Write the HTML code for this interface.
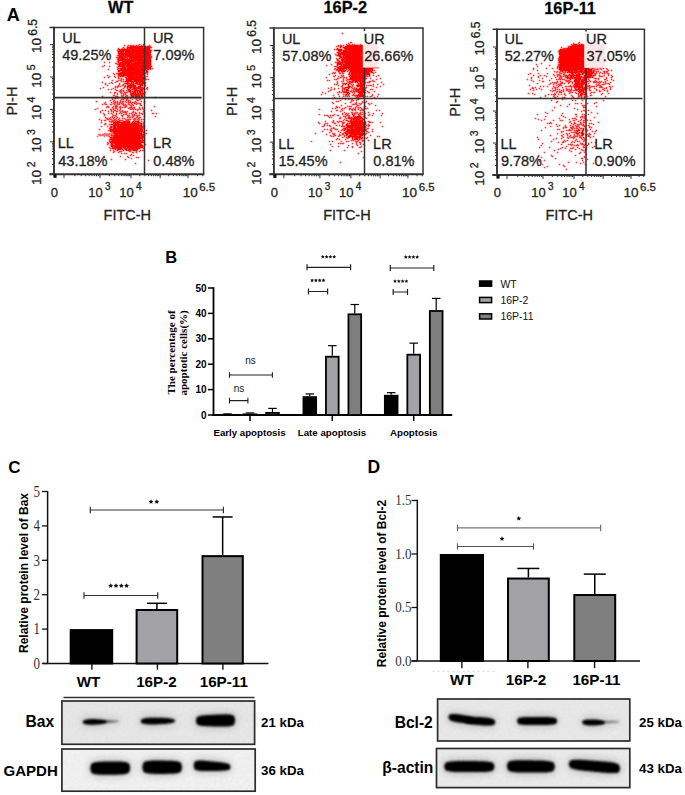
<!DOCTYPE html>
<html><head><meta charset="utf-8"><style>
html,body{margin:0;padding:0;background:#fff;width:685px;height:795px;overflow:hidden}
svg{display:block}
</style></head><body>
<svg width="685" height="795" viewBox="0 0 685 795" font-family="'Liberation Sans', sans-serif">
<defs><filter id="bl" x="-20%" y="-50%" width="140%" height="200%"><feGaussianBlur stdDeviation="1.25"/></filter><filter id="halo" x="-30%" y="-100%" width="160%" height="300%"><feGaussianBlur stdDeviation="5"/></filter><filter id="grain" x="0" y="0" width="100%" height="100%"><feTurbulence type="fractalNoise" baseFrequency="0.35" numOctaves="2" seed="3"/><feColorMatrix values="0 0 0 0 0.5  0 0 0 0 0.5  0 0 0 0 0.5  0 0 0 0.18 0"/><feComposite in2="SourceGraphic" operator="in"/></filter></defs><path d="M129.7 45.7h1.6v1.6h-1.6zM130.7 45.7h1.6v1.6h-1.6zM131.7 45.7h1.6v1.6h-1.6zM132.7 45.7h1.6v1.6h-1.6zM133.7 45.7h1.6v1.6h-1.6zM134.7 45.7h1.6v1.6h-1.6zM135.7 45.7h1.6v1.6h-1.6zM136.7 45.7h1.6v1.6h-1.6zM138.7 45.7h1.6v1.6h-1.6zM139.7 45.7h1.6v1.6h-1.6zM140.7 45.7h1.6v1.6h-1.6zM141.7 45.7h1.6v1.6h-1.6zM142.7 45.7h1.6v1.6h-1.6zM143.7 45.7h1.6v1.6h-1.6zM144.7 45.7h1.6v1.6h-1.6zM146.7 45.7h1.6v1.6h-1.6zM147.7 45.7h1.6v1.6h-1.6zM148.7 45.7h1.6v1.6h-1.6zM126.7 46.7h1.6v1.6h-1.6zM127.7 46.7h1.6v1.6h-1.6zM128.7 46.7h1.6v1.6h-1.6zM129.7 46.7h1.6v1.6h-1.6zM130.7 46.7h1.6v1.6h-1.6zM131.7 46.7h1.6v1.6h-1.6zM132.7 46.7h1.6v1.6h-1.6zM133.7 46.7h1.6v1.6h-1.6zM134.7 46.7h1.6v1.6h-1.6zM135.7 46.7h1.6v1.6h-1.6zM136.7 46.7h1.6v1.6h-1.6zM137.7 46.7h1.6v1.6h-1.6zM138.7 46.7h1.6v1.6h-1.6zM139.7 46.7h1.6v1.6h-1.6zM140.7 46.7h1.6v1.6h-1.6zM141.7 46.7h1.6v1.6h-1.6zM144.7 46.7h1.6v1.6h-1.6zM145.7 46.7h1.6v1.6h-1.6zM146.7 46.7h1.6v1.6h-1.6zM147.7 46.7h1.6v1.6h-1.6zM148.7 46.7h1.6v1.6h-1.6zM149.7 46.7h1.6v1.6h-1.6zM126.7 47.7h1.6v1.6h-1.6zM128.7 47.7h1.6v1.6h-1.6zM129.7 47.7h1.6v1.6h-1.6zM130.7 47.7h1.6v1.6h-1.6zM131.7 47.7h1.6v1.6h-1.6zM132.7 47.7h1.6v1.6h-1.6zM134.7 47.7h1.6v1.6h-1.6zM135.7 47.7h1.6v1.6h-1.6zM136.7 47.7h1.6v1.6h-1.6zM137.7 47.7h1.6v1.6h-1.6zM138.7 47.7h1.6v1.6h-1.6zM139.7 47.7h1.6v1.6h-1.6zM140.7 47.7h1.6v1.6h-1.6zM141.7 47.7h1.6v1.6h-1.6zM142.7 47.7h1.6v1.6h-1.6zM143.7 47.7h1.6v1.6h-1.6zM144.7 47.7h1.6v1.6h-1.6zM145.7 47.7h1.6v1.6h-1.6zM146.7 47.7h1.6v1.6h-1.6zM147.7 47.7h1.6v1.6h-1.6zM148.7 47.7h1.6v1.6h-1.6zM117.7 48.7h1.6v1.6h-1.6zM118.7 48.7h1.6v1.6h-1.6zM120.7 48.7h1.6v1.6h-1.6zM121.7 48.7h1.6v1.6h-1.6zM122.7 48.7h1.6v1.6h-1.6zM123.7 48.7h1.6v1.6h-1.6zM124.7 48.7h1.6v1.6h-1.6zM125.7 48.7h1.6v1.6h-1.6zM126.7 48.7h1.6v1.6h-1.6zM127.7 48.7h1.6v1.6h-1.6zM128.7 48.7h1.6v1.6h-1.6zM130.7 48.7h1.6v1.6h-1.6zM131.7 48.7h1.6v1.6h-1.6zM132.7 48.7h1.6v1.6h-1.6zM133.7 48.7h1.6v1.6h-1.6zM134.7 48.7h1.6v1.6h-1.6zM135.7 48.7h1.6v1.6h-1.6zM137.7 48.7h1.6v1.6h-1.6zM138.7 48.7h1.6v1.6h-1.6zM139.7 48.7h1.6v1.6h-1.6zM140.7 48.7h1.6v1.6h-1.6zM141.7 48.7h1.6v1.6h-1.6zM142.7 48.7h1.6v1.6h-1.6zM143.7 48.7h1.6v1.6h-1.6zM144.7 48.7h1.6v1.6h-1.6zM145.7 48.7h1.6v1.6h-1.6zM146.7 48.7h1.6v1.6h-1.6zM147.7 48.7h1.6v1.6h-1.6zM148.7 48.7h1.6v1.6h-1.6zM118.7 49.7h1.6v1.6h-1.6zM119.7 49.7h1.6v1.6h-1.6zM120.7 49.7h1.6v1.6h-1.6zM121.7 49.7h1.6v1.6h-1.6zM122.7 49.7h1.6v1.6h-1.6zM123.7 49.7h1.6v1.6h-1.6zM124.7 49.7h1.6v1.6h-1.6zM125.7 49.7h1.6v1.6h-1.6zM126.7 49.7h1.6v1.6h-1.6zM127.7 49.7h1.6v1.6h-1.6zM128.7 49.7h1.6v1.6h-1.6zM129.7 49.7h1.6v1.6h-1.6zM130.7 49.7h1.6v1.6h-1.6zM131.7 49.7h1.6v1.6h-1.6zM132.7 49.7h1.6v1.6h-1.6zM133.7 49.7h1.6v1.6h-1.6zM134.7 49.7h1.6v1.6h-1.6zM135.7 49.7h1.6v1.6h-1.6zM136.7 49.7h1.6v1.6h-1.6zM137.7 49.7h1.6v1.6h-1.6zM138.7 49.7h1.6v1.6h-1.6zM139.7 49.7h1.6v1.6h-1.6zM140.7 49.7h1.6v1.6h-1.6zM141.7 49.7h1.6v1.6h-1.6zM142.7 49.7h1.6v1.6h-1.6zM143.7 49.7h1.6v1.6h-1.6zM144.7 49.7h1.6v1.6h-1.6zM145.7 49.7h1.6v1.6h-1.6zM146.7 49.7h1.6v1.6h-1.6zM147.7 49.7h1.6v1.6h-1.6zM148.7 49.7h1.6v1.6h-1.6zM149.7 49.7h1.6v1.6h-1.6zM117.7 50.7h1.6v1.6h-1.6zM118.7 50.7h1.6v1.6h-1.6zM119.7 50.7h1.6v1.6h-1.6zM120.7 50.7h1.6v1.6h-1.6zM121.7 50.7h1.6v1.6h-1.6zM122.7 50.7h1.6v1.6h-1.6zM124.7 50.7h1.6v1.6h-1.6zM125.7 50.7h1.6v1.6h-1.6zM126.7 50.7h1.6v1.6h-1.6zM127.7 50.7h1.6v1.6h-1.6zM128.7 50.7h1.6v1.6h-1.6zM129.7 50.7h1.6v1.6h-1.6zM130.7 50.7h1.6v1.6h-1.6zM131.7 50.7h1.6v1.6h-1.6zM132.7 50.7h1.6v1.6h-1.6zM133.7 50.7h1.6v1.6h-1.6zM134.7 50.7h1.6v1.6h-1.6zM135.7 50.7h1.6v1.6h-1.6zM136.7 50.7h1.6v1.6h-1.6zM137.7 50.7h1.6v1.6h-1.6zM138.7 50.7h1.6v1.6h-1.6zM139.7 50.7h1.6v1.6h-1.6zM140.7 50.7h1.6v1.6h-1.6zM141.7 50.7h1.6v1.6h-1.6zM142.7 50.7h1.6v1.6h-1.6zM143.7 50.7h1.6v1.6h-1.6zM144.7 50.7h1.6v1.6h-1.6zM145.7 50.7h1.6v1.6h-1.6zM146.7 50.7h1.6v1.6h-1.6zM147.7 50.7h1.6v1.6h-1.6zM148.7 50.7h1.6v1.6h-1.6zM149.7 50.7h1.6v1.6h-1.6zM117.7 51.7h1.6v1.6h-1.6zM119.7 51.7h1.6v1.6h-1.6zM120.7 51.7h1.6v1.6h-1.6zM122.7 51.7h1.6v1.6h-1.6zM124.7 51.7h1.6v1.6h-1.6zM125.7 51.7h1.6v1.6h-1.6zM126.7 51.7h1.6v1.6h-1.6zM127.7 51.7h1.6v1.6h-1.6zM128.7 51.7h1.6v1.6h-1.6zM129.7 51.7h1.6v1.6h-1.6zM130.7 51.7h1.6v1.6h-1.6zM131.7 51.7h1.6v1.6h-1.6zM132.7 51.7h1.6v1.6h-1.6zM133.7 51.7h1.6v1.6h-1.6zM134.7 51.7h1.6v1.6h-1.6zM135.7 51.7h1.6v1.6h-1.6zM136.7 51.7h1.6v1.6h-1.6zM137.7 51.7h1.6v1.6h-1.6zM138.7 51.7h1.6v1.6h-1.6zM139.7 51.7h1.6v1.6h-1.6zM140.7 51.7h1.6v1.6h-1.6zM141.7 51.7h1.6v1.6h-1.6zM142.7 51.7h1.6v1.6h-1.6zM143.7 51.7h1.6v1.6h-1.6zM144.7 51.7h1.6v1.6h-1.6zM145.7 51.7h1.6v1.6h-1.6zM146.7 51.7h1.6v1.6h-1.6zM147.7 51.7h1.6v1.6h-1.6zM148.7 51.7h1.6v1.6h-1.6zM149.7 51.7h1.6v1.6h-1.6zM117.7 52.7h1.6v1.6h-1.6zM118.7 52.7h1.6v1.6h-1.6zM119.7 52.7h1.6v1.6h-1.6zM120.7 52.7h1.6v1.6h-1.6zM121.7 52.7h1.6v1.6h-1.6zM122.7 52.7h1.6v1.6h-1.6zM123.7 52.7h1.6v1.6h-1.6zM124.7 52.7h1.6v1.6h-1.6zM125.7 52.7h1.6v1.6h-1.6zM126.7 52.7h1.6v1.6h-1.6zM127.7 52.7h1.6v1.6h-1.6zM128.7 52.7h1.6v1.6h-1.6zM129.7 52.7h1.6v1.6h-1.6zM130.7 52.7h1.6v1.6h-1.6zM131.7 52.7h1.6v1.6h-1.6zM132.7 52.7h1.6v1.6h-1.6zM134.7 52.7h1.6v1.6h-1.6zM135.7 52.7h1.6v1.6h-1.6zM136.7 52.7h1.6v1.6h-1.6zM137.7 52.7h1.6v1.6h-1.6zM138.7 52.7h1.6v1.6h-1.6zM139.7 52.7h1.6v1.6h-1.6zM140.7 52.7h1.6v1.6h-1.6zM141.7 52.7h1.6v1.6h-1.6zM142.7 52.7h1.6v1.6h-1.6zM143.7 52.7h1.6v1.6h-1.6zM144.7 52.7h1.6v1.6h-1.6zM145.7 52.7h1.6v1.6h-1.6zM146.7 52.7h1.6v1.6h-1.6zM147.7 52.7h1.6v1.6h-1.6zM148.7 52.7h1.6v1.6h-1.6zM118.7 53.7h1.6v1.6h-1.6zM120.7 53.7h1.6v1.6h-1.6zM121.7 53.7h1.6v1.6h-1.6zM122.7 53.7h1.6v1.6h-1.6zM123.7 53.7h1.6v1.6h-1.6zM124.7 53.7h1.6v1.6h-1.6zM125.7 53.7h1.6v1.6h-1.6zM126.7 53.7h1.6v1.6h-1.6zM127.7 53.7h1.6v1.6h-1.6zM128.7 53.7h1.6v1.6h-1.6zM129.7 53.7h1.6v1.6h-1.6zM130.7 53.7h1.6v1.6h-1.6zM131.7 53.7h1.6v1.6h-1.6zM132.7 53.7h1.6v1.6h-1.6zM133.7 53.7h1.6v1.6h-1.6zM134.7 53.7h1.6v1.6h-1.6zM135.7 53.7h1.6v1.6h-1.6zM136.7 53.7h1.6v1.6h-1.6zM137.7 53.7h1.6v1.6h-1.6zM138.7 53.7h1.6v1.6h-1.6zM139.7 53.7h1.6v1.6h-1.6zM140.7 53.7h1.6v1.6h-1.6zM141.7 53.7h1.6v1.6h-1.6zM143.7 53.7h1.6v1.6h-1.6zM144.7 53.7h1.6v1.6h-1.6zM145.7 53.7h1.6v1.6h-1.6zM146.7 53.7h1.6v1.6h-1.6zM147.7 53.7h1.6v1.6h-1.6zM148.7 53.7h1.6v1.6h-1.6zM149.7 53.7h1.6v1.6h-1.6zM117.7 54.7h1.6v1.6h-1.6zM118.7 54.7h1.6v1.6h-1.6zM119.7 54.7h1.6v1.6h-1.6zM120.7 54.7h1.6v1.6h-1.6zM121.7 54.7h1.6v1.6h-1.6zM122.7 54.7h1.6v1.6h-1.6zM124.7 54.7h1.6v1.6h-1.6zM125.7 54.7h1.6v1.6h-1.6zM126.7 54.7h1.6v1.6h-1.6zM127.7 54.7h1.6v1.6h-1.6zM128.7 54.7h1.6v1.6h-1.6zM129.7 54.7h1.6v1.6h-1.6zM130.7 54.7h1.6v1.6h-1.6zM131.7 54.7h1.6v1.6h-1.6zM132.7 54.7h1.6v1.6h-1.6zM133.7 54.7h1.6v1.6h-1.6zM134.7 54.7h1.6v1.6h-1.6zM135.7 54.7h1.6v1.6h-1.6zM136.7 54.7h1.6v1.6h-1.6zM137.7 54.7h1.6v1.6h-1.6zM138.7 54.7h1.6v1.6h-1.6zM139.7 54.7h1.6v1.6h-1.6zM140.7 54.7h1.6v1.6h-1.6zM141.7 54.7h1.6v1.6h-1.6zM142.7 54.7h1.6v1.6h-1.6zM144.7 54.7h1.6v1.6h-1.6zM145.7 54.7h1.6v1.6h-1.6zM146.7 54.7h1.6v1.6h-1.6zM147.7 54.7h1.6v1.6h-1.6zM148.7 54.7h1.6v1.6h-1.6zM149.7 54.7h1.6v1.6h-1.6zM118.7 55.7h1.6v1.6h-1.6zM119.7 55.7h1.6v1.6h-1.6zM120.7 55.7h1.6v1.6h-1.6zM121.7 55.7h1.6v1.6h-1.6zM123.7 55.7h1.6v1.6h-1.6zM124.7 55.7h1.6v1.6h-1.6zM126.7 55.7h1.6v1.6h-1.6zM127.7 55.7h1.6v1.6h-1.6zM128.7 55.7h1.6v1.6h-1.6zM129.7 55.7h1.6v1.6h-1.6zM130.7 55.7h1.6v1.6h-1.6zM131.7 55.7h1.6v1.6h-1.6zM132.7 55.7h1.6v1.6h-1.6zM133.7 55.7h1.6v1.6h-1.6zM134.7 55.7h1.6v1.6h-1.6zM135.7 55.7h1.6v1.6h-1.6zM136.7 55.7h1.6v1.6h-1.6zM137.7 55.7h1.6v1.6h-1.6zM138.7 55.7h1.6v1.6h-1.6zM139.7 55.7h1.6v1.6h-1.6zM140.7 55.7h1.6v1.6h-1.6zM141.7 55.7h1.6v1.6h-1.6zM142.7 55.7h1.6v1.6h-1.6zM144.7 55.7h1.6v1.6h-1.6zM145.7 55.7h1.6v1.6h-1.6zM146.7 55.7h1.6v1.6h-1.6zM147.7 55.7h1.6v1.6h-1.6zM148.7 55.7h1.6v1.6h-1.6zM149.7 55.7h1.6v1.6h-1.6zM117.7 56.7h1.6v1.6h-1.6zM118.7 56.7h1.6v1.6h-1.6zM119.7 56.7h1.6v1.6h-1.6zM120.7 56.7h1.6v1.6h-1.6zM121.7 56.7h1.6v1.6h-1.6zM122.7 56.7h1.6v1.6h-1.6zM124.7 56.7h1.6v1.6h-1.6zM125.7 56.7h1.6v1.6h-1.6zM128.7 56.7h1.6v1.6h-1.6zM129.7 56.7h1.6v1.6h-1.6zM130.7 56.7h1.6v1.6h-1.6zM131.7 56.7h1.6v1.6h-1.6zM132.7 56.7h1.6v1.6h-1.6zM133.7 56.7h1.6v1.6h-1.6zM134.7 56.7h1.6v1.6h-1.6zM135.7 56.7h1.6v1.6h-1.6zM136.7 56.7h1.6v1.6h-1.6zM137.7 56.7h1.6v1.6h-1.6zM138.7 56.7h1.6v1.6h-1.6zM139.7 56.7h1.6v1.6h-1.6zM140.7 56.7h1.6v1.6h-1.6zM141.7 56.7h1.6v1.6h-1.6zM142.7 56.7h1.6v1.6h-1.6zM143.7 56.7h1.6v1.6h-1.6zM144.7 56.7h1.6v1.6h-1.6zM145.7 56.7h1.6v1.6h-1.6zM146.7 56.7h1.6v1.6h-1.6zM147.7 56.7h1.6v1.6h-1.6zM148.7 56.7h1.6v1.6h-1.6zM149.7 56.7h1.6v1.6h-1.6zM117.7 57.7h1.6v1.6h-1.6zM118.7 57.7h1.6v1.6h-1.6zM119.7 57.7h1.6v1.6h-1.6zM121.7 57.7h1.6v1.6h-1.6zM122.7 57.7h1.6v1.6h-1.6zM123.7 57.7h1.6v1.6h-1.6zM126.7 57.7h1.6v1.6h-1.6zM128.7 57.7h1.6v1.6h-1.6zM129.7 57.7h1.6v1.6h-1.6zM130.7 57.7h1.6v1.6h-1.6zM131.7 57.7h1.6v1.6h-1.6zM132.7 57.7h1.6v1.6h-1.6zM133.7 57.7h1.6v1.6h-1.6zM134.7 57.7h1.6v1.6h-1.6zM135.7 57.7h1.6v1.6h-1.6zM136.7 57.7h1.6v1.6h-1.6zM137.7 57.7h1.6v1.6h-1.6zM138.7 57.7h1.6v1.6h-1.6zM139.7 57.7h1.6v1.6h-1.6zM140.7 57.7h1.6v1.6h-1.6zM141.7 57.7h1.6v1.6h-1.6zM143.7 57.7h1.6v1.6h-1.6zM144.7 57.7h1.6v1.6h-1.6zM145.7 57.7h1.6v1.6h-1.6zM146.7 57.7h1.6v1.6h-1.6zM147.7 57.7h1.6v1.6h-1.6zM148.7 57.7h1.6v1.6h-1.6zM149.7 57.7h1.6v1.6h-1.6zM117.7 58.7h1.6v1.6h-1.6zM119.7 58.7h1.6v1.6h-1.6zM120.7 58.7h1.6v1.6h-1.6zM121.7 58.7h1.6v1.6h-1.6zM122.7 58.7h1.6v1.6h-1.6zM123.7 58.7h1.6v1.6h-1.6zM124.7 58.7h1.6v1.6h-1.6zM125.7 58.7h1.6v1.6h-1.6zM126.7 58.7h1.6v1.6h-1.6zM127.7 58.7h1.6v1.6h-1.6zM128.7 58.7h1.6v1.6h-1.6zM130.7 58.7h1.6v1.6h-1.6zM131.7 58.7h1.6v1.6h-1.6zM132.7 58.7h1.6v1.6h-1.6zM133.7 58.7h1.6v1.6h-1.6zM134.7 58.7h1.6v1.6h-1.6zM135.7 58.7h1.6v1.6h-1.6zM136.7 58.7h1.6v1.6h-1.6zM137.7 58.7h1.6v1.6h-1.6zM138.7 58.7h1.6v1.6h-1.6zM139.7 58.7h1.6v1.6h-1.6zM140.7 58.7h1.6v1.6h-1.6zM141.7 58.7h1.6v1.6h-1.6zM142.7 58.7h1.6v1.6h-1.6zM143.7 58.7h1.6v1.6h-1.6zM144.7 58.7h1.6v1.6h-1.6zM145.7 58.7h1.6v1.6h-1.6zM146.7 58.7h1.6v1.6h-1.6zM147.7 58.7h1.6v1.6h-1.6zM148.7 58.7h1.6v1.6h-1.6zM149.7 58.7h1.6v1.6h-1.6zM117.7 59.7h1.6v1.6h-1.6zM118.7 59.7h1.6v1.6h-1.6zM119.7 59.7h1.6v1.6h-1.6zM120.7 59.7h1.6v1.6h-1.6zM121.7 59.7h1.6v1.6h-1.6zM122.7 59.7h1.6v1.6h-1.6zM123.7 59.7h1.6v1.6h-1.6zM124.7 59.7h1.6v1.6h-1.6zM126.7 59.7h1.6v1.6h-1.6zM127.7 59.7h1.6v1.6h-1.6zM128.7 59.7h1.6v1.6h-1.6zM129.7 59.7h1.6v1.6h-1.6zM130.7 59.7h1.6v1.6h-1.6zM131.7 59.7h1.6v1.6h-1.6zM132.7 59.7h1.6v1.6h-1.6zM133.7 59.7h1.6v1.6h-1.6zM134.7 59.7h1.6v1.6h-1.6zM135.7 59.7h1.6v1.6h-1.6zM136.7 59.7h1.6v1.6h-1.6zM137.7 59.7h1.6v1.6h-1.6zM138.7 59.7h1.6v1.6h-1.6zM139.7 59.7h1.6v1.6h-1.6zM140.7 59.7h1.6v1.6h-1.6zM141.7 59.7h1.6v1.6h-1.6zM142.7 59.7h1.6v1.6h-1.6zM144.7 59.7h1.6v1.6h-1.6zM145.7 59.7h1.6v1.6h-1.6zM146.7 59.7h1.6v1.6h-1.6zM147.7 59.7h1.6v1.6h-1.6zM148.7 59.7h1.6v1.6h-1.6zM149.7 59.7h1.6v1.6h-1.6zM117.7 60.7h1.6v1.6h-1.6zM121.7 60.7h1.6v1.6h-1.6zM122.7 60.7h1.6v1.6h-1.6zM123.7 60.7h1.6v1.6h-1.6zM124.7 60.7h1.6v1.6h-1.6zM125.7 60.7h1.6v1.6h-1.6zM126.7 60.7h1.6v1.6h-1.6zM127.7 60.7h1.6v1.6h-1.6zM128.7 60.7h1.6v1.6h-1.6zM129.7 60.7h1.6v1.6h-1.6zM130.7 60.7h1.6v1.6h-1.6zM131.7 60.7h1.6v1.6h-1.6zM132.7 60.7h1.6v1.6h-1.6zM133.7 60.7h1.6v1.6h-1.6zM134.7 60.7h1.6v1.6h-1.6zM136.7 60.7h1.6v1.6h-1.6zM137.7 60.7h1.6v1.6h-1.6zM138.7 60.7h1.6v1.6h-1.6zM139.7 60.7h1.6v1.6h-1.6zM140.7 60.7h1.6v1.6h-1.6zM141.7 60.7h1.6v1.6h-1.6zM142.7 60.7h1.6v1.6h-1.6zM143.7 60.7h1.6v1.6h-1.6zM144.7 60.7h1.6v1.6h-1.6zM145.7 60.7h1.6v1.6h-1.6zM146.7 60.7h1.6v1.6h-1.6zM147.7 60.7h1.6v1.6h-1.6zM148.7 60.7h1.6v1.6h-1.6zM149.7 60.7h1.6v1.6h-1.6zM117.7 61.7h1.6v1.6h-1.6zM119.7 61.7h1.6v1.6h-1.6zM120.7 61.7h1.6v1.6h-1.6zM121.7 61.7h1.6v1.6h-1.6zM122.7 61.7h1.6v1.6h-1.6zM124.7 61.7h1.6v1.6h-1.6zM125.7 61.7h1.6v1.6h-1.6zM126.7 61.7h1.6v1.6h-1.6zM127.7 61.7h1.6v1.6h-1.6zM128.7 61.7h1.6v1.6h-1.6zM129.7 61.7h1.6v1.6h-1.6zM130.7 61.7h1.6v1.6h-1.6zM133.7 61.7h1.6v1.6h-1.6zM134.7 61.7h1.6v1.6h-1.6zM135.7 61.7h1.6v1.6h-1.6zM136.7 61.7h1.6v1.6h-1.6zM137.7 61.7h1.6v1.6h-1.6zM138.7 61.7h1.6v1.6h-1.6zM139.7 61.7h1.6v1.6h-1.6zM140.7 61.7h1.6v1.6h-1.6zM141.7 61.7h1.6v1.6h-1.6zM142.7 61.7h1.6v1.6h-1.6zM143.7 61.7h1.6v1.6h-1.6zM144.7 61.7h1.6v1.6h-1.6zM145.7 61.7h1.6v1.6h-1.6zM146.7 61.7h1.6v1.6h-1.6zM147.7 61.7h1.6v1.6h-1.6zM148.7 61.7h1.6v1.6h-1.6zM149.7 61.7h1.6v1.6h-1.6zM118.7 62.7h1.6v1.6h-1.6zM119.7 62.7h1.6v1.6h-1.6zM121.7 62.7h1.6v1.6h-1.6zM122.7 62.7h1.6v1.6h-1.6zM123.7 62.7h1.6v1.6h-1.6zM124.7 62.7h1.6v1.6h-1.6zM125.7 62.7h1.6v1.6h-1.6zM126.7 62.7h1.6v1.6h-1.6zM127.7 62.7h1.6v1.6h-1.6zM128.7 62.7h1.6v1.6h-1.6zM130.7 62.7h1.6v1.6h-1.6zM131.7 62.7h1.6v1.6h-1.6zM132.7 62.7h1.6v1.6h-1.6zM133.7 62.7h1.6v1.6h-1.6zM134.7 62.7h1.6v1.6h-1.6zM135.7 62.7h1.6v1.6h-1.6zM136.7 62.7h1.6v1.6h-1.6zM137.7 62.7h1.6v1.6h-1.6zM138.7 62.7h1.6v1.6h-1.6zM139.7 62.7h1.6v1.6h-1.6zM140.7 62.7h1.6v1.6h-1.6zM141.7 62.7h1.6v1.6h-1.6zM142.7 62.7h1.6v1.6h-1.6zM143.7 62.7h1.6v1.6h-1.6zM144.7 62.7h1.6v1.6h-1.6zM145.7 62.7h1.6v1.6h-1.6zM146.7 62.7h1.6v1.6h-1.6zM147.7 62.7h1.6v1.6h-1.6zM148.7 62.7h1.6v1.6h-1.6zM149.7 62.7h1.6v1.6h-1.6zM117.7 63.7h1.6v1.6h-1.6zM118.7 63.7h1.6v1.6h-1.6zM119.7 63.7h1.6v1.6h-1.6zM120.7 63.7h1.6v1.6h-1.6zM121.7 63.7h1.6v1.6h-1.6zM122.7 63.7h1.6v1.6h-1.6zM123.7 63.7h1.6v1.6h-1.6zM124.7 63.7h1.6v1.6h-1.6zM126.7 63.7h1.6v1.6h-1.6zM127.7 63.7h1.6v1.6h-1.6zM128.7 63.7h1.6v1.6h-1.6zM129.7 63.7h1.6v1.6h-1.6zM130.7 63.7h1.6v1.6h-1.6zM131.7 63.7h1.6v1.6h-1.6zM132.7 63.7h1.6v1.6h-1.6zM133.7 63.7h1.6v1.6h-1.6zM134.7 63.7h1.6v1.6h-1.6zM135.7 63.7h1.6v1.6h-1.6zM136.7 63.7h1.6v1.6h-1.6zM137.7 63.7h1.6v1.6h-1.6zM138.7 63.7h1.6v1.6h-1.6zM140.7 63.7h1.6v1.6h-1.6zM141.7 63.7h1.6v1.6h-1.6zM142.7 63.7h1.6v1.6h-1.6zM143.7 63.7h1.6v1.6h-1.6zM144.7 63.7h1.6v1.6h-1.6zM145.7 63.7h1.6v1.6h-1.6zM146.7 63.7h1.6v1.6h-1.6zM147.7 63.7h1.6v1.6h-1.6zM148.7 63.7h1.6v1.6h-1.6zM149.7 63.7h1.6v1.6h-1.6zM118.7 64.7h1.6v1.6h-1.6zM120.7 64.7h1.6v1.6h-1.6zM121.7 64.7h1.6v1.6h-1.6zM122.7 64.7h1.6v1.6h-1.6zM123.7 64.7h1.6v1.6h-1.6zM125.7 64.7h1.6v1.6h-1.6zM126.7 64.7h1.6v1.6h-1.6zM127.7 64.7h1.6v1.6h-1.6zM128.7 64.7h1.6v1.6h-1.6zM129.7 64.7h1.6v1.6h-1.6zM130.7 64.7h1.6v1.6h-1.6zM131.7 64.7h1.6v1.6h-1.6zM132.7 64.7h1.6v1.6h-1.6zM133.7 64.7h1.6v1.6h-1.6zM134.7 64.7h1.6v1.6h-1.6zM135.7 64.7h1.6v1.6h-1.6zM136.7 64.7h1.6v1.6h-1.6zM137.7 64.7h1.6v1.6h-1.6zM138.7 64.7h1.6v1.6h-1.6zM139.7 64.7h1.6v1.6h-1.6zM140.7 64.7h1.6v1.6h-1.6zM141.7 64.7h1.6v1.6h-1.6zM142.7 64.7h1.6v1.6h-1.6zM144.7 64.7h1.6v1.6h-1.6zM145.7 64.7h1.6v1.6h-1.6zM146.7 64.7h1.6v1.6h-1.6zM147.7 64.7h1.6v1.6h-1.6zM148.7 64.7h1.6v1.6h-1.6zM149.7 64.7h1.6v1.6h-1.6zM117.7 65.7h1.6v1.6h-1.6zM118.7 65.7h1.6v1.6h-1.6zM119.7 65.7h1.6v1.6h-1.6zM120.7 65.7h1.6v1.6h-1.6zM121.7 65.7h1.6v1.6h-1.6zM122.7 65.7h1.6v1.6h-1.6zM123.7 65.7h1.6v1.6h-1.6zM125.7 65.7h1.6v1.6h-1.6zM126.7 65.7h1.6v1.6h-1.6zM127.7 65.7h1.6v1.6h-1.6zM128.7 65.7h1.6v1.6h-1.6zM129.7 65.7h1.6v1.6h-1.6zM130.7 65.7h1.6v1.6h-1.6zM131.7 65.7h1.6v1.6h-1.6zM132.7 65.7h1.6v1.6h-1.6zM133.7 65.7h1.6v1.6h-1.6zM134.7 65.7h1.6v1.6h-1.6zM135.7 65.7h1.6v1.6h-1.6zM137.7 65.7h1.6v1.6h-1.6zM138.7 65.7h1.6v1.6h-1.6zM139.7 65.7h1.6v1.6h-1.6zM140.7 65.7h1.6v1.6h-1.6zM141.7 65.7h1.6v1.6h-1.6zM142.7 65.7h1.6v1.6h-1.6zM143.7 65.7h1.6v1.6h-1.6zM144.7 65.7h1.6v1.6h-1.6zM145.7 65.7h1.6v1.6h-1.6zM146.7 65.7h1.6v1.6h-1.6zM147.7 65.7h1.6v1.6h-1.6zM148.7 65.7h1.6v1.6h-1.6zM149.7 65.7h1.6v1.6h-1.6zM121.7 66.7h1.6v1.6h-1.6zM122.7 66.7h1.6v1.6h-1.6zM123.7 66.7h1.6v1.6h-1.6zM124.7 66.7h1.6v1.6h-1.6zM126.7 66.7h1.6v1.6h-1.6zM127.7 66.7h1.6v1.6h-1.6zM128.7 66.7h1.6v1.6h-1.6zM129.7 66.7h1.6v1.6h-1.6zM130.7 66.7h1.6v1.6h-1.6zM131.7 66.7h1.6v1.6h-1.6zM132.7 66.7h1.6v1.6h-1.6zM133.7 66.7h1.6v1.6h-1.6zM134.7 66.7h1.6v1.6h-1.6zM135.7 66.7h1.6v1.6h-1.6zM136.7 66.7h1.6v1.6h-1.6zM137.7 66.7h1.6v1.6h-1.6zM138.7 66.7h1.6v1.6h-1.6zM139.7 66.7h1.6v1.6h-1.6zM140.7 66.7h1.6v1.6h-1.6zM141.7 66.7h1.6v1.6h-1.6zM142.7 66.7h1.6v1.6h-1.6zM143.7 66.7h1.6v1.6h-1.6zM144.7 66.7h1.6v1.6h-1.6zM145.7 66.7h1.6v1.6h-1.6zM146.7 66.7h1.6v1.6h-1.6zM147.7 66.7h1.6v1.6h-1.6zM148.7 66.7h1.6v1.6h-1.6zM149.7 66.7h1.6v1.6h-1.6zM117.7 67.7h1.6v1.6h-1.6zM119.7 67.7h1.6v1.6h-1.6zM120.7 67.7h1.6v1.6h-1.6zM121.7 67.7h1.6v1.6h-1.6zM122.7 67.7h1.6v1.6h-1.6zM123.7 67.7h1.6v1.6h-1.6zM124.7 67.7h1.6v1.6h-1.6zM126.7 67.7h1.6v1.6h-1.6zM127.7 67.7h1.6v1.6h-1.6zM128.7 67.7h1.6v1.6h-1.6zM129.7 67.7h1.6v1.6h-1.6zM130.7 67.7h1.6v1.6h-1.6zM131.7 67.7h1.6v1.6h-1.6zM132.7 67.7h1.6v1.6h-1.6zM133.7 67.7h1.6v1.6h-1.6zM134.7 67.7h1.6v1.6h-1.6zM135.7 67.7h1.6v1.6h-1.6zM136.7 67.7h1.6v1.6h-1.6zM137.7 67.7h1.6v1.6h-1.6zM139.7 67.7h1.6v1.6h-1.6zM140.7 67.7h1.6v1.6h-1.6zM141.7 67.7h1.6v1.6h-1.6zM142.7 67.7h1.6v1.6h-1.6zM143.7 67.7h1.6v1.6h-1.6zM144.7 67.7h1.6v1.6h-1.6zM145.7 67.7h1.6v1.6h-1.6zM146.7 67.7h1.6v1.6h-1.6zM148.7 67.7h1.6v1.6h-1.6zM149.7 67.7h1.6v1.6h-1.6zM119.7 68.7h1.6v1.6h-1.6zM120.7 68.7h1.6v1.6h-1.6zM121.7 68.7h1.6v1.6h-1.6zM123.7 68.7h1.6v1.6h-1.6zM124.7 68.7h1.6v1.6h-1.6zM125.7 68.7h1.6v1.6h-1.6zM126.7 68.7h1.6v1.6h-1.6zM127.7 68.7h1.6v1.6h-1.6zM128.7 68.7h1.6v1.6h-1.6zM129.7 68.7h1.6v1.6h-1.6zM130.7 68.7h1.6v1.6h-1.6zM131.7 68.7h1.6v1.6h-1.6zM132.7 68.7h1.6v1.6h-1.6zM133.7 68.7h1.6v1.6h-1.6zM134.7 68.7h1.6v1.6h-1.6zM135.7 68.7h1.6v1.6h-1.6zM136.7 68.7h1.6v1.6h-1.6zM137.7 68.7h1.6v1.6h-1.6zM138.7 68.7h1.6v1.6h-1.6zM139.7 68.7h1.6v1.6h-1.6zM140.7 68.7h1.6v1.6h-1.6zM141.7 68.7h1.6v1.6h-1.6zM142.7 68.7h1.6v1.6h-1.6zM143.7 68.7h1.6v1.6h-1.6zM144.7 68.7h1.6v1.6h-1.6zM146.7 68.7h1.6v1.6h-1.6zM147.7 68.7h1.6v1.6h-1.6zM117.7 69.7h1.6v1.6h-1.6zM118.7 69.7h1.6v1.6h-1.6zM119.7 69.7h1.6v1.6h-1.6zM120.7 69.7h1.6v1.6h-1.6zM121.7 69.7h1.6v1.6h-1.6zM122.7 69.7h1.6v1.6h-1.6zM123.7 69.7h1.6v1.6h-1.6zM124.7 69.7h1.6v1.6h-1.6zM125.7 69.7h1.6v1.6h-1.6zM126.7 69.7h1.6v1.6h-1.6zM127.7 69.7h1.6v1.6h-1.6zM128.7 69.7h1.6v1.6h-1.6zM129.7 69.7h1.6v1.6h-1.6zM130.7 69.7h1.6v1.6h-1.6zM131.7 69.7h1.6v1.6h-1.6zM132.7 69.7h1.6v1.6h-1.6zM133.7 69.7h1.6v1.6h-1.6zM134.7 69.7h1.6v1.6h-1.6zM135.7 69.7h1.6v1.6h-1.6zM136.7 69.7h1.6v1.6h-1.6zM137.7 69.7h1.6v1.6h-1.6zM138.7 69.7h1.6v1.6h-1.6zM139.7 69.7h1.6v1.6h-1.6zM140.7 69.7h1.6v1.6h-1.6zM141.7 69.7h1.6v1.6h-1.6zM142.7 69.7h1.6v1.6h-1.6zM143.7 69.7h1.6v1.6h-1.6zM145.7 69.7h1.6v1.6h-1.6zM117.7 70.7h1.6v1.6h-1.6zM118.7 70.7h1.6v1.6h-1.6zM121.7 70.7h1.6v1.6h-1.6zM122.7 70.7h1.6v1.6h-1.6zM123.7 70.7h1.6v1.6h-1.6zM124.7 70.7h1.6v1.6h-1.6zM125.7 70.7h1.6v1.6h-1.6zM126.7 70.7h1.6v1.6h-1.6zM127.7 70.7h1.6v1.6h-1.6zM128.7 70.7h1.6v1.6h-1.6zM129.7 70.7h1.6v1.6h-1.6zM130.7 70.7h1.6v1.6h-1.6zM131.7 70.7h1.6v1.6h-1.6zM133.7 70.7h1.6v1.6h-1.6zM134.7 70.7h1.6v1.6h-1.6zM135.7 70.7h1.6v1.6h-1.6zM136.7 70.7h1.6v1.6h-1.6zM137.7 70.7h1.6v1.6h-1.6zM138.7 70.7h1.6v1.6h-1.6zM139.7 70.7h1.6v1.6h-1.6zM140.7 70.7h1.6v1.6h-1.6zM141.7 70.7h1.6v1.6h-1.6zM142.7 70.7h1.6v1.6h-1.6zM143.7 70.7h1.6v1.6h-1.6zM145.7 70.7h1.6v1.6h-1.6zM146.7 70.7h1.6v1.6h-1.6zM119.7 71.7h1.6v1.6h-1.6zM120.7 71.7h1.6v1.6h-1.6zM121.7 71.7h1.6v1.6h-1.6zM122.7 71.7h1.6v1.6h-1.6zM123.7 71.7h1.6v1.6h-1.6zM124.7 71.7h1.6v1.6h-1.6zM125.7 71.7h1.6v1.6h-1.6zM126.7 71.7h1.6v1.6h-1.6zM127.7 71.7h1.6v1.6h-1.6zM128.7 71.7h1.6v1.6h-1.6zM129.7 71.7h1.6v1.6h-1.6zM130.7 71.7h1.6v1.6h-1.6zM131.7 71.7h1.6v1.6h-1.6zM132.7 71.7h1.6v1.6h-1.6zM133.7 71.7h1.6v1.6h-1.6zM134.7 71.7h1.6v1.6h-1.6zM135.7 71.7h1.6v1.6h-1.6zM136.7 71.7h1.6v1.6h-1.6zM137.7 71.7h1.6v1.6h-1.6zM138.7 71.7h1.6v1.6h-1.6zM139.7 71.7h1.6v1.6h-1.6zM140.7 71.7h1.6v1.6h-1.6zM141.7 71.7h1.6v1.6h-1.6zM142.7 71.7h1.6v1.6h-1.6zM143.7 71.7h1.6v1.6h-1.6zM145.7 71.7h1.6v1.6h-1.6zM117.7 72.7h1.6v1.6h-1.6zM118.7 72.7h1.6v1.6h-1.6zM119.7 72.7h1.6v1.6h-1.6zM120.7 72.7h1.6v1.6h-1.6zM121.7 72.7h1.6v1.6h-1.6zM122.7 72.7h1.6v1.6h-1.6zM123.7 72.7h1.6v1.6h-1.6zM124.7 72.7h1.6v1.6h-1.6zM125.7 72.7h1.6v1.6h-1.6zM126.7 72.7h1.6v1.6h-1.6zM127.7 72.7h1.6v1.6h-1.6zM128.7 72.7h1.6v1.6h-1.6zM129.7 72.7h1.6v1.6h-1.6zM130.7 72.7h1.6v1.6h-1.6zM131.7 72.7h1.6v1.6h-1.6zM132.7 72.7h1.6v1.6h-1.6zM133.7 72.7h1.6v1.6h-1.6zM134.7 72.7h1.6v1.6h-1.6zM135.7 72.7h1.6v1.6h-1.6zM136.7 72.7h1.6v1.6h-1.6zM137.7 72.7h1.6v1.6h-1.6zM138.7 72.7h1.6v1.6h-1.6zM140.7 72.7h1.6v1.6h-1.6zM141.7 72.7h1.6v1.6h-1.6zM142.7 72.7h1.6v1.6h-1.6zM144.7 72.7h1.6v1.6h-1.6zM117.7 73.7h1.6v1.6h-1.6zM118.7 73.7h1.6v1.6h-1.6zM119.7 73.7h1.6v1.6h-1.6zM120.7 73.7h1.6v1.6h-1.6zM122.7 73.7h1.6v1.6h-1.6zM123.7 73.7h1.6v1.6h-1.6zM124.7 73.7h1.6v1.6h-1.6zM125.7 73.7h1.6v1.6h-1.6zM126.7 73.7h1.6v1.6h-1.6zM127.7 73.7h1.6v1.6h-1.6zM128.7 73.7h1.6v1.6h-1.6zM129.7 73.7h1.6v1.6h-1.6zM130.7 73.7h1.6v1.6h-1.6zM131.7 73.7h1.6v1.6h-1.6zM132.7 73.7h1.6v1.6h-1.6zM133.7 73.7h1.6v1.6h-1.6zM134.7 73.7h1.6v1.6h-1.6zM135.7 73.7h1.6v1.6h-1.6zM136.7 73.7h1.6v1.6h-1.6zM137.7 73.7h1.6v1.6h-1.6zM138.7 73.7h1.6v1.6h-1.6zM139.7 73.7h1.6v1.6h-1.6zM140.7 73.7h1.6v1.6h-1.6zM141.7 73.7h1.6v1.6h-1.6zM142.7 73.7h1.6v1.6h-1.6zM117.7 74.7h1.6v1.6h-1.6zM118.7 74.7h1.6v1.6h-1.6zM120.7 74.7h1.6v1.6h-1.6zM121.7 74.7h1.6v1.6h-1.6zM122.7 74.7h1.6v1.6h-1.6zM123.7 74.7h1.6v1.6h-1.6zM124.7 74.7h1.6v1.6h-1.6zM125.7 74.7h1.6v1.6h-1.6zM126.7 74.7h1.6v1.6h-1.6zM127.7 74.7h1.6v1.6h-1.6zM128.7 74.7h1.6v1.6h-1.6zM129.7 74.7h1.6v1.6h-1.6zM130.7 74.7h1.6v1.6h-1.6zM131.7 74.7h1.6v1.6h-1.6zM132.7 74.7h1.6v1.6h-1.6zM134.7 74.7h1.6v1.6h-1.6zM135.7 74.7h1.6v1.6h-1.6zM136.7 74.7h1.6v1.6h-1.6zM138.7 74.7h1.6v1.6h-1.6zM139.7 74.7h1.6v1.6h-1.6zM140.7 74.7h1.6v1.6h-1.6zM141.7 74.7h1.6v1.6h-1.6zM143.7 74.7h1.6v1.6h-1.6zM119.7 75.7h1.6v1.6h-1.6zM121.7 75.7h1.6v1.6h-1.6zM122.7 75.7h1.6v1.6h-1.6zM126.7 75.7h1.6v1.6h-1.6zM127.7 75.7h1.6v1.6h-1.6zM128.7 75.7h1.6v1.6h-1.6zM129.7 75.7h1.6v1.6h-1.6zM130.7 75.7h1.6v1.6h-1.6zM131.7 75.7h1.6v1.6h-1.6zM132.7 75.7h1.6v1.6h-1.6zM133.7 75.7h1.6v1.6h-1.6zM134.7 75.7h1.6v1.6h-1.6zM135.7 75.7h1.6v1.6h-1.6zM136.7 75.7h1.6v1.6h-1.6zM137.7 75.7h1.6v1.6h-1.6zM138.7 75.7h1.6v1.6h-1.6zM139.7 75.7h1.6v1.6h-1.6zM140.7 75.7h1.6v1.6h-1.6zM142.7 75.7h1.6v1.6h-1.6zM125.7 76.7h1.6v1.6h-1.6zM127.7 76.7h1.6v1.6h-1.6zM128.7 76.7h1.6v1.6h-1.6zM129.7 76.7h1.6v1.6h-1.6zM130.7 76.7h1.6v1.6h-1.6zM131.7 76.7h1.6v1.6h-1.6zM132.7 76.7h1.6v1.6h-1.6zM133.7 76.7h1.6v1.6h-1.6zM134.7 76.7h1.6v1.6h-1.6zM135.7 76.7h1.6v1.6h-1.6zM136.7 76.7h1.6v1.6h-1.6zM137.7 76.7h1.6v1.6h-1.6zM138.7 76.7h1.6v1.6h-1.6zM139.7 76.7h1.6v1.6h-1.6zM140.7 76.7h1.6v1.6h-1.6zM141.7 76.7h1.6v1.6h-1.6zM142.7 76.7h1.6v1.6h-1.6zM143.7 76.7h1.6v1.6h-1.6zM125.7 77.7h1.6v1.6h-1.6zM127.7 77.7h1.6v1.6h-1.6zM128.7 77.7h1.6v1.6h-1.6zM129.7 77.7h1.6v1.6h-1.6zM130.7 77.7h1.6v1.6h-1.6zM131.7 77.7h1.6v1.6h-1.6zM132.7 77.7h1.6v1.6h-1.6zM133.7 77.7h1.6v1.6h-1.6zM134.7 77.7h1.6v1.6h-1.6zM135.7 77.7h1.6v1.6h-1.6zM136.7 77.7h1.6v1.6h-1.6zM137.7 77.7h1.6v1.6h-1.6zM138.7 77.7h1.6v1.6h-1.6zM139.7 77.7h1.6v1.6h-1.6zM140.7 77.7h1.6v1.6h-1.6zM141.7 77.7h1.6v1.6h-1.6zM142.7 77.7h1.6v1.6h-1.6zM143.7 77.7h1.6v1.6h-1.6zM125.7 78.7h1.6v1.6h-1.6zM126.7 78.7h1.6v1.6h-1.6zM127.7 78.7h1.6v1.6h-1.6zM128.7 78.7h1.6v1.6h-1.6zM129.7 78.7h1.6v1.6h-1.6zM130.7 78.7h1.6v1.6h-1.6zM131.7 78.7h1.6v1.6h-1.6zM132.7 78.7h1.6v1.6h-1.6zM133.7 78.7h1.6v1.6h-1.6zM134.7 78.7h1.6v1.6h-1.6zM135.7 78.7h1.6v1.6h-1.6zM136.7 78.7h1.6v1.6h-1.6zM137.7 78.7h1.6v1.6h-1.6zM138.7 78.7h1.6v1.6h-1.6zM139.7 78.7h1.6v1.6h-1.6zM140.7 78.7h1.6v1.6h-1.6zM141.7 78.7h1.6v1.6h-1.6zM142.7 78.7h1.6v1.6h-1.6zM125.7 79.7h1.6v1.6h-1.6zM126.7 79.7h1.6v1.6h-1.6zM127.7 79.7h1.6v1.6h-1.6zM128.7 79.7h1.6v1.6h-1.6zM129.7 79.7h1.6v1.6h-1.6zM130.7 79.7h1.6v1.6h-1.6zM133.7 79.7h1.6v1.6h-1.6zM134.7 79.7h1.6v1.6h-1.6zM135.7 79.7h1.6v1.6h-1.6zM136.7 79.7h1.6v1.6h-1.6zM137.7 79.7h1.6v1.6h-1.6zM138.7 79.7h1.6v1.6h-1.6zM139.7 79.7h1.6v1.6h-1.6zM140.7 79.7h1.6v1.6h-1.6zM141.7 79.7h1.6v1.6h-1.6zM143.7 79.7h1.6v1.6h-1.6zM124.7 80.7h1.6v1.6h-1.6zM125.7 80.7h1.6v1.6h-1.6zM126.7 80.7h1.6v1.6h-1.6zM127.7 80.7h1.6v1.6h-1.6zM128.7 80.7h1.6v1.6h-1.6zM129.7 80.7h1.6v1.6h-1.6zM130.7 80.7h1.6v1.6h-1.6zM131.7 80.7h1.6v1.6h-1.6zM132.7 80.7h1.6v1.6h-1.6zM133.7 80.7h1.6v1.6h-1.6zM134.7 80.7h1.6v1.6h-1.6zM135.7 80.7h1.6v1.6h-1.6zM136.7 80.7h1.6v1.6h-1.6zM137.7 80.7h1.6v1.6h-1.6zM138.7 80.7h1.6v1.6h-1.6zM139.7 80.7h1.6v1.6h-1.6zM140.7 80.7h1.6v1.6h-1.6zM141.7 80.7h1.6v1.6h-1.6zM142.7 80.7h1.6v1.6h-1.6zM126.7 81.7h1.6v1.6h-1.6zM130.7 81.7h1.6v1.6h-1.6zM132.7 81.7h1.6v1.6h-1.6zM135.7 81.7h1.6v1.6h-1.6zM136.7 81.7h1.6v1.6h-1.6zM138.7 81.7h1.6v1.6h-1.6zM139.7 81.7h1.6v1.6h-1.6zM141.7 81.7h1.6v1.6h-1.6zM142.7 81.7h1.6v1.6h-1.6zM124.7 82.7h1.6v1.6h-1.6zM125.7 82.7h1.6v1.6h-1.6zM126.7 82.7h1.6v1.6h-1.6zM127.7 82.7h1.6v1.6h-1.6zM128.7 82.7h1.6v1.6h-1.6zM130.7 82.7h1.6v1.6h-1.6zM132.7 82.7h1.6v1.6h-1.6zM134.7 82.7h1.6v1.6h-1.6zM135.7 82.7h1.6v1.6h-1.6zM136.7 82.7h1.6v1.6h-1.6zM138.7 82.7h1.6v1.6h-1.6zM140.7 82.7h1.6v1.6h-1.6zM141.7 82.7h1.6v1.6h-1.6zM142.7 82.7h1.6v1.6h-1.6zM126.7 83.7h1.6v1.6h-1.6zM129.7 83.7h1.6v1.6h-1.6zM131.7 83.7h1.6v1.6h-1.6zM132.7 83.7h1.6v1.6h-1.6zM136.7 83.7h1.6v1.6h-1.6zM137.7 83.7h1.6v1.6h-1.6zM138.7 83.7h1.6v1.6h-1.6zM139.7 83.7h1.6v1.6h-1.6zM140.7 83.7h1.6v1.6h-1.6zM141.7 83.7h1.6v1.6h-1.6zM127.7 84.7h1.6v1.6h-1.6zM128.7 84.7h1.6v1.6h-1.6zM129.7 84.7h1.6v1.6h-1.6zM130.7 84.7h1.6v1.6h-1.6zM132.7 84.7h1.6v1.6h-1.6zM133.7 84.7h1.6v1.6h-1.6zM134.7 84.7h1.6v1.6h-1.6zM139.7 84.7h1.6v1.6h-1.6zM140.7 84.7h1.6v1.6h-1.6zM141.7 84.7h1.6v1.6h-1.6zM126.7 85.7h1.6v1.6h-1.6zM127.7 85.7h1.6v1.6h-1.6zM128.7 85.7h1.6v1.6h-1.6zM129.7 85.7h1.6v1.6h-1.6zM131.7 85.7h1.6v1.6h-1.6zM132.7 85.7h1.6v1.6h-1.6zM133.7 85.7h1.6v1.6h-1.6zM134.7 85.7h1.6v1.6h-1.6zM137.7 85.7h1.6v1.6h-1.6zM138.7 85.7h1.6v1.6h-1.6zM139.7 85.7h1.6v1.6h-1.6zM126.7 86.7h1.6v1.6h-1.6zM128.7 86.7h1.6v1.6h-1.6zM129.7 86.7h1.6v1.6h-1.6zM130.7 86.7h1.6v1.6h-1.6zM132.7 86.7h1.6v1.6h-1.6zM133.7 86.7h1.6v1.6h-1.6zM135.7 86.7h1.6v1.6h-1.6zM137.7 86.7h1.6v1.6h-1.6zM138.7 86.7h1.6v1.6h-1.6zM139.7 86.7h1.6v1.6h-1.6zM141.7 86.7h1.6v1.6h-1.6zM126.7 87.7h1.6v1.6h-1.6zM129.7 87.7h1.6v1.6h-1.6zM132.7 87.7h1.6v1.6h-1.6zM133.7 87.7h1.6v1.6h-1.6zM134.7 87.7h1.6v1.6h-1.6zM136.7 87.7h1.6v1.6h-1.6zM137.7 87.7h1.6v1.6h-1.6zM138.7 87.7h1.6v1.6h-1.6zM140.7 87.7h1.6v1.6h-1.6zM142.7 87.7h1.6v1.6h-1.6zM127.7 88.7h1.6v1.6h-1.6zM128.7 88.7h1.6v1.6h-1.6zM131.7 88.7h1.6v1.6h-1.6zM133.7 88.7h1.6v1.6h-1.6zM135.7 88.7h1.6v1.6h-1.6zM139.7 88.7h1.6v1.6h-1.6zM140.7 88.7h1.6v1.6h-1.6zM141.7 88.7h1.6v1.6h-1.6zM127.7 89.7h1.6v1.6h-1.6zM128.7 89.7h1.6v1.6h-1.6zM129.7 89.7h1.6v1.6h-1.6zM133.7 89.7h1.6v1.6h-1.6zM134.7 89.7h1.6v1.6h-1.6zM135.7 89.7h1.6v1.6h-1.6zM136.7 89.7h1.6v1.6h-1.6zM137.7 89.7h1.6v1.6h-1.6zM138.7 89.7h1.6v1.6h-1.6zM140.7 89.7h1.6v1.6h-1.6zM141.7 89.7h1.6v1.6h-1.6zM128.7 90.7h1.6v1.6h-1.6zM129.7 90.7h1.6v1.6h-1.6zM131.7 90.7h1.6v1.6h-1.6zM133.7 90.7h1.6v1.6h-1.6zM134.7 90.7h1.6v1.6h-1.6zM136.7 90.7h1.6v1.6h-1.6zM138.7 90.7h1.6v1.6h-1.6zM139.7 90.7h1.6v1.6h-1.6zM141.7 90.7h1.6v1.6h-1.6zM129.7 91.7h1.6v1.6h-1.6zM132.7 91.7h1.6v1.6h-1.6zM133.7 91.7h1.6v1.6h-1.6zM134.7 91.7h1.6v1.6h-1.6zM136.7 91.7h1.6v1.6h-1.6zM138.7 91.7h1.6v1.6h-1.6zM139.7 91.7h1.6v1.6h-1.6zM141.7 91.7h1.6v1.6h-1.6zM130.7 92.7h1.6v1.6h-1.6zM131.7 92.7h1.6v1.6h-1.6zM132.7 92.7h1.6v1.6h-1.6zM134.7 92.7h1.6v1.6h-1.6zM136.7 92.7h1.6v1.6h-1.6zM137.7 92.7h1.6v1.6h-1.6zM139.7 92.7h1.6v1.6h-1.6zM141.7 92.7h1.6v1.6h-1.6zM142.7 92.7h1.6v1.6h-1.6zM129.7 93.7h1.6v1.6h-1.6zM130.7 93.7h1.6v1.6h-1.6zM131.7 93.7h1.6v1.6h-1.6zM133.7 93.7h1.6v1.6h-1.6zM134.7 93.7h1.6v1.6h-1.6zM135.7 93.7h1.6v1.6h-1.6zM136.7 93.7h1.6v1.6h-1.6zM137.7 93.7h1.6v1.6h-1.6zM139.7 93.7h1.6v1.6h-1.6zM140.7 93.7h1.6v1.6h-1.6zM141.7 93.7h1.6v1.6h-1.6zM130.7 94.7h1.6v1.6h-1.6zM131.7 94.7h1.6v1.6h-1.6zM132.7 94.7h1.6v1.6h-1.6zM134.7 94.7h1.6v1.6h-1.6zM135.7 94.7h1.6v1.6h-1.6zM137.7 94.7h1.6v1.6h-1.6zM138.7 94.7h1.6v1.6h-1.6zM140.7 94.7h1.6v1.6h-1.6zM141.7 94.7h1.6v1.6h-1.6zM130.7 95.7h1.6v1.6h-1.6zM131.7 95.7h1.6v1.6h-1.6zM132.7 95.7h1.6v1.6h-1.6zM134.7 95.7h1.6v1.6h-1.6zM135.7 95.7h1.6v1.6h-1.6zM136.7 95.7h1.6v1.6h-1.6zM137.7 95.7h1.6v1.6h-1.6zM138.7 95.7h1.6v1.6h-1.6zM140.7 95.7h1.6v1.6h-1.6zM141.7 95.7h1.6v1.6h-1.6zM133.7 96.7h1.6v1.6h-1.6zM136.7 96.7h1.6v1.6h-1.6zM139.7 96.7h1.6v1.6h-1.6zM140.7 96.7h1.6v1.6h-1.6zM114.7 120.7h1.6v1.6h-1.6zM116.7 120.7h1.6v1.6h-1.6zM117.7 120.7h1.6v1.6h-1.6zM118.7 120.7h1.6v1.6h-1.6zM122.7 120.7h1.6v1.6h-1.6zM123.7 120.7h1.6v1.6h-1.6zM124.7 120.7h1.6v1.6h-1.6zM125.7 120.7h1.6v1.6h-1.6zM126.7 120.7h1.6v1.6h-1.6zM127.7 120.7h1.6v1.6h-1.6zM128.7 120.7h1.6v1.6h-1.6zM132.7 120.7h1.6v1.6h-1.6zM134.7 120.7h1.6v1.6h-1.6zM135.7 120.7h1.6v1.6h-1.6zM136.7 120.7h1.6v1.6h-1.6zM137.7 120.7h1.6v1.6h-1.6zM112.7 121.7h1.6v1.6h-1.6zM113.7 121.7h1.6v1.6h-1.6zM114.7 121.7h1.6v1.6h-1.6zM115.7 121.7h1.6v1.6h-1.6zM116.7 121.7h1.6v1.6h-1.6zM117.7 121.7h1.6v1.6h-1.6zM118.7 121.7h1.6v1.6h-1.6zM119.7 121.7h1.6v1.6h-1.6zM120.7 121.7h1.6v1.6h-1.6zM121.7 121.7h1.6v1.6h-1.6zM122.7 121.7h1.6v1.6h-1.6zM123.7 121.7h1.6v1.6h-1.6zM124.7 121.7h1.6v1.6h-1.6zM126.7 121.7h1.6v1.6h-1.6zM127.7 121.7h1.6v1.6h-1.6zM128.7 121.7h1.6v1.6h-1.6zM131.7 121.7h1.6v1.6h-1.6zM133.7 121.7h1.6v1.6h-1.6zM136.7 121.7h1.6v1.6h-1.6zM137.7 121.7h1.6v1.6h-1.6zM138.7 121.7h1.6v1.6h-1.6zM112.7 122.7h1.6v1.6h-1.6zM114.7 122.7h1.6v1.6h-1.6zM116.7 122.7h1.6v1.6h-1.6zM117.7 122.7h1.6v1.6h-1.6zM120.7 122.7h1.6v1.6h-1.6zM121.7 122.7h1.6v1.6h-1.6zM122.7 122.7h1.6v1.6h-1.6zM123.7 122.7h1.6v1.6h-1.6zM124.7 122.7h1.6v1.6h-1.6zM125.7 122.7h1.6v1.6h-1.6zM126.7 122.7h1.6v1.6h-1.6zM127.7 122.7h1.6v1.6h-1.6zM128.7 122.7h1.6v1.6h-1.6zM130.7 122.7h1.6v1.6h-1.6zM131.7 122.7h1.6v1.6h-1.6zM132.7 122.7h1.6v1.6h-1.6zM133.7 122.7h1.6v1.6h-1.6zM134.7 122.7h1.6v1.6h-1.6zM135.7 122.7h1.6v1.6h-1.6zM137.7 122.7h1.6v1.6h-1.6zM139.7 122.7h1.6v1.6h-1.6zM140.7 122.7h1.6v1.6h-1.6zM110.7 123.7h1.6v1.6h-1.6zM111.7 123.7h1.6v1.6h-1.6zM113.7 123.7h1.6v1.6h-1.6zM114.7 123.7h1.6v1.6h-1.6zM115.7 123.7h1.6v1.6h-1.6zM116.7 123.7h1.6v1.6h-1.6zM117.7 123.7h1.6v1.6h-1.6zM118.7 123.7h1.6v1.6h-1.6zM119.7 123.7h1.6v1.6h-1.6zM120.7 123.7h1.6v1.6h-1.6zM121.7 123.7h1.6v1.6h-1.6zM122.7 123.7h1.6v1.6h-1.6zM123.7 123.7h1.6v1.6h-1.6zM124.7 123.7h1.6v1.6h-1.6zM125.7 123.7h1.6v1.6h-1.6zM126.7 123.7h1.6v1.6h-1.6zM127.7 123.7h1.6v1.6h-1.6zM128.7 123.7h1.6v1.6h-1.6zM129.7 123.7h1.6v1.6h-1.6zM130.7 123.7h1.6v1.6h-1.6zM131.7 123.7h1.6v1.6h-1.6zM133.7 123.7h1.6v1.6h-1.6zM134.7 123.7h1.6v1.6h-1.6zM135.7 123.7h1.6v1.6h-1.6zM136.7 123.7h1.6v1.6h-1.6zM137.7 123.7h1.6v1.6h-1.6zM140.7 123.7h1.6v1.6h-1.6zM112.7 124.7h1.6v1.6h-1.6zM113.7 124.7h1.6v1.6h-1.6zM114.7 124.7h1.6v1.6h-1.6zM115.7 124.7h1.6v1.6h-1.6zM116.7 124.7h1.6v1.6h-1.6zM117.7 124.7h1.6v1.6h-1.6zM119.7 124.7h1.6v1.6h-1.6zM120.7 124.7h1.6v1.6h-1.6zM121.7 124.7h1.6v1.6h-1.6zM122.7 124.7h1.6v1.6h-1.6zM123.7 124.7h1.6v1.6h-1.6zM124.7 124.7h1.6v1.6h-1.6zM125.7 124.7h1.6v1.6h-1.6zM126.7 124.7h1.6v1.6h-1.6zM127.7 124.7h1.6v1.6h-1.6zM128.7 124.7h1.6v1.6h-1.6zM129.7 124.7h1.6v1.6h-1.6zM130.7 124.7h1.6v1.6h-1.6zM131.7 124.7h1.6v1.6h-1.6zM132.7 124.7h1.6v1.6h-1.6zM133.7 124.7h1.6v1.6h-1.6zM134.7 124.7h1.6v1.6h-1.6zM135.7 124.7h1.6v1.6h-1.6zM136.7 124.7h1.6v1.6h-1.6zM137.7 124.7h1.6v1.6h-1.6zM138.7 124.7h1.6v1.6h-1.6zM139.7 124.7h1.6v1.6h-1.6zM140.7 124.7h1.6v1.6h-1.6zM110.7 125.7h1.6v1.6h-1.6zM112.7 125.7h1.6v1.6h-1.6zM113.7 125.7h1.6v1.6h-1.6zM114.7 125.7h1.6v1.6h-1.6zM116.7 125.7h1.6v1.6h-1.6zM117.7 125.7h1.6v1.6h-1.6zM118.7 125.7h1.6v1.6h-1.6zM119.7 125.7h1.6v1.6h-1.6zM120.7 125.7h1.6v1.6h-1.6zM121.7 125.7h1.6v1.6h-1.6zM122.7 125.7h1.6v1.6h-1.6zM123.7 125.7h1.6v1.6h-1.6zM124.7 125.7h1.6v1.6h-1.6zM125.7 125.7h1.6v1.6h-1.6zM126.7 125.7h1.6v1.6h-1.6zM127.7 125.7h1.6v1.6h-1.6zM128.7 125.7h1.6v1.6h-1.6zM129.7 125.7h1.6v1.6h-1.6zM130.7 125.7h1.6v1.6h-1.6zM131.7 125.7h1.6v1.6h-1.6zM132.7 125.7h1.6v1.6h-1.6zM133.7 125.7h1.6v1.6h-1.6zM134.7 125.7h1.6v1.6h-1.6zM135.7 125.7h1.6v1.6h-1.6zM136.7 125.7h1.6v1.6h-1.6zM137.7 125.7h1.6v1.6h-1.6zM139.7 125.7h1.6v1.6h-1.6zM140.7 125.7h1.6v1.6h-1.6zM141.7 125.7h1.6v1.6h-1.6zM109.7 126.7h1.6v1.6h-1.6zM110.7 126.7h1.6v1.6h-1.6zM112.7 126.7h1.6v1.6h-1.6zM113.7 126.7h1.6v1.6h-1.6zM114.7 126.7h1.6v1.6h-1.6zM116.7 126.7h1.6v1.6h-1.6zM117.7 126.7h1.6v1.6h-1.6zM118.7 126.7h1.6v1.6h-1.6zM119.7 126.7h1.6v1.6h-1.6zM120.7 126.7h1.6v1.6h-1.6zM121.7 126.7h1.6v1.6h-1.6zM122.7 126.7h1.6v1.6h-1.6zM123.7 126.7h1.6v1.6h-1.6zM124.7 126.7h1.6v1.6h-1.6zM125.7 126.7h1.6v1.6h-1.6zM126.7 126.7h1.6v1.6h-1.6zM127.7 126.7h1.6v1.6h-1.6zM128.7 126.7h1.6v1.6h-1.6zM129.7 126.7h1.6v1.6h-1.6zM130.7 126.7h1.6v1.6h-1.6zM131.7 126.7h1.6v1.6h-1.6zM132.7 126.7h1.6v1.6h-1.6zM133.7 126.7h1.6v1.6h-1.6zM134.7 126.7h1.6v1.6h-1.6zM135.7 126.7h1.6v1.6h-1.6zM136.7 126.7h1.6v1.6h-1.6zM137.7 126.7h1.6v1.6h-1.6zM138.7 126.7h1.6v1.6h-1.6zM140.7 126.7h1.6v1.6h-1.6zM141.7 126.7h1.6v1.6h-1.6zM109.7 127.7h1.6v1.6h-1.6zM112.7 127.7h1.6v1.6h-1.6zM113.7 127.7h1.6v1.6h-1.6zM114.7 127.7h1.6v1.6h-1.6zM115.7 127.7h1.6v1.6h-1.6zM116.7 127.7h1.6v1.6h-1.6zM117.7 127.7h1.6v1.6h-1.6zM118.7 127.7h1.6v1.6h-1.6zM119.7 127.7h1.6v1.6h-1.6zM120.7 127.7h1.6v1.6h-1.6zM121.7 127.7h1.6v1.6h-1.6zM122.7 127.7h1.6v1.6h-1.6zM123.7 127.7h1.6v1.6h-1.6zM124.7 127.7h1.6v1.6h-1.6zM125.7 127.7h1.6v1.6h-1.6zM126.7 127.7h1.6v1.6h-1.6zM127.7 127.7h1.6v1.6h-1.6zM128.7 127.7h1.6v1.6h-1.6zM129.7 127.7h1.6v1.6h-1.6zM130.7 127.7h1.6v1.6h-1.6zM131.7 127.7h1.6v1.6h-1.6zM132.7 127.7h1.6v1.6h-1.6zM133.7 127.7h1.6v1.6h-1.6zM134.7 127.7h1.6v1.6h-1.6zM135.7 127.7h1.6v1.6h-1.6zM136.7 127.7h1.6v1.6h-1.6zM137.7 127.7h1.6v1.6h-1.6zM138.7 127.7h1.6v1.6h-1.6zM139.7 127.7h1.6v1.6h-1.6zM140.7 127.7h1.6v1.6h-1.6zM109.7 128.7h1.6v1.6h-1.6zM110.7 128.7h1.6v1.6h-1.6zM111.7 128.7h1.6v1.6h-1.6zM112.7 128.7h1.6v1.6h-1.6zM113.7 128.7h1.6v1.6h-1.6zM114.7 128.7h1.6v1.6h-1.6zM115.7 128.7h1.6v1.6h-1.6zM116.7 128.7h1.6v1.6h-1.6zM117.7 128.7h1.6v1.6h-1.6zM118.7 128.7h1.6v1.6h-1.6zM119.7 128.7h1.6v1.6h-1.6zM120.7 128.7h1.6v1.6h-1.6zM121.7 128.7h1.6v1.6h-1.6zM122.7 128.7h1.6v1.6h-1.6zM123.7 128.7h1.6v1.6h-1.6zM124.7 128.7h1.6v1.6h-1.6zM125.7 128.7h1.6v1.6h-1.6zM126.7 128.7h1.6v1.6h-1.6zM127.7 128.7h1.6v1.6h-1.6zM128.7 128.7h1.6v1.6h-1.6zM129.7 128.7h1.6v1.6h-1.6zM130.7 128.7h1.6v1.6h-1.6zM131.7 128.7h1.6v1.6h-1.6zM132.7 128.7h1.6v1.6h-1.6zM133.7 128.7h1.6v1.6h-1.6zM134.7 128.7h1.6v1.6h-1.6zM135.7 128.7h1.6v1.6h-1.6zM136.7 128.7h1.6v1.6h-1.6zM137.7 128.7h1.6v1.6h-1.6zM139.7 128.7h1.6v1.6h-1.6zM140.7 128.7h1.6v1.6h-1.6zM141.7 128.7h1.6v1.6h-1.6zM109.7 129.7h1.6v1.6h-1.6zM111.7 129.7h1.6v1.6h-1.6zM112.7 129.7h1.6v1.6h-1.6zM113.7 129.7h1.6v1.6h-1.6zM114.7 129.7h1.6v1.6h-1.6zM115.7 129.7h1.6v1.6h-1.6zM116.7 129.7h1.6v1.6h-1.6zM117.7 129.7h1.6v1.6h-1.6zM118.7 129.7h1.6v1.6h-1.6zM119.7 129.7h1.6v1.6h-1.6zM120.7 129.7h1.6v1.6h-1.6zM121.7 129.7h1.6v1.6h-1.6zM122.7 129.7h1.6v1.6h-1.6zM123.7 129.7h1.6v1.6h-1.6zM124.7 129.7h1.6v1.6h-1.6zM125.7 129.7h1.6v1.6h-1.6zM126.7 129.7h1.6v1.6h-1.6zM127.7 129.7h1.6v1.6h-1.6zM128.7 129.7h1.6v1.6h-1.6zM129.7 129.7h1.6v1.6h-1.6zM130.7 129.7h1.6v1.6h-1.6zM131.7 129.7h1.6v1.6h-1.6zM132.7 129.7h1.6v1.6h-1.6zM133.7 129.7h1.6v1.6h-1.6zM134.7 129.7h1.6v1.6h-1.6zM135.7 129.7h1.6v1.6h-1.6zM136.7 129.7h1.6v1.6h-1.6zM137.7 129.7h1.6v1.6h-1.6zM138.7 129.7h1.6v1.6h-1.6zM139.7 129.7h1.6v1.6h-1.6zM141.7 129.7h1.6v1.6h-1.6zM109.7 130.7h1.6v1.6h-1.6zM110.7 130.7h1.6v1.6h-1.6zM111.7 130.7h1.6v1.6h-1.6zM112.7 130.7h1.6v1.6h-1.6zM113.7 130.7h1.6v1.6h-1.6zM114.7 130.7h1.6v1.6h-1.6zM115.7 130.7h1.6v1.6h-1.6zM116.7 130.7h1.6v1.6h-1.6zM117.7 130.7h1.6v1.6h-1.6zM118.7 130.7h1.6v1.6h-1.6zM119.7 130.7h1.6v1.6h-1.6zM120.7 130.7h1.6v1.6h-1.6zM121.7 130.7h1.6v1.6h-1.6zM122.7 130.7h1.6v1.6h-1.6zM123.7 130.7h1.6v1.6h-1.6zM124.7 130.7h1.6v1.6h-1.6zM125.7 130.7h1.6v1.6h-1.6zM126.7 130.7h1.6v1.6h-1.6zM127.7 130.7h1.6v1.6h-1.6zM128.7 130.7h1.6v1.6h-1.6zM129.7 130.7h1.6v1.6h-1.6zM130.7 130.7h1.6v1.6h-1.6zM131.7 130.7h1.6v1.6h-1.6zM132.7 130.7h1.6v1.6h-1.6zM133.7 130.7h1.6v1.6h-1.6zM134.7 130.7h1.6v1.6h-1.6zM135.7 130.7h1.6v1.6h-1.6zM136.7 130.7h1.6v1.6h-1.6zM138.7 130.7h1.6v1.6h-1.6zM139.7 130.7h1.6v1.6h-1.6zM140.7 130.7h1.6v1.6h-1.6zM141.7 130.7h1.6v1.6h-1.6zM111.7 131.7h1.6v1.6h-1.6zM112.7 131.7h1.6v1.6h-1.6zM113.7 131.7h1.6v1.6h-1.6zM114.7 131.7h1.6v1.6h-1.6zM115.7 131.7h1.6v1.6h-1.6zM116.7 131.7h1.6v1.6h-1.6zM117.7 131.7h1.6v1.6h-1.6zM118.7 131.7h1.6v1.6h-1.6zM119.7 131.7h1.6v1.6h-1.6zM120.7 131.7h1.6v1.6h-1.6zM121.7 131.7h1.6v1.6h-1.6zM122.7 131.7h1.6v1.6h-1.6zM123.7 131.7h1.6v1.6h-1.6zM124.7 131.7h1.6v1.6h-1.6zM125.7 131.7h1.6v1.6h-1.6zM126.7 131.7h1.6v1.6h-1.6zM127.7 131.7h1.6v1.6h-1.6zM128.7 131.7h1.6v1.6h-1.6zM129.7 131.7h1.6v1.6h-1.6zM130.7 131.7h1.6v1.6h-1.6zM131.7 131.7h1.6v1.6h-1.6zM132.7 131.7h1.6v1.6h-1.6zM133.7 131.7h1.6v1.6h-1.6zM134.7 131.7h1.6v1.6h-1.6zM135.7 131.7h1.6v1.6h-1.6zM136.7 131.7h1.6v1.6h-1.6zM137.7 131.7h1.6v1.6h-1.6zM138.7 131.7h1.6v1.6h-1.6zM140.7 131.7h1.6v1.6h-1.6zM142.7 131.7h1.6v1.6h-1.6zM111.7 132.7h1.6v1.6h-1.6zM112.7 132.7h1.6v1.6h-1.6zM113.7 132.7h1.6v1.6h-1.6zM114.7 132.7h1.6v1.6h-1.6zM115.7 132.7h1.6v1.6h-1.6zM116.7 132.7h1.6v1.6h-1.6zM117.7 132.7h1.6v1.6h-1.6zM118.7 132.7h1.6v1.6h-1.6zM119.7 132.7h1.6v1.6h-1.6zM120.7 132.7h1.6v1.6h-1.6zM121.7 132.7h1.6v1.6h-1.6zM122.7 132.7h1.6v1.6h-1.6zM123.7 132.7h1.6v1.6h-1.6zM124.7 132.7h1.6v1.6h-1.6zM125.7 132.7h1.6v1.6h-1.6zM126.7 132.7h1.6v1.6h-1.6zM127.7 132.7h1.6v1.6h-1.6zM128.7 132.7h1.6v1.6h-1.6zM129.7 132.7h1.6v1.6h-1.6zM130.7 132.7h1.6v1.6h-1.6zM131.7 132.7h1.6v1.6h-1.6zM132.7 132.7h1.6v1.6h-1.6zM133.7 132.7h1.6v1.6h-1.6zM134.7 132.7h1.6v1.6h-1.6zM135.7 132.7h1.6v1.6h-1.6zM136.7 132.7h1.6v1.6h-1.6zM137.7 132.7h1.6v1.6h-1.6zM138.7 132.7h1.6v1.6h-1.6zM139.7 132.7h1.6v1.6h-1.6zM140.7 132.7h1.6v1.6h-1.6zM110.7 133.7h1.6v1.6h-1.6zM111.7 133.7h1.6v1.6h-1.6zM112.7 133.7h1.6v1.6h-1.6zM113.7 133.7h1.6v1.6h-1.6zM114.7 133.7h1.6v1.6h-1.6zM115.7 133.7h1.6v1.6h-1.6zM116.7 133.7h1.6v1.6h-1.6zM118.7 133.7h1.6v1.6h-1.6zM119.7 133.7h1.6v1.6h-1.6zM120.7 133.7h1.6v1.6h-1.6zM121.7 133.7h1.6v1.6h-1.6zM122.7 133.7h1.6v1.6h-1.6zM123.7 133.7h1.6v1.6h-1.6zM124.7 133.7h1.6v1.6h-1.6zM125.7 133.7h1.6v1.6h-1.6zM126.7 133.7h1.6v1.6h-1.6zM127.7 133.7h1.6v1.6h-1.6zM128.7 133.7h1.6v1.6h-1.6zM129.7 133.7h1.6v1.6h-1.6zM130.7 133.7h1.6v1.6h-1.6zM131.7 133.7h1.6v1.6h-1.6zM132.7 133.7h1.6v1.6h-1.6zM133.7 133.7h1.6v1.6h-1.6zM134.7 133.7h1.6v1.6h-1.6zM135.7 133.7h1.6v1.6h-1.6zM136.7 133.7h1.6v1.6h-1.6zM137.7 133.7h1.6v1.6h-1.6zM138.7 133.7h1.6v1.6h-1.6zM139.7 133.7h1.6v1.6h-1.6zM140.7 133.7h1.6v1.6h-1.6zM141.7 133.7h1.6v1.6h-1.6zM142.7 133.7h1.6v1.6h-1.6zM110.7 134.7h1.6v1.6h-1.6zM111.7 134.7h1.6v1.6h-1.6zM112.7 134.7h1.6v1.6h-1.6zM113.7 134.7h1.6v1.6h-1.6zM114.7 134.7h1.6v1.6h-1.6zM115.7 134.7h1.6v1.6h-1.6zM116.7 134.7h1.6v1.6h-1.6zM117.7 134.7h1.6v1.6h-1.6zM118.7 134.7h1.6v1.6h-1.6zM119.7 134.7h1.6v1.6h-1.6zM120.7 134.7h1.6v1.6h-1.6zM121.7 134.7h1.6v1.6h-1.6zM122.7 134.7h1.6v1.6h-1.6zM123.7 134.7h1.6v1.6h-1.6zM124.7 134.7h1.6v1.6h-1.6zM125.7 134.7h1.6v1.6h-1.6zM126.7 134.7h1.6v1.6h-1.6zM127.7 134.7h1.6v1.6h-1.6zM128.7 134.7h1.6v1.6h-1.6zM129.7 134.7h1.6v1.6h-1.6zM130.7 134.7h1.6v1.6h-1.6zM131.7 134.7h1.6v1.6h-1.6zM132.7 134.7h1.6v1.6h-1.6zM133.7 134.7h1.6v1.6h-1.6zM134.7 134.7h1.6v1.6h-1.6zM135.7 134.7h1.6v1.6h-1.6zM136.7 134.7h1.6v1.6h-1.6zM137.7 134.7h1.6v1.6h-1.6zM138.7 134.7h1.6v1.6h-1.6zM139.7 134.7h1.6v1.6h-1.6zM140.7 134.7h1.6v1.6h-1.6zM142.7 134.7h1.6v1.6h-1.6zM111.7 135.7h1.6v1.6h-1.6zM112.7 135.7h1.6v1.6h-1.6zM113.7 135.7h1.6v1.6h-1.6zM114.7 135.7h1.6v1.6h-1.6zM115.7 135.7h1.6v1.6h-1.6zM116.7 135.7h1.6v1.6h-1.6zM117.7 135.7h1.6v1.6h-1.6zM118.7 135.7h1.6v1.6h-1.6zM119.7 135.7h1.6v1.6h-1.6zM120.7 135.7h1.6v1.6h-1.6zM121.7 135.7h1.6v1.6h-1.6zM122.7 135.7h1.6v1.6h-1.6zM123.7 135.7h1.6v1.6h-1.6zM124.7 135.7h1.6v1.6h-1.6zM125.7 135.7h1.6v1.6h-1.6zM126.7 135.7h1.6v1.6h-1.6zM127.7 135.7h1.6v1.6h-1.6zM128.7 135.7h1.6v1.6h-1.6zM129.7 135.7h1.6v1.6h-1.6zM130.7 135.7h1.6v1.6h-1.6zM131.7 135.7h1.6v1.6h-1.6zM132.7 135.7h1.6v1.6h-1.6zM133.7 135.7h1.6v1.6h-1.6zM134.7 135.7h1.6v1.6h-1.6zM135.7 135.7h1.6v1.6h-1.6zM136.7 135.7h1.6v1.6h-1.6zM137.7 135.7h1.6v1.6h-1.6zM138.7 135.7h1.6v1.6h-1.6zM140.7 135.7h1.6v1.6h-1.6zM141.7 135.7h1.6v1.6h-1.6zM142.7 135.7h1.6v1.6h-1.6zM109.7 136.7h1.6v1.6h-1.6zM110.7 136.7h1.6v1.6h-1.6zM111.7 136.7h1.6v1.6h-1.6zM112.7 136.7h1.6v1.6h-1.6zM113.7 136.7h1.6v1.6h-1.6zM114.7 136.7h1.6v1.6h-1.6zM115.7 136.7h1.6v1.6h-1.6zM116.7 136.7h1.6v1.6h-1.6zM117.7 136.7h1.6v1.6h-1.6zM118.7 136.7h1.6v1.6h-1.6zM119.7 136.7h1.6v1.6h-1.6zM120.7 136.7h1.6v1.6h-1.6zM121.7 136.7h1.6v1.6h-1.6zM122.7 136.7h1.6v1.6h-1.6zM123.7 136.7h1.6v1.6h-1.6zM124.7 136.7h1.6v1.6h-1.6zM125.7 136.7h1.6v1.6h-1.6zM126.7 136.7h1.6v1.6h-1.6zM127.7 136.7h1.6v1.6h-1.6zM128.7 136.7h1.6v1.6h-1.6zM129.7 136.7h1.6v1.6h-1.6zM130.7 136.7h1.6v1.6h-1.6zM131.7 136.7h1.6v1.6h-1.6zM132.7 136.7h1.6v1.6h-1.6zM133.7 136.7h1.6v1.6h-1.6zM134.7 136.7h1.6v1.6h-1.6zM135.7 136.7h1.6v1.6h-1.6zM136.7 136.7h1.6v1.6h-1.6zM137.7 136.7h1.6v1.6h-1.6zM138.7 136.7h1.6v1.6h-1.6zM139.7 136.7h1.6v1.6h-1.6zM140.7 136.7h1.6v1.6h-1.6zM141.7 136.7h1.6v1.6h-1.6zM142.7 136.7h1.6v1.6h-1.6zM110.7 137.7h1.6v1.6h-1.6zM112.7 137.7h1.6v1.6h-1.6zM113.7 137.7h1.6v1.6h-1.6zM114.7 137.7h1.6v1.6h-1.6zM115.7 137.7h1.6v1.6h-1.6zM116.7 137.7h1.6v1.6h-1.6zM117.7 137.7h1.6v1.6h-1.6zM118.7 137.7h1.6v1.6h-1.6zM119.7 137.7h1.6v1.6h-1.6zM120.7 137.7h1.6v1.6h-1.6zM121.7 137.7h1.6v1.6h-1.6zM122.7 137.7h1.6v1.6h-1.6zM123.7 137.7h1.6v1.6h-1.6zM124.7 137.7h1.6v1.6h-1.6zM125.7 137.7h1.6v1.6h-1.6zM126.7 137.7h1.6v1.6h-1.6zM127.7 137.7h1.6v1.6h-1.6zM128.7 137.7h1.6v1.6h-1.6zM129.7 137.7h1.6v1.6h-1.6zM130.7 137.7h1.6v1.6h-1.6zM131.7 137.7h1.6v1.6h-1.6zM132.7 137.7h1.6v1.6h-1.6zM133.7 137.7h1.6v1.6h-1.6zM134.7 137.7h1.6v1.6h-1.6zM135.7 137.7h1.6v1.6h-1.6zM136.7 137.7h1.6v1.6h-1.6zM137.7 137.7h1.6v1.6h-1.6zM138.7 137.7h1.6v1.6h-1.6zM139.7 137.7h1.6v1.6h-1.6zM140.7 137.7h1.6v1.6h-1.6zM141.7 137.7h1.6v1.6h-1.6zM109.7 138.7h1.6v1.6h-1.6zM110.7 138.7h1.6v1.6h-1.6zM111.7 138.7h1.6v1.6h-1.6zM112.7 138.7h1.6v1.6h-1.6zM113.7 138.7h1.6v1.6h-1.6zM114.7 138.7h1.6v1.6h-1.6zM115.7 138.7h1.6v1.6h-1.6zM116.7 138.7h1.6v1.6h-1.6zM117.7 138.7h1.6v1.6h-1.6zM118.7 138.7h1.6v1.6h-1.6zM119.7 138.7h1.6v1.6h-1.6zM120.7 138.7h1.6v1.6h-1.6zM121.7 138.7h1.6v1.6h-1.6zM122.7 138.7h1.6v1.6h-1.6zM123.7 138.7h1.6v1.6h-1.6zM124.7 138.7h1.6v1.6h-1.6zM125.7 138.7h1.6v1.6h-1.6zM126.7 138.7h1.6v1.6h-1.6zM127.7 138.7h1.6v1.6h-1.6zM128.7 138.7h1.6v1.6h-1.6zM129.7 138.7h1.6v1.6h-1.6zM130.7 138.7h1.6v1.6h-1.6zM131.7 138.7h1.6v1.6h-1.6zM132.7 138.7h1.6v1.6h-1.6zM133.7 138.7h1.6v1.6h-1.6zM134.7 138.7h1.6v1.6h-1.6zM135.7 138.7h1.6v1.6h-1.6zM136.7 138.7h1.6v1.6h-1.6zM137.7 138.7h1.6v1.6h-1.6zM138.7 138.7h1.6v1.6h-1.6zM141.7 138.7h1.6v1.6h-1.6zM111.7 139.7h1.6v1.6h-1.6zM112.7 139.7h1.6v1.6h-1.6zM113.7 139.7h1.6v1.6h-1.6zM114.7 139.7h1.6v1.6h-1.6zM115.7 139.7h1.6v1.6h-1.6zM116.7 139.7h1.6v1.6h-1.6zM117.7 139.7h1.6v1.6h-1.6zM118.7 139.7h1.6v1.6h-1.6zM119.7 139.7h1.6v1.6h-1.6zM120.7 139.7h1.6v1.6h-1.6zM121.7 139.7h1.6v1.6h-1.6zM122.7 139.7h1.6v1.6h-1.6zM123.7 139.7h1.6v1.6h-1.6zM124.7 139.7h1.6v1.6h-1.6zM125.7 139.7h1.6v1.6h-1.6zM126.7 139.7h1.6v1.6h-1.6zM127.7 139.7h1.6v1.6h-1.6zM128.7 139.7h1.6v1.6h-1.6zM129.7 139.7h1.6v1.6h-1.6zM130.7 139.7h1.6v1.6h-1.6zM131.7 139.7h1.6v1.6h-1.6zM132.7 139.7h1.6v1.6h-1.6zM133.7 139.7h1.6v1.6h-1.6zM134.7 139.7h1.6v1.6h-1.6zM135.7 139.7h1.6v1.6h-1.6zM136.7 139.7h1.6v1.6h-1.6zM137.7 139.7h1.6v1.6h-1.6zM138.7 139.7h1.6v1.6h-1.6zM139.7 139.7h1.6v1.6h-1.6zM140.7 139.7h1.6v1.6h-1.6zM142.7 139.7h1.6v1.6h-1.6zM109.7 140.7h1.6v1.6h-1.6zM110.7 140.7h1.6v1.6h-1.6zM111.7 140.7h1.6v1.6h-1.6zM112.7 140.7h1.6v1.6h-1.6zM113.7 140.7h1.6v1.6h-1.6zM114.7 140.7h1.6v1.6h-1.6zM115.7 140.7h1.6v1.6h-1.6zM116.7 140.7h1.6v1.6h-1.6zM117.7 140.7h1.6v1.6h-1.6zM118.7 140.7h1.6v1.6h-1.6zM119.7 140.7h1.6v1.6h-1.6zM120.7 140.7h1.6v1.6h-1.6zM121.7 140.7h1.6v1.6h-1.6zM122.7 140.7h1.6v1.6h-1.6zM123.7 140.7h1.6v1.6h-1.6zM124.7 140.7h1.6v1.6h-1.6zM125.7 140.7h1.6v1.6h-1.6zM126.7 140.7h1.6v1.6h-1.6zM127.7 140.7h1.6v1.6h-1.6zM128.7 140.7h1.6v1.6h-1.6zM129.7 140.7h1.6v1.6h-1.6zM130.7 140.7h1.6v1.6h-1.6zM131.7 140.7h1.6v1.6h-1.6zM132.7 140.7h1.6v1.6h-1.6zM133.7 140.7h1.6v1.6h-1.6zM134.7 140.7h1.6v1.6h-1.6zM135.7 140.7h1.6v1.6h-1.6zM136.7 140.7h1.6v1.6h-1.6zM137.7 140.7h1.6v1.6h-1.6zM138.7 140.7h1.6v1.6h-1.6zM139.7 140.7h1.6v1.6h-1.6zM141.7 140.7h1.6v1.6h-1.6zM109.7 141.7h1.6v1.6h-1.6zM110.7 141.7h1.6v1.6h-1.6zM111.7 141.7h1.6v1.6h-1.6zM112.7 141.7h1.6v1.6h-1.6zM113.7 141.7h1.6v1.6h-1.6zM114.7 141.7h1.6v1.6h-1.6zM115.7 141.7h1.6v1.6h-1.6zM116.7 141.7h1.6v1.6h-1.6zM117.7 141.7h1.6v1.6h-1.6zM118.7 141.7h1.6v1.6h-1.6zM119.7 141.7h1.6v1.6h-1.6zM120.7 141.7h1.6v1.6h-1.6zM121.7 141.7h1.6v1.6h-1.6zM122.7 141.7h1.6v1.6h-1.6zM123.7 141.7h1.6v1.6h-1.6zM124.7 141.7h1.6v1.6h-1.6zM125.7 141.7h1.6v1.6h-1.6zM126.7 141.7h1.6v1.6h-1.6zM127.7 141.7h1.6v1.6h-1.6zM128.7 141.7h1.6v1.6h-1.6zM129.7 141.7h1.6v1.6h-1.6zM130.7 141.7h1.6v1.6h-1.6zM131.7 141.7h1.6v1.6h-1.6zM132.7 141.7h1.6v1.6h-1.6zM133.7 141.7h1.6v1.6h-1.6zM134.7 141.7h1.6v1.6h-1.6zM135.7 141.7h1.6v1.6h-1.6zM136.7 141.7h1.6v1.6h-1.6zM137.7 141.7h1.6v1.6h-1.6zM138.7 141.7h1.6v1.6h-1.6zM139.7 141.7h1.6v1.6h-1.6zM140.7 141.7h1.6v1.6h-1.6zM141.7 141.7h1.6v1.6h-1.6zM142.7 141.7h1.6v1.6h-1.6zM110.7 142.7h1.6v1.6h-1.6zM111.7 142.7h1.6v1.6h-1.6zM113.7 142.7h1.6v1.6h-1.6zM114.7 142.7h1.6v1.6h-1.6zM115.7 142.7h1.6v1.6h-1.6zM116.7 142.7h1.6v1.6h-1.6zM117.7 142.7h1.6v1.6h-1.6zM118.7 142.7h1.6v1.6h-1.6zM119.7 142.7h1.6v1.6h-1.6zM120.7 142.7h1.6v1.6h-1.6zM121.7 142.7h1.6v1.6h-1.6zM122.7 142.7h1.6v1.6h-1.6zM123.7 142.7h1.6v1.6h-1.6zM124.7 142.7h1.6v1.6h-1.6zM125.7 142.7h1.6v1.6h-1.6zM126.7 142.7h1.6v1.6h-1.6zM127.7 142.7h1.6v1.6h-1.6zM128.7 142.7h1.6v1.6h-1.6zM129.7 142.7h1.6v1.6h-1.6zM130.7 142.7h1.6v1.6h-1.6zM131.7 142.7h1.6v1.6h-1.6zM132.7 142.7h1.6v1.6h-1.6zM133.7 142.7h1.6v1.6h-1.6zM134.7 142.7h1.6v1.6h-1.6zM135.7 142.7h1.6v1.6h-1.6zM136.7 142.7h1.6v1.6h-1.6zM137.7 142.7h1.6v1.6h-1.6zM138.7 142.7h1.6v1.6h-1.6zM139.7 142.7h1.6v1.6h-1.6zM110.7 143.7h1.6v1.6h-1.6zM111.7 143.7h1.6v1.6h-1.6zM114.7 143.7h1.6v1.6h-1.6zM115.7 143.7h1.6v1.6h-1.6zM116.7 143.7h1.6v1.6h-1.6zM117.7 143.7h1.6v1.6h-1.6zM118.7 143.7h1.6v1.6h-1.6zM119.7 143.7h1.6v1.6h-1.6zM120.7 143.7h1.6v1.6h-1.6zM121.7 143.7h1.6v1.6h-1.6zM122.7 143.7h1.6v1.6h-1.6zM123.7 143.7h1.6v1.6h-1.6zM124.7 143.7h1.6v1.6h-1.6zM125.7 143.7h1.6v1.6h-1.6zM126.7 143.7h1.6v1.6h-1.6zM127.7 143.7h1.6v1.6h-1.6zM128.7 143.7h1.6v1.6h-1.6zM129.7 143.7h1.6v1.6h-1.6zM130.7 143.7h1.6v1.6h-1.6zM131.7 143.7h1.6v1.6h-1.6zM132.7 143.7h1.6v1.6h-1.6zM133.7 143.7h1.6v1.6h-1.6zM134.7 143.7h1.6v1.6h-1.6zM135.7 143.7h1.6v1.6h-1.6zM136.7 143.7h1.6v1.6h-1.6zM137.7 143.7h1.6v1.6h-1.6zM138.7 143.7h1.6v1.6h-1.6zM139.7 143.7h1.6v1.6h-1.6zM140.7 143.7h1.6v1.6h-1.6zM110.7 144.7h1.6v1.6h-1.6zM111.7 144.7h1.6v1.6h-1.6zM112.7 144.7h1.6v1.6h-1.6zM113.7 144.7h1.6v1.6h-1.6zM114.7 144.7h1.6v1.6h-1.6zM115.7 144.7h1.6v1.6h-1.6zM116.7 144.7h1.6v1.6h-1.6zM117.7 144.7h1.6v1.6h-1.6zM118.7 144.7h1.6v1.6h-1.6zM119.7 144.7h1.6v1.6h-1.6zM120.7 144.7h1.6v1.6h-1.6zM121.7 144.7h1.6v1.6h-1.6zM122.7 144.7h1.6v1.6h-1.6zM123.7 144.7h1.6v1.6h-1.6zM124.7 144.7h1.6v1.6h-1.6zM125.7 144.7h1.6v1.6h-1.6zM126.7 144.7h1.6v1.6h-1.6zM127.7 144.7h1.6v1.6h-1.6zM128.7 144.7h1.6v1.6h-1.6zM129.7 144.7h1.6v1.6h-1.6zM130.7 144.7h1.6v1.6h-1.6zM131.7 144.7h1.6v1.6h-1.6zM132.7 144.7h1.6v1.6h-1.6zM133.7 144.7h1.6v1.6h-1.6zM134.7 144.7h1.6v1.6h-1.6zM135.7 144.7h1.6v1.6h-1.6zM136.7 144.7h1.6v1.6h-1.6zM137.7 144.7h1.6v1.6h-1.6zM138.7 144.7h1.6v1.6h-1.6zM139.7 144.7h1.6v1.6h-1.6zM140.7 144.7h1.6v1.6h-1.6zM141.7 144.7h1.6v1.6h-1.6zM110.7 145.7h1.6v1.6h-1.6zM111.7 145.7h1.6v1.6h-1.6zM113.7 145.7h1.6v1.6h-1.6zM114.7 145.7h1.6v1.6h-1.6zM115.7 145.7h1.6v1.6h-1.6zM116.7 145.7h1.6v1.6h-1.6zM117.7 145.7h1.6v1.6h-1.6zM118.7 145.7h1.6v1.6h-1.6zM119.7 145.7h1.6v1.6h-1.6zM120.7 145.7h1.6v1.6h-1.6zM121.7 145.7h1.6v1.6h-1.6zM122.7 145.7h1.6v1.6h-1.6zM123.7 145.7h1.6v1.6h-1.6zM124.7 145.7h1.6v1.6h-1.6zM125.7 145.7h1.6v1.6h-1.6zM126.7 145.7h1.6v1.6h-1.6zM127.7 145.7h1.6v1.6h-1.6zM128.7 145.7h1.6v1.6h-1.6zM129.7 145.7h1.6v1.6h-1.6zM130.7 145.7h1.6v1.6h-1.6zM131.7 145.7h1.6v1.6h-1.6zM132.7 145.7h1.6v1.6h-1.6zM134.7 145.7h1.6v1.6h-1.6zM135.7 145.7h1.6v1.6h-1.6zM136.7 145.7h1.6v1.6h-1.6zM137.7 145.7h1.6v1.6h-1.6zM138.7 145.7h1.6v1.6h-1.6zM139.7 145.7h1.6v1.6h-1.6zM140.7 145.7h1.6v1.6h-1.6zM141.7 145.7h1.6v1.6h-1.6zM111.7 146.7h1.6v1.6h-1.6zM113.7 146.7h1.6v1.6h-1.6zM115.7 146.7h1.6v1.6h-1.6zM116.7 146.7h1.6v1.6h-1.6zM117.7 146.7h1.6v1.6h-1.6zM118.7 146.7h1.6v1.6h-1.6zM119.7 146.7h1.6v1.6h-1.6zM120.7 146.7h1.6v1.6h-1.6zM122.7 146.7h1.6v1.6h-1.6zM123.7 146.7h1.6v1.6h-1.6zM124.7 146.7h1.6v1.6h-1.6zM126.7 146.7h1.6v1.6h-1.6zM127.7 146.7h1.6v1.6h-1.6zM128.7 146.7h1.6v1.6h-1.6zM129.7 146.7h1.6v1.6h-1.6zM130.7 146.7h1.6v1.6h-1.6zM131.7 146.7h1.6v1.6h-1.6zM132.7 146.7h1.6v1.6h-1.6zM133.7 146.7h1.6v1.6h-1.6zM134.7 146.7h1.6v1.6h-1.6zM135.7 146.7h1.6v1.6h-1.6zM137.7 146.7h1.6v1.6h-1.6zM138.7 146.7h1.6v1.6h-1.6zM139.7 146.7h1.6v1.6h-1.6zM140.7 146.7h1.6v1.6h-1.6zM141.7 146.7h1.6v1.6h-1.6zM111.7 147.7h1.6v1.6h-1.6zM112.7 147.7h1.6v1.6h-1.6zM113.7 147.7h1.6v1.6h-1.6zM114.7 147.7h1.6v1.6h-1.6zM116.7 147.7h1.6v1.6h-1.6zM117.7 147.7h1.6v1.6h-1.6zM118.7 147.7h1.6v1.6h-1.6zM119.7 147.7h1.6v1.6h-1.6zM120.7 147.7h1.6v1.6h-1.6zM123.7 147.7h1.6v1.6h-1.6zM124.7 147.7h1.6v1.6h-1.6zM126.7 147.7h1.6v1.6h-1.6zM128.7 147.7h1.6v1.6h-1.6zM130.7 147.7h1.6v1.6h-1.6zM131.7 147.7h1.6v1.6h-1.6zM132.7 147.7h1.6v1.6h-1.6zM133.7 147.7h1.6v1.6h-1.6zM135.7 147.7h1.6v1.6h-1.6zM136.7 147.7h1.6v1.6h-1.6zM137.7 147.7h1.6v1.6h-1.6zM138.7 147.7h1.6v1.6h-1.6zM114.7 148.7h1.6v1.6h-1.6zM116.7 148.7h1.6v1.6h-1.6zM117.7 148.7h1.6v1.6h-1.6zM118.7 148.7h1.6v1.6h-1.6zM119.7 148.7h1.6v1.6h-1.6zM121.7 148.7h1.6v1.6h-1.6zM124.7 148.7h1.6v1.6h-1.6zM125.7 148.7h1.6v1.6h-1.6zM127.7 148.7h1.6v1.6h-1.6zM128.7 148.7h1.6v1.6h-1.6zM129.7 148.7h1.6v1.6h-1.6zM130.7 148.7h1.6v1.6h-1.6zM131.7 148.7h1.6v1.6h-1.6zM132.7 148.7h1.6v1.6h-1.6zM133.7 148.7h1.6v1.6h-1.6zM134.7 148.7h1.6v1.6h-1.6zM135.7 148.7h1.6v1.6h-1.6zM136.7 148.7h1.6v1.6h-1.6zM116.7 149.7h1.6v1.6h-1.6zM122.7 149.7h1.6v1.6h-1.6zM125.7 149.7h1.6v1.6h-1.6zM127.7 149.7h1.6v1.6h-1.6zM129.7 149.7h1.6v1.6h-1.6zM132.7 149.7h1.6v1.6h-1.6zM133.7 149.7h1.6v1.6h-1.6zM134.7 149.7h1.6v1.6h-1.6zM135.7 149.7h1.6v1.6h-1.6z" fill="#fe0000"/><path d="M138.7 43.7h1.6v1.6h-1.6zM142.7 43.7h1.6v1.6h-1.6zM123.7 44.7h1.6v1.6h-1.6zM127.7 44.7h1.6v1.6h-1.6zM129.7 44.7h1.6v1.6h-1.6zM130.7 44.7h1.6v1.6h-1.6zM132.7 44.7h1.6v1.6h-1.6zM135.7 44.7h1.6v1.6h-1.6zM137.7 44.7h1.6v1.6h-1.6zM140.7 44.7h1.6v1.6h-1.6zM142.7 44.7h1.6v1.6h-1.6zM148.7 44.7h1.6v1.6h-1.6zM126.7 45.7h1.6v1.6h-1.6zM149.7 45.7h1.6v1.6h-1.6zM122.7 46.7h1.6v1.6h-1.6zM150.7 46.7h1.6v1.6h-1.6zM117.7 47.7h1.6v1.6h-1.6zM121.7 47.7h1.6v1.6h-1.6zM123.7 47.7h1.6v1.6h-1.6zM116.7 49.7h1.6v1.6h-1.6zM150.7 49.7h1.6v1.6h-1.6zM116.7 54.7h1.6v1.6h-1.6zM150.7 55.7h1.6v1.6h-1.6zM115.7 56.7h1.6v1.6h-1.6zM116.7 56.7h1.6v1.6h-1.6zM150.7 56.7h1.6v1.6h-1.6zM116.7 58.7h1.6v1.6h-1.6zM116.7 60.7h1.6v1.6h-1.6zM103.7 61.7h1.6v1.6h-1.6zM108.7 61.7h1.6v1.6h-1.6zM114.7 62.7h1.6v1.6h-1.6zM115.7 62.7h1.6v1.6h-1.6zM116.7 63.7h1.6v1.6h-1.6zM103.7 64.7h1.6v1.6h-1.6zM101.7 65.7h1.6v1.6h-1.6zM108.7 65.7h1.6v1.6h-1.6zM150.7 65.7h1.6v1.6h-1.6zM116.7 66.7h1.6v1.6h-1.6zM151.7 67.7h1.6v1.6h-1.6zM107.7 68.7h1.6v1.6h-1.6zM116.7 68.7h1.6v1.6h-1.6zM149.7 68.7h1.6v1.6h-1.6zM146.7 71.7h1.6v1.6h-1.6zM112.7 72.7h1.6v1.6h-1.6zM115.7 72.7h1.6v1.6h-1.6zM116.7 72.7h1.6v1.6h-1.6zM146.7 72.7h1.6v1.6h-1.6zM113.7 73.7h1.6v1.6h-1.6zM146.7 73.7h1.6v1.6h-1.6zM106.7 74.7h1.6v1.6h-1.6zM108.7 75.7h1.6v1.6h-1.6zM113.7 75.7h1.6v1.6h-1.6zM117.7 75.7h1.6v1.6h-1.6zM144.7 75.7h1.6v1.6h-1.6zM146.7 75.7h1.6v1.6h-1.6zM103.7 76.7h1.6v1.6h-1.6zM107.7 76.7h1.6v1.6h-1.6zM114.7 76.7h1.6v1.6h-1.6zM117.7 76.7h1.6v1.6h-1.6zM124.7 76.7h1.6v1.6h-1.6zM144.7 76.7h1.6v1.6h-1.6zM117.7 77.7h1.6v1.6h-1.6zM118.7 77.7h1.6v1.6h-1.6zM120.7 77.7h1.6v1.6h-1.6zM144.7 77.7h1.6v1.6h-1.6zM120.7 78.7h1.6v1.6h-1.6zM122.7 78.7h1.6v1.6h-1.6zM144.7 78.7h1.6v1.6h-1.6zM145.7 78.7h1.6v1.6h-1.6zM147.7 78.7h1.6v1.6h-1.6zM111.7 79.7h1.6v1.6h-1.6zM117.7 79.7h1.6v1.6h-1.6zM119.7 79.7h1.6v1.6h-1.6zM115.7 80.7h1.6v1.6h-1.6zM116.7 80.7h1.6v1.6h-1.6zM120.7 80.7h1.6v1.6h-1.6zM122.7 80.7h1.6v1.6h-1.6zM101.7 81.7h1.6v1.6h-1.6zM110.7 81.7h1.6v1.6h-1.6zM114.7 81.7h1.6v1.6h-1.6zM144.7 81.7h1.6v1.6h-1.6zM104.7 82.7h1.6v1.6h-1.6zM108.7 82.7h1.6v1.6h-1.6zM111.7 82.7h1.6v1.6h-1.6zM118.7 82.7h1.6v1.6h-1.6zM123.7 82.7h1.6v1.6h-1.6zM144.7 82.7h1.6v1.6h-1.6zM104.7 83.7h1.6v1.6h-1.6zM118.7 83.7h1.6v1.6h-1.6zM122.7 83.7h1.6v1.6h-1.6zM106.7 84.7h1.6v1.6h-1.6zM117.7 84.7h1.6v1.6h-1.6zM121.7 84.7h1.6v1.6h-1.6zM122.7 84.7h1.6v1.6h-1.6zM124.7 84.7h1.6v1.6h-1.6zM143.7 84.7h1.6v1.6h-1.6zM144.7 84.7h1.6v1.6h-1.6zM114.7 85.7h1.6v1.6h-1.6zM116.7 85.7h1.6v1.6h-1.6zM117.7 85.7h1.6v1.6h-1.6zM119.7 85.7h1.6v1.6h-1.6zM123.7 85.7h1.6v1.6h-1.6zM124.7 85.7h1.6v1.6h-1.6zM143.7 85.7h1.6v1.6h-1.6zM102.7 86.7h1.6v1.6h-1.6zM114.7 86.7h1.6v1.6h-1.6zM116.7 86.7h1.6v1.6h-1.6zM123.7 86.7h1.6v1.6h-1.6zM146.7 86.7h1.6v1.6h-1.6zM99.7 87.7h1.6v1.6h-1.6zM112.7 87.7h1.6v1.6h-1.6zM122.7 87.7h1.6v1.6h-1.6zM145.7 87.7h1.6v1.6h-1.6zM107.7 88.7h1.6v1.6h-1.6zM110.7 88.7h1.6v1.6h-1.6zM114.7 88.7h1.6v1.6h-1.6zM120.7 88.7h1.6v1.6h-1.6zM143.7 88.7h1.6v1.6h-1.6zM146.7 88.7h1.6v1.6h-1.6zM115.7 89.7h1.6v1.6h-1.6zM116.7 89.7h1.6v1.6h-1.6zM119.7 89.7h1.6v1.6h-1.6zM120.7 89.7h1.6v1.6h-1.6zM122.7 89.7h1.6v1.6h-1.6zM125.7 89.7h1.6v1.6h-1.6zM118.7 90.7h1.6v1.6h-1.6zM119.7 90.7h1.6v1.6h-1.6zM120.7 90.7h1.6v1.6h-1.6zM122.7 90.7h1.6v1.6h-1.6zM127.7 90.7h1.6v1.6h-1.6zM109.7 91.7h1.6v1.6h-1.6zM113.7 91.7h1.6v1.6h-1.6zM114.7 91.7h1.6v1.6h-1.6zM119.7 91.7h1.6v1.6h-1.6zM120.7 91.7h1.6v1.6h-1.6zM123.7 91.7h1.6v1.6h-1.6zM124.7 91.7h1.6v1.6h-1.6zM125.7 91.7h1.6v1.6h-1.6zM126.7 91.7h1.6v1.6h-1.6zM144.7 91.7h1.6v1.6h-1.6zM113.7 92.7h1.6v1.6h-1.6zM116.7 92.7h1.6v1.6h-1.6zM120.7 92.7h1.6v1.6h-1.6zM122.7 92.7h1.6v1.6h-1.6zM124.7 92.7h1.6v1.6h-1.6zM116.7 93.7h1.6v1.6h-1.6zM122.7 93.7h1.6v1.6h-1.6zM124.7 93.7h1.6v1.6h-1.6zM143.7 93.7h1.6v1.6h-1.6zM112.7 94.7h1.6v1.6h-1.6zM113.7 94.7h1.6v1.6h-1.6zM120.7 94.7h1.6v1.6h-1.6zM122.7 94.7h1.6v1.6h-1.6zM125.7 94.7h1.6v1.6h-1.6zM126.7 94.7h1.6v1.6h-1.6zM143.7 94.7h1.6v1.6h-1.6zM101.7 95.7h1.6v1.6h-1.6zM114.7 95.7h1.6v1.6h-1.6zM115.7 95.7h1.6v1.6h-1.6zM116.7 95.7h1.6v1.6h-1.6zM121.7 95.7h1.6v1.6h-1.6zM124.7 95.7h1.6v1.6h-1.6zM126.7 95.7h1.6v1.6h-1.6zM143.7 95.7h1.6v1.6h-1.6zM111.7 96.7h1.6v1.6h-1.6zM116.7 96.7h1.6v1.6h-1.6zM117.7 96.7h1.6v1.6h-1.6zM120.7 96.7h1.6v1.6h-1.6zM121.7 96.7h1.6v1.6h-1.6zM124.7 96.7h1.6v1.6h-1.6zM126.7 96.7h1.6v1.6h-1.6zM128.7 96.7h1.6v1.6h-1.6zM154.7 96.7h1.6v1.6h-1.6zM111.7 97.7h1.6v1.6h-1.6zM113.7 97.7h1.6v1.6h-1.6zM114.7 97.7h1.6v1.6h-1.6zM116.7 97.7h1.6v1.6h-1.6zM122.7 97.7h1.6v1.6h-1.6zM123.7 97.7h1.6v1.6h-1.6zM124.7 97.7h1.6v1.6h-1.6zM125.7 97.7h1.6v1.6h-1.6zM126.7 97.7h1.6v1.6h-1.6zM129.7 97.7h1.6v1.6h-1.6zM134.7 97.7h1.6v1.6h-1.6zM135.7 97.7h1.6v1.6h-1.6zM136.7 97.7h1.6v1.6h-1.6zM138.7 97.7h1.6v1.6h-1.6zM141.7 97.7h1.6v1.6h-1.6zM111.7 98.7h1.6v1.6h-1.6zM120.7 98.7h1.6v1.6h-1.6zM121.7 98.7h1.6v1.6h-1.6zM122.7 98.7h1.6v1.6h-1.6zM125.7 98.7h1.6v1.6h-1.6zM126.7 98.7h1.6v1.6h-1.6zM131.7 98.7h1.6v1.6h-1.6zM135.7 98.7h1.6v1.6h-1.6zM138.7 98.7h1.6v1.6h-1.6zM139.7 98.7h1.6v1.6h-1.6zM109.7 99.7h1.6v1.6h-1.6zM113.7 99.7h1.6v1.6h-1.6zM119.7 99.7h1.6v1.6h-1.6zM125.7 99.7h1.6v1.6h-1.6zM127.7 99.7h1.6v1.6h-1.6zM128.7 99.7h1.6v1.6h-1.6zM136.7 99.7h1.6v1.6h-1.6zM137.7 99.7h1.6v1.6h-1.6zM95.7 100.7h1.6v1.6h-1.6zM112.7 100.7h1.6v1.6h-1.6zM114.7 100.7h1.6v1.6h-1.6zM116.7 100.7h1.6v1.6h-1.6zM119.7 100.7h1.6v1.6h-1.6zM121.7 100.7h1.6v1.6h-1.6zM122.7 100.7h1.6v1.6h-1.6zM124.7 100.7h1.6v1.6h-1.6zM127.7 100.7h1.6v1.6h-1.6zM129.7 100.7h1.6v1.6h-1.6zM134.7 100.7h1.6v1.6h-1.6zM140.7 100.7h1.6v1.6h-1.6zM143.7 100.7h1.6v1.6h-1.6zM104.7 101.7h1.6v1.6h-1.6zM110.7 101.7h1.6v1.6h-1.6zM113.7 101.7h1.6v1.6h-1.6zM114.7 101.7h1.6v1.6h-1.6zM116.7 101.7h1.6v1.6h-1.6zM118.7 101.7h1.6v1.6h-1.6zM119.7 101.7h1.6v1.6h-1.6zM121.7 101.7h1.6v1.6h-1.6zM125.7 101.7h1.6v1.6h-1.6zM127.7 101.7h1.6v1.6h-1.6zM128.7 101.7h1.6v1.6h-1.6zM129.7 101.7h1.6v1.6h-1.6zM131.7 101.7h1.6v1.6h-1.6zM132.7 101.7h1.6v1.6h-1.6zM133.7 101.7h1.6v1.6h-1.6zM135.7 101.7h1.6v1.6h-1.6zM143.7 101.7h1.6v1.6h-1.6zM103.7 102.7h1.6v1.6h-1.6zM112.7 102.7h1.6v1.6h-1.6zM114.7 102.7h1.6v1.6h-1.6zM116.7 102.7h1.6v1.6h-1.6zM118.7 102.7h1.6v1.6h-1.6zM120.7 102.7h1.6v1.6h-1.6zM122.7 102.7h1.6v1.6h-1.6zM127.7 102.7h1.6v1.6h-1.6zM130.7 102.7h1.6v1.6h-1.6zM133.7 102.7h1.6v1.6h-1.6zM134.7 102.7h1.6v1.6h-1.6zM136.7 102.7h1.6v1.6h-1.6zM137.7 102.7h1.6v1.6h-1.6zM138.7 102.7h1.6v1.6h-1.6zM139.7 102.7h1.6v1.6h-1.6zM101.7 103.7h1.6v1.6h-1.6zM104.7 103.7h1.6v1.6h-1.6zM105.7 103.7h1.6v1.6h-1.6zM109.7 103.7h1.6v1.6h-1.6zM110.7 103.7h1.6v1.6h-1.6zM113.7 103.7h1.6v1.6h-1.6zM116.7 103.7h1.6v1.6h-1.6zM117.7 103.7h1.6v1.6h-1.6zM118.7 103.7h1.6v1.6h-1.6zM121.7 103.7h1.6v1.6h-1.6zM122.7 103.7h1.6v1.6h-1.6zM124.7 103.7h1.6v1.6h-1.6zM127.7 103.7h1.6v1.6h-1.6zM128.7 103.7h1.6v1.6h-1.6zM131.7 103.7h1.6v1.6h-1.6zM135.7 103.7h1.6v1.6h-1.6zM139.7 103.7h1.6v1.6h-1.6zM114.7 104.7h1.6v1.6h-1.6zM115.7 104.7h1.6v1.6h-1.6zM122.7 104.7h1.6v1.6h-1.6zM123.7 104.7h1.6v1.6h-1.6zM124.7 104.7h1.6v1.6h-1.6zM125.7 104.7h1.6v1.6h-1.6zM129.7 104.7h1.6v1.6h-1.6zM130.7 104.7h1.6v1.6h-1.6zM132.7 104.7h1.6v1.6h-1.6zM139.7 104.7h1.6v1.6h-1.6zM140.7 104.7h1.6v1.6h-1.6zM106.7 105.7h1.6v1.6h-1.6zM107.7 105.7h1.6v1.6h-1.6zM112.7 105.7h1.6v1.6h-1.6zM114.7 105.7h1.6v1.6h-1.6zM115.7 105.7h1.6v1.6h-1.6zM116.7 105.7h1.6v1.6h-1.6zM119.7 105.7h1.6v1.6h-1.6zM124.7 105.7h1.6v1.6h-1.6zM125.7 105.7h1.6v1.6h-1.6zM130.7 105.7h1.6v1.6h-1.6zM153.7 105.7h1.6v1.6h-1.6zM105.7 106.7h1.6v1.6h-1.6zM107.7 106.7h1.6v1.6h-1.6zM111.7 106.7h1.6v1.6h-1.6zM114.7 106.7h1.6v1.6h-1.6zM115.7 106.7h1.6v1.6h-1.6zM118.7 106.7h1.6v1.6h-1.6zM119.7 106.7h1.6v1.6h-1.6zM121.7 106.7h1.6v1.6h-1.6zM123.7 106.7h1.6v1.6h-1.6zM124.7 106.7h1.6v1.6h-1.6zM128.7 106.7h1.6v1.6h-1.6zM129.7 106.7h1.6v1.6h-1.6zM130.7 106.7h1.6v1.6h-1.6zM132.7 106.7h1.6v1.6h-1.6zM133.7 106.7h1.6v1.6h-1.6zM138.7 106.7h1.6v1.6h-1.6zM141.7 106.7h1.6v1.6h-1.6zM96.7 107.7h1.6v1.6h-1.6zM112.7 107.7h1.6v1.6h-1.6zM114.7 107.7h1.6v1.6h-1.6zM115.7 107.7h1.6v1.6h-1.6zM119.7 107.7h1.6v1.6h-1.6zM127.7 107.7h1.6v1.6h-1.6zM129.7 107.7h1.6v1.6h-1.6zM131.7 107.7h1.6v1.6h-1.6zM133.7 107.7h1.6v1.6h-1.6zM138.7 107.7h1.6v1.6h-1.6zM141.7 107.7h1.6v1.6h-1.6zM94.7 108.7h1.6v1.6h-1.6zM109.7 108.7h1.6v1.6h-1.6zM110.7 108.7h1.6v1.6h-1.6zM112.7 108.7h1.6v1.6h-1.6zM116.7 108.7h1.6v1.6h-1.6zM119.7 108.7h1.6v1.6h-1.6zM129.7 108.7h1.6v1.6h-1.6zM130.7 108.7h1.6v1.6h-1.6zM132.7 108.7h1.6v1.6h-1.6zM134.7 108.7h1.6v1.6h-1.6zM136.7 108.7h1.6v1.6h-1.6zM137.7 108.7h1.6v1.6h-1.6zM139.7 108.7h1.6v1.6h-1.6zM142.7 108.7h1.6v1.6h-1.6zM101.7 109.7h1.6v1.6h-1.6zM104.7 109.7h1.6v1.6h-1.6zM110.7 109.7h1.6v1.6h-1.6zM113.7 109.7h1.6v1.6h-1.6zM114.7 109.7h1.6v1.6h-1.6zM118.7 109.7h1.6v1.6h-1.6zM121.7 109.7h1.6v1.6h-1.6zM136.7 109.7h1.6v1.6h-1.6zM150.7 109.7h1.6v1.6h-1.6zM99.7 110.7h1.6v1.6h-1.6zM107.7 110.7h1.6v1.6h-1.6zM110.7 110.7h1.6v1.6h-1.6zM112.7 110.7h1.6v1.6h-1.6zM115.7 110.7h1.6v1.6h-1.6zM116.7 110.7h1.6v1.6h-1.6zM119.7 110.7h1.6v1.6h-1.6zM121.7 110.7h1.6v1.6h-1.6zM123.7 110.7h1.6v1.6h-1.6zM124.7 110.7h1.6v1.6h-1.6zM126.7 110.7h1.6v1.6h-1.6zM132.7 110.7h1.6v1.6h-1.6zM142.7 110.7h1.6v1.6h-1.6zM99.7 111.7h1.6v1.6h-1.6zM112.7 111.7h1.6v1.6h-1.6zM119.7 111.7h1.6v1.6h-1.6zM122.7 111.7h1.6v1.6h-1.6zM123.7 111.7h1.6v1.6h-1.6zM124.7 111.7h1.6v1.6h-1.6zM125.7 111.7h1.6v1.6h-1.6zM131.7 111.7h1.6v1.6h-1.6zM132.7 111.7h1.6v1.6h-1.6zM134.7 111.7h1.6v1.6h-1.6zM138.7 111.7h1.6v1.6h-1.6zM102.7 112.7h1.6v1.6h-1.6zM107.7 112.7h1.6v1.6h-1.6zM110.7 112.7h1.6v1.6h-1.6zM115.7 112.7h1.6v1.6h-1.6zM118.7 112.7h1.6v1.6h-1.6zM120.7 112.7h1.6v1.6h-1.6zM125.7 112.7h1.6v1.6h-1.6zM128.7 112.7h1.6v1.6h-1.6zM130.7 112.7h1.6v1.6h-1.6zM134.7 112.7h1.6v1.6h-1.6zM135.7 112.7h1.6v1.6h-1.6zM138.7 112.7h1.6v1.6h-1.6zM140.7 112.7h1.6v1.6h-1.6zM141.7 112.7h1.6v1.6h-1.6zM143.7 112.7h1.6v1.6h-1.6zM151.7 112.7h1.6v1.6h-1.6zM152.7 112.7h1.6v1.6h-1.6zM155.7 112.7h1.6v1.6h-1.6zM103.7 113.7h1.6v1.6h-1.6zM111.7 113.7h1.6v1.6h-1.6zM115.7 113.7h1.6v1.6h-1.6zM122.7 113.7h1.6v1.6h-1.6zM124.7 113.7h1.6v1.6h-1.6zM125.7 113.7h1.6v1.6h-1.6zM131.7 113.7h1.6v1.6h-1.6zM133.7 113.7h1.6v1.6h-1.6zM141.7 113.7h1.6v1.6h-1.6zM103.7 114.7h1.6v1.6h-1.6zM112.7 114.7h1.6v1.6h-1.6zM113.7 114.7h1.6v1.6h-1.6zM114.7 114.7h1.6v1.6h-1.6zM120.7 114.7h1.6v1.6h-1.6zM121.7 114.7h1.6v1.6h-1.6zM126.7 114.7h1.6v1.6h-1.6zM127.7 114.7h1.6v1.6h-1.6zM128.7 114.7h1.6v1.6h-1.6zM131.7 114.7h1.6v1.6h-1.6zM133.7 114.7h1.6v1.6h-1.6zM135.7 114.7h1.6v1.6h-1.6zM137.7 114.7h1.6v1.6h-1.6zM138.7 114.7h1.6v1.6h-1.6zM111.7 115.7h1.6v1.6h-1.6zM115.7 115.7h1.6v1.6h-1.6zM121.7 115.7h1.6v1.6h-1.6zM127.7 115.7h1.6v1.6h-1.6zM131.7 115.7h1.6v1.6h-1.6zM132.7 115.7h1.6v1.6h-1.6zM136.7 115.7h1.6v1.6h-1.6zM143.7 115.7h1.6v1.6h-1.6zM154.7 115.7h1.6v1.6h-1.6zM104.7 116.7h1.6v1.6h-1.6zM109.7 116.7h1.6v1.6h-1.6zM111.7 116.7h1.6v1.6h-1.6zM113.7 116.7h1.6v1.6h-1.6zM116.7 116.7h1.6v1.6h-1.6zM126.7 116.7h1.6v1.6h-1.6zM128.7 116.7h1.6v1.6h-1.6zM129.7 116.7h1.6v1.6h-1.6zM131.7 116.7h1.6v1.6h-1.6zM135.7 116.7h1.6v1.6h-1.6zM136.7 116.7h1.6v1.6h-1.6zM138.7 116.7h1.6v1.6h-1.6zM139.7 116.7h1.6v1.6h-1.6zM105.7 117.7h1.6v1.6h-1.6zM106.7 117.7h1.6v1.6h-1.6zM108.7 117.7h1.6v1.6h-1.6zM112.7 117.7h1.6v1.6h-1.6zM115.7 117.7h1.6v1.6h-1.6zM118.7 117.7h1.6v1.6h-1.6zM121.7 117.7h1.6v1.6h-1.6zM123.7 117.7h1.6v1.6h-1.6zM133.7 117.7h1.6v1.6h-1.6zM134.7 117.7h1.6v1.6h-1.6zM137.7 117.7h1.6v1.6h-1.6zM98.7 118.7h1.6v1.6h-1.6zM106.7 118.7h1.6v1.6h-1.6zM107.7 118.7h1.6v1.6h-1.6zM109.7 118.7h1.6v1.6h-1.6zM110.7 118.7h1.6v1.6h-1.6zM113.7 118.7h1.6v1.6h-1.6zM114.7 118.7h1.6v1.6h-1.6zM117.7 118.7h1.6v1.6h-1.6zM124.7 118.7h1.6v1.6h-1.6zM126.7 118.7h1.6v1.6h-1.6zM127.7 118.7h1.6v1.6h-1.6zM128.7 118.7h1.6v1.6h-1.6zM129.7 118.7h1.6v1.6h-1.6zM132.7 118.7h1.6v1.6h-1.6zM134.7 118.7h1.6v1.6h-1.6zM136.7 118.7h1.6v1.6h-1.6zM138.7 118.7h1.6v1.6h-1.6zM140.7 118.7h1.6v1.6h-1.6zM142.7 118.7h1.6v1.6h-1.6zM100.7 119.7h1.6v1.6h-1.6zM103.7 119.7h1.6v1.6h-1.6zM104.7 119.7h1.6v1.6h-1.6zM111.7 119.7h1.6v1.6h-1.6zM112.7 119.7h1.6v1.6h-1.6zM113.7 119.7h1.6v1.6h-1.6zM115.7 119.7h1.6v1.6h-1.6zM118.7 119.7h1.6v1.6h-1.6zM119.7 119.7h1.6v1.6h-1.6zM120.7 119.7h1.6v1.6h-1.6zM121.7 119.7h1.6v1.6h-1.6zM125.7 119.7h1.6v1.6h-1.6zM126.7 119.7h1.6v1.6h-1.6zM127.7 119.7h1.6v1.6h-1.6zM133.7 119.7h1.6v1.6h-1.6zM137.7 119.7h1.6v1.6h-1.6zM108.7 120.7h1.6v1.6h-1.6zM109.7 120.7h1.6v1.6h-1.6zM110.7 120.7h1.6v1.6h-1.6zM111.7 120.7h1.6v1.6h-1.6zM112.7 120.7h1.6v1.6h-1.6zM140.7 120.7h1.6v1.6h-1.6zM100.7 121.7h1.6v1.6h-1.6zM110.7 121.7h1.6v1.6h-1.6zM142.7 121.7h1.6v1.6h-1.6zM104.7 122.7h1.6v1.6h-1.6zM142.7 122.7h1.6v1.6h-1.6zM103.7 123.7h1.6v1.6h-1.6zM104.7 123.7h1.6v1.6h-1.6zM108.7 123.7h1.6v1.6h-1.6zM109.7 123.7h1.6v1.6h-1.6zM142.7 123.7h1.6v1.6h-1.6zM142.7 124.7h1.6v1.6h-1.6zM100.7 125.7h1.6v1.6h-1.6zM106.7 125.7h1.6v1.6h-1.6zM109.7 125.7h1.6v1.6h-1.6zM142.7 125.7h1.6v1.6h-1.6zM143.7 125.7h1.6v1.6h-1.6zM142.7 126.7h1.6v1.6h-1.6zM108.7 127.7h1.6v1.6h-1.6zM142.7 127.7h1.6v1.6h-1.6zM98.7 128.7h1.6v1.6h-1.6zM107.7 129.7h1.6v1.6h-1.6zM108.7 129.7h1.6v1.6h-1.6zM145.7 129.7h1.6v1.6h-1.6zM143.7 130.7h1.6v1.6h-1.6zM143.7 132.7h1.6v1.6h-1.6zM145.7 132.7h1.6v1.6h-1.6zM107.7 133.7h1.6v1.6h-1.6zM143.7 134.7h1.6v1.6h-1.6zM108.7 135.7h1.6v1.6h-1.6zM143.7 136.7h1.6v1.6h-1.6zM108.7 138.7h1.6v1.6h-1.6zM143.7 138.7h1.6v1.6h-1.6zM108.7 139.7h1.6v1.6h-1.6zM143.7 139.7h1.6v1.6h-1.6zM108.7 140.7h1.6v1.6h-1.6zM106.7 141.7h1.6v1.6h-1.6zM143.7 141.7h1.6v1.6h-1.6zM107.7 142.7h1.6v1.6h-1.6zM106.7 143.7h1.6v1.6h-1.6zM144.7 143.7h1.6v1.6h-1.6zM109.7 144.7h1.6v1.6h-1.6zM142.7 145.7h1.6v1.6h-1.6zM108.7 146.7h1.6v1.6h-1.6zM109.7 147.7h1.6v1.6h-1.6zM142.7 147.7h1.6v1.6h-1.6zM109.7 149.7h1.6v1.6h-1.6zM112.7 149.7h1.6v1.6h-1.6zM139.7 149.7h1.6v1.6h-1.6zM141.7 149.7h1.6v1.6h-1.6zM142.7 149.7h1.6v1.6h-1.6zM113.7 150.7h1.6v1.6h-1.6zM118.7 150.7h1.6v1.6h-1.6zM119.7 150.7h1.6v1.6h-1.6zM120.7 150.7h1.6v1.6h-1.6zM128.7 150.7h1.6v1.6h-1.6zM129.7 150.7h1.6v1.6h-1.6zM135.7 150.7h1.6v1.6h-1.6zM138.7 150.7h1.6v1.6h-1.6zM112.7 151.7h1.6v1.6h-1.6zM117.7 151.7h1.6v1.6h-1.6zM131.7 151.7h1.6v1.6h-1.6zM132.7 151.7h1.6v1.6h-1.6zM135.7 151.7h1.6v1.6h-1.6zM120.7 152.7h1.6v1.6h-1.6zM123.7 152.7h1.6v1.6h-1.6zM125.7 152.7h1.6v1.6h-1.6zM130.7 153.7h1.6v1.6h-1.6zM129.7 154.7h1.6v1.6h-1.6zM132.7 154.7h1.6v1.6h-1.6zM119.7 155.7h1.6v1.6h-1.6zM126.7 155.7h1.6v1.6h-1.6zM103.7 156.7h1.6v1.6h-1.6zM127.7 156.7h1.6v1.6h-1.6zM135.7 156.7h1.6v1.6h-1.6zM137.7 156.7h1.6v1.6h-1.6zM130.7 157.7h1.6v1.6h-1.6zM110.7 158.7h1.6v1.6h-1.6zM124.7 158.7h1.6v1.6h-1.6zM147.7 159.7h1.6v1.6h-1.6zM134.7 162.7h1.6v1.6h-1.6z" fill="#f43a3a"/><path d="M103.7 132.7h1.6v1.6h-1.6zM103.7 135.7h1.6v1.6h-1.6zM96.7 135.7h1.6v1.6h-1.6zM108.7 132.7h1.6v1.6h-1.6zM102.7 133.7h1.6v1.6h-1.6zM98.7 133.7h1.6v1.6h-1.6zM101.7 133.7h1.6v1.6h-1.6zM107.7 134.7h1.6v1.6h-1.6zM105.7 132.7h1.6v1.6h-1.6zM102.7 134.7h1.6v1.6h-1.6zM99.7 134.7h1.6v1.6h-1.6zM97.7 133.7h1.6v1.6h-1.6zM107.7 135.7h1.6v1.6h-1.6zM103.7 134.7h1.6v1.6h-1.6zM105.7 134.7h1.6v1.6h-1.6zM111.7 132.7h1.6v1.6h-1.6zM111.7 135.7h1.6v1.6h-1.6zM106.7 134.7h1.6v1.6h-1.6zM100.7 134.7h1.6v1.6h-1.6zM112.7 133.7h1.6v1.6h-1.6zM106.7 133.7h1.6v1.6h-1.6zM103.7 133.7h1.6v1.6h-1.6zM110.7 132.7h1.6v1.6h-1.6zM111.7 133.7h1.6v1.6h-1.6zM98.7 134.7h1.6v1.6h-1.6zM99.7 133.7h1.6v1.6h-1.6zM111.7 131.7h1.6v1.6h-1.6zM108.7 133.7h1.6v1.6h-1.6zM105.7 133.7h1.6v1.6h-1.6zM101.7 134.7h1.6v1.6h-1.6zM104.7 133.7h1.6v1.6h-1.6z" fill="#f26a6a"/><path d="M365.7 43.7h1.6v1.6h-1.6zM366.7 43.7h1.6v1.6h-1.6zM367.7 43.7h1.6v1.6h-1.6zM368.7 43.7h1.6v1.6h-1.6zM369.7 43.7h1.6v1.6h-1.6zM370.7 43.7h1.6v1.6h-1.6zM372.7 43.7h1.6v1.6h-1.6zM373.7 43.7h1.6v1.6h-1.6zM374.7 43.7h1.6v1.6h-1.6zM346.7 44.7h1.6v1.6h-1.6zM347.7 44.7h1.6v1.6h-1.6zM348.7 44.7h1.6v1.6h-1.6zM349.7 44.7h1.6v1.6h-1.6zM350.7 44.7h1.6v1.6h-1.6zM351.7 44.7h1.6v1.6h-1.6zM352.7 44.7h1.6v1.6h-1.6zM353.7 44.7h1.6v1.6h-1.6zM354.7 44.7h1.6v1.6h-1.6zM355.7 44.7h1.6v1.6h-1.6zM356.7 44.7h1.6v1.6h-1.6zM357.7 44.7h1.6v1.6h-1.6zM359.7 44.7h1.6v1.6h-1.6zM360.7 44.7h1.6v1.6h-1.6zM361.7 44.7h1.6v1.6h-1.6zM364.7 44.7h1.6v1.6h-1.6zM365.7 44.7h1.6v1.6h-1.6zM366.7 44.7h1.6v1.6h-1.6zM367.7 44.7h1.6v1.6h-1.6zM368.7 44.7h1.6v1.6h-1.6zM369.7 44.7h1.6v1.6h-1.6zM370.7 44.7h1.6v1.6h-1.6zM371.7 44.7h1.6v1.6h-1.6zM372.7 44.7h1.6v1.6h-1.6zM373.7 44.7h1.6v1.6h-1.6zM374.7 44.7h1.6v1.6h-1.6zM339.7 45.7h1.6v1.6h-1.6zM340.7 45.7h1.6v1.6h-1.6zM344.7 45.7h1.6v1.6h-1.6zM345.7 45.7h1.6v1.6h-1.6zM346.7 45.7h1.6v1.6h-1.6zM347.7 45.7h1.6v1.6h-1.6zM348.7 45.7h1.6v1.6h-1.6zM349.7 45.7h1.6v1.6h-1.6zM350.7 45.7h1.6v1.6h-1.6zM351.7 45.7h1.6v1.6h-1.6zM352.7 45.7h1.6v1.6h-1.6zM353.7 45.7h1.6v1.6h-1.6zM354.7 45.7h1.6v1.6h-1.6zM355.7 45.7h1.6v1.6h-1.6zM356.7 45.7h1.6v1.6h-1.6zM357.7 45.7h1.6v1.6h-1.6zM358.7 45.7h1.6v1.6h-1.6zM359.7 45.7h1.6v1.6h-1.6zM360.7 45.7h1.6v1.6h-1.6zM361.7 45.7h1.6v1.6h-1.6zM362.7 45.7h1.6v1.6h-1.6zM364.7 45.7h1.6v1.6h-1.6zM365.7 45.7h1.6v1.6h-1.6zM366.7 45.7h1.6v1.6h-1.6zM367.7 45.7h1.6v1.6h-1.6zM368.7 45.7h1.6v1.6h-1.6zM369.7 45.7h1.6v1.6h-1.6zM370.7 45.7h1.6v1.6h-1.6zM371.7 45.7h1.6v1.6h-1.6zM373.7 45.7h1.6v1.6h-1.6zM374.7 45.7h1.6v1.6h-1.6zM375.7 45.7h1.6v1.6h-1.6zM376.7 45.7h1.6v1.6h-1.6zM339.7 46.7h1.6v1.6h-1.6zM342.7 46.7h1.6v1.6h-1.6zM343.7 46.7h1.6v1.6h-1.6zM344.7 46.7h1.6v1.6h-1.6zM345.7 46.7h1.6v1.6h-1.6zM346.7 46.7h1.6v1.6h-1.6zM347.7 46.7h1.6v1.6h-1.6zM348.7 46.7h1.6v1.6h-1.6zM349.7 46.7h1.6v1.6h-1.6zM350.7 46.7h1.6v1.6h-1.6zM351.7 46.7h1.6v1.6h-1.6zM352.7 46.7h1.6v1.6h-1.6zM353.7 46.7h1.6v1.6h-1.6zM354.7 46.7h1.6v1.6h-1.6zM355.7 46.7h1.6v1.6h-1.6zM356.7 46.7h1.6v1.6h-1.6zM357.7 46.7h1.6v1.6h-1.6zM358.7 46.7h1.6v1.6h-1.6zM359.7 46.7h1.6v1.6h-1.6zM360.7 46.7h1.6v1.6h-1.6zM361.7 46.7h1.6v1.6h-1.6zM362.7 46.7h1.6v1.6h-1.6zM364.7 46.7h1.6v1.6h-1.6zM365.7 46.7h1.6v1.6h-1.6zM366.7 46.7h1.6v1.6h-1.6zM367.7 46.7h1.6v1.6h-1.6zM368.7 46.7h1.6v1.6h-1.6zM369.7 46.7h1.6v1.6h-1.6zM370.7 46.7h1.6v1.6h-1.6zM371.7 46.7h1.6v1.6h-1.6zM372.7 46.7h1.6v1.6h-1.6zM373.7 46.7h1.6v1.6h-1.6zM374.7 46.7h1.6v1.6h-1.6zM375.7 46.7h1.6v1.6h-1.6zM336.7 47.7h1.6v1.6h-1.6zM343.7 47.7h1.6v1.6h-1.6zM344.7 47.7h1.6v1.6h-1.6zM345.7 47.7h1.6v1.6h-1.6zM346.7 47.7h1.6v1.6h-1.6zM347.7 47.7h1.6v1.6h-1.6zM348.7 47.7h1.6v1.6h-1.6zM349.7 47.7h1.6v1.6h-1.6zM350.7 47.7h1.6v1.6h-1.6zM351.7 47.7h1.6v1.6h-1.6zM352.7 47.7h1.6v1.6h-1.6zM353.7 47.7h1.6v1.6h-1.6zM354.7 47.7h1.6v1.6h-1.6zM355.7 47.7h1.6v1.6h-1.6zM356.7 47.7h1.6v1.6h-1.6zM357.7 47.7h1.6v1.6h-1.6zM358.7 47.7h1.6v1.6h-1.6zM359.7 47.7h1.6v1.6h-1.6zM360.7 47.7h1.6v1.6h-1.6zM361.7 47.7h1.6v1.6h-1.6zM364.7 47.7h1.6v1.6h-1.6zM366.7 47.7h1.6v1.6h-1.6zM367.7 47.7h1.6v1.6h-1.6zM368.7 47.7h1.6v1.6h-1.6zM369.7 47.7h1.6v1.6h-1.6zM370.7 47.7h1.6v1.6h-1.6zM371.7 47.7h1.6v1.6h-1.6zM372.7 47.7h1.6v1.6h-1.6zM373.7 47.7h1.6v1.6h-1.6zM374.7 47.7h1.6v1.6h-1.6zM375.7 47.7h1.6v1.6h-1.6zM376.7 47.7h1.6v1.6h-1.6zM336.7 48.7h1.6v1.6h-1.6zM337.7 48.7h1.6v1.6h-1.6zM338.7 48.7h1.6v1.6h-1.6zM339.7 48.7h1.6v1.6h-1.6zM340.7 48.7h1.6v1.6h-1.6zM344.7 48.7h1.6v1.6h-1.6zM345.7 48.7h1.6v1.6h-1.6zM346.7 48.7h1.6v1.6h-1.6zM347.7 48.7h1.6v1.6h-1.6zM348.7 48.7h1.6v1.6h-1.6zM349.7 48.7h1.6v1.6h-1.6zM350.7 48.7h1.6v1.6h-1.6zM351.7 48.7h1.6v1.6h-1.6zM352.7 48.7h1.6v1.6h-1.6zM353.7 48.7h1.6v1.6h-1.6zM354.7 48.7h1.6v1.6h-1.6zM355.7 48.7h1.6v1.6h-1.6zM356.7 48.7h1.6v1.6h-1.6zM357.7 48.7h1.6v1.6h-1.6zM358.7 48.7h1.6v1.6h-1.6zM359.7 48.7h1.6v1.6h-1.6zM360.7 48.7h1.6v1.6h-1.6zM361.7 48.7h1.6v1.6h-1.6zM364.7 48.7h1.6v1.6h-1.6zM365.7 48.7h1.6v1.6h-1.6zM366.7 48.7h1.6v1.6h-1.6zM367.7 48.7h1.6v1.6h-1.6zM368.7 48.7h1.6v1.6h-1.6zM369.7 48.7h1.6v1.6h-1.6zM370.7 48.7h1.6v1.6h-1.6zM371.7 48.7h1.6v1.6h-1.6zM372.7 48.7h1.6v1.6h-1.6zM373.7 48.7h1.6v1.6h-1.6zM374.7 48.7h1.6v1.6h-1.6zM375.7 48.7h1.6v1.6h-1.6zM337.7 49.7h1.6v1.6h-1.6zM338.7 49.7h1.6v1.6h-1.6zM339.7 49.7h1.6v1.6h-1.6zM340.7 49.7h1.6v1.6h-1.6zM342.7 49.7h1.6v1.6h-1.6zM343.7 49.7h1.6v1.6h-1.6zM344.7 49.7h1.6v1.6h-1.6zM345.7 49.7h1.6v1.6h-1.6zM347.7 49.7h1.6v1.6h-1.6zM348.7 49.7h1.6v1.6h-1.6zM349.7 49.7h1.6v1.6h-1.6zM350.7 49.7h1.6v1.6h-1.6zM351.7 49.7h1.6v1.6h-1.6zM352.7 49.7h1.6v1.6h-1.6zM353.7 49.7h1.6v1.6h-1.6zM354.7 49.7h1.6v1.6h-1.6zM355.7 49.7h1.6v1.6h-1.6zM356.7 49.7h1.6v1.6h-1.6zM357.7 49.7h1.6v1.6h-1.6zM358.7 49.7h1.6v1.6h-1.6zM359.7 49.7h1.6v1.6h-1.6zM360.7 49.7h1.6v1.6h-1.6zM361.7 49.7h1.6v1.6h-1.6zM362.7 49.7h1.6v1.6h-1.6zM364.7 49.7h1.6v1.6h-1.6zM365.7 49.7h1.6v1.6h-1.6zM366.7 49.7h1.6v1.6h-1.6zM367.7 49.7h1.6v1.6h-1.6zM368.7 49.7h1.6v1.6h-1.6zM369.7 49.7h1.6v1.6h-1.6zM370.7 49.7h1.6v1.6h-1.6zM371.7 49.7h1.6v1.6h-1.6zM372.7 49.7h1.6v1.6h-1.6zM373.7 49.7h1.6v1.6h-1.6zM374.7 49.7h1.6v1.6h-1.6zM375.7 49.7h1.6v1.6h-1.6zM376.7 49.7h1.6v1.6h-1.6zM338.7 50.7h1.6v1.6h-1.6zM339.7 50.7h1.6v1.6h-1.6zM342.7 50.7h1.6v1.6h-1.6zM343.7 50.7h1.6v1.6h-1.6zM344.7 50.7h1.6v1.6h-1.6zM345.7 50.7h1.6v1.6h-1.6zM346.7 50.7h1.6v1.6h-1.6zM347.7 50.7h1.6v1.6h-1.6zM348.7 50.7h1.6v1.6h-1.6zM349.7 50.7h1.6v1.6h-1.6zM350.7 50.7h1.6v1.6h-1.6zM351.7 50.7h1.6v1.6h-1.6zM352.7 50.7h1.6v1.6h-1.6zM353.7 50.7h1.6v1.6h-1.6zM354.7 50.7h1.6v1.6h-1.6zM355.7 50.7h1.6v1.6h-1.6zM356.7 50.7h1.6v1.6h-1.6zM357.7 50.7h1.6v1.6h-1.6zM358.7 50.7h1.6v1.6h-1.6zM359.7 50.7h1.6v1.6h-1.6zM360.7 50.7h1.6v1.6h-1.6zM361.7 50.7h1.6v1.6h-1.6zM362.7 50.7h1.6v1.6h-1.6zM364.7 50.7h1.6v1.6h-1.6zM365.7 50.7h1.6v1.6h-1.6zM366.7 50.7h1.6v1.6h-1.6zM367.7 50.7h1.6v1.6h-1.6zM368.7 50.7h1.6v1.6h-1.6zM369.7 50.7h1.6v1.6h-1.6zM370.7 50.7h1.6v1.6h-1.6zM371.7 50.7h1.6v1.6h-1.6zM372.7 50.7h1.6v1.6h-1.6zM373.7 50.7h1.6v1.6h-1.6zM374.7 50.7h1.6v1.6h-1.6zM375.7 50.7h1.6v1.6h-1.6zM376.7 50.7h1.6v1.6h-1.6zM336.7 51.7h1.6v1.6h-1.6zM337.7 51.7h1.6v1.6h-1.6zM340.7 51.7h1.6v1.6h-1.6zM341.7 51.7h1.6v1.6h-1.6zM342.7 51.7h1.6v1.6h-1.6zM343.7 51.7h1.6v1.6h-1.6zM344.7 51.7h1.6v1.6h-1.6zM345.7 51.7h1.6v1.6h-1.6zM346.7 51.7h1.6v1.6h-1.6zM347.7 51.7h1.6v1.6h-1.6zM349.7 51.7h1.6v1.6h-1.6zM350.7 51.7h1.6v1.6h-1.6zM351.7 51.7h1.6v1.6h-1.6zM352.7 51.7h1.6v1.6h-1.6zM353.7 51.7h1.6v1.6h-1.6zM354.7 51.7h1.6v1.6h-1.6zM355.7 51.7h1.6v1.6h-1.6zM356.7 51.7h1.6v1.6h-1.6zM357.7 51.7h1.6v1.6h-1.6zM358.7 51.7h1.6v1.6h-1.6zM359.7 51.7h1.6v1.6h-1.6zM360.7 51.7h1.6v1.6h-1.6zM361.7 51.7h1.6v1.6h-1.6zM362.7 51.7h1.6v1.6h-1.6zM364.7 51.7h1.6v1.6h-1.6zM365.7 51.7h1.6v1.6h-1.6zM366.7 51.7h1.6v1.6h-1.6zM367.7 51.7h1.6v1.6h-1.6zM368.7 51.7h1.6v1.6h-1.6zM369.7 51.7h1.6v1.6h-1.6zM370.7 51.7h1.6v1.6h-1.6zM371.7 51.7h1.6v1.6h-1.6zM372.7 51.7h1.6v1.6h-1.6zM373.7 51.7h1.6v1.6h-1.6zM374.7 51.7h1.6v1.6h-1.6zM375.7 51.7h1.6v1.6h-1.6zM376.7 51.7h1.6v1.6h-1.6zM337.7 52.7h1.6v1.6h-1.6zM338.7 52.7h1.6v1.6h-1.6zM339.7 52.7h1.6v1.6h-1.6zM340.7 52.7h1.6v1.6h-1.6zM341.7 52.7h1.6v1.6h-1.6zM342.7 52.7h1.6v1.6h-1.6zM343.7 52.7h1.6v1.6h-1.6zM344.7 52.7h1.6v1.6h-1.6zM345.7 52.7h1.6v1.6h-1.6zM346.7 52.7h1.6v1.6h-1.6zM347.7 52.7h1.6v1.6h-1.6zM348.7 52.7h1.6v1.6h-1.6zM349.7 52.7h1.6v1.6h-1.6zM350.7 52.7h1.6v1.6h-1.6zM351.7 52.7h1.6v1.6h-1.6zM352.7 52.7h1.6v1.6h-1.6zM353.7 52.7h1.6v1.6h-1.6zM354.7 52.7h1.6v1.6h-1.6zM355.7 52.7h1.6v1.6h-1.6zM356.7 52.7h1.6v1.6h-1.6zM357.7 52.7h1.6v1.6h-1.6zM358.7 52.7h1.6v1.6h-1.6zM359.7 52.7h1.6v1.6h-1.6zM360.7 52.7h1.6v1.6h-1.6zM361.7 52.7h1.6v1.6h-1.6zM362.7 52.7h1.6v1.6h-1.6zM364.7 52.7h1.6v1.6h-1.6zM365.7 52.7h1.6v1.6h-1.6zM366.7 52.7h1.6v1.6h-1.6zM367.7 52.7h1.6v1.6h-1.6zM368.7 52.7h1.6v1.6h-1.6zM369.7 52.7h1.6v1.6h-1.6zM370.7 52.7h1.6v1.6h-1.6zM371.7 52.7h1.6v1.6h-1.6zM372.7 52.7h1.6v1.6h-1.6zM373.7 52.7h1.6v1.6h-1.6zM374.7 52.7h1.6v1.6h-1.6zM375.7 52.7h1.6v1.6h-1.6zM337.7 53.7h1.6v1.6h-1.6zM339.7 53.7h1.6v1.6h-1.6zM341.7 53.7h1.6v1.6h-1.6zM342.7 53.7h1.6v1.6h-1.6zM343.7 53.7h1.6v1.6h-1.6zM344.7 53.7h1.6v1.6h-1.6zM345.7 53.7h1.6v1.6h-1.6zM346.7 53.7h1.6v1.6h-1.6zM347.7 53.7h1.6v1.6h-1.6zM348.7 53.7h1.6v1.6h-1.6zM349.7 53.7h1.6v1.6h-1.6zM350.7 53.7h1.6v1.6h-1.6zM351.7 53.7h1.6v1.6h-1.6zM352.7 53.7h1.6v1.6h-1.6zM353.7 53.7h1.6v1.6h-1.6zM354.7 53.7h1.6v1.6h-1.6zM355.7 53.7h1.6v1.6h-1.6zM356.7 53.7h1.6v1.6h-1.6zM357.7 53.7h1.6v1.6h-1.6zM358.7 53.7h1.6v1.6h-1.6zM359.7 53.7h1.6v1.6h-1.6zM360.7 53.7h1.6v1.6h-1.6zM361.7 53.7h1.6v1.6h-1.6zM362.7 53.7h1.6v1.6h-1.6zM364.7 53.7h1.6v1.6h-1.6zM365.7 53.7h1.6v1.6h-1.6zM366.7 53.7h1.6v1.6h-1.6zM367.7 53.7h1.6v1.6h-1.6zM368.7 53.7h1.6v1.6h-1.6zM369.7 53.7h1.6v1.6h-1.6zM370.7 53.7h1.6v1.6h-1.6zM371.7 53.7h1.6v1.6h-1.6zM372.7 53.7h1.6v1.6h-1.6zM373.7 53.7h1.6v1.6h-1.6zM374.7 53.7h1.6v1.6h-1.6zM375.7 53.7h1.6v1.6h-1.6zM376.7 53.7h1.6v1.6h-1.6zM336.7 54.7h1.6v1.6h-1.6zM337.7 54.7h1.6v1.6h-1.6zM338.7 54.7h1.6v1.6h-1.6zM339.7 54.7h1.6v1.6h-1.6zM342.7 54.7h1.6v1.6h-1.6zM343.7 54.7h1.6v1.6h-1.6zM344.7 54.7h1.6v1.6h-1.6zM345.7 54.7h1.6v1.6h-1.6zM346.7 54.7h1.6v1.6h-1.6zM347.7 54.7h1.6v1.6h-1.6zM348.7 54.7h1.6v1.6h-1.6zM349.7 54.7h1.6v1.6h-1.6zM350.7 54.7h1.6v1.6h-1.6zM351.7 54.7h1.6v1.6h-1.6zM352.7 54.7h1.6v1.6h-1.6zM353.7 54.7h1.6v1.6h-1.6zM354.7 54.7h1.6v1.6h-1.6zM355.7 54.7h1.6v1.6h-1.6zM356.7 54.7h1.6v1.6h-1.6zM357.7 54.7h1.6v1.6h-1.6zM358.7 54.7h1.6v1.6h-1.6zM359.7 54.7h1.6v1.6h-1.6zM361.7 54.7h1.6v1.6h-1.6zM362.7 54.7h1.6v1.6h-1.6zM364.7 54.7h1.6v1.6h-1.6zM365.7 54.7h1.6v1.6h-1.6zM366.7 54.7h1.6v1.6h-1.6zM367.7 54.7h1.6v1.6h-1.6zM368.7 54.7h1.6v1.6h-1.6zM369.7 54.7h1.6v1.6h-1.6zM370.7 54.7h1.6v1.6h-1.6zM371.7 54.7h1.6v1.6h-1.6zM372.7 54.7h1.6v1.6h-1.6zM373.7 54.7h1.6v1.6h-1.6zM374.7 54.7h1.6v1.6h-1.6zM375.7 54.7h1.6v1.6h-1.6zM376.7 54.7h1.6v1.6h-1.6zM338.7 55.7h1.6v1.6h-1.6zM339.7 55.7h1.6v1.6h-1.6zM340.7 55.7h1.6v1.6h-1.6zM342.7 55.7h1.6v1.6h-1.6zM344.7 55.7h1.6v1.6h-1.6zM345.7 55.7h1.6v1.6h-1.6zM346.7 55.7h1.6v1.6h-1.6zM347.7 55.7h1.6v1.6h-1.6zM348.7 55.7h1.6v1.6h-1.6zM349.7 55.7h1.6v1.6h-1.6zM350.7 55.7h1.6v1.6h-1.6zM351.7 55.7h1.6v1.6h-1.6zM352.7 55.7h1.6v1.6h-1.6zM353.7 55.7h1.6v1.6h-1.6zM354.7 55.7h1.6v1.6h-1.6zM355.7 55.7h1.6v1.6h-1.6zM356.7 55.7h1.6v1.6h-1.6zM357.7 55.7h1.6v1.6h-1.6zM358.7 55.7h1.6v1.6h-1.6zM359.7 55.7h1.6v1.6h-1.6zM360.7 55.7h1.6v1.6h-1.6zM361.7 55.7h1.6v1.6h-1.6zM362.7 55.7h1.6v1.6h-1.6zM364.7 55.7h1.6v1.6h-1.6zM365.7 55.7h1.6v1.6h-1.6zM366.7 55.7h1.6v1.6h-1.6zM367.7 55.7h1.6v1.6h-1.6zM368.7 55.7h1.6v1.6h-1.6zM369.7 55.7h1.6v1.6h-1.6zM370.7 55.7h1.6v1.6h-1.6zM371.7 55.7h1.6v1.6h-1.6zM373.7 55.7h1.6v1.6h-1.6zM374.7 55.7h1.6v1.6h-1.6zM375.7 55.7h1.6v1.6h-1.6zM339.7 56.7h1.6v1.6h-1.6zM340.7 56.7h1.6v1.6h-1.6zM342.7 56.7h1.6v1.6h-1.6zM343.7 56.7h1.6v1.6h-1.6zM344.7 56.7h1.6v1.6h-1.6zM345.7 56.7h1.6v1.6h-1.6zM346.7 56.7h1.6v1.6h-1.6zM347.7 56.7h1.6v1.6h-1.6zM348.7 56.7h1.6v1.6h-1.6zM349.7 56.7h1.6v1.6h-1.6zM350.7 56.7h1.6v1.6h-1.6zM351.7 56.7h1.6v1.6h-1.6zM352.7 56.7h1.6v1.6h-1.6zM353.7 56.7h1.6v1.6h-1.6zM354.7 56.7h1.6v1.6h-1.6zM355.7 56.7h1.6v1.6h-1.6zM356.7 56.7h1.6v1.6h-1.6zM357.7 56.7h1.6v1.6h-1.6zM358.7 56.7h1.6v1.6h-1.6zM359.7 56.7h1.6v1.6h-1.6zM360.7 56.7h1.6v1.6h-1.6zM361.7 56.7h1.6v1.6h-1.6zM362.7 56.7h1.6v1.6h-1.6zM364.7 56.7h1.6v1.6h-1.6zM365.7 56.7h1.6v1.6h-1.6zM366.7 56.7h1.6v1.6h-1.6zM367.7 56.7h1.6v1.6h-1.6zM368.7 56.7h1.6v1.6h-1.6zM369.7 56.7h1.6v1.6h-1.6zM370.7 56.7h1.6v1.6h-1.6zM371.7 56.7h1.6v1.6h-1.6zM372.7 56.7h1.6v1.6h-1.6zM373.7 56.7h1.6v1.6h-1.6zM374.7 56.7h1.6v1.6h-1.6zM375.7 56.7h1.6v1.6h-1.6zM376.7 56.7h1.6v1.6h-1.6zM338.7 57.7h1.6v1.6h-1.6zM341.7 57.7h1.6v1.6h-1.6zM343.7 57.7h1.6v1.6h-1.6zM344.7 57.7h1.6v1.6h-1.6zM345.7 57.7h1.6v1.6h-1.6zM346.7 57.7h1.6v1.6h-1.6zM347.7 57.7h1.6v1.6h-1.6zM348.7 57.7h1.6v1.6h-1.6zM349.7 57.7h1.6v1.6h-1.6zM350.7 57.7h1.6v1.6h-1.6zM351.7 57.7h1.6v1.6h-1.6zM352.7 57.7h1.6v1.6h-1.6zM353.7 57.7h1.6v1.6h-1.6zM354.7 57.7h1.6v1.6h-1.6zM355.7 57.7h1.6v1.6h-1.6zM356.7 57.7h1.6v1.6h-1.6zM357.7 57.7h1.6v1.6h-1.6zM358.7 57.7h1.6v1.6h-1.6zM359.7 57.7h1.6v1.6h-1.6zM360.7 57.7h1.6v1.6h-1.6zM361.7 57.7h1.6v1.6h-1.6zM364.7 57.7h1.6v1.6h-1.6zM365.7 57.7h1.6v1.6h-1.6zM366.7 57.7h1.6v1.6h-1.6zM367.7 57.7h1.6v1.6h-1.6zM368.7 57.7h1.6v1.6h-1.6zM369.7 57.7h1.6v1.6h-1.6zM370.7 57.7h1.6v1.6h-1.6zM371.7 57.7h1.6v1.6h-1.6zM372.7 57.7h1.6v1.6h-1.6zM373.7 57.7h1.6v1.6h-1.6zM374.7 57.7h1.6v1.6h-1.6zM375.7 57.7h1.6v1.6h-1.6zM376.7 57.7h1.6v1.6h-1.6zM336.7 58.7h1.6v1.6h-1.6zM340.7 58.7h1.6v1.6h-1.6zM341.7 58.7h1.6v1.6h-1.6zM342.7 58.7h1.6v1.6h-1.6zM343.7 58.7h1.6v1.6h-1.6zM345.7 58.7h1.6v1.6h-1.6zM346.7 58.7h1.6v1.6h-1.6zM347.7 58.7h1.6v1.6h-1.6zM348.7 58.7h1.6v1.6h-1.6zM349.7 58.7h1.6v1.6h-1.6zM350.7 58.7h1.6v1.6h-1.6zM351.7 58.7h1.6v1.6h-1.6zM352.7 58.7h1.6v1.6h-1.6zM353.7 58.7h1.6v1.6h-1.6zM354.7 58.7h1.6v1.6h-1.6zM355.7 58.7h1.6v1.6h-1.6zM356.7 58.7h1.6v1.6h-1.6zM357.7 58.7h1.6v1.6h-1.6zM358.7 58.7h1.6v1.6h-1.6zM359.7 58.7h1.6v1.6h-1.6zM360.7 58.7h1.6v1.6h-1.6zM361.7 58.7h1.6v1.6h-1.6zM364.7 58.7h1.6v1.6h-1.6zM365.7 58.7h1.6v1.6h-1.6zM366.7 58.7h1.6v1.6h-1.6zM367.7 58.7h1.6v1.6h-1.6zM368.7 58.7h1.6v1.6h-1.6zM369.7 58.7h1.6v1.6h-1.6zM370.7 58.7h1.6v1.6h-1.6zM371.7 58.7h1.6v1.6h-1.6zM372.7 58.7h1.6v1.6h-1.6zM373.7 58.7h1.6v1.6h-1.6zM374.7 58.7h1.6v1.6h-1.6zM375.7 58.7h1.6v1.6h-1.6zM336.7 59.7h1.6v1.6h-1.6zM337.7 59.7h1.6v1.6h-1.6zM340.7 59.7h1.6v1.6h-1.6zM341.7 59.7h1.6v1.6h-1.6zM342.7 59.7h1.6v1.6h-1.6zM344.7 59.7h1.6v1.6h-1.6zM345.7 59.7h1.6v1.6h-1.6zM346.7 59.7h1.6v1.6h-1.6zM347.7 59.7h1.6v1.6h-1.6zM348.7 59.7h1.6v1.6h-1.6zM349.7 59.7h1.6v1.6h-1.6zM350.7 59.7h1.6v1.6h-1.6zM351.7 59.7h1.6v1.6h-1.6zM352.7 59.7h1.6v1.6h-1.6zM353.7 59.7h1.6v1.6h-1.6zM354.7 59.7h1.6v1.6h-1.6zM355.7 59.7h1.6v1.6h-1.6zM356.7 59.7h1.6v1.6h-1.6zM357.7 59.7h1.6v1.6h-1.6zM358.7 59.7h1.6v1.6h-1.6zM359.7 59.7h1.6v1.6h-1.6zM360.7 59.7h1.6v1.6h-1.6zM361.7 59.7h1.6v1.6h-1.6zM362.7 59.7h1.6v1.6h-1.6zM364.7 59.7h1.6v1.6h-1.6zM365.7 59.7h1.6v1.6h-1.6zM366.7 59.7h1.6v1.6h-1.6zM367.7 59.7h1.6v1.6h-1.6zM368.7 59.7h1.6v1.6h-1.6zM369.7 59.7h1.6v1.6h-1.6zM370.7 59.7h1.6v1.6h-1.6zM371.7 59.7h1.6v1.6h-1.6zM372.7 59.7h1.6v1.6h-1.6zM373.7 59.7h1.6v1.6h-1.6zM374.7 59.7h1.6v1.6h-1.6zM375.7 59.7h1.6v1.6h-1.6zM338.7 60.7h1.6v1.6h-1.6zM341.7 60.7h1.6v1.6h-1.6zM343.7 60.7h1.6v1.6h-1.6zM344.7 60.7h1.6v1.6h-1.6zM345.7 60.7h1.6v1.6h-1.6zM346.7 60.7h1.6v1.6h-1.6zM347.7 60.7h1.6v1.6h-1.6zM348.7 60.7h1.6v1.6h-1.6zM349.7 60.7h1.6v1.6h-1.6zM350.7 60.7h1.6v1.6h-1.6zM351.7 60.7h1.6v1.6h-1.6zM352.7 60.7h1.6v1.6h-1.6zM353.7 60.7h1.6v1.6h-1.6zM354.7 60.7h1.6v1.6h-1.6zM355.7 60.7h1.6v1.6h-1.6zM356.7 60.7h1.6v1.6h-1.6zM357.7 60.7h1.6v1.6h-1.6zM358.7 60.7h1.6v1.6h-1.6zM359.7 60.7h1.6v1.6h-1.6zM360.7 60.7h1.6v1.6h-1.6zM361.7 60.7h1.6v1.6h-1.6zM362.7 60.7h1.6v1.6h-1.6zM364.7 60.7h1.6v1.6h-1.6zM365.7 60.7h1.6v1.6h-1.6zM366.7 60.7h1.6v1.6h-1.6zM367.7 60.7h1.6v1.6h-1.6zM368.7 60.7h1.6v1.6h-1.6zM369.7 60.7h1.6v1.6h-1.6zM370.7 60.7h1.6v1.6h-1.6zM371.7 60.7h1.6v1.6h-1.6zM372.7 60.7h1.6v1.6h-1.6zM373.7 60.7h1.6v1.6h-1.6zM374.7 60.7h1.6v1.6h-1.6zM376.7 60.7h1.6v1.6h-1.6zM336.7 61.7h1.6v1.6h-1.6zM337.7 61.7h1.6v1.6h-1.6zM338.7 61.7h1.6v1.6h-1.6zM339.7 61.7h1.6v1.6h-1.6zM340.7 61.7h1.6v1.6h-1.6zM341.7 61.7h1.6v1.6h-1.6zM342.7 61.7h1.6v1.6h-1.6zM343.7 61.7h1.6v1.6h-1.6zM344.7 61.7h1.6v1.6h-1.6zM345.7 61.7h1.6v1.6h-1.6zM346.7 61.7h1.6v1.6h-1.6zM347.7 61.7h1.6v1.6h-1.6zM348.7 61.7h1.6v1.6h-1.6zM349.7 61.7h1.6v1.6h-1.6zM350.7 61.7h1.6v1.6h-1.6zM351.7 61.7h1.6v1.6h-1.6zM352.7 61.7h1.6v1.6h-1.6zM353.7 61.7h1.6v1.6h-1.6zM354.7 61.7h1.6v1.6h-1.6zM355.7 61.7h1.6v1.6h-1.6zM356.7 61.7h1.6v1.6h-1.6zM357.7 61.7h1.6v1.6h-1.6zM358.7 61.7h1.6v1.6h-1.6zM359.7 61.7h1.6v1.6h-1.6zM360.7 61.7h1.6v1.6h-1.6zM361.7 61.7h1.6v1.6h-1.6zM364.7 61.7h1.6v1.6h-1.6zM365.7 61.7h1.6v1.6h-1.6zM366.7 61.7h1.6v1.6h-1.6zM367.7 61.7h1.6v1.6h-1.6zM368.7 61.7h1.6v1.6h-1.6zM369.7 61.7h1.6v1.6h-1.6zM370.7 61.7h1.6v1.6h-1.6zM371.7 61.7h1.6v1.6h-1.6zM372.7 61.7h1.6v1.6h-1.6zM373.7 61.7h1.6v1.6h-1.6zM374.7 61.7h1.6v1.6h-1.6zM376.7 61.7h1.6v1.6h-1.6zM336.7 62.7h1.6v1.6h-1.6zM337.7 62.7h1.6v1.6h-1.6zM338.7 62.7h1.6v1.6h-1.6zM339.7 62.7h1.6v1.6h-1.6zM341.7 62.7h1.6v1.6h-1.6zM344.7 62.7h1.6v1.6h-1.6zM345.7 62.7h1.6v1.6h-1.6zM346.7 62.7h1.6v1.6h-1.6zM347.7 62.7h1.6v1.6h-1.6zM348.7 62.7h1.6v1.6h-1.6zM349.7 62.7h1.6v1.6h-1.6zM350.7 62.7h1.6v1.6h-1.6zM351.7 62.7h1.6v1.6h-1.6zM352.7 62.7h1.6v1.6h-1.6zM353.7 62.7h1.6v1.6h-1.6zM354.7 62.7h1.6v1.6h-1.6zM355.7 62.7h1.6v1.6h-1.6zM356.7 62.7h1.6v1.6h-1.6zM357.7 62.7h1.6v1.6h-1.6zM358.7 62.7h1.6v1.6h-1.6zM359.7 62.7h1.6v1.6h-1.6zM360.7 62.7h1.6v1.6h-1.6zM361.7 62.7h1.6v1.6h-1.6zM364.7 62.7h1.6v1.6h-1.6zM365.7 62.7h1.6v1.6h-1.6zM366.7 62.7h1.6v1.6h-1.6zM367.7 62.7h1.6v1.6h-1.6zM368.7 62.7h1.6v1.6h-1.6zM369.7 62.7h1.6v1.6h-1.6zM370.7 62.7h1.6v1.6h-1.6zM371.7 62.7h1.6v1.6h-1.6zM372.7 62.7h1.6v1.6h-1.6zM373.7 62.7h1.6v1.6h-1.6zM374.7 62.7h1.6v1.6h-1.6zM375.7 62.7h1.6v1.6h-1.6zM336.7 63.7h1.6v1.6h-1.6zM337.7 63.7h1.6v1.6h-1.6zM338.7 63.7h1.6v1.6h-1.6zM339.7 63.7h1.6v1.6h-1.6zM340.7 63.7h1.6v1.6h-1.6zM342.7 63.7h1.6v1.6h-1.6zM343.7 63.7h1.6v1.6h-1.6zM344.7 63.7h1.6v1.6h-1.6zM345.7 63.7h1.6v1.6h-1.6zM346.7 63.7h1.6v1.6h-1.6zM347.7 63.7h1.6v1.6h-1.6zM348.7 63.7h1.6v1.6h-1.6zM349.7 63.7h1.6v1.6h-1.6zM350.7 63.7h1.6v1.6h-1.6zM351.7 63.7h1.6v1.6h-1.6zM352.7 63.7h1.6v1.6h-1.6zM353.7 63.7h1.6v1.6h-1.6zM354.7 63.7h1.6v1.6h-1.6zM355.7 63.7h1.6v1.6h-1.6zM356.7 63.7h1.6v1.6h-1.6zM357.7 63.7h1.6v1.6h-1.6zM358.7 63.7h1.6v1.6h-1.6zM359.7 63.7h1.6v1.6h-1.6zM360.7 63.7h1.6v1.6h-1.6zM361.7 63.7h1.6v1.6h-1.6zM362.7 63.7h1.6v1.6h-1.6zM364.7 63.7h1.6v1.6h-1.6zM365.7 63.7h1.6v1.6h-1.6zM366.7 63.7h1.6v1.6h-1.6zM367.7 63.7h1.6v1.6h-1.6zM368.7 63.7h1.6v1.6h-1.6zM369.7 63.7h1.6v1.6h-1.6zM370.7 63.7h1.6v1.6h-1.6zM372.7 63.7h1.6v1.6h-1.6zM373.7 63.7h1.6v1.6h-1.6zM374.7 63.7h1.6v1.6h-1.6zM375.7 63.7h1.6v1.6h-1.6zM336.7 64.7h1.6v1.6h-1.6zM340.7 64.7h1.6v1.6h-1.6zM342.7 64.7h1.6v1.6h-1.6zM343.7 64.7h1.6v1.6h-1.6zM344.7 64.7h1.6v1.6h-1.6zM345.7 64.7h1.6v1.6h-1.6zM346.7 64.7h1.6v1.6h-1.6zM347.7 64.7h1.6v1.6h-1.6zM348.7 64.7h1.6v1.6h-1.6zM349.7 64.7h1.6v1.6h-1.6zM350.7 64.7h1.6v1.6h-1.6zM351.7 64.7h1.6v1.6h-1.6zM352.7 64.7h1.6v1.6h-1.6zM353.7 64.7h1.6v1.6h-1.6zM354.7 64.7h1.6v1.6h-1.6zM355.7 64.7h1.6v1.6h-1.6zM356.7 64.7h1.6v1.6h-1.6zM357.7 64.7h1.6v1.6h-1.6zM358.7 64.7h1.6v1.6h-1.6zM359.7 64.7h1.6v1.6h-1.6zM360.7 64.7h1.6v1.6h-1.6zM361.7 64.7h1.6v1.6h-1.6zM362.7 64.7h1.6v1.6h-1.6zM364.7 64.7h1.6v1.6h-1.6zM365.7 64.7h1.6v1.6h-1.6zM366.7 64.7h1.6v1.6h-1.6zM367.7 64.7h1.6v1.6h-1.6zM368.7 64.7h1.6v1.6h-1.6zM369.7 64.7h1.6v1.6h-1.6zM370.7 64.7h1.6v1.6h-1.6zM371.7 64.7h1.6v1.6h-1.6zM372.7 64.7h1.6v1.6h-1.6zM373.7 64.7h1.6v1.6h-1.6zM374.7 64.7h1.6v1.6h-1.6zM338.7 65.7h1.6v1.6h-1.6zM339.7 65.7h1.6v1.6h-1.6zM341.7 65.7h1.6v1.6h-1.6zM342.7 65.7h1.6v1.6h-1.6zM343.7 65.7h1.6v1.6h-1.6zM344.7 65.7h1.6v1.6h-1.6zM345.7 65.7h1.6v1.6h-1.6zM346.7 65.7h1.6v1.6h-1.6zM347.7 65.7h1.6v1.6h-1.6zM348.7 65.7h1.6v1.6h-1.6zM349.7 65.7h1.6v1.6h-1.6zM350.7 65.7h1.6v1.6h-1.6zM351.7 65.7h1.6v1.6h-1.6zM352.7 65.7h1.6v1.6h-1.6zM353.7 65.7h1.6v1.6h-1.6zM354.7 65.7h1.6v1.6h-1.6zM355.7 65.7h1.6v1.6h-1.6zM356.7 65.7h1.6v1.6h-1.6zM357.7 65.7h1.6v1.6h-1.6zM358.7 65.7h1.6v1.6h-1.6zM359.7 65.7h1.6v1.6h-1.6zM360.7 65.7h1.6v1.6h-1.6zM361.7 65.7h1.6v1.6h-1.6zM362.7 65.7h1.6v1.6h-1.6zM364.7 65.7h1.6v1.6h-1.6zM365.7 65.7h1.6v1.6h-1.6zM366.7 65.7h1.6v1.6h-1.6zM367.7 65.7h1.6v1.6h-1.6zM368.7 65.7h1.6v1.6h-1.6zM369.7 65.7h1.6v1.6h-1.6zM370.7 65.7h1.6v1.6h-1.6zM371.7 65.7h1.6v1.6h-1.6zM372.7 65.7h1.6v1.6h-1.6zM373.7 65.7h1.6v1.6h-1.6zM374.7 65.7h1.6v1.6h-1.6zM375.7 65.7h1.6v1.6h-1.6zM376.7 65.7h1.6v1.6h-1.6zM336.7 66.7h1.6v1.6h-1.6zM337.7 66.7h1.6v1.6h-1.6zM339.7 66.7h1.6v1.6h-1.6zM340.7 66.7h1.6v1.6h-1.6zM342.7 66.7h1.6v1.6h-1.6zM343.7 66.7h1.6v1.6h-1.6zM344.7 66.7h1.6v1.6h-1.6zM345.7 66.7h1.6v1.6h-1.6zM346.7 66.7h1.6v1.6h-1.6zM347.7 66.7h1.6v1.6h-1.6zM348.7 66.7h1.6v1.6h-1.6zM349.7 66.7h1.6v1.6h-1.6zM350.7 66.7h1.6v1.6h-1.6zM351.7 66.7h1.6v1.6h-1.6zM352.7 66.7h1.6v1.6h-1.6zM353.7 66.7h1.6v1.6h-1.6zM354.7 66.7h1.6v1.6h-1.6zM355.7 66.7h1.6v1.6h-1.6zM356.7 66.7h1.6v1.6h-1.6zM357.7 66.7h1.6v1.6h-1.6zM358.7 66.7h1.6v1.6h-1.6zM359.7 66.7h1.6v1.6h-1.6zM360.7 66.7h1.6v1.6h-1.6zM361.7 66.7h1.6v1.6h-1.6zM362.7 66.7h1.6v1.6h-1.6zM363.7 66.7h1.6v1.6h-1.6zM364.7 66.7h1.6v1.6h-1.6zM366.7 66.7h1.6v1.6h-1.6zM367.7 66.7h1.6v1.6h-1.6zM368.7 66.7h1.6v1.6h-1.6zM369.7 66.7h1.6v1.6h-1.6zM370.7 66.7h1.6v1.6h-1.6zM371.7 66.7h1.6v1.6h-1.6zM372.7 66.7h1.6v1.6h-1.6zM373.7 66.7h1.6v1.6h-1.6zM374.7 66.7h1.6v1.6h-1.6zM375.7 66.7h1.6v1.6h-1.6zM376.7 66.7h1.6v1.6h-1.6zM337.7 67.7h1.6v1.6h-1.6zM338.7 67.7h1.6v1.6h-1.6zM339.7 67.7h1.6v1.6h-1.6zM340.7 67.7h1.6v1.6h-1.6zM341.7 67.7h1.6v1.6h-1.6zM342.7 67.7h1.6v1.6h-1.6zM343.7 67.7h1.6v1.6h-1.6zM344.7 67.7h1.6v1.6h-1.6zM345.7 67.7h1.6v1.6h-1.6zM347.7 67.7h1.6v1.6h-1.6zM349.7 67.7h1.6v1.6h-1.6zM350.7 67.7h1.6v1.6h-1.6zM351.7 67.7h1.6v1.6h-1.6zM352.7 67.7h1.6v1.6h-1.6zM353.7 67.7h1.6v1.6h-1.6zM354.7 67.7h1.6v1.6h-1.6zM355.7 67.7h1.6v1.6h-1.6zM356.7 67.7h1.6v1.6h-1.6zM357.7 67.7h1.6v1.6h-1.6zM358.7 67.7h1.6v1.6h-1.6zM359.7 67.7h1.6v1.6h-1.6zM360.7 67.7h1.6v1.6h-1.6zM361.7 67.7h1.6v1.6h-1.6zM362.7 67.7h1.6v1.6h-1.6zM363.7 67.7h1.6v1.6h-1.6zM364.7 67.7h1.6v1.6h-1.6zM365.7 67.7h1.6v1.6h-1.6zM366.7 67.7h1.6v1.6h-1.6zM367.7 67.7h1.6v1.6h-1.6zM368.7 67.7h1.6v1.6h-1.6zM369.7 67.7h1.6v1.6h-1.6zM370.7 67.7h1.6v1.6h-1.6zM371.7 67.7h1.6v1.6h-1.6zM336.7 68.7h1.6v1.6h-1.6zM338.7 68.7h1.6v1.6h-1.6zM339.7 68.7h1.6v1.6h-1.6zM341.7 68.7h1.6v1.6h-1.6zM342.7 68.7h1.6v1.6h-1.6zM348.7 68.7h1.6v1.6h-1.6zM349.7 68.7h1.6v1.6h-1.6zM350.7 68.7h1.6v1.6h-1.6zM351.7 68.7h1.6v1.6h-1.6zM352.7 68.7h1.6v1.6h-1.6zM353.7 68.7h1.6v1.6h-1.6zM354.7 68.7h1.6v1.6h-1.6zM355.7 68.7h1.6v1.6h-1.6zM356.7 68.7h1.6v1.6h-1.6zM357.7 68.7h1.6v1.6h-1.6zM358.7 68.7h1.6v1.6h-1.6zM359.7 68.7h1.6v1.6h-1.6zM360.7 68.7h1.6v1.6h-1.6zM361.7 68.7h1.6v1.6h-1.6zM362.7 68.7h1.6v1.6h-1.6zM364.7 68.7h1.6v1.6h-1.6zM365.7 68.7h1.6v1.6h-1.6zM366.7 68.7h1.6v1.6h-1.6zM367.7 68.7h1.6v1.6h-1.6zM368.7 68.7h1.6v1.6h-1.6zM369.7 68.7h1.6v1.6h-1.6zM370.7 68.7h1.6v1.6h-1.6zM371.7 68.7h1.6v1.6h-1.6zM337.7 69.7h1.6v1.6h-1.6zM338.7 69.7h1.6v1.6h-1.6zM339.7 69.7h1.6v1.6h-1.6zM340.7 69.7h1.6v1.6h-1.6zM342.7 69.7h1.6v1.6h-1.6zM343.7 69.7h1.6v1.6h-1.6zM344.7 69.7h1.6v1.6h-1.6zM349.7 69.7h1.6v1.6h-1.6zM350.7 69.7h1.6v1.6h-1.6zM351.7 69.7h1.6v1.6h-1.6zM352.7 69.7h1.6v1.6h-1.6zM353.7 69.7h1.6v1.6h-1.6zM354.7 69.7h1.6v1.6h-1.6zM355.7 69.7h1.6v1.6h-1.6zM356.7 69.7h1.6v1.6h-1.6zM357.7 69.7h1.6v1.6h-1.6zM358.7 69.7h1.6v1.6h-1.6zM359.7 69.7h1.6v1.6h-1.6zM360.7 69.7h1.6v1.6h-1.6zM361.7 69.7h1.6v1.6h-1.6zM362.7 69.7h1.6v1.6h-1.6zM363.7 69.7h1.6v1.6h-1.6zM364.7 69.7h1.6v1.6h-1.6zM365.7 69.7h1.6v1.6h-1.6zM367.7 69.7h1.6v1.6h-1.6zM368.7 69.7h1.6v1.6h-1.6zM369.7 69.7h1.6v1.6h-1.6zM371.7 69.7h1.6v1.6h-1.6zM337.7 70.7h1.6v1.6h-1.6zM340.7 70.7h1.6v1.6h-1.6zM341.7 70.7h1.6v1.6h-1.6zM342.7 70.7h1.6v1.6h-1.6zM343.7 70.7h1.6v1.6h-1.6zM349.7 70.7h1.6v1.6h-1.6zM350.7 70.7h1.6v1.6h-1.6zM351.7 70.7h1.6v1.6h-1.6zM352.7 70.7h1.6v1.6h-1.6zM353.7 70.7h1.6v1.6h-1.6zM354.7 70.7h1.6v1.6h-1.6zM355.7 70.7h1.6v1.6h-1.6zM356.7 70.7h1.6v1.6h-1.6zM357.7 70.7h1.6v1.6h-1.6zM358.7 70.7h1.6v1.6h-1.6zM359.7 70.7h1.6v1.6h-1.6zM360.7 70.7h1.6v1.6h-1.6zM361.7 70.7h1.6v1.6h-1.6zM362.7 70.7h1.6v1.6h-1.6zM363.7 70.7h1.6v1.6h-1.6zM364.7 70.7h1.6v1.6h-1.6zM365.7 70.7h1.6v1.6h-1.6zM366.7 70.7h1.6v1.6h-1.6zM367.7 70.7h1.6v1.6h-1.6zM368.7 70.7h1.6v1.6h-1.6zM369.7 70.7h1.6v1.6h-1.6zM370.7 70.7h1.6v1.6h-1.6zM348.7 71.7h1.6v1.6h-1.6zM350.7 71.7h1.6v1.6h-1.6zM351.7 71.7h1.6v1.6h-1.6zM352.7 71.7h1.6v1.6h-1.6zM353.7 71.7h1.6v1.6h-1.6zM354.7 71.7h1.6v1.6h-1.6zM355.7 71.7h1.6v1.6h-1.6zM356.7 71.7h1.6v1.6h-1.6zM357.7 71.7h1.6v1.6h-1.6zM358.7 71.7h1.6v1.6h-1.6zM359.7 71.7h1.6v1.6h-1.6zM360.7 71.7h1.6v1.6h-1.6zM361.7 71.7h1.6v1.6h-1.6zM362.7 71.7h1.6v1.6h-1.6zM363.7 71.7h1.6v1.6h-1.6zM364.7 71.7h1.6v1.6h-1.6zM365.7 71.7h1.6v1.6h-1.6zM366.7 71.7h1.6v1.6h-1.6zM367.7 71.7h1.6v1.6h-1.6zM370.7 71.7h1.6v1.6h-1.6zM371.7 71.7h1.6v1.6h-1.6zM348.7 72.7h1.6v1.6h-1.6zM350.7 72.7h1.6v1.6h-1.6zM351.7 72.7h1.6v1.6h-1.6zM352.7 72.7h1.6v1.6h-1.6zM353.7 72.7h1.6v1.6h-1.6zM355.7 72.7h1.6v1.6h-1.6zM356.7 72.7h1.6v1.6h-1.6zM357.7 72.7h1.6v1.6h-1.6zM358.7 72.7h1.6v1.6h-1.6zM359.7 72.7h1.6v1.6h-1.6zM361.7 72.7h1.6v1.6h-1.6zM362.7 72.7h1.6v1.6h-1.6zM363.7 72.7h1.6v1.6h-1.6zM364.7 72.7h1.6v1.6h-1.6zM365.7 72.7h1.6v1.6h-1.6zM366.7 72.7h1.6v1.6h-1.6zM367.7 72.7h1.6v1.6h-1.6zM368.7 72.7h1.6v1.6h-1.6zM348.7 73.7h1.6v1.6h-1.6zM350.7 73.7h1.6v1.6h-1.6zM351.7 73.7h1.6v1.6h-1.6zM352.7 73.7h1.6v1.6h-1.6zM353.7 73.7h1.6v1.6h-1.6zM354.7 73.7h1.6v1.6h-1.6zM355.7 73.7h1.6v1.6h-1.6zM356.7 73.7h1.6v1.6h-1.6zM357.7 73.7h1.6v1.6h-1.6zM358.7 73.7h1.6v1.6h-1.6zM359.7 73.7h1.6v1.6h-1.6zM360.7 73.7h1.6v1.6h-1.6zM361.7 73.7h1.6v1.6h-1.6zM362.7 73.7h1.6v1.6h-1.6zM364.7 73.7h1.6v1.6h-1.6zM366.7 73.7h1.6v1.6h-1.6zM367.7 73.7h1.6v1.6h-1.6zM368.7 73.7h1.6v1.6h-1.6zM349.7 74.7h1.6v1.6h-1.6zM351.7 74.7h1.6v1.6h-1.6zM352.7 74.7h1.6v1.6h-1.6zM353.7 74.7h1.6v1.6h-1.6zM354.7 74.7h1.6v1.6h-1.6zM355.7 74.7h1.6v1.6h-1.6zM357.7 74.7h1.6v1.6h-1.6zM358.7 74.7h1.6v1.6h-1.6zM359.7 74.7h1.6v1.6h-1.6zM360.7 74.7h1.6v1.6h-1.6zM361.7 74.7h1.6v1.6h-1.6zM362.7 74.7h1.6v1.6h-1.6zM363.7 74.7h1.6v1.6h-1.6zM365.7 74.7h1.6v1.6h-1.6zM368.7 74.7h1.6v1.6h-1.6zM348.7 75.7h1.6v1.6h-1.6zM350.7 75.7h1.6v1.6h-1.6zM351.7 75.7h1.6v1.6h-1.6zM352.7 75.7h1.6v1.6h-1.6zM353.7 75.7h1.6v1.6h-1.6zM354.7 75.7h1.6v1.6h-1.6zM355.7 75.7h1.6v1.6h-1.6zM356.7 75.7h1.6v1.6h-1.6zM357.7 75.7h1.6v1.6h-1.6zM358.7 75.7h1.6v1.6h-1.6zM359.7 75.7h1.6v1.6h-1.6zM360.7 75.7h1.6v1.6h-1.6zM361.7 75.7h1.6v1.6h-1.6zM362.7 75.7h1.6v1.6h-1.6zM364.7 75.7h1.6v1.6h-1.6zM349.7 76.7h1.6v1.6h-1.6zM350.7 76.7h1.6v1.6h-1.6zM351.7 76.7h1.6v1.6h-1.6zM352.7 76.7h1.6v1.6h-1.6zM353.7 76.7h1.6v1.6h-1.6zM354.7 76.7h1.6v1.6h-1.6zM355.7 76.7h1.6v1.6h-1.6zM356.7 76.7h1.6v1.6h-1.6zM357.7 76.7h1.6v1.6h-1.6zM358.7 76.7h1.6v1.6h-1.6zM359.7 76.7h1.6v1.6h-1.6zM360.7 76.7h1.6v1.6h-1.6zM361.7 76.7h1.6v1.6h-1.6zM362.7 76.7h1.6v1.6h-1.6zM363.7 76.7h1.6v1.6h-1.6zM349.7 77.7h1.6v1.6h-1.6zM350.7 77.7h1.6v1.6h-1.6zM351.7 77.7h1.6v1.6h-1.6zM352.7 77.7h1.6v1.6h-1.6zM353.7 77.7h1.6v1.6h-1.6zM354.7 77.7h1.6v1.6h-1.6zM355.7 77.7h1.6v1.6h-1.6zM356.7 77.7h1.6v1.6h-1.6zM357.7 77.7h1.6v1.6h-1.6zM358.7 77.7h1.6v1.6h-1.6zM359.7 77.7h1.6v1.6h-1.6zM360.7 77.7h1.6v1.6h-1.6zM361.7 77.7h1.6v1.6h-1.6zM362.7 77.7h1.6v1.6h-1.6zM363.7 77.7h1.6v1.6h-1.6zM348.7 78.7h1.6v1.6h-1.6zM349.7 78.7h1.6v1.6h-1.6zM350.7 78.7h1.6v1.6h-1.6zM351.7 78.7h1.6v1.6h-1.6zM352.7 78.7h1.6v1.6h-1.6zM353.7 78.7h1.6v1.6h-1.6zM354.7 78.7h1.6v1.6h-1.6zM355.7 78.7h1.6v1.6h-1.6zM357.7 78.7h1.6v1.6h-1.6zM358.7 78.7h1.6v1.6h-1.6zM359.7 78.7h1.6v1.6h-1.6zM361.7 78.7h1.6v1.6h-1.6zM362.7 78.7h1.6v1.6h-1.6zM363.7 78.7h1.6v1.6h-1.6zM351.7 79.7h1.6v1.6h-1.6zM352.7 79.7h1.6v1.6h-1.6zM353.7 79.7h1.6v1.6h-1.6zM354.7 79.7h1.6v1.6h-1.6zM355.7 79.7h1.6v1.6h-1.6zM356.7 79.7h1.6v1.6h-1.6zM357.7 79.7h1.6v1.6h-1.6zM358.7 79.7h1.6v1.6h-1.6zM359.7 79.7h1.6v1.6h-1.6zM360.7 79.7h1.6v1.6h-1.6zM361.7 79.7h1.6v1.6h-1.6zM362.7 79.7h1.6v1.6h-1.6zM363.7 79.7h1.6v1.6h-1.6zM348.7 80.7h1.6v1.6h-1.6zM349.7 80.7h1.6v1.6h-1.6zM351.7 80.7h1.6v1.6h-1.6zM352.7 80.7h1.6v1.6h-1.6zM354.7 80.7h1.6v1.6h-1.6zM355.7 80.7h1.6v1.6h-1.6zM356.7 80.7h1.6v1.6h-1.6zM358.7 80.7h1.6v1.6h-1.6zM359.7 80.7h1.6v1.6h-1.6zM361.7 80.7h1.6v1.6h-1.6zM362.7 80.7h1.6v1.6h-1.6zM363.7 80.7h1.6v1.6h-1.6zM350.7 81.7h1.6v1.6h-1.6zM351.7 81.7h1.6v1.6h-1.6zM354.7 81.7h1.6v1.6h-1.6zM356.7 81.7h1.6v1.6h-1.6zM359.7 81.7h1.6v1.6h-1.6zM360.7 81.7h1.6v1.6h-1.6zM361.7 81.7h1.6v1.6h-1.6zM362.7 81.7h1.6v1.6h-1.6zM363.7 81.7h1.6v1.6h-1.6zM344.7 82.7h1.6v1.6h-1.6zM345.7 82.7h1.6v1.6h-1.6zM348.7 82.7h1.6v1.6h-1.6zM357.7 82.7h1.6v1.6h-1.6zM359.7 82.7h1.6v1.6h-1.6zM360.7 82.7h1.6v1.6h-1.6zM362.7 82.7h1.6v1.6h-1.6zM363.7 82.7h1.6v1.6h-1.6zM344.7 83.7h1.6v1.6h-1.6zM347.7 83.7h1.6v1.6h-1.6zM357.7 83.7h1.6v1.6h-1.6zM359.7 83.7h1.6v1.6h-1.6zM360.7 83.7h1.6v1.6h-1.6zM361.7 83.7h1.6v1.6h-1.6zM362.7 83.7h1.6v1.6h-1.6zM347.7 84.7h1.6v1.6h-1.6zM355.7 84.7h1.6v1.6h-1.6zM356.7 84.7h1.6v1.6h-1.6zM357.7 84.7h1.6v1.6h-1.6zM358.7 84.7h1.6v1.6h-1.6zM359.7 84.7h1.6v1.6h-1.6zM360.7 84.7h1.6v1.6h-1.6zM361.7 84.7h1.6v1.6h-1.6zM362.7 84.7h1.6v1.6h-1.6zM347.7 85.7h1.6v1.6h-1.6zM348.7 85.7h1.6v1.6h-1.6zM356.7 85.7h1.6v1.6h-1.6zM357.7 85.7h1.6v1.6h-1.6zM359.7 85.7h1.6v1.6h-1.6zM360.7 85.7h1.6v1.6h-1.6zM361.7 85.7h1.6v1.6h-1.6zM344.7 86.7h1.6v1.6h-1.6zM345.7 86.7h1.6v1.6h-1.6zM346.7 86.7h1.6v1.6h-1.6zM347.7 86.7h1.6v1.6h-1.6zM348.7 86.7h1.6v1.6h-1.6zM359.7 86.7h1.6v1.6h-1.6zM360.7 86.7h1.6v1.6h-1.6zM361.7 86.7h1.6v1.6h-1.6zM362.7 86.7h1.6v1.6h-1.6zM363.7 86.7h1.6v1.6h-1.6zM343.7 87.7h1.6v1.6h-1.6zM347.7 87.7h1.6v1.6h-1.6zM355.7 87.7h1.6v1.6h-1.6zM358.7 87.7h1.6v1.6h-1.6zM359.7 87.7h1.6v1.6h-1.6zM360.7 87.7h1.6v1.6h-1.6zM361.7 87.7h1.6v1.6h-1.6zM362.7 87.7h1.6v1.6h-1.6zM363.7 87.7h1.6v1.6h-1.6zM343.7 88.7h1.6v1.6h-1.6zM345.7 88.7h1.6v1.6h-1.6zM346.7 88.7h1.6v1.6h-1.6zM355.7 88.7h1.6v1.6h-1.6zM356.7 88.7h1.6v1.6h-1.6zM357.7 88.7h1.6v1.6h-1.6zM358.7 88.7h1.6v1.6h-1.6zM359.7 88.7h1.6v1.6h-1.6zM360.7 88.7h1.6v1.6h-1.6zM361.7 88.7h1.6v1.6h-1.6zM362.7 88.7h1.6v1.6h-1.6zM363.7 88.7h1.6v1.6h-1.6zM345.7 89.7h1.6v1.6h-1.6zM346.7 89.7h1.6v1.6h-1.6zM347.7 89.7h1.6v1.6h-1.6zM355.7 89.7h1.6v1.6h-1.6zM356.7 89.7h1.6v1.6h-1.6zM357.7 89.7h1.6v1.6h-1.6zM360.7 89.7h1.6v1.6h-1.6zM361.7 89.7h1.6v1.6h-1.6zM362.7 89.7h1.6v1.6h-1.6zM343.7 90.7h1.6v1.6h-1.6zM345.7 90.7h1.6v1.6h-1.6zM355.7 90.7h1.6v1.6h-1.6zM356.7 90.7h1.6v1.6h-1.6zM357.7 90.7h1.6v1.6h-1.6zM358.7 90.7h1.6v1.6h-1.6zM359.7 90.7h1.6v1.6h-1.6zM360.7 90.7h1.6v1.6h-1.6zM361.7 90.7h1.6v1.6h-1.6zM362.7 90.7h1.6v1.6h-1.6zM343.7 91.7h1.6v1.6h-1.6zM344.7 91.7h1.6v1.6h-1.6zM345.7 91.7h1.6v1.6h-1.6zM346.7 91.7h1.6v1.6h-1.6zM347.7 91.7h1.6v1.6h-1.6zM357.7 91.7h1.6v1.6h-1.6zM358.7 91.7h1.6v1.6h-1.6zM359.7 91.7h1.6v1.6h-1.6zM360.7 91.7h1.6v1.6h-1.6zM361.7 91.7h1.6v1.6h-1.6zM362.7 91.7h1.6v1.6h-1.6zM363.7 91.7h1.6v1.6h-1.6zM346.7 92.7h1.6v1.6h-1.6zM348.7 92.7h1.6v1.6h-1.6zM358.7 92.7h1.6v1.6h-1.6zM359.7 92.7h1.6v1.6h-1.6zM360.7 92.7h1.6v1.6h-1.6zM361.7 92.7h1.6v1.6h-1.6zM345.7 93.7h1.6v1.6h-1.6zM347.7 93.7h1.6v1.6h-1.6zM357.7 93.7h1.6v1.6h-1.6zM359.7 93.7h1.6v1.6h-1.6zM360.7 93.7h1.6v1.6h-1.6zM361.7 93.7h1.6v1.6h-1.6zM363.7 93.7h1.6v1.6h-1.6zM355.7 94.7h1.6v1.6h-1.6zM356.7 94.7h1.6v1.6h-1.6zM357.7 94.7h1.6v1.6h-1.6zM358.7 94.7h1.6v1.6h-1.6zM359.7 94.7h1.6v1.6h-1.6zM360.7 94.7h1.6v1.6h-1.6zM361.7 94.7h1.6v1.6h-1.6zM362.7 94.7h1.6v1.6h-1.6zM356.7 95.7h1.6v1.6h-1.6zM358.7 95.7h1.6v1.6h-1.6zM359.7 95.7h1.6v1.6h-1.6zM360.7 95.7h1.6v1.6h-1.6zM361.7 95.7h1.6v1.6h-1.6zM362.7 95.7h1.6v1.6h-1.6zM357.7 96.7h1.6v1.6h-1.6zM351.7 113.7h1.6v1.6h-1.6zM353.7 113.7h1.6v1.6h-1.6zM357.7 113.7h1.6v1.6h-1.6zM352.7 114.7h1.6v1.6h-1.6zM358.7 114.7h1.6v1.6h-1.6zM352.7 115.7h1.6v1.6h-1.6zM354.7 115.7h1.6v1.6h-1.6zM356.7 115.7h1.6v1.6h-1.6zM357.7 115.7h1.6v1.6h-1.6zM358.7 115.7h1.6v1.6h-1.6zM359.7 115.7h1.6v1.6h-1.6zM348.7 116.7h1.6v1.6h-1.6zM350.7 116.7h1.6v1.6h-1.6zM353.7 116.7h1.6v1.6h-1.6zM354.7 116.7h1.6v1.6h-1.6zM355.7 116.7h1.6v1.6h-1.6zM356.7 116.7h1.6v1.6h-1.6zM357.7 116.7h1.6v1.6h-1.6zM359.7 116.7h1.6v1.6h-1.6zM360.7 116.7h1.6v1.6h-1.6zM347.7 117.7h1.6v1.6h-1.6zM348.7 117.7h1.6v1.6h-1.6zM349.7 117.7h1.6v1.6h-1.6zM351.7 117.7h1.6v1.6h-1.6zM352.7 117.7h1.6v1.6h-1.6zM353.7 117.7h1.6v1.6h-1.6zM354.7 117.7h1.6v1.6h-1.6zM355.7 117.7h1.6v1.6h-1.6zM356.7 117.7h1.6v1.6h-1.6zM358.7 117.7h1.6v1.6h-1.6zM359.7 117.7h1.6v1.6h-1.6zM360.7 117.7h1.6v1.6h-1.6zM361.7 117.7h1.6v1.6h-1.6zM350.7 118.7h1.6v1.6h-1.6zM352.7 118.7h1.6v1.6h-1.6zM353.7 118.7h1.6v1.6h-1.6zM355.7 118.7h1.6v1.6h-1.6zM356.7 118.7h1.6v1.6h-1.6zM357.7 118.7h1.6v1.6h-1.6zM358.7 118.7h1.6v1.6h-1.6zM361.7 118.7h1.6v1.6h-1.6zM362.7 118.7h1.6v1.6h-1.6zM345.7 119.7h1.6v1.6h-1.6zM346.7 119.7h1.6v1.6h-1.6zM349.7 119.7h1.6v1.6h-1.6zM350.7 119.7h1.6v1.6h-1.6zM352.7 119.7h1.6v1.6h-1.6zM354.7 119.7h1.6v1.6h-1.6zM355.7 119.7h1.6v1.6h-1.6zM357.7 119.7h1.6v1.6h-1.6zM359.7 119.7h1.6v1.6h-1.6zM360.7 119.7h1.6v1.6h-1.6zM361.7 119.7h1.6v1.6h-1.6zM347.7 120.7h1.6v1.6h-1.6zM349.7 120.7h1.6v1.6h-1.6zM350.7 120.7h1.6v1.6h-1.6zM351.7 120.7h1.6v1.6h-1.6zM352.7 120.7h1.6v1.6h-1.6zM353.7 120.7h1.6v1.6h-1.6zM354.7 120.7h1.6v1.6h-1.6zM355.7 120.7h1.6v1.6h-1.6zM356.7 120.7h1.6v1.6h-1.6zM357.7 120.7h1.6v1.6h-1.6zM358.7 120.7h1.6v1.6h-1.6zM359.7 120.7h1.6v1.6h-1.6zM360.7 120.7h1.6v1.6h-1.6zM361.7 120.7h1.6v1.6h-1.6zM349.7 121.7h1.6v1.6h-1.6zM350.7 121.7h1.6v1.6h-1.6zM351.7 121.7h1.6v1.6h-1.6zM352.7 121.7h1.6v1.6h-1.6zM354.7 121.7h1.6v1.6h-1.6zM355.7 121.7h1.6v1.6h-1.6zM357.7 121.7h1.6v1.6h-1.6zM358.7 121.7h1.6v1.6h-1.6zM359.7 121.7h1.6v1.6h-1.6zM361.7 121.7h1.6v1.6h-1.6zM362.7 121.7h1.6v1.6h-1.6zM364.7 121.7h1.6v1.6h-1.6zM346.7 122.7h1.6v1.6h-1.6zM348.7 122.7h1.6v1.6h-1.6zM350.7 122.7h1.6v1.6h-1.6zM351.7 122.7h1.6v1.6h-1.6zM352.7 122.7h1.6v1.6h-1.6zM353.7 122.7h1.6v1.6h-1.6zM354.7 122.7h1.6v1.6h-1.6zM355.7 122.7h1.6v1.6h-1.6zM356.7 122.7h1.6v1.6h-1.6zM357.7 122.7h1.6v1.6h-1.6zM358.7 122.7h1.6v1.6h-1.6zM359.7 122.7h1.6v1.6h-1.6zM360.7 122.7h1.6v1.6h-1.6zM362.7 122.7h1.6v1.6h-1.6zM363.7 122.7h1.6v1.6h-1.6zM364.7 122.7h1.6v1.6h-1.6zM345.7 123.7h1.6v1.6h-1.6zM346.7 123.7h1.6v1.6h-1.6zM350.7 123.7h1.6v1.6h-1.6zM351.7 123.7h1.6v1.6h-1.6zM352.7 123.7h1.6v1.6h-1.6zM353.7 123.7h1.6v1.6h-1.6zM354.7 123.7h1.6v1.6h-1.6zM355.7 123.7h1.6v1.6h-1.6zM356.7 123.7h1.6v1.6h-1.6zM357.7 123.7h1.6v1.6h-1.6zM358.7 123.7h1.6v1.6h-1.6zM359.7 123.7h1.6v1.6h-1.6zM361.7 123.7h1.6v1.6h-1.6zM362.7 123.7h1.6v1.6h-1.6zM363.7 123.7h1.6v1.6h-1.6zM364.7 123.7h1.6v1.6h-1.6zM345.7 124.7h1.6v1.6h-1.6zM346.7 124.7h1.6v1.6h-1.6zM347.7 124.7h1.6v1.6h-1.6zM348.7 124.7h1.6v1.6h-1.6zM349.7 124.7h1.6v1.6h-1.6zM350.7 124.7h1.6v1.6h-1.6zM351.7 124.7h1.6v1.6h-1.6zM352.7 124.7h1.6v1.6h-1.6zM353.7 124.7h1.6v1.6h-1.6zM354.7 124.7h1.6v1.6h-1.6zM355.7 124.7h1.6v1.6h-1.6zM356.7 124.7h1.6v1.6h-1.6zM357.7 124.7h1.6v1.6h-1.6zM358.7 124.7h1.6v1.6h-1.6zM359.7 124.7h1.6v1.6h-1.6zM360.7 124.7h1.6v1.6h-1.6zM362.7 124.7h1.6v1.6h-1.6zM343.7 125.7h1.6v1.6h-1.6zM346.7 125.7h1.6v1.6h-1.6zM347.7 125.7h1.6v1.6h-1.6zM348.7 125.7h1.6v1.6h-1.6zM349.7 125.7h1.6v1.6h-1.6zM350.7 125.7h1.6v1.6h-1.6zM351.7 125.7h1.6v1.6h-1.6zM352.7 125.7h1.6v1.6h-1.6zM353.7 125.7h1.6v1.6h-1.6zM354.7 125.7h1.6v1.6h-1.6zM355.7 125.7h1.6v1.6h-1.6zM356.7 125.7h1.6v1.6h-1.6zM357.7 125.7h1.6v1.6h-1.6zM358.7 125.7h1.6v1.6h-1.6zM359.7 125.7h1.6v1.6h-1.6zM360.7 125.7h1.6v1.6h-1.6zM361.7 125.7h1.6v1.6h-1.6zM362.7 125.7h1.6v1.6h-1.6zM363.7 125.7h1.6v1.6h-1.6zM364.7 125.7h1.6v1.6h-1.6zM345.7 126.7h1.6v1.6h-1.6zM346.7 126.7h1.6v1.6h-1.6zM347.7 126.7h1.6v1.6h-1.6zM348.7 126.7h1.6v1.6h-1.6zM349.7 126.7h1.6v1.6h-1.6zM350.7 126.7h1.6v1.6h-1.6zM351.7 126.7h1.6v1.6h-1.6zM353.7 126.7h1.6v1.6h-1.6zM354.7 126.7h1.6v1.6h-1.6zM355.7 126.7h1.6v1.6h-1.6zM356.7 126.7h1.6v1.6h-1.6zM357.7 126.7h1.6v1.6h-1.6zM358.7 126.7h1.6v1.6h-1.6zM359.7 126.7h1.6v1.6h-1.6zM360.7 126.7h1.6v1.6h-1.6zM361.7 126.7h1.6v1.6h-1.6zM362.7 126.7h1.6v1.6h-1.6zM363.7 126.7h1.6v1.6h-1.6zM364.7 126.7h1.6v1.6h-1.6zM343.7 127.7h1.6v1.6h-1.6zM344.7 127.7h1.6v1.6h-1.6zM346.7 127.7h1.6v1.6h-1.6zM349.7 127.7h1.6v1.6h-1.6zM350.7 127.7h1.6v1.6h-1.6zM351.7 127.7h1.6v1.6h-1.6zM353.7 127.7h1.6v1.6h-1.6zM354.7 127.7h1.6v1.6h-1.6zM355.7 127.7h1.6v1.6h-1.6zM356.7 127.7h1.6v1.6h-1.6zM357.7 127.7h1.6v1.6h-1.6zM358.7 127.7h1.6v1.6h-1.6zM359.7 127.7h1.6v1.6h-1.6zM360.7 127.7h1.6v1.6h-1.6zM361.7 127.7h1.6v1.6h-1.6zM363.7 127.7h1.6v1.6h-1.6zM343.7 128.7h1.6v1.6h-1.6zM344.7 128.7h1.6v1.6h-1.6zM346.7 128.7h1.6v1.6h-1.6zM347.7 128.7h1.6v1.6h-1.6zM348.7 128.7h1.6v1.6h-1.6zM350.7 128.7h1.6v1.6h-1.6zM351.7 128.7h1.6v1.6h-1.6zM352.7 128.7h1.6v1.6h-1.6zM353.7 128.7h1.6v1.6h-1.6zM354.7 128.7h1.6v1.6h-1.6zM355.7 128.7h1.6v1.6h-1.6zM356.7 128.7h1.6v1.6h-1.6zM357.7 128.7h1.6v1.6h-1.6zM358.7 128.7h1.6v1.6h-1.6zM359.7 128.7h1.6v1.6h-1.6zM360.7 128.7h1.6v1.6h-1.6zM361.7 128.7h1.6v1.6h-1.6zM362.7 128.7h1.6v1.6h-1.6zM364.7 128.7h1.6v1.6h-1.6zM343.7 129.7h1.6v1.6h-1.6zM346.7 129.7h1.6v1.6h-1.6zM347.7 129.7h1.6v1.6h-1.6zM348.7 129.7h1.6v1.6h-1.6zM349.7 129.7h1.6v1.6h-1.6zM350.7 129.7h1.6v1.6h-1.6zM351.7 129.7h1.6v1.6h-1.6zM352.7 129.7h1.6v1.6h-1.6zM353.7 129.7h1.6v1.6h-1.6zM354.7 129.7h1.6v1.6h-1.6zM355.7 129.7h1.6v1.6h-1.6zM356.7 129.7h1.6v1.6h-1.6zM357.7 129.7h1.6v1.6h-1.6zM358.7 129.7h1.6v1.6h-1.6zM359.7 129.7h1.6v1.6h-1.6zM360.7 129.7h1.6v1.6h-1.6zM361.7 129.7h1.6v1.6h-1.6zM362.7 129.7h1.6v1.6h-1.6zM363.7 129.7h1.6v1.6h-1.6zM364.7 129.7h1.6v1.6h-1.6zM345.7 130.7h1.6v1.6h-1.6zM346.7 130.7h1.6v1.6h-1.6zM347.7 130.7h1.6v1.6h-1.6zM348.7 130.7h1.6v1.6h-1.6zM349.7 130.7h1.6v1.6h-1.6zM350.7 130.7h1.6v1.6h-1.6zM351.7 130.7h1.6v1.6h-1.6zM352.7 130.7h1.6v1.6h-1.6zM353.7 130.7h1.6v1.6h-1.6zM354.7 130.7h1.6v1.6h-1.6zM355.7 130.7h1.6v1.6h-1.6zM356.7 130.7h1.6v1.6h-1.6zM357.7 130.7h1.6v1.6h-1.6zM358.7 130.7h1.6v1.6h-1.6zM360.7 130.7h1.6v1.6h-1.6zM361.7 130.7h1.6v1.6h-1.6zM362.7 130.7h1.6v1.6h-1.6zM363.7 130.7h1.6v1.6h-1.6zM344.7 131.7h1.6v1.6h-1.6zM346.7 131.7h1.6v1.6h-1.6zM347.7 131.7h1.6v1.6h-1.6zM348.7 131.7h1.6v1.6h-1.6zM349.7 131.7h1.6v1.6h-1.6zM350.7 131.7h1.6v1.6h-1.6zM351.7 131.7h1.6v1.6h-1.6zM352.7 131.7h1.6v1.6h-1.6zM353.7 131.7h1.6v1.6h-1.6zM354.7 131.7h1.6v1.6h-1.6zM355.7 131.7h1.6v1.6h-1.6zM356.7 131.7h1.6v1.6h-1.6zM357.7 131.7h1.6v1.6h-1.6zM358.7 131.7h1.6v1.6h-1.6zM359.7 131.7h1.6v1.6h-1.6zM361.7 131.7h1.6v1.6h-1.6zM344.7 132.7h1.6v1.6h-1.6zM345.7 132.7h1.6v1.6h-1.6zM346.7 132.7h1.6v1.6h-1.6zM348.7 132.7h1.6v1.6h-1.6zM349.7 132.7h1.6v1.6h-1.6zM350.7 132.7h1.6v1.6h-1.6zM351.7 132.7h1.6v1.6h-1.6zM352.7 132.7h1.6v1.6h-1.6zM353.7 132.7h1.6v1.6h-1.6zM354.7 132.7h1.6v1.6h-1.6zM355.7 132.7h1.6v1.6h-1.6zM356.7 132.7h1.6v1.6h-1.6zM357.7 132.7h1.6v1.6h-1.6zM358.7 132.7h1.6v1.6h-1.6zM359.7 132.7h1.6v1.6h-1.6zM360.7 132.7h1.6v1.6h-1.6zM361.7 132.7h1.6v1.6h-1.6zM362.7 132.7h1.6v1.6h-1.6zM363.7 132.7h1.6v1.6h-1.6zM345.7 133.7h1.6v1.6h-1.6zM346.7 133.7h1.6v1.6h-1.6zM349.7 133.7h1.6v1.6h-1.6zM350.7 133.7h1.6v1.6h-1.6zM351.7 133.7h1.6v1.6h-1.6zM352.7 133.7h1.6v1.6h-1.6zM353.7 133.7h1.6v1.6h-1.6zM354.7 133.7h1.6v1.6h-1.6zM355.7 133.7h1.6v1.6h-1.6zM356.7 133.7h1.6v1.6h-1.6zM357.7 133.7h1.6v1.6h-1.6zM358.7 133.7h1.6v1.6h-1.6zM359.7 133.7h1.6v1.6h-1.6zM360.7 133.7h1.6v1.6h-1.6zM361.7 133.7h1.6v1.6h-1.6zM362.7 133.7h1.6v1.6h-1.6zM345.7 134.7h1.6v1.6h-1.6zM348.7 134.7h1.6v1.6h-1.6zM349.7 134.7h1.6v1.6h-1.6zM350.7 134.7h1.6v1.6h-1.6zM352.7 134.7h1.6v1.6h-1.6zM353.7 134.7h1.6v1.6h-1.6zM354.7 134.7h1.6v1.6h-1.6zM355.7 134.7h1.6v1.6h-1.6zM358.7 134.7h1.6v1.6h-1.6zM359.7 134.7h1.6v1.6h-1.6zM360.7 134.7h1.6v1.6h-1.6zM361.7 134.7h1.6v1.6h-1.6zM347.7 135.7h1.6v1.6h-1.6zM348.7 135.7h1.6v1.6h-1.6zM349.7 135.7h1.6v1.6h-1.6zM350.7 135.7h1.6v1.6h-1.6zM351.7 135.7h1.6v1.6h-1.6zM352.7 135.7h1.6v1.6h-1.6zM353.7 135.7h1.6v1.6h-1.6zM354.7 135.7h1.6v1.6h-1.6zM355.7 135.7h1.6v1.6h-1.6zM356.7 135.7h1.6v1.6h-1.6zM357.7 135.7h1.6v1.6h-1.6zM358.7 135.7h1.6v1.6h-1.6zM359.7 135.7h1.6v1.6h-1.6zM347.7 136.7h1.6v1.6h-1.6zM348.7 136.7h1.6v1.6h-1.6zM351.7 136.7h1.6v1.6h-1.6zM353.7 136.7h1.6v1.6h-1.6zM354.7 136.7h1.6v1.6h-1.6zM355.7 136.7h1.6v1.6h-1.6zM356.7 136.7h1.6v1.6h-1.6zM357.7 136.7h1.6v1.6h-1.6zM358.7 136.7h1.6v1.6h-1.6zM359.7 136.7h1.6v1.6h-1.6zM361.7 136.7h1.6v1.6h-1.6zM351.7 137.7h1.6v1.6h-1.6zM354.7 137.7h1.6v1.6h-1.6zM355.7 137.7h1.6v1.6h-1.6zM356.7 137.7h1.6v1.6h-1.6zM358.7 137.7h1.6v1.6h-1.6zM360.7 137.7h1.6v1.6h-1.6zM351.7 138.7h1.6v1.6h-1.6zM353.7 138.7h1.6v1.6h-1.6zM354.7 138.7h1.6v1.6h-1.6zM355.7 138.7h1.6v1.6h-1.6zM356.7 138.7h1.6v1.6h-1.6zM358.7 138.7h1.6v1.6h-1.6z" fill="#fe0000"/><path d="M341.7 32.7h1.6v1.6h-1.6zM349.7 41.7h1.6v1.6h-1.6zM350.7 41.7h1.6v1.6h-1.6zM364.7 41.7h1.6v1.6h-1.6zM367.7 41.7h1.6v1.6h-1.6zM347.7 42.7h1.6v1.6h-1.6zM369.7 42.7h1.6v1.6h-1.6zM370.7 42.7h1.6v1.6h-1.6zM373.7 42.7h1.6v1.6h-1.6zM345.7 43.7h1.6v1.6h-1.6zM348.7 43.7h1.6v1.6h-1.6zM351.7 43.7h1.6v1.6h-1.6zM353.7 43.7h1.6v1.6h-1.6zM359.7 43.7h1.6v1.6h-1.6zM375.7 43.7h1.6v1.6h-1.6zM337.7 44.7h1.6v1.6h-1.6zM339.7 44.7h1.6v1.6h-1.6zM340.7 44.7h1.6v1.6h-1.6zM342.7 44.7h1.6v1.6h-1.6zM335.7 45.7h1.6v1.6h-1.6zM337.7 45.7h1.6v1.6h-1.6zM377.7 46.7h1.6v1.6h-1.6zM363.7 47.7h1.6v1.6h-1.6zM333.7 48.7h1.6v1.6h-1.6zM335.7 48.7h1.6v1.6h-1.6zM377.7 49.7h1.6v1.6h-1.6zM377.7 50.7h1.6v1.6h-1.6zM377.7 51.7h1.6v1.6h-1.6zM363.7 52.7h1.6v1.6h-1.6zM378.7 52.7h1.6v1.6h-1.6zM334.7 53.7h1.6v1.6h-1.6zM335.7 54.7h1.6v1.6h-1.6zM377.7 55.7h1.6v1.6h-1.6zM322.7 57.7h1.6v1.6h-1.6zM335.7 57.7h1.6v1.6h-1.6zM363.7 60.7h1.6v1.6h-1.6zM334.7 61.7h1.6v1.6h-1.6zM335.7 61.7h1.6v1.6h-1.6zM363.7 62.7h1.6v1.6h-1.6zM377.7 62.7h1.6v1.6h-1.6zM330.7 63.7h1.6v1.6h-1.6zM377.7 63.7h1.6v1.6h-1.6zM325.7 64.7h1.6v1.6h-1.6zM333.7 65.7h1.6v1.6h-1.6zM334.7 65.7h1.6v1.6h-1.6zM335.7 65.7h1.6v1.6h-1.6zM363.7 65.7h1.6v1.6h-1.6zM377.7 65.7h1.6v1.6h-1.6zM377.7 66.7h1.6v1.6h-1.6zM334.7 67.7h1.6v1.6h-1.6zM333.7 68.7h1.6v1.6h-1.6zM335.7 68.7h1.6v1.6h-1.6zM345.7 68.7h1.6v1.6h-1.6zM346.7 68.7h1.6v1.6h-1.6zM335.7 69.7h1.6v1.6h-1.6zM347.7 69.7h1.6v1.6h-1.6zM373.7 69.7h1.6v1.6h-1.6zM346.7 70.7h1.6v1.6h-1.6zM332.7 71.7h1.6v1.6h-1.6zM334.7 71.7h1.6v1.6h-1.6zM338.7 71.7h1.6v1.6h-1.6zM341.7 71.7h1.6v1.6h-1.6zM374.7 71.7h1.6v1.6h-1.6zM331.7 72.7h1.6v1.6h-1.6zM333.7 72.7h1.6v1.6h-1.6zM338.7 72.7h1.6v1.6h-1.6zM339.7 72.7h1.6v1.6h-1.6zM341.7 72.7h1.6v1.6h-1.6zM342.7 72.7h1.6v1.6h-1.6zM372.7 72.7h1.6v1.6h-1.6zM328.7 73.7h1.6v1.6h-1.6zM347.7 73.7h1.6v1.6h-1.6zM334.7 74.7h1.6v1.6h-1.6zM340.7 74.7h1.6v1.6h-1.6zM342.7 74.7h1.6v1.6h-1.6zM372.7 74.7h1.6v1.6h-1.6zM377.7 74.7h1.6v1.6h-1.6zM332.7 75.7h1.6v1.6h-1.6zM333.7 75.7h1.6v1.6h-1.6zM337.7 75.7h1.6v1.6h-1.6zM341.7 75.7h1.6v1.6h-1.6zM342.7 75.7h1.6v1.6h-1.6zM366.7 75.7h1.6v1.6h-1.6zM368.7 75.7h1.6v1.6h-1.6zM375.7 75.7h1.6v1.6h-1.6zM325.7 76.7h1.6v1.6h-1.6zM339.7 76.7h1.6v1.6h-1.6zM340.7 76.7h1.6v1.6h-1.6zM343.7 76.7h1.6v1.6h-1.6zM345.7 76.7h1.6v1.6h-1.6zM364.7 76.7h1.6v1.6h-1.6zM336.7 77.7h1.6v1.6h-1.6zM337.7 77.7h1.6v1.6h-1.6zM342.7 77.7h1.6v1.6h-1.6zM345.7 77.7h1.6v1.6h-1.6zM364.7 77.7h1.6v1.6h-1.6zM365.7 77.7h1.6v1.6h-1.6zM369.7 77.7h1.6v1.6h-1.6zM379.7 77.7h1.6v1.6h-1.6zM333.7 78.7h1.6v1.6h-1.6zM335.7 78.7h1.6v1.6h-1.6zM342.7 78.7h1.6v1.6h-1.6zM346.7 78.7h1.6v1.6h-1.6zM347.7 78.7h1.6v1.6h-1.6zM364.7 78.7h1.6v1.6h-1.6zM375.7 78.7h1.6v1.6h-1.6zM326.7 79.7h1.6v1.6h-1.6zM328.7 79.7h1.6v1.6h-1.6zM342.7 79.7h1.6v1.6h-1.6zM345.7 79.7h1.6v1.6h-1.6zM371.7 79.7h1.6v1.6h-1.6zM336.7 80.7h1.6v1.6h-1.6zM340.7 80.7h1.6v1.6h-1.6zM342.7 80.7h1.6v1.6h-1.6zM346.7 80.7h1.6v1.6h-1.6zM368.7 80.7h1.6v1.6h-1.6zM369.7 80.7h1.6v1.6h-1.6zM372.7 80.7h1.6v1.6h-1.6zM373.7 80.7h1.6v1.6h-1.6zM336.7 81.7h1.6v1.6h-1.6zM347.7 81.7h1.6v1.6h-1.6zM348.7 81.7h1.6v1.6h-1.6zM364.7 81.7h1.6v1.6h-1.6zM366.7 81.7h1.6v1.6h-1.6zM367.7 81.7h1.6v1.6h-1.6zM368.7 81.7h1.6v1.6h-1.6zM380.7 81.7h1.6v1.6h-1.6zM336.7 82.7h1.6v1.6h-1.6zM341.7 82.7h1.6v1.6h-1.6zM342.7 82.7h1.6v1.6h-1.6zM343.7 82.7h1.6v1.6h-1.6zM349.7 82.7h1.6v1.6h-1.6zM333.7 83.7h1.6v1.6h-1.6zM335.7 83.7h1.6v1.6h-1.6zM342.7 83.7h1.6v1.6h-1.6zM350.7 83.7h1.6v1.6h-1.6zM352.7 83.7h1.6v1.6h-1.6zM372.7 83.7h1.6v1.6h-1.6zM376.7 83.7h1.6v1.6h-1.6zM382.7 83.7h1.6v1.6h-1.6zM337.7 84.7h1.6v1.6h-1.6zM341.7 84.7h1.6v1.6h-1.6zM351.7 84.7h1.6v1.6h-1.6zM365.7 84.7h1.6v1.6h-1.6zM367.7 84.7h1.6v1.6h-1.6zM369.7 84.7h1.6v1.6h-1.6zM370.7 84.7h1.6v1.6h-1.6zM340.7 85.7h1.6v1.6h-1.6zM341.7 85.7h1.6v1.6h-1.6zM349.7 85.7h1.6v1.6h-1.6zM351.7 85.7h1.6v1.6h-1.6zM372.7 85.7h1.6v1.6h-1.6zM379.7 85.7h1.6v1.6h-1.6zM330.7 86.7h1.6v1.6h-1.6zM341.7 86.7h1.6v1.6h-1.6zM350.7 86.7h1.6v1.6h-1.6zM353.7 86.7h1.6v1.6h-1.6zM365.7 86.7h1.6v1.6h-1.6zM375.7 86.7h1.6v1.6h-1.6zM327.7 87.7h1.6v1.6h-1.6zM333.7 87.7h1.6v1.6h-1.6zM337.7 87.7h1.6v1.6h-1.6zM341.7 87.7h1.6v1.6h-1.6zM342.7 87.7h1.6v1.6h-1.6zM351.7 87.7h1.6v1.6h-1.6zM353.7 87.7h1.6v1.6h-1.6zM364.7 87.7h1.6v1.6h-1.6zM330.7 88.7h1.6v1.6h-1.6zM333.7 88.7h1.6v1.6h-1.6zM341.7 88.7h1.6v1.6h-1.6zM352.7 88.7h1.6v1.6h-1.6zM353.7 88.7h1.6v1.6h-1.6zM354.7 88.7h1.6v1.6h-1.6zM369.7 88.7h1.6v1.6h-1.6zM371.7 88.7h1.6v1.6h-1.6zM329.7 89.7h1.6v1.6h-1.6zM341.7 89.7h1.6v1.6h-1.6zM350.7 89.7h1.6v1.6h-1.6zM352.7 89.7h1.6v1.6h-1.6zM354.7 89.7h1.6v1.6h-1.6zM364.7 89.7h1.6v1.6h-1.6zM327.7 90.7h1.6v1.6h-1.6zM338.7 90.7h1.6v1.6h-1.6zM341.7 90.7h1.6v1.6h-1.6zM342.7 90.7h1.6v1.6h-1.6zM349.7 90.7h1.6v1.6h-1.6zM350.7 90.7h1.6v1.6h-1.6zM352.7 90.7h1.6v1.6h-1.6zM353.7 90.7h1.6v1.6h-1.6zM354.7 90.7h1.6v1.6h-1.6zM366.7 90.7h1.6v1.6h-1.6zM373.7 90.7h1.6v1.6h-1.6zM321.7 91.7h1.6v1.6h-1.6zM336.7 91.7h1.6v1.6h-1.6zM338.7 91.7h1.6v1.6h-1.6zM340.7 91.7h1.6v1.6h-1.6zM342.7 91.7h1.6v1.6h-1.6zM351.7 91.7h1.6v1.6h-1.6zM353.7 91.7h1.6v1.6h-1.6zM364.7 91.7h1.6v1.6h-1.6zM367.7 91.7h1.6v1.6h-1.6zM368.7 91.7h1.6v1.6h-1.6zM324.7 92.7h1.6v1.6h-1.6zM353.7 92.7h1.6v1.6h-1.6zM320.7 93.7h1.6v1.6h-1.6zM337.7 93.7h1.6v1.6h-1.6zM342.7 93.7h1.6v1.6h-1.6zM344.7 93.7h1.6v1.6h-1.6zM352.7 93.7h1.6v1.6h-1.6zM371.7 93.7h1.6v1.6h-1.6zM377.7 93.7h1.6v1.6h-1.6zM332.7 94.7h1.6v1.6h-1.6zM344.7 94.7h1.6v1.6h-1.6zM345.7 94.7h1.6v1.6h-1.6zM347.7 94.7h1.6v1.6h-1.6zM351.7 94.7h1.6v1.6h-1.6zM352.7 94.7h1.6v1.6h-1.6zM353.7 94.7h1.6v1.6h-1.6zM354.7 94.7h1.6v1.6h-1.6zM371.7 94.7h1.6v1.6h-1.6zM338.7 95.7h1.6v1.6h-1.6zM342.7 95.7h1.6v1.6h-1.6zM344.7 95.7h1.6v1.6h-1.6zM346.7 95.7h1.6v1.6h-1.6zM348.7 95.7h1.6v1.6h-1.6zM354.7 95.7h1.6v1.6h-1.6zM363.7 95.7h1.6v1.6h-1.6zM364.7 95.7h1.6v1.6h-1.6zM366.7 95.7h1.6v1.6h-1.6zM369.7 95.7h1.6v1.6h-1.6zM370.7 95.7h1.6v1.6h-1.6zM376.7 95.7h1.6v1.6h-1.6zM333.7 96.7h1.6v1.6h-1.6zM355.7 96.7h1.6v1.6h-1.6zM356.7 96.7h1.6v1.6h-1.6zM362.7 96.7h1.6v1.6h-1.6zM373.7 96.7h1.6v1.6h-1.6zM331.7 97.7h1.6v1.6h-1.6zM341.7 97.7h1.6v1.6h-1.6zM351.7 97.7h1.6v1.6h-1.6zM357.7 97.7h1.6v1.6h-1.6zM359.7 97.7h1.6v1.6h-1.6zM344.7 98.7h1.6v1.6h-1.6zM347.7 98.7h1.6v1.6h-1.6zM350.7 98.7h1.6v1.6h-1.6zM356.7 98.7h1.6v1.6h-1.6zM357.7 98.7h1.6v1.6h-1.6zM339.7 99.7h1.6v1.6h-1.6zM351.7 99.7h1.6v1.6h-1.6zM352.7 99.7h1.6v1.6h-1.6zM355.7 99.7h1.6v1.6h-1.6zM335.7 100.7h1.6v1.6h-1.6zM337.7 100.7h1.6v1.6h-1.6zM350.7 100.7h1.6v1.6h-1.6zM361.7 100.7h1.6v1.6h-1.6zM365.7 100.7h1.6v1.6h-1.6zM331.7 101.7h1.6v1.6h-1.6zM349.7 101.7h1.6v1.6h-1.6zM355.7 101.7h1.6v1.6h-1.6zM361.7 101.7h1.6v1.6h-1.6zM363.7 101.7h1.6v1.6h-1.6zM364.7 101.7h1.6v1.6h-1.6zM332.7 102.7h1.6v1.6h-1.6zM344.7 102.7h1.6v1.6h-1.6zM354.7 102.7h1.6v1.6h-1.6zM355.7 102.7h1.6v1.6h-1.6zM358.7 102.7h1.6v1.6h-1.6zM360.7 102.7h1.6v1.6h-1.6zM367.7 102.7h1.6v1.6h-1.6zM370.7 102.7h1.6v1.6h-1.6zM351.7 103.7h1.6v1.6h-1.6zM352.7 103.7h1.6v1.6h-1.6zM353.7 103.7h1.6v1.6h-1.6zM355.7 103.7h1.6v1.6h-1.6zM359.7 103.7h1.6v1.6h-1.6zM368.7 103.7h1.6v1.6h-1.6zM340.7 104.7h1.6v1.6h-1.6zM356.7 104.7h1.6v1.6h-1.6zM357.7 104.7h1.6v1.6h-1.6zM374.7 104.7h1.6v1.6h-1.6zM335.7 105.7h1.6v1.6h-1.6zM346.7 105.7h1.6v1.6h-1.6zM348.7 105.7h1.6v1.6h-1.6zM349.7 105.7h1.6v1.6h-1.6zM350.7 105.7h1.6v1.6h-1.6zM355.7 105.7h1.6v1.6h-1.6zM363.7 105.7h1.6v1.6h-1.6zM364.7 105.7h1.6v1.6h-1.6zM335.7 106.7h1.6v1.6h-1.6zM336.7 106.7h1.6v1.6h-1.6zM338.7 106.7h1.6v1.6h-1.6zM344.7 106.7h1.6v1.6h-1.6zM354.7 106.7h1.6v1.6h-1.6zM357.7 106.7h1.6v1.6h-1.6zM359.7 106.7h1.6v1.6h-1.6zM331.7 107.7h1.6v1.6h-1.6zM334.7 107.7h1.6v1.6h-1.6zM341.7 107.7h1.6v1.6h-1.6zM343.7 107.7h1.6v1.6h-1.6zM348.7 107.7h1.6v1.6h-1.6zM349.7 107.7h1.6v1.6h-1.6zM352.7 107.7h1.6v1.6h-1.6zM354.7 107.7h1.6v1.6h-1.6zM357.7 107.7h1.6v1.6h-1.6zM360.7 107.7h1.6v1.6h-1.6zM363.7 107.7h1.6v1.6h-1.6zM364.7 107.7h1.6v1.6h-1.6zM365.7 107.7h1.6v1.6h-1.6zM366.7 107.7h1.6v1.6h-1.6zM318.7 108.7h1.6v1.6h-1.6zM340.7 108.7h1.6v1.6h-1.6zM348.7 108.7h1.6v1.6h-1.6zM350.7 108.7h1.6v1.6h-1.6zM351.7 108.7h1.6v1.6h-1.6zM353.7 108.7h1.6v1.6h-1.6zM354.7 108.7h1.6v1.6h-1.6zM357.7 108.7h1.6v1.6h-1.6zM360.7 108.7h1.6v1.6h-1.6zM361.7 108.7h1.6v1.6h-1.6zM362.7 108.7h1.6v1.6h-1.6zM335.7 109.7h1.6v1.6h-1.6zM336.7 109.7h1.6v1.6h-1.6zM341.7 109.7h1.6v1.6h-1.6zM351.7 109.7h1.6v1.6h-1.6zM354.7 109.7h1.6v1.6h-1.6zM359.7 109.7h1.6v1.6h-1.6zM361.7 109.7h1.6v1.6h-1.6zM362.7 109.7h1.6v1.6h-1.6zM375.7 109.7h1.6v1.6h-1.6zM378.7 109.7h1.6v1.6h-1.6zM330.7 110.7h1.6v1.6h-1.6zM339.7 110.7h1.6v1.6h-1.6zM343.7 111.7h1.6v1.6h-1.6zM350.7 111.7h1.6v1.6h-1.6zM351.7 111.7h1.6v1.6h-1.6zM354.7 111.7h1.6v1.6h-1.6zM356.7 111.7h1.6v1.6h-1.6zM359.7 111.7h1.6v1.6h-1.6zM361.7 111.7h1.6v1.6h-1.6zM367.7 111.7h1.6v1.6h-1.6zM341.7 112.7h1.6v1.6h-1.6zM345.7 112.7h1.6v1.6h-1.6zM347.7 112.7h1.6v1.6h-1.6zM351.7 112.7h1.6v1.6h-1.6zM353.7 112.7h1.6v1.6h-1.6zM355.7 112.7h1.6v1.6h-1.6zM358.7 112.7h1.6v1.6h-1.6zM359.7 112.7h1.6v1.6h-1.6zM363.7 112.7h1.6v1.6h-1.6zM364.7 112.7h1.6v1.6h-1.6zM372.7 112.7h1.6v1.6h-1.6zM381.7 112.7h1.6v1.6h-1.6zM318.7 113.7h1.6v1.6h-1.6zM333.7 113.7h1.6v1.6h-1.6zM341.7 113.7h1.6v1.6h-1.6zM344.7 113.7h1.6v1.6h-1.6zM346.7 113.7h1.6v1.6h-1.6zM359.7 113.7h1.6v1.6h-1.6zM360.7 113.7h1.6v1.6h-1.6zM361.7 113.7h1.6v1.6h-1.6zM368.7 113.7h1.6v1.6h-1.6zM323.7 114.7h1.6v1.6h-1.6zM325.7 114.7h1.6v1.6h-1.6zM326.7 114.7h1.6v1.6h-1.6zM329.7 114.7h1.6v1.6h-1.6zM331.7 114.7h1.6v1.6h-1.6zM332.7 114.7h1.6v1.6h-1.6zM336.7 114.7h1.6v1.6h-1.6zM337.7 114.7h1.6v1.6h-1.6zM345.7 114.7h1.6v1.6h-1.6zM347.7 114.7h1.6v1.6h-1.6zM348.7 114.7h1.6v1.6h-1.6zM363.7 114.7h1.6v1.6h-1.6zM367.7 114.7h1.6v1.6h-1.6zM371.7 114.7h1.6v1.6h-1.6zM380.7 114.7h1.6v1.6h-1.6zM327.7 115.7h1.6v1.6h-1.6zM342.7 115.7h1.6v1.6h-1.6zM343.7 115.7h1.6v1.6h-1.6zM344.7 115.7h1.6v1.6h-1.6zM347.7 115.7h1.6v1.6h-1.6zM348.7 115.7h1.6v1.6h-1.6zM362.7 115.7h1.6v1.6h-1.6zM363.7 115.7h1.6v1.6h-1.6zM328.7 116.7h1.6v1.6h-1.6zM330.7 116.7h1.6v1.6h-1.6zM339.7 116.7h1.6v1.6h-1.6zM344.7 116.7h1.6v1.6h-1.6zM347.7 116.7h1.6v1.6h-1.6zM364.7 116.7h1.6v1.6h-1.6zM338.7 117.7h1.6v1.6h-1.6zM339.7 117.7h1.6v1.6h-1.6zM345.7 117.7h1.6v1.6h-1.6zM365.7 117.7h1.6v1.6h-1.6zM343.7 118.7h1.6v1.6h-1.6zM332.7 119.7h1.6v1.6h-1.6zM342.7 119.7h1.6v1.6h-1.6zM324.7 120.7h1.6v1.6h-1.6zM332.7 120.7h1.6v1.6h-1.6zM336.7 120.7h1.6v1.6h-1.6zM338.7 120.7h1.6v1.6h-1.6zM339.7 120.7h1.6v1.6h-1.6zM340.7 120.7h1.6v1.6h-1.6zM364.7 120.7h1.6v1.6h-1.6zM367.7 120.7h1.6v1.6h-1.6zM368.7 120.7h1.6v1.6h-1.6zM317.7 121.7h1.6v1.6h-1.6zM331.7 121.7h1.6v1.6h-1.6zM332.7 121.7h1.6v1.6h-1.6zM337.7 121.7h1.6v1.6h-1.6zM341.7 121.7h1.6v1.6h-1.6zM342.7 121.7h1.6v1.6h-1.6zM343.7 121.7h1.6v1.6h-1.6zM368.7 121.7h1.6v1.6h-1.6zM369.7 121.7h1.6v1.6h-1.6zM371.7 121.7h1.6v1.6h-1.6zM379.7 121.7h1.6v1.6h-1.6zM318.7 122.7h1.6v1.6h-1.6zM324.7 122.7h1.6v1.6h-1.6zM326.7 122.7h1.6v1.6h-1.6zM333.7 122.7h1.6v1.6h-1.6zM334.7 122.7h1.6v1.6h-1.6zM341.7 122.7h1.6v1.6h-1.6zM342.7 122.7h1.6v1.6h-1.6zM323.7 123.7h1.6v1.6h-1.6zM341.7 123.7h1.6v1.6h-1.6zM367.7 123.7h1.6v1.6h-1.6zM323.7 124.7h1.6v1.6h-1.6zM326.7 124.7h1.6v1.6h-1.6zM328.7 124.7h1.6v1.6h-1.6zM335.7 124.7h1.6v1.6h-1.6zM338.7 124.7h1.6v1.6h-1.6zM341.7 124.7h1.6v1.6h-1.6zM365.7 124.7h1.6v1.6h-1.6zM367.7 124.7h1.6v1.6h-1.6zM368.7 124.7h1.6v1.6h-1.6zM321.7 125.7h1.6v1.6h-1.6zM322.7 125.7h1.6v1.6h-1.6zM329.7 125.7h1.6v1.6h-1.6zM340.7 125.7h1.6v1.6h-1.6zM341.7 125.7h1.6v1.6h-1.6zM342.7 125.7h1.6v1.6h-1.6zM367.7 125.7h1.6v1.6h-1.6zM381.7 125.7h1.6v1.6h-1.6zM332.7 126.7h1.6v1.6h-1.6zM330.7 127.7h1.6v1.6h-1.6zM332.7 127.7h1.6v1.6h-1.6zM333.7 127.7h1.6v1.6h-1.6zM342.7 127.7h1.6v1.6h-1.6zM366.7 127.7h1.6v1.6h-1.6zM367.7 127.7h1.6v1.6h-1.6zM323.7 128.7h1.6v1.6h-1.6zM326.7 128.7h1.6v1.6h-1.6zM329.7 128.7h1.6v1.6h-1.6zM334.7 128.7h1.6v1.6h-1.6zM335.7 128.7h1.6v1.6h-1.6zM336.7 128.7h1.6v1.6h-1.6zM341.7 128.7h1.6v1.6h-1.6zM365.7 128.7h1.6v1.6h-1.6zM371.7 128.7h1.6v1.6h-1.6zM329.7 129.7h1.6v1.6h-1.6zM330.7 129.7h1.6v1.6h-1.6zM340.7 129.7h1.6v1.6h-1.6zM342.7 129.7h1.6v1.6h-1.6zM321.7 130.7h1.6v1.6h-1.6zM330.7 130.7h1.6v1.6h-1.6zM337.7 130.7h1.6v1.6h-1.6zM365.7 130.7h1.6v1.6h-1.6zM366.7 130.7h1.6v1.6h-1.6zM371.7 130.7h1.6v1.6h-1.6zM328.7 131.7h1.6v1.6h-1.6zM339.7 131.7h1.6v1.6h-1.6zM343.7 131.7h1.6v1.6h-1.6zM367.7 131.7h1.6v1.6h-1.6zM314.7 132.7h1.6v1.6h-1.6zM331.7 132.7h1.6v1.6h-1.6zM333.7 132.7h1.6v1.6h-1.6zM341.7 132.7h1.6v1.6h-1.6zM342.7 132.7h1.6v1.6h-1.6zM365.7 132.7h1.6v1.6h-1.6zM325.7 133.7h1.6v1.6h-1.6zM332.7 133.7h1.6v1.6h-1.6zM333.7 133.7h1.6v1.6h-1.6zM338.7 133.7h1.6v1.6h-1.6zM341.7 133.7h1.6v1.6h-1.6zM342.7 133.7h1.6v1.6h-1.6zM364.7 133.7h1.6v1.6h-1.6zM329.7 134.7h1.6v1.6h-1.6zM333.7 134.7h1.6v1.6h-1.6zM334.7 134.7h1.6v1.6h-1.6zM338.7 134.7h1.6v1.6h-1.6zM339.7 134.7h1.6v1.6h-1.6zM343.7 134.7h1.6v1.6h-1.6zM369.7 134.7h1.6v1.6h-1.6zM330.7 135.7h1.6v1.6h-1.6zM332.7 135.7h1.6v1.6h-1.6zM337.7 135.7h1.6v1.6h-1.6zM343.7 135.7h1.6v1.6h-1.6zM376.7 135.7h1.6v1.6h-1.6zM378.7 135.7h1.6v1.6h-1.6zM341.7 136.7h1.6v1.6h-1.6zM345.7 136.7h1.6v1.6h-1.6zM346.7 136.7h1.6v1.6h-1.6zM363.7 136.7h1.6v1.6h-1.6zM366.7 136.7h1.6v1.6h-1.6zM336.7 137.7h1.6v1.6h-1.6zM346.7 137.7h1.6v1.6h-1.6zM361.7 137.7h1.6v1.6h-1.6zM365.7 137.7h1.6v1.6h-1.6zM335.7 138.7h1.6v1.6h-1.6zM338.7 138.7h1.6v1.6h-1.6zM344.7 138.7h1.6v1.6h-1.6zM359.7 138.7h1.6v1.6h-1.6zM350.7 139.7h1.6v1.6h-1.6zM352.7 139.7h1.6v1.6h-1.6zM357.7 139.7h1.6v1.6h-1.6zM361.7 139.7h1.6v1.6h-1.6zM362.7 139.7h1.6v1.6h-1.6zM367.7 139.7h1.6v1.6h-1.6zM310.7 140.7h1.6v1.6h-1.6zM328.7 140.7h1.6v1.6h-1.6zM331.7 140.7h1.6v1.6h-1.6zM340.7 140.7h1.6v1.6h-1.6zM345.7 140.7h1.6v1.6h-1.6zM347.7 140.7h1.6v1.6h-1.6zM354.7 140.7h1.6v1.6h-1.6zM355.7 140.7h1.6v1.6h-1.6zM356.7 140.7h1.6v1.6h-1.6zM361.7 140.7h1.6v1.6h-1.6zM355.7 141.7h1.6v1.6h-1.6zM358.7 141.7h1.6v1.6h-1.6zM359.7 141.7h1.6v1.6h-1.6zM337.7 142.7h1.6v1.6h-1.6zM339.7 142.7h1.6v1.6h-1.6zM341.7 142.7h1.6v1.6h-1.6zM342.7 142.7h1.6v1.6h-1.6zM351.7 142.7h1.6v1.6h-1.6zM355.7 142.7h1.6v1.6h-1.6zM359.7 142.7h1.6v1.6h-1.6zM329.7 143.7h1.6v1.6h-1.6zM355.7 143.7h1.6v1.6h-1.6zM359.7 143.7h1.6v1.6h-1.6zM362.7 143.7h1.6v1.6h-1.6zM347.7 144.7h1.6v1.6h-1.6zM356.7 144.7h1.6v1.6h-1.6zM331.7 145.7h1.6v1.6h-1.6zM337.7 145.7h1.6v1.6h-1.6zM351.7 145.7h1.6v1.6h-1.6zM360.7 145.7h1.6v1.6h-1.6zM346.7 146.7h1.6v1.6h-1.6zM351.7 146.7h1.6v1.6h-1.6zM358.7 146.7h1.6v1.6h-1.6zM359.7 146.7h1.6v1.6h-1.6zM329.7 149.7h1.6v1.6h-1.6zM343.7 149.7h1.6v1.6h-1.6zM360.7 150.7h1.6v1.6h-1.6zM357.7 152.7h1.6v1.6h-1.6zM362.7 156.7h1.6v1.6h-1.6zM339.7 161.7h1.6v1.6h-1.6z" fill="#f43a3a"/><path d="M573.7 43.7h1.6v1.6h-1.6zM574.7 43.7h1.6v1.6h-1.6zM575.7 43.7h1.6v1.6h-1.6zM578.7 43.7h1.6v1.6h-1.6zM580.7 43.7h1.6v1.6h-1.6zM581.7 43.7h1.6v1.6h-1.6zM587.7 43.7h1.6v1.6h-1.6zM588.7 43.7h1.6v1.6h-1.6zM589.7 43.7h1.6v1.6h-1.6zM590.7 43.7h1.6v1.6h-1.6zM593.7 43.7h1.6v1.6h-1.6zM594.7 43.7h1.6v1.6h-1.6zM596.7 43.7h1.6v1.6h-1.6zM597.7 43.7h1.6v1.6h-1.6zM601.7 43.7h1.6v1.6h-1.6zM571.7 44.7h1.6v1.6h-1.6zM572.7 44.7h1.6v1.6h-1.6zM573.7 44.7h1.6v1.6h-1.6zM574.7 44.7h1.6v1.6h-1.6zM575.7 44.7h1.6v1.6h-1.6zM576.7 44.7h1.6v1.6h-1.6zM577.7 44.7h1.6v1.6h-1.6zM578.7 44.7h1.6v1.6h-1.6zM579.7 44.7h1.6v1.6h-1.6zM580.7 44.7h1.6v1.6h-1.6zM581.7 44.7h1.6v1.6h-1.6zM582.7 44.7h1.6v1.6h-1.6zM583.7 44.7h1.6v1.6h-1.6zM586.7 44.7h1.6v1.6h-1.6zM587.7 44.7h1.6v1.6h-1.6zM588.7 44.7h1.6v1.6h-1.6zM589.7 44.7h1.6v1.6h-1.6zM590.7 44.7h1.6v1.6h-1.6zM591.7 44.7h1.6v1.6h-1.6zM592.7 44.7h1.6v1.6h-1.6zM593.7 44.7h1.6v1.6h-1.6zM594.7 44.7h1.6v1.6h-1.6zM595.7 44.7h1.6v1.6h-1.6zM596.7 44.7h1.6v1.6h-1.6zM597.7 44.7h1.6v1.6h-1.6zM598.7 44.7h1.6v1.6h-1.6zM599.7 44.7h1.6v1.6h-1.6zM600.7 44.7h1.6v1.6h-1.6zM601.7 44.7h1.6v1.6h-1.6zM602.7 44.7h1.6v1.6h-1.6zM569.7 45.7h1.6v1.6h-1.6zM570.7 45.7h1.6v1.6h-1.6zM571.7 45.7h1.6v1.6h-1.6zM572.7 45.7h1.6v1.6h-1.6zM573.7 45.7h1.6v1.6h-1.6zM574.7 45.7h1.6v1.6h-1.6zM575.7 45.7h1.6v1.6h-1.6zM576.7 45.7h1.6v1.6h-1.6zM577.7 45.7h1.6v1.6h-1.6zM578.7 45.7h1.6v1.6h-1.6zM579.7 45.7h1.6v1.6h-1.6zM580.7 45.7h1.6v1.6h-1.6zM581.7 45.7h1.6v1.6h-1.6zM582.7 45.7h1.6v1.6h-1.6zM586.7 45.7h1.6v1.6h-1.6zM587.7 45.7h1.6v1.6h-1.6zM588.7 45.7h1.6v1.6h-1.6zM589.7 45.7h1.6v1.6h-1.6zM590.7 45.7h1.6v1.6h-1.6zM591.7 45.7h1.6v1.6h-1.6zM592.7 45.7h1.6v1.6h-1.6zM593.7 45.7h1.6v1.6h-1.6zM594.7 45.7h1.6v1.6h-1.6zM595.7 45.7h1.6v1.6h-1.6zM596.7 45.7h1.6v1.6h-1.6zM597.7 45.7h1.6v1.6h-1.6zM598.7 45.7h1.6v1.6h-1.6zM599.7 45.7h1.6v1.6h-1.6zM600.7 45.7h1.6v1.6h-1.6zM601.7 45.7h1.6v1.6h-1.6zM602.7 45.7h1.6v1.6h-1.6zM603.7 45.7h1.6v1.6h-1.6zM567.7 46.7h1.6v1.6h-1.6zM569.7 46.7h1.6v1.6h-1.6zM570.7 46.7h1.6v1.6h-1.6zM571.7 46.7h1.6v1.6h-1.6zM572.7 46.7h1.6v1.6h-1.6zM573.7 46.7h1.6v1.6h-1.6zM574.7 46.7h1.6v1.6h-1.6zM575.7 46.7h1.6v1.6h-1.6zM576.7 46.7h1.6v1.6h-1.6zM577.7 46.7h1.6v1.6h-1.6zM578.7 46.7h1.6v1.6h-1.6zM579.7 46.7h1.6v1.6h-1.6zM580.7 46.7h1.6v1.6h-1.6zM581.7 46.7h1.6v1.6h-1.6zM582.7 46.7h1.6v1.6h-1.6zM583.7 46.7h1.6v1.6h-1.6zM586.7 46.7h1.6v1.6h-1.6zM587.7 46.7h1.6v1.6h-1.6zM588.7 46.7h1.6v1.6h-1.6zM589.7 46.7h1.6v1.6h-1.6zM590.7 46.7h1.6v1.6h-1.6zM591.7 46.7h1.6v1.6h-1.6zM592.7 46.7h1.6v1.6h-1.6zM593.7 46.7h1.6v1.6h-1.6zM594.7 46.7h1.6v1.6h-1.6zM595.7 46.7h1.6v1.6h-1.6zM596.7 46.7h1.6v1.6h-1.6zM597.7 46.7h1.6v1.6h-1.6zM598.7 46.7h1.6v1.6h-1.6zM599.7 46.7h1.6v1.6h-1.6zM600.7 46.7h1.6v1.6h-1.6zM601.7 46.7h1.6v1.6h-1.6zM602.7 46.7h1.6v1.6h-1.6zM603.7 46.7h1.6v1.6h-1.6zM565.7 47.7h1.6v1.6h-1.6zM566.7 47.7h1.6v1.6h-1.6zM567.7 47.7h1.6v1.6h-1.6zM568.7 47.7h1.6v1.6h-1.6zM569.7 47.7h1.6v1.6h-1.6zM570.7 47.7h1.6v1.6h-1.6zM571.7 47.7h1.6v1.6h-1.6zM572.7 47.7h1.6v1.6h-1.6zM573.7 47.7h1.6v1.6h-1.6zM574.7 47.7h1.6v1.6h-1.6zM575.7 47.7h1.6v1.6h-1.6zM576.7 47.7h1.6v1.6h-1.6zM577.7 47.7h1.6v1.6h-1.6zM578.7 47.7h1.6v1.6h-1.6zM579.7 47.7h1.6v1.6h-1.6zM580.7 47.7h1.6v1.6h-1.6zM581.7 47.7h1.6v1.6h-1.6zM582.7 47.7h1.6v1.6h-1.6zM583.7 47.7h1.6v1.6h-1.6zM586.7 47.7h1.6v1.6h-1.6zM587.7 47.7h1.6v1.6h-1.6zM588.7 47.7h1.6v1.6h-1.6zM589.7 47.7h1.6v1.6h-1.6zM590.7 47.7h1.6v1.6h-1.6zM591.7 47.7h1.6v1.6h-1.6zM592.7 47.7h1.6v1.6h-1.6zM593.7 47.7h1.6v1.6h-1.6zM594.7 47.7h1.6v1.6h-1.6zM595.7 47.7h1.6v1.6h-1.6zM596.7 47.7h1.6v1.6h-1.6zM597.7 47.7h1.6v1.6h-1.6zM598.7 47.7h1.6v1.6h-1.6zM599.7 47.7h1.6v1.6h-1.6zM600.7 47.7h1.6v1.6h-1.6zM601.7 47.7h1.6v1.6h-1.6zM602.7 47.7h1.6v1.6h-1.6zM603.7 47.7h1.6v1.6h-1.6zM559.7 48.7h1.6v1.6h-1.6zM560.7 48.7h1.6v1.6h-1.6zM561.7 48.7h1.6v1.6h-1.6zM562.7 48.7h1.6v1.6h-1.6zM563.7 48.7h1.6v1.6h-1.6zM564.7 48.7h1.6v1.6h-1.6zM565.7 48.7h1.6v1.6h-1.6zM566.7 48.7h1.6v1.6h-1.6zM567.7 48.7h1.6v1.6h-1.6zM568.7 48.7h1.6v1.6h-1.6zM569.7 48.7h1.6v1.6h-1.6zM570.7 48.7h1.6v1.6h-1.6zM571.7 48.7h1.6v1.6h-1.6zM572.7 48.7h1.6v1.6h-1.6zM573.7 48.7h1.6v1.6h-1.6zM574.7 48.7h1.6v1.6h-1.6zM575.7 48.7h1.6v1.6h-1.6zM576.7 48.7h1.6v1.6h-1.6zM577.7 48.7h1.6v1.6h-1.6zM578.7 48.7h1.6v1.6h-1.6zM579.7 48.7h1.6v1.6h-1.6zM580.7 48.7h1.6v1.6h-1.6zM581.7 48.7h1.6v1.6h-1.6zM582.7 48.7h1.6v1.6h-1.6zM583.7 48.7h1.6v1.6h-1.6zM586.7 48.7h1.6v1.6h-1.6zM587.7 48.7h1.6v1.6h-1.6zM588.7 48.7h1.6v1.6h-1.6zM589.7 48.7h1.6v1.6h-1.6zM590.7 48.7h1.6v1.6h-1.6zM591.7 48.7h1.6v1.6h-1.6zM592.7 48.7h1.6v1.6h-1.6zM593.7 48.7h1.6v1.6h-1.6zM594.7 48.7h1.6v1.6h-1.6zM595.7 48.7h1.6v1.6h-1.6zM596.7 48.7h1.6v1.6h-1.6zM597.7 48.7h1.6v1.6h-1.6zM598.7 48.7h1.6v1.6h-1.6zM599.7 48.7h1.6v1.6h-1.6zM600.7 48.7h1.6v1.6h-1.6zM601.7 48.7h1.6v1.6h-1.6zM602.7 48.7h1.6v1.6h-1.6zM603.7 48.7h1.6v1.6h-1.6zM558.7 49.7h1.6v1.6h-1.6zM559.7 49.7h1.6v1.6h-1.6zM560.7 49.7h1.6v1.6h-1.6zM561.7 49.7h1.6v1.6h-1.6zM562.7 49.7h1.6v1.6h-1.6zM563.7 49.7h1.6v1.6h-1.6zM564.7 49.7h1.6v1.6h-1.6zM565.7 49.7h1.6v1.6h-1.6zM566.7 49.7h1.6v1.6h-1.6zM567.7 49.7h1.6v1.6h-1.6zM568.7 49.7h1.6v1.6h-1.6zM569.7 49.7h1.6v1.6h-1.6zM570.7 49.7h1.6v1.6h-1.6zM571.7 49.7h1.6v1.6h-1.6zM572.7 49.7h1.6v1.6h-1.6zM573.7 49.7h1.6v1.6h-1.6zM574.7 49.7h1.6v1.6h-1.6zM575.7 49.7h1.6v1.6h-1.6zM576.7 49.7h1.6v1.6h-1.6zM577.7 49.7h1.6v1.6h-1.6zM578.7 49.7h1.6v1.6h-1.6zM579.7 49.7h1.6v1.6h-1.6zM580.7 49.7h1.6v1.6h-1.6zM581.7 49.7h1.6v1.6h-1.6zM582.7 49.7h1.6v1.6h-1.6zM586.7 49.7h1.6v1.6h-1.6zM587.7 49.7h1.6v1.6h-1.6zM588.7 49.7h1.6v1.6h-1.6zM589.7 49.7h1.6v1.6h-1.6zM590.7 49.7h1.6v1.6h-1.6zM591.7 49.7h1.6v1.6h-1.6zM592.7 49.7h1.6v1.6h-1.6zM593.7 49.7h1.6v1.6h-1.6zM594.7 49.7h1.6v1.6h-1.6zM595.7 49.7h1.6v1.6h-1.6zM596.7 49.7h1.6v1.6h-1.6zM597.7 49.7h1.6v1.6h-1.6zM598.7 49.7h1.6v1.6h-1.6zM599.7 49.7h1.6v1.6h-1.6zM600.7 49.7h1.6v1.6h-1.6zM601.7 49.7h1.6v1.6h-1.6zM602.7 49.7h1.6v1.6h-1.6zM558.7 50.7h1.6v1.6h-1.6zM559.7 50.7h1.6v1.6h-1.6zM560.7 50.7h1.6v1.6h-1.6zM561.7 50.7h1.6v1.6h-1.6zM562.7 50.7h1.6v1.6h-1.6zM563.7 50.7h1.6v1.6h-1.6zM564.7 50.7h1.6v1.6h-1.6zM565.7 50.7h1.6v1.6h-1.6zM566.7 50.7h1.6v1.6h-1.6zM567.7 50.7h1.6v1.6h-1.6zM568.7 50.7h1.6v1.6h-1.6zM569.7 50.7h1.6v1.6h-1.6zM570.7 50.7h1.6v1.6h-1.6zM571.7 50.7h1.6v1.6h-1.6zM572.7 50.7h1.6v1.6h-1.6zM573.7 50.7h1.6v1.6h-1.6zM574.7 50.7h1.6v1.6h-1.6zM575.7 50.7h1.6v1.6h-1.6zM576.7 50.7h1.6v1.6h-1.6zM577.7 50.7h1.6v1.6h-1.6zM578.7 50.7h1.6v1.6h-1.6zM579.7 50.7h1.6v1.6h-1.6zM580.7 50.7h1.6v1.6h-1.6zM581.7 50.7h1.6v1.6h-1.6zM582.7 50.7h1.6v1.6h-1.6zM583.7 50.7h1.6v1.6h-1.6zM586.7 50.7h1.6v1.6h-1.6zM587.7 50.7h1.6v1.6h-1.6zM588.7 50.7h1.6v1.6h-1.6zM589.7 50.7h1.6v1.6h-1.6zM590.7 50.7h1.6v1.6h-1.6zM591.7 50.7h1.6v1.6h-1.6zM592.7 50.7h1.6v1.6h-1.6zM593.7 50.7h1.6v1.6h-1.6zM594.7 50.7h1.6v1.6h-1.6zM595.7 50.7h1.6v1.6h-1.6zM596.7 50.7h1.6v1.6h-1.6zM597.7 50.7h1.6v1.6h-1.6zM598.7 50.7h1.6v1.6h-1.6zM599.7 50.7h1.6v1.6h-1.6zM600.7 50.7h1.6v1.6h-1.6zM601.7 50.7h1.6v1.6h-1.6zM558.7 51.7h1.6v1.6h-1.6zM559.7 51.7h1.6v1.6h-1.6zM560.7 51.7h1.6v1.6h-1.6zM561.7 51.7h1.6v1.6h-1.6zM562.7 51.7h1.6v1.6h-1.6zM563.7 51.7h1.6v1.6h-1.6zM564.7 51.7h1.6v1.6h-1.6zM565.7 51.7h1.6v1.6h-1.6zM566.7 51.7h1.6v1.6h-1.6zM567.7 51.7h1.6v1.6h-1.6zM568.7 51.7h1.6v1.6h-1.6zM569.7 51.7h1.6v1.6h-1.6zM570.7 51.7h1.6v1.6h-1.6zM571.7 51.7h1.6v1.6h-1.6zM572.7 51.7h1.6v1.6h-1.6zM573.7 51.7h1.6v1.6h-1.6zM574.7 51.7h1.6v1.6h-1.6zM575.7 51.7h1.6v1.6h-1.6zM576.7 51.7h1.6v1.6h-1.6zM577.7 51.7h1.6v1.6h-1.6zM578.7 51.7h1.6v1.6h-1.6zM579.7 51.7h1.6v1.6h-1.6zM580.7 51.7h1.6v1.6h-1.6zM581.7 51.7h1.6v1.6h-1.6zM582.7 51.7h1.6v1.6h-1.6zM583.7 51.7h1.6v1.6h-1.6zM586.7 51.7h1.6v1.6h-1.6zM587.7 51.7h1.6v1.6h-1.6zM588.7 51.7h1.6v1.6h-1.6zM589.7 51.7h1.6v1.6h-1.6zM590.7 51.7h1.6v1.6h-1.6zM591.7 51.7h1.6v1.6h-1.6zM592.7 51.7h1.6v1.6h-1.6zM593.7 51.7h1.6v1.6h-1.6zM594.7 51.7h1.6v1.6h-1.6zM595.7 51.7h1.6v1.6h-1.6zM596.7 51.7h1.6v1.6h-1.6zM597.7 51.7h1.6v1.6h-1.6zM598.7 51.7h1.6v1.6h-1.6zM599.7 51.7h1.6v1.6h-1.6zM600.7 51.7h1.6v1.6h-1.6zM601.7 51.7h1.6v1.6h-1.6zM602.7 51.7h1.6v1.6h-1.6zM603.7 51.7h1.6v1.6h-1.6zM558.7 52.7h1.6v1.6h-1.6zM559.7 52.7h1.6v1.6h-1.6zM560.7 52.7h1.6v1.6h-1.6zM561.7 52.7h1.6v1.6h-1.6zM562.7 52.7h1.6v1.6h-1.6zM563.7 52.7h1.6v1.6h-1.6zM564.7 52.7h1.6v1.6h-1.6zM565.7 52.7h1.6v1.6h-1.6zM566.7 52.7h1.6v1.6h-1.6zM567.7 52.7h1.6v1.6h-1.6zM568.7 52.7h1.6v1.6h-1.6zM569.7 52.7h1.6v1.6h-1.6zM570.7 52.7h1.6v1.6h-1.6zM571.7 52.7h1.6v1.6h-1.6zM572.7 52.7h1.6v1.6h-1.6zM573.7 52.7h1.6v1.6h-1.6zM574.7 52.7h1.6v1.6h-1.6zM575.7 52.7h1.6v1.6h-1.6zM576.7 52.7h1.6v1.6h-1.6zM577.7 52.7h1.6v1.6h-1.6zM578.7 52.7h1.6v1.6h-1.6zM579.7 52.7h1.6v1.6h-1.6zM580.7 52.7h1.6v1.6h-1.6zM581.7 52.7h1.6v1.6h-1.6zM582.7 52.7h1.6v1.6h-1.6zM583.7 52.7h1.6v1.6h-1.6zM586.7 52.7h1.6v1.6h-1.6zM587.7 52.7h1.6v1.6h-1.6zM588.7 52.7h1.6v1.6h-1.6zM589.7 52.7h1.6v1.6h-1.6zM590.7 52.7h1.6v1.6h-1.6zM591.7 52.7h1.6v1.6h-1.6zM592.7 52.7h1.6v1.6h-1.6zM593.7 52.7h1.6v1.6h-1.6zM594.7 52.7h1.6v1.6h-1.6zM595.7 52.7h1.6v1.6h-1.6zM596.7 52.7h1.6v1.6h-1.6zM597.7 52.7h1.6v1.6h-1.6zM598.7 52.7h1.6v1.6h-1.6zM599.7 52.7h1.6v1.6h-1.6zM600.7 52.7h1.6v1.6h-1.6zM601.7 52.7h1.6v1.6h-1.6zM602.7 52.7h1.6v1.6h-1.6zM603.7 52.7h1.6v1.6h-1.6zM558.7 53.7h1.6v1.6h-1.6zM559.7 53.7h1.6v1.6h-1.6zM560.7 53.7h1.6v1.6h-1.6zM561.7 53.7h1.6v1.6h-1.6zM562.7 53.7h1.6v1.6h-1.6zM563.7 53.7h1.6v1.6h-1.6zM564.7 53.7h1.6v1.6h-1.6zM565.7 53.7h1.6v1.6h-1.6zM566.7 53.7h1.6v1.6h-1.6zM567.7 53.7h1.6v1.6h-1.6zM568.7 53.7h1.6v1.6h-1.6zM569.7 53.7h1.6v1.6h-1.6zM570.7 53.7h1.6v1.6h-1.6zM571.7 53.7h1.6v1.6h-1.6zM572.7 53.7h1.6v1.6h-1.6zM573.7 53.7h1.6v1.6h-1.6zM574.7 53.7h1.6v1.6h-1.6zM575.7 53.7h1.6v1.6h-1.6zM576.7 53.7h1.6v1.6h-1.6zM577.7 53.7h1.6v1.6h-1.6zM578.7 53.7h1.6v1.6h-1.6zM579.7 53.7h1.6v1.6h-1.6zM580.7 53.7h1.6v1.6h-1.6zM581.7 53.7h1.6v1.6h-1.6zM582.7 53.7h1.6v1.6h-1.6zM586.7 53.7h1.6v1.6h-1.6zM587.7 53.7h1.6v1.6h-1.6zM588.7 53.7h1.6v1.6h-1.6zM589.7 53.7h1.6v1.6h-1.6zM590.7 53.7h1.6v1.6h-1.6zM591.7 53.7h1.6v1.6h-1.6zM592.7 53.7h1.6v1.6h-1.6zM593.7 53.7h1.6v1.6h-1.6zM594.7 53.7h1.6v1.6h-1.6zM595.7 53.7h1.6v1.6h-1.6zM596.7 53.7h1.6v1.6h-1.6zM597.7 53.7h1.6v1.6h-1.6zM598.7 53.7h1.6v1.6h-1.6zM599.7 53.7h1.6v1.6h-1.6zM600.7 53.7h1.6v1.6h-1.6zM601.7 53.7h1.6v1.6h-1.6zM602.7 53.7h1.6v1.6h-1.6zM603.7 53.7h1.6v1.6h-1.6zM559.7 54.7h1.6v1.6h-1.6zM560.7 54.7h1.6v1.6h-1.6zM561.7 54.7h1.6v1.6h-1.6zM562.7 54.7h1.6v1.6h-1.6zM563.7 54.7h1.6v1.6h-1.6zM564.7 54.7h1.6v1.6h-1.6zM565.7 54.7h1.6v1.6h-1.6zM566.7 54.7h1.6v1.6h-1.6zM567.7 54.7h1.6v1.6h-1.6zM568.7 54.7h1.6v1.6h-1.6zM569.7 54.7h1.6v1.6h-1.6zM570.7 54.7h1.6v1.6h-1.6zM571.7 54.7h1.6v1.6h-1.6zM572.7 54.7h1.6v1.6h-1.6zM573.7 54.7h1.6v1.6h-1.6zM574.7 54.7h1.6v1.6h-1.6zM575.7 54.7h1.6v1.6h-1.6zM576.7 54.7h1.6v1.6h-1.6zM577.7 54.7h1.6v1.6h-1.6zM578.7 54.7h1.6v1.6h-1.6zM579.7 54.7h1.6v1.6h-1.6zM580.7 54.7h1.6v1.6h-1.6zM581.7 54.7h1.6v1.6h-1.6zM582.7 54.7h1.6v1.6h-1.6zM586.7 54.7h1.6v1.6h-1.6zM587.7 54.7h1.6v1.6h-1.6zM588.7 54.7h1.6v1.6h-1.6zM589.7 54.7h1.6v1.6h-1.6zM590.7 54.7h1.6v1.6h-1.6zM591.7 54.7h1.6v1.6h-1.6zM592.7 54.7h1.6v1.6h-1.6zM593.7 54.7h1.6v1.6h-1.6zM594.7 54.7h1.6v1.6h-1.6zM595.7 54.7h1.6v1.6h-1.6zM596.7 54.7h1.6v1.6h-1.6zM597.7 54.7h1.6v1.6h-1.6zM598.7 54.7h1.6v1.6h-1.6zM599.7 54.7h1.6v1.6h-1.6zM600.7 54.7h1.6v1.6h-1.6zM601.7 54.7h1.6v1.6h-1.6zM602.7 54.7h1.6v1.6h-1.6zM558.7 55.7h1.6v1.6h-1.6zM559.7 55.7h1.6v1.6h-1.6zM560.7 55.7h1.6v1.6h-1.6zM561.7 55.7h1.6v1.6h-1.6zM562.7 55.7h1.6v1.6h-1.6zM563.7 55.7h1.6v1.6h-1.6zM564.7 55.7h1.6v1.6h-1.6zM565.7 55.7h1.6v1.6h-1.6zM566.7 55.7h1.6v1.6h-1.6zM567.7 55.7h1.6v1.6h-1.6zM568.7 55.7h1.6v1.6h-1.6zM569.7 55.7h1.6v1.6h-1.6zM570.7 55.7h1.6v1.6h-1.6zM571.7 55.7h1.6v1.6h-1.6zM572.7 55.7h1.6v1.6h-1.6zM573.7 55.7h1.6v1.6h-1.6zM574.7 55.7h1.6v1.6h-1.6zM575.7 55.7h1.6v1.6h-1.6zM576.7 55.7h1.6v1.6h-1.6zM577.7 55.7h1.6v1.6h-1.6zM578.7 55.7h1.6v1.6h-1.6zM579.7 55.7h1.6v1.6h-1.6zM580.7 55.7h1.6v1.6h-1.6zM581.7 55.7h1.6v1.6h-1.6zM582.7 55.7h1.6v1.6h-1.6zM583.7 55.7h1.6v1.6h-1.6zM586.7 55.7h1.6v1.6h-1.6zM587.7 55.7h1.6v1.6h-1.6zM589.7 55.7h1.6v1.6h-1.6zM590.7 55.7h1.6v1.6h-1.6zM591.7 55.7h1.6v1.6h-1.6zM592.7 55.7h1.6v1.6h-1.6zM593.7 55.7h1.6v1.6h-1.6zM594.7 55.7h1.6v1.6h-1.6zM595.7 55.7h1.6v1.6h-1.6zM596.7 55.7h1.6v1.6h-1.6zM597.7 55.7h1.6v1.6h-1.6zM598.7 55.7h1.6v1.6h-1.6zM599.7 55.7h1.6v1.6h-1.6zM600.7 55.7h1.6v1.6h-1.6zM601.7 55.7h1.6v1.6h-1.6zM602.7 55.7h1.6v1.6h-1.6zM603.7 55.7h1.6v1.6h-1.6zM558.7 56.7h1.6v1.6h-1.6zM559.7 56.7h1.6v1.6h-1.6zM560.7 56.7h1.6v1.6h-1.6zM561.7 56.7h1.6v1.6h-1.6zM562.7 56.7h1.6v1.6h-1.6zM563.7 56.7h1.6v1.6h-1.6zM564.7 56.7h1.6v1.6h-1.6zM565.7 56.7h1.6v1.6h-1.6zM566.7 56.7h1.6v1.6h-1.6zM567.7 56.7h1.6v1.6h-1.6zM568.7 56.7h1.6v1.6h-1.6zM569.7 56.7h1.6v1.6h-1.6zM570.7 56.7h1.6v1.6h-1.6zM571.7 56.7h1.6v1.6h-1.6zM572.7 56.7h1.6v1.6h-1.6zM573.7 56.7h1.6v1.6h-1.6zM574.7 56.7h1.6v1.6h-1.6zM575.7 56.7h1.6v1.6h-1.6zM576.7 56.7h1.6v1.6h-1.6zM577.7 56.7h1.6v1.6h-1.6zM578.7 56.7h1.6v1.6h-1.6zM580.7 56.7h1.6v1.6h-1.6zM582.7 56.7h1.6v1.6h-1.6zM583.7 56.7h1.6v1.6h-1.6zM586.7 56.7h1.6v1.6h-1.6zM587.7 56.7h1.6v1.6h-1.6zM588.7 56.7h1.6v1.6h-1.6zM589.7 56.7h1.6v1.6h-1.6zM590.7 56.7h1.6v1.6h-1.6zM591.7 56.7h1.6v1.6h-1.6zM592.7 56.7h1.6v1.6h-1.6zM593.7 56.7h1.6v1.6h-1.6zM594.7 56.7h1.6v1.6h-1.6zM595.7 56.7h1.6v1.6h-1.6zM597.7 56.7h1.6v1.6h-1.6zM599.7 56.7h1.6v1.6h-1.6zM600.7 56.7h1.6v1.6h-1.6zM601.7 56.7h1.6v1.6h-1.6zM602.7 56.7h1.6v1.6h-1.6zM603.7 56.7h1.6v1.6h-1.6zM558.7 57.7h1.6v1.6h-1.6zM559.7 57.7h1.6v1.6h-1.6zM560.7 57.7h1.6v1.6h-1.6zM561.7 57.7h1.6v1.6h-1.6zM562.7 57.7h1.6v1.6h-1.6zM563.7 57.7h1.6v1.6h-1.6zM564.7 57.7h1.6v1.6h-1.6zM565.7 57.7h1.6v1.6h-1.6zM566.7 57.7h1.6v1.6h-1.6zM567.7 57.7h1.6v1.6h-1.6zM568.7 57.7h1.6v1.6h-1.6zM569.7 57.7h1.6v1.6h-1.6zM570.7 57.7h1.6v1.6h-1.6zM571.7 57.7h1.6v1.6h-1.6zM572.7 57.7h1.6v1.6h-1.6zM573.7 57.7h1.6v1.6h-1.6zM574.7 57.7h1.6v1.6h-1.6zM575.7 57.7h1.6v1.6h-1.6zM576.7 57.7h1.6v1.6h-1.6zM577.7 57.7h1.6v1.6h-1.6zM578.7 57.7h1.6v1.6h-1.6zM579.7 57.7h1.6v1.6h-1.6zM580.7 57.7h1.6v1.6h-1.6zM581.7 57.7h1.6v1.6h-1.6zM582.7 57.7h1.6v1.6h-1.6zM583.7 57.7h1.6v1.6h-1.6zM586.7 57.7h1.6v1.6h-1.6zM587.7 57.7h1.6v1.6h-1.6zM588.7 57.7h1.6v1.6h-1.6zM589.7 57.7h1.6v1.6h-1.6zM590.7 57.7h1.6v1.6h-1.6zM591.7 57.7h1.6v1.6h-1.6zM592.7 57.7h1.6v1.6h-1.6zM593.7 57.7h1.6v1.6h-1.6zM594.7 57.7h1.6v1.6h-1.6zM595.7 57.7h1.6v1.6h-1.6zM596.7 57.7h1.6v1.6h-1.6zM597.7 57.7h1.6v1.6h-1.6zM598.7 57.7h1.6v1.6h-1.6zM599.7 57.7h1.6v1.6h-1.6zM600.7 57.7h1.6v1.6h-1.6zM601.7 57.7h1.6v1.6h-1.6zM602.7 57.7h1.6v1.6h-1.6zM603.7 57.7h1.6v1.6h-1.6zM558.7 58.7h1.6v1.6h-1.6zM559.7 58.7h1.6v1.6h-1.6zM560.7 58.7h1.6v1.6h-1.6zM561.7 58.7h1.6v1.6h-1.6zM562.7 58.7h1.6v1.6h-1.6zM563.7 58.7h1.6v1.6h-1.6zM564.7 58.7h1.6v1.6h-1.6zM565.7 58.7h1.6v1.6h-1.6zM566.7 58.7h1.6v1.6h-1.6zM567.7 58.7h1.6v1.6h-1.6zM568.7 58.7h1.6v1.6h-1.6zM569.7 58.7h1.6v1.6h-1.6zM570.7 58.7h1.6v1.6h-1.6zM571.7 58.7h1.6v1.6h-1.6zM572.7 58.7h1.6v1.6h-1.6zM573.7 58.7h1.6v1.6h-1.6zM574.7 58.7h1.6v1.6h-1.6zM575.7 58.7h1.6v1.6h-1.6zM576.7 58.7h1.6v1.6h-1.6zM577.7 58.7h1.6v1.6h-1.6zM578.7 58.7h1.6v1.6h-1.6zM579.7 58.7h1.6v1.6h-1.6zM580.7 58.7h1.6v1.6h-1.6zM581.7 58.7h1.6v1.6h-1.6zM583.7 58.7h1.6v1.6h-1.6zM586.7 58.7h1.6v1.6h-1.6zM587.7 58.7h1.6v1.6h-1.6zM588.7 58.7h1.6v1.6h-1.6zM589.7 58.7h1.6v1.6h-1.6zM590.7 58.7h1.6v1.6h-1.6zM591.7 58.7h1.6v1.6h-1.6zM592.7 58.7h1.6v1.6h-1.6zM593.7 58.7h1.6v1.6h-1.6zM594.7 58.7h1.6v1.6h-1.6zM595.7 58.7h1.6v1.6h-1.6zM596.7 58.7h1.6v1.6h-1.6zM598.7 58.7h1.6v1.6h-1.6zM599.7 58.7h1.6v1.6h-1.6zM600.7 58.7h1.6v1.6h-1.6zM601.7 58.7h1.6v1.6h-1.6zM602.7 58.7h1.6v1.6h-1.6zM603.7 58.7h1.6v1.6h-1.6zM558.7 59.7h1.6v1.6h-1.6zM559.7 59.7h1.6v1.6h-1.6zM560.7 59.7h1.6v1.6h-1.6zM561.7 59.7h1.6v1.6h-1.6zM562.7 59.7h1.6v1.6h-1.6zM563.7 59.7h1.6v1.6h-1.6zM564.7 59.7h1.6v1.6h-1.6zM565.7 59.7h1.6v1.6h-1.6zM566.7 59.7h1.6v1.6h-1.6zM567.7 59.7h1.6v1.6h-1.6zM568.7 59.7h1.6v1.6h-1.6zM569.7 59.7h1.6v1.6h-1.6zM570.7 59.7h1.6v1.6h-1.6zM571.7 59.7h1.6v1.6h-1.6zM572.7 59.7h1.6v1.6h-1.6zM573.7 59.7h1.6v1.6h-1.6zM574.7 59.7h1.6v1.6h-1.6zM575.7 59.7h1.6v1.6h-1.6zM576.7 59.7h1.6v1.6h-1.6zM577.7 59.7h1.6v1.6h-1.6zM578.7 59.7h1.6v1.6h-1.6zM579.7 59.7h1.6v1.6h-1.6zM580.7 59.7h1.6v1.6h-1.6zM581.7 59.7h1.6v1.6h-1.6zM582.7 59.7h1.6v1.6h-1.6zM583.7 59.7h1.6v1.6h-1.6zM586.7 59.7h1.6v1.6h-1.6zM587.7 59.7h1.6v1.6h-1.6zM588.7 59.7h1.6v1.6h-1.6zM589.7 59.7h1.6v1.6h-1.6zM590.7 59.7h1.6v1.6h-1.6zM591.7 59.7h1.6v1.6h-1.6zM592.7 59.7h1.6v1.6h-1.6zM593.7 59.7h1.6v1.6h-1.6zM594.7 59.7h1.6v1.6h-1.6zM595.7 59.7h1.6v1.6h-1.6zM596.7 59.7h1.6v1.6h-1.6zM597.7 59.7h1.6v1.6h-1.6zM598.7 59.7h1.6v1.6h-1.6zM599.7 59.7h1.6v1.6h-1.6zM600.7 59.7h1.6v1.6h-1.6zM601.7 59.7h1.6v1.6h-1.6zM602.7 59.7h1.6v1.6h-1.6zM558.7 60.7h1.6v1.6h-1.6zM559.7 60.7h1.6v1.6h-1.6zM560.7 60.7h1.6v1.6h-1.6zM561.7 60.7h1.6v1.6h-1.6zM562.7 60.7h1.6v1.6h-1.6zM563.7 60.7h1.6v1.6h-1.6zM564.7 60.7h1.6v1.6h-1.6zM565.7 60.7h1.6v1.6h-1.6zM566.7 60.7h1.6v1.6h-1.6zM567.7 60.7h1.6v1.6h-1.6zM568.7 60.7h1.6v1.6h-1.6zM569.7 60.7h1.6v1.6h-1.6zM570.7 60.7h1.6v1.6h-1.6zM571.7 60.7h1.6v1.6h-1.6zM572.7 60.7h1.6v1.6h-1.6zM573.7 60.7h1.6v1.6h-1.6zM574.7 60.7h1.6v1.6h-1.6zM575.7 60.7h1.6v1.6h-1.6zM576.7 60.7h1.6v1.6h-1.6zM577.7 60.7h1.6v1.6h-1.6zM578.7 60.7h1.6v1.6h-1.6zM579.7 60.7h1.6v1.6h-1.6zM580.7 60.7h1.6v1.6h-1.6zM581.7 60.7h1.6v1.6h-1.6zM582.7 60.7h1.6v1.6h-1.6zM583.7 60.7h1.6v1.6h-1.6zM586.7 60.7h1.6v1.6h-1.6zM587.7 60.7h1.6v1.6h-1.6zM588.7 60.7h1.6v1.6h-1.6zM589.7 60.7h1.6v1.6h-1.6zM590.7 60.7h1.6v1.6h-1.6zM591.7 60.7h1.6v1.6h-1.6zM592.7 60.7h1.6v1.6h-1.6zM593.7 60.7h1.6v1.6h-1.6zM594.7 60.7h1.6v1.6h-1.6zM595.7 60.7h1.6v1.6h-1.6zM597.7 60.7h1.6v1.6h-1.6zM598.7 60.7h1.6v1.6h-1.6zM599.7 60.7h1.6v1.6h-1.6zM600.7 60.7h1.6v1.6h-1.6zM601.7 60.7h1.6v1.6h-1.6zM602.7 60.7h1.6v1.6h-1.6zM603.7 60.7h1.6v1.6h-1.6zM558.7 61.7h1.6v1.6h-1.6zM559.7 61.7h1.6v1.6h-1.6zM560.7 61.7h1.6v1.6h-1.6zM561.7 61.7h1.6v1.6h-1.6zM562.7 61.7h1.6v1.6h-1.6zM563.7 61.7h1.6v1.6h-1.6zM564.7 61.7h1.6v1.6h-1.6zM565.7 61.7h1.6v1.6h-1.6zM566.7 61.7h1.6v1.6h-1.6zM567.7 61.7h1.6v1.6h-1.6zM568.7 61.7h1.6v1.6h-1.6zM569.7 61.7h1.6v1.6h-1.6zM570.7 61.7h1.6v1.6h-1.6zM571.7 61.7h1.6v1.6h-1.6zM572.7 61.7h1.6v1.6h-1.6zM573.7 61.7h1.6v1.6h-1.6zM574.7 61.7h1.6v1.6h-1.6zM575.7 61.7h1.6v1.6h-1.6zM576.7 61.7h1.6v1.6h-1.6zM577.7 61.7h1.6v1.6h-1.6zM578.7 61.7h1.6v1.6h-1.6zM579.7 61.7h1.6v1.6h-1.6zM580.7 61.7h1.6v1.6h-1.6zM581.7 61.7h1.6v1.6h-1.6zM582.7 61.7h1.6v1.6h-1.6zM583.7 61.7h1.6v1.6h-1.6zM586.7 61.7h1.6v1.6h-1.6zM587.7 61.7h1.6v1.6h-1.6zM588.7 61.7h1.6v1.6h-1.6zM589.7 61.7h1.6v1.6h-1.6zM590.7 61.7h1.6v1.6h-1.6zM591.7 61.7h1.6v1.6h-1.6zM592.7 61.7h1.6v1.6h-1.6zM593.7 61.7h1.6v1.6h-1.6zM594.7 61.7h1.6v1.6h-1.6zM595.7 61.7h1.6v1.6h-1.6zM596.7 61.7h1.6v1.6h-1.6zM597.7 61.7h1.6v1.6h-1.6zM598.7 61.7h1.6v1.6h-1.6zM599.7 61.7h1.6v1.6h-1.6zM600.7 61.7h1.6v1.6h-1.6zM601.7 61.7h1.6v1.6h-1.6zM602.7 61.7h1.6v1.6h-1.6zM603.7 61.7h1.6v1.6h-1.6zM559.7 62.7h1.6v1.6h-1.6zM560.7 62.7h1.6v1.6h-1.6zM561.7 62.7h1.6v1.6h-1.6zM562.7 62.7h1.6v1.6h-1.6zM563.7 62.7h1.6v1.6h-1.6zM564.7 62.7h1.6v1.6h-1.6zM565.7 62.7h1.6v1.6h-1.6zM566.7 62.7h1.6v1.6h-1.6zM567.7 62.7h1.6v1.6h-1.6zM568.7 62.7h1.6v1.6h-1.6zM569.7 62.7h1.6v1.6h-1.6zM570.7 62.7h1.6v1.6h-1.6zM571.7 62.7h1.6v1.6h-1.6zM572.7 62.7h1.6v1.6h-1.6zM573.7 62.7h1.6v1.6h-1.6zM574.7 62.7h1.6v1.6h-1.6zM575.7 62.7h1.6v1.6h-1.6zM576.7 62.7h1.6v1.6h-1.6zM577.7 62.7h1.6v1.6h-1.6zM578.7 62.7h1.6v1.6h-1.6zM579.7 62.7h1.6v1.6h-1.6zM580.7 62.7h1.6v1.6h-1.6zM581.7 62.7h1.6v1.6h-1.6zM582.7 62.7h1.6v1.6h-1.6zM583.7 62.7h1.6v1.6h-1.6zM586.7 62.7h1.6v1.6h-1.6zM587.7 62.7h1.6v1.6h-1.6zM588.7 62.7h1.6v1.6h-1.6zM589.7 62.7h1.6v1.6h-1.6zM590.7 62.7h1.6v1.6h-1.6zM591.7 62.7h1.6v1.6h-1.6zM592.7 62.7h1.6v1.6h-1.6zM593.7 62.7h1.6v1.6h-1.6zM594.7 62.7h1.6v1.6h-1.6zM595.7 62.7h1.6v1.6h-1.6zM596.7 62.7h1.6v1.6h-1.6zM597.7 62.7h1.6v1.6h-1.6zM598.7 62.7h1.6v1.6h-1.6zM599.7 62.7h1.6v1.6h-1.6zM600.7 62.7h1.6v1.6h-1.6zM601.7 62.7h1.6v1.6h-1.6zM602.7 62.7h1.6v1.6h-1.6zM558.7 63.7h1.6v1.6h-1.6zM559.7 63.7h1.6v1.6h-1.6zM560.7 63.7h1.6v1.6h-1.6zM561.7 63.7h1.6v1.6h-1.6zM562.7 63.7h1.6v1.6h-1.6zM563.7 63.7h1.6v1.6h-1.6zM564.7 63.7h1.6v1.6h-1.6zM565.7 63.7h1.6v1.6h-1.6zM566.7 63.7h1.6v1.6h-1.6zM567.7 63.7h1.6v1.6h-1.6zM568.7 63.7h1.6v1.6h-1.6zM569.7 63.7h1.6v1.6h-1.6zM570.7 63.7h1.6v1.6h-1.6zM571.7 63.7h1.6v1.6h-1.6zM572.7 63.7h1.6v1.6h-1.6zM573.7 63.7h1.6v1.6h-1.6zM574.7 63.7h1.6v1.6h-1.6zM575.7 63.7h1.6v1.6h-1.6zM576.7 63.7h1.6v1.6h-1.6zM577.7 63.7h1.6v1.6h-1.6zM578.7 63.7h1.6v1.6h-1.6zM579.7 63.7h1.6v1.6h-1.6zM580.7 63.7h1.6v1.6h-1.6zM581.7 63.7h1.6v1.6h-1.6zM582.7 63.7h1.6v1.6h-1.6zM583.7 63.7h1.6v1.6h-1.6zM586.7 63.7h1.6v1.6h-1.6zM587.7 63.7h1.6v1.6h-1.6zM588.7 63.7h1.6v1.6h-1.6zM589.7 63.7h1.6v1.6h-1.6zM590.7 63.7h1.6v1.6h-1.6zM591.7 63.7h1.6v1.6h-1.6zM592.7 63.7h1.6v1.6h-1.6zM593.7 63.7h1.6v1.6h-1.6zM594.7 63.7h1.6v1.6h-1.6zM595.7 63.7h1.6v1.6h-1.6zM596.7 63.7h1.6v1.6h-1.6zM597.7 63.7h1.6v1.6h-1.6zM598.7 63.7h1.6v1.6h-1.6zM599.7 63.7h1.6v1.6h-1.6zM600.7 63.7h1.6v1.6h-1.6zM601.7 63.7h1.6v1.6h-1.6zM602.7 63.7h1.6v1.6h-1.6zM603.7 63.7h1.6v1.6h-1.6zM558.7 64.7h1.6v1.6h-1.6zM559.7 64.7h1.6v1.6h-1.6zM560.7 64.7h1.6v1.6h-1.6zM561.7 64.7h1.6v1.6h-1.6zM562.7 64.7h1.6v1.6h-1.6zM563.7 64.7h1.6v1.6h-1.6zM564.7 64.7h1.6v1.6h-1.6zM565.7 64.7h1.6v1.6h-1.6zM566.7 64.7h1.6v1.6h-1.6zM567.7 64.7h1.6v1.6h-1.6zM568.7 64.7h1.6v1.6h-1.6zM569.7 64.7h1.6v1.6h-1.6zM570.7 64.7h1.6v1.6h-1.6zM571.7 64.7h1.6v1.6h-1.6zM572.7 64.7h1.6v1.6h-1.6zM573.7 64.7h1.6v1.6h-1.6zM574.7 64.7h1.6v1.6h-1.6zM575.7 64.7h1.6v1.6h-1.6zM576.7 64.7h1.6v1.6h-1.6zM577.7 64.7h1.6v1.6h-1.6zM578.7 64.7h1.6v1.6h-1.6zM579.7 64.7h1.6v1.6h-1.6zM580.7 64.7h1.6v1.6h-1.6zM581.7 64.7h1.6v1.6h-1.6zM582.7 64.7h1.6v1.6h-1.6zM583.7 64.7h1.6v1.6h-1.6zM586.7 64.7h1.6v1.6h-1.6zM587.7 64.7h1.6v1.6h-1.6zM588.7 64.7h1.6v1.6h-1.6zM589.7 64.7h1.6v1.6h-1.6zM590.7 64.7h1.6v1.6h-1.6zM591.7 64.7h1.6v1.6h-1.6zM592.7 64.7h1.6v1.6h-1.6zM593.7 64.7h1.6v1.6h-1.6zM594.7 64.7h1.6v1.6h-1.6zM595.7 64.7h1.6v1.6h-1.6zM596.7 64.7h1.6v1.6h-1.6zM597.7 64.7h1.6v1.6h-1.6zM598.7 64.7h1.6v1.6h-1.6zM599.7 64.7h1.6v1.6h-1.6zM600.7 64.7h1.6v1.6h-1.6zM601.7 64.7h1.6v1.6h-1.6zM603.7 64.7h1.6v1.6h-1.6zM558.7 65.7h1.6v1.6h-1.6zM559.7 65.7h1.6v1.6h-1.6zM560.7 65.7h1.6v1.6h-1.6zM561.7 65.7h1.6v1.6h-1.6zM562.7 65.7h1.6v1.6h-1.6zM563.7 65.7h1.6v1.6h-1.6zM564.7 65.7h1.6v1.6h-1.6zM565.7 65.7h1.6v1.6h-1.6zM566.7 65.7h1.6v1.6h-1.6zM567.7 65.7h1.6v1.6h-1.6zM568.7 65.7h1.6v1.6h-1.6zM569.7 65.7h1.6v1.6h-1.6zM570.7 65.7h1.6v1.6h-1.6zM571.7 65.7h1.6v1.6h-1.6zM572.7 65.7h1.6v1.6h-1.6zM573.7 65.7h1.6v1.6h-1.6zM574.7 65.7h1.6v1.6h-1.6zM575.7 65.7h1.6v1.6h-1.6zM576.7 65.7h1.6v1.6h-1.6zM577.7 65.7h1.6v1.6h-1.6zM578.7 65.7h1.6v1.6h-1.6zM579.7 65.7h1.6v1.6h-1.6zM580.7 65.7h1.6v1.6h-1.6zM581.7 65.7h1.6v1.6h-1.6zM582.7 65.7h1.6v1.6h-1.6zM583.7 65.7h1.6v1.6h-1.6zM586.7 65.7h1.6v1.6h-1.6zM587.7 65.7h1.6v1.6h-1.6zM588.7 65.7h1.6v1.6h-1.6zM589.7 65.7h1.6v1.6h-1.6zM590.7 65.7h1.6v1.6h-1.6zM592.7 65.7h1.6v1.6h-1.6zM593.7 65.7h1.6v1.6h-1.6zM594.7 65.7h1.6v1.6h-1.6zM595.7 65.7h1.6v1.6h-1.6zM596.7 65.7h1.6v1.6h-1.6zM597.7 65.7h1.6v1.6h-1.6zM598.7 65.7h1.6v1.6h-1.6zM599.7 65.7h1.6v1.6h-1.6zM600.7 65.7h1.6v1.6h-1.6zM601.7 65.7h1.6v1.6h-1.6zM602.7 65.7h1.6v1.6h-1.6zM558.7 66.7h1.6v1.6h-1.6zM559.7 66.7h1.6v1.6h-1.6zM560.7 66.7h1.6v1.6h-1.6zM561.7 66.7h1.6v1.6h-1.6zM562.7 66.7h1.6v1.6h-1.6zM563.7 66.7h1.6v1.6h-1.6zM564.7 66.7h1.6v1.6h-1.6zM565.7 66.7h1.6v1.6h-1.6zM566.7 66.7h1.6v1.6h-1.6zM567.7 66.7h1.6v1.6h-1.6zM568.7 66.7h1.6v1.6h-1.6zM569.7 66.7h1.6v1.6h-1.6zM570.7 66.7h1.6v1.6h-1.6zM571.7 66.7h1.6v1.6h-1.6zM572.7 66.7h1.6v1.6h-1.6zM573.7 66.7h1.6v1.6h-1.6zM574.7 66.7h1.6v1.6h-1.6zM575.7 66.7h1.6v1.6h-1.6zM576.7 66.7h1.6v1.6h-1.6zM577.7 66.7h1.6v1.6h-1.6zM578.7 66.7h1.6v1.6h-1.6zM579.7 66.7h1.6v1.6h-1.6zM580.7 66.7h1.6v1.6h-1.6zM581.7 66.7h1.6v1.6h-1.6zM582.7 66.7h1.6v1.6h-1.6zM583.7 66.7h1.6v1.6h-1.6zM585.7 66.7h1.6v1.6h-1.6zM586.7 66.7h1.6v1.6h-1.6zM587.7 66.7h1.6v1.6h-1.6zM588.7 66.7h1.6v1.6h-1.6zM589.7 66.7h1.6v1.6h-1.6zM590.7 66.7h1.6v1.6h-1.6zM591.7 66.7h1.6v1.6h-1.6zM592.7 66.7h1.6v1.6h-1.6zM593.7 66.7h1.6v1.6h-1.6zM594.7 66.7h1.6v1.6h-1.6zM595.7 66.7h1.6v1.6h-1.6zM596.7 66.7h1.6v1.6h-1.6zM597.7 66.7h1.6v1.6h-1.6zM598.7 66.7h1.6v1.6h-1.6zM599.7 66.7h1.6v1.6h-1.6zM600.7 66.7h1.6v1.6h-1.6zM601.7 66.7h1.6v1.6h-1.6zM558.7 67.7h1.6v1.6h-1.6zM559.7 67.7h1.6v1.6h-1.6zM560.7 67.7h1.6v1.6h-1.6zM562.7 67.7h1.6v1.6h-1.6zM563.7 67.7h1.6v1.6h-1.6zM564.7 67.7h1.6v1.6h-1.6zM565.7 67.7h1.6v1.6h-1.6zM566.7 67.7h1.6v1.6h-1.6zM567.7 67.7h1.6v1.6h-1.6zM568.7 67.7h1.6v1.6h-1.6zM569.7 67.7h1.6v1.6h-1.6zM570.7 67.7h1.6v1.6h-1.6zM571.7 67.7h1.6v1.6h-1.6zM572.7 67.7h1.6v1.6h-1.6zM573.7 67.7h1.6v1.6h-1.6zM574.7 67.7h1.6v1.6h-1.6zM575.7 67.7h1.6v1.6h-1.6zM576.7 67.7h1.6v1.6h-1.6zM577.7 67.7h1.6v1.6h-1.6zM578.7 67.7h1.6v1.6h-1.6zM579.7 67.7h1.6v1.6h-1.6zM580.7 67.7h1.6v1.6h-1.6zM581.7 67.7h1.6v1.6h-1.6zM582.7 67.7h1.6v1.6h-1.6zM583.7 67.7h1.6v1.6h-1.6zM584.7 67.7h1.6v1.6h-1.6zM585.7 67.7h1.6v1.6h-1.6zM586.7 67.7h1.6v1.6h-1.6zM587.7 67.7h1.6v1.6h-1.6zM591.7 67.7h1.6v1.6h-1.6zM558.7 68.7h1.6v1.6h-1.6zM559.7 68.7h1.6v1.6h-1.6zM560.7 68.7h1.6v1.6h-1.6zM561.7 68.7h1.6v1.6h-1.6zM562.7 68.7h1.6v1.6h-1.6zM563.7 68.7h1.6v1.6h-1.6zM564.7 68.7h1.6v1.6h-1.6zM565.7 68.7h1.6v1.6h-1.6zM566.7 68.7h1.6v1.6h-1.6zM567.7 68.7h1.6v1.6h-1.6zM568.7 68.7h1.6v1.6h-1.6zM569.7 68.7h1.6v1.6h-1.6zM570.7 68.7h1.6v1.6h-1.6zM571.7 68.7h1.6v1.6h-1.6zM572.7 68.7h1.6v1.6h-1.6zM573.7 68.7h1.6v1.6h-1.6zM574.7 68.7h1.6v1.6h-1.6zM575.7 68.7h1.6v1.6h-1.6zM576.7 68.7h1.6v1.6h-1.6zM577.7 68.7h1.6v1.6h-1.6zM578.7 68.7h1.6v1.6h-1.6zM579.7 68.7h1.6v1.6h-1.6zM580.7 68.7h1.6v1.6h-1.6zM581.7 68.7h1.6v1.6h-1.6zM582.7 68.7h1.6v1.6h-1.6zM584.7 68.7h1.6v1.6h-1.6zM586.7 68.7h1.6v1.6h-1.6zM587.7 68.7h1.6v1.6h-1.6zM588.7 68.7h1.6v1.6h-1.6zM589.7 68.7h1.6v1.6h-1.6zM590.7 68.7h1.6v1.6h-1.6zM559.7 69.7h1.6v1.6h-1.6zM560.7 69.7h1.6v1.6h-1.6zM561.7 69.7h1.6v1.6h-1.6zM562.7 69.7h1.6v1.6h-1.6zM563.7 69.7h1.6v1.6h-1.6zM564.7 69.7h1.6v1.6h-1.6zM565.7 69.7h1.6v1.6h-1.6zM566.7 69.7h1.6v1.6h-1.6zM567.7 69.7h1.6v1.6h-1.6zM568.7 69.7h1.6v1.6h-1.6zM569.7 69.7h1.6v1.6h-1.6zM570.7 69.7h1.6v1.6h-1.6zM571.7 69.7h1.6v1.6h-1.6zM573.7 69.7h1.6v1.6h-1.6zM574.7 69.7h1.6v1.6h-1.6zM575.7 69.7h1.6v1.6h-1.6zM576.7 69.7h1.6v1.6h-1.6zM579.7 69.7h1.6v1.6h-1.6zM580.7 69.7h1.6v1.6h-1.6zM581.7 69.7h1.6v1.6h-1.6zM583.7 69.7h1.6v1.6h-1.6zM584.7 69.7h1.6v1.6h-1.6zM585.7 69.7h1.6v1.6h-1.6zM587.7 69.7h1.6v1.6h-1.6zM588.7 69.7h1.6v1.6h-1.6zM589.7 69.7h1.6v1.6h-1.6zM590.7 69.7h1.6v1.6h-1.6zM592.7 69.7h1.6v1.6h-1.6zM561.7 70.7h1.6v1.6h-1.6zM564.7 70.7h1.6v1.6h-1.6zM567.7 70.7h1.6v1.6h-1.6zM568.7 70.7h1.6v1.6h-1.6zM570.7 70.7h1.6v1.6h-1.6zM571.7 70.7h1.6v1.6h-1.6zM573.7 70.7h1.6v1.6h-1.6zM575.7 70.7h1.6v1.6h-1.6zM577.7 70.7h1.6v1.6h-1.6zM578.7 70.7h1.6v1.6h-1.6zM579.7 70.7h1.6v1.6h-1.6zM580.7 70.7h1.6v1.6h-1.6zM581.7 70.7h1.6v1.6h-1.6zM583.7 70.7h1.6v1.6h-1.6zM584.7 70.7h1.6v1.6h-1.6zM585.7 70.7h1.6v1.6h-1.6zM586.7 70.7h1.6v1.6h-1.6zM587.7 70.7h1.6v1.6h-1.6zM588.7 70.7h1.6v1.6h-1.6zM589.7 70.7h1.6v1.6h-1.6zM590.7 70.7h1.6v1.6h-1.6zM592.7 70.7h1.6v1.6h-1.6zM566.7 71.7h1.6v1.6h-1.6zM568.7 71.7h1.6v1.6h-1.6zM569.7 71.7h1.6v1.6h-1.6zM570.7 71.7h1.6v1.6h-1.6zM571.7 71.7h1.6v1.6h-1.6zM572.7 71.7h1.6v1.6h-1.6zM573.7 71.7h1.6v1.6h-1.6zM574.7 71.7h1.6v1.6h-1.6zM575.7 71.7h1.6v1.6h-1.6zM576.7 71.7h1.6v1.6h-1.6zM578.7 71.7h1.6v1.6h-1.6zM580.7 71.7h1.6v1.6h-1.6zM582.7 71.7h1.6v1.6h-1.6zM583.7 71.7h1.6v1.6h-1.6zM584.7 71.7h1.6v1.6h-1.6zM585.7 71.7h1.6v1.6h-1.6zM586.7 71.7h1.6v1.6h-1.6zM587.7 71.7h1.6v1.6h-1.6zM588.7 71.7h1.6v1.6h-1.6zM590.7 71.7h1.6v1.6h-1.6zM591.7 71.7h1.6v1.6h-1.6zM592.7 71.7h1.6v1.6h-1.6zM570.7 72.7h1.6v1.6h-1.6zM571.7 72.7h1.6v1.6h-1.6zM574.7 72.7h1.6v1.6h-1.6zM577.7 72.7h1.6v1.6h-1.6zM578.7 72.7h1.6v1.6h-1.6zM581.7 72.7h1.6v1.6h-1.6zM582.7 72.7h1.6v1.6h-1.6zM584.7 72.7h1.6v1.6h-1.6zM586.7 72.7h1.6v1.6h-1.6zM587.7 72.7h1.6v1.6h-1.6zM588.7 72.7h1.6v1.6h-1.6zM589.7 72.7h1.6v1.6h-1.6zM590.7 72.7h1.6v1.6h-1.6zM591.7 72.7h1.6v1.6h-1.6zM568.7 73.7h1.6v1.6h-1.6zM571.7 73.7h1.6v1.6h-1.6zM572.7 73.7h1.6v1.6h-1.6zM575.7 73.7h1.6v1.6h-1.6zM576.7 73.7h1.6v1.6h-1.6zM577.7 73.7h1.6v1.6h-1.6zM578.7 73.7h1.6v1.6h-1.6zM579.7 73.7h1.6v1.6h-1.6zM581.7 73.7h1.6v1.6h-1.6zM585.7 73.7h1.6v1.6h-1.6zM586.7 73.7h1.6v1.6h-1.6zM587.7 73.7h1.6v1.6h-1.6zM588.7 73.7h1.6v1.6h-1.6zM589.7 73.7h1.6v1.6h-1.6zM590.7 73.7h1.6v1.6h-1.6zM565.7 74.7h1.6v1.6h-1.6zM567.7 74.7h1.6v1.6h-1.6zM569.7 74.7h1.6v1.6h-1.6zM570.7 74.7h1.6v1.6h-1.6zM571.7 74.7h1.6v1.6h-1.6zM572.7 74.7h1.6v1.6h-1.6zM573.7 74.7h1.6v1.6h-1.6zM574.7 74.7h1.6v1.6h-1.6zM575.7 74.7h1.6v1.6h-1.6zM576.7 74.7h1.6v1.6h-1.6zM577.7 74.7h1.6v1.6h-1.6zM578.7 74.7h1.6v1.6h-1.6zM583.7 74.7h1.6v1.6h-1.6zM584.7 74.7h1.6v1.6h-1.6zM585.7 74.7h1.6v1.6h-1.6zM587.7 74.7h1.6v1.6h-1.6zM588.7 74.7h1.6v1.6h-1.6zM589.7 74.7h1.6v1.6h-1.6zM590.7 74.7h1.6v1.6h-1.6zM592.7 74.7h1.6v1.6h-1.6zM566.7 75.7h1.6v1.6h-1.6zM569.7 75.7h1.6v1.6h-1.6zM570.7 75.7h1.6v1.6h-1.6zM572.7 75.7h1.6v1.6h-1.6zM575.7 75.7h1.6v1.6h-1.6zM576.7 75.7h1.6v1.6h-1.6zM577.7 75.7h1.6v1.6h-1.6zM578.7 75.7h1.6v1.6h-1.6zM580.7 75.7h1.6v1.6h-1.6zM583.7 75.7h1.6v1.6h-1.6zM584.7 75.7h1.6v1.6h-1.6zM585.7 75.7h1.6v1.6h-1.6zM586.7 75.7h1.6v1.6h-1.6zM587.7 75.7h1.6v1.6h-1.6zM588.7 75.7h1.6v1.6h-1.6zM589.7 75.7h1.6v1.6h-1.6zM591.7 75.7h1.6v1.6h-1.6zM565.7 76.7h1.6v1.6h-1.6zM566.7 76.7h1.6v1.6h-1.6zM567.7 76.7h1.6v1.6h-1.6zM569.7 76.7h1.6v1.6h-1.6zM570.7 76.7h1.6v1.6h-1.6zM571.7 76.7h1.6v1.6h-1.6zM573.7 76.7h1.6v1.6h-1.6zM574.7 76.7h1.6v1.6h-1.6zM575.7 76.7h1.6v1.6h-1.6zM577.7 76.7h1.6v1.6h-1.6zM578.7 76.7h1.6v1.6h-1.6zM579.7 76.7h1.6v1.6h-1.6zM581.7 76.7h1.6v1.6h-1.6zM582.7 76.7h1.6v1.6h-1.6zM583.7 76.7h1.6v1.6h-1.6zM585.7 76.7h1.6v1.6h-1.6zM586.7 76.7h1.6v1.6h-1.6zM587.7 76.7h1.6v1.6h-1.6zM588.7 76.7h1.6v1.6h-1.6zM589.7 76.7h1.6v1.6h-1.6zM591.7 76.7h1.6v1.6h-1.6zM566.7 77.7h1.6v1.6h-1.6zM568.7 77.7h1.6v1.6h-1.6zM569.7 77.7h1.6v1.6h-1.6zM571.7 77.7h1.6v1.6h-1.6zM573.7 77.7h1.6v1.6h-1.6zM575.7 77.7h1.6v1.6h-1.6zM576.7 77.7h1.6v1.6h-1.6zM577.7 77.7h1.6v1.6h-1.6zM578.7 77.7h1.6v1.6h-1.6zM579.7 77.7h1.6v1.6h-1.6zM583.7 77.7h1.6v1.6h-1.6zM584.7 77.7h1.6v1.6h-1.6zM585.7 77.7h1.6v1.6h-1.6zM569.7 78.7h1.6v1.6h-1.6zM574.7 78.7h1.6v1.6h-1.6zM575.7 78.7h1.6v1.6h-1.6zM577.7 78.7h1.6v1.6h-1.6zM578.7 78.7h1.6v1.6h-1.6zM579.7 78.7h1.6v1.6h-1.6zM581.7 78.7h1.6v1.6h-1.6zM582.7 78.7h1.6v1.6h-1.6zM583.7 78.7h1.6v1.6h-1.6zM584.7 78.7h1.6v1.6h-1.6zM585.7 78.7h1.6v1.6h-1.6zM573.7 79.7h1.6v1.6h-1.6zM574.7 79.7h1.6v1.6h-1.6zM575.7 79.7h1.6v1.6h-1.6zM576.7 79.7h1.6v1.6h-1.6zM577.7 79.7h1.6v1.6h-1.6zM578.7 79.7h1.6v1.6h-1.6zM580.7 79.7h1.6v1.6h-1.6zM581.7 79.7h1.6v1.6h-1.6zM582.7 79.7h1.6v1.6h-1.6zM583.7 79.7h1.6v1.6h-1.6zM584.7 79.7h1.6v1.6h-1.6zM573.7 80.7h1.6v1.6h-1.6zM574.7 80.7h1.6v1.6h-1.6zM575.7 80.7h1.6v1.6h-1.6zM576.7 80.7h1.6v1.6h-1.6zM577.7 80.7h1.6v1.6h-1.6zM578.7 80.7h1.6v1.6h-1.6zM580.7 80.7h1.6v1.6h-1.6zM581.7 80.7h1.6v1.6h-1.6zM582.7 80.7h1.6v1.6h-1.6zM585.7 80.7h1.6v1.6h-1.6zM574.7 81.7h1.6v1.6h-1.6zM576.7 81.7h1.6v1.6h-1.6zM577.7 81.7h1.6v1.6h-1.6zM578.7 81.7h1.6v1.6h-1.6zM580.7 81.7h1.6v1.6h-1.6zM581.7 81.7h1.6v1.6h-1.6zM582.7 81.7h1.6v1.6h-1.6zM583.7 81.7h1.6v1.6h-1.6zM584.7 81.7h1.6v1.6h-1.6zM585.7 81.7h1.6v1.6h-1.6zM574.7 82.7h1.6v1.6h-1.6zM575.7 82.7h1.6v1.6h-1.6zM576.7 82.7h1.6v1.6h-1.6zM577.7 82.7h1.6v1.6h-1.6zM579.7 82.7h1.6v1.6h-1.6zM580.7 82.7h1.6v1.6h-1.6zM581.7 82.7h1.6v1.6h-1.6zM582.7 82.7h1.6v1.6h-1.6zM583.7 82.7h1.6v1.6h-1.6zM573.7 83.7h1.6v1.6h-1.6zM574.7 83.7h1.6v1.6h-1.6zM575.7 83.7h1.6v1.6h-1.6zM576.7 83.7h1.6v1.6h-1.6zM577.7 83.7h1.6v1.6h-1.6zM578.7 83.7h1.6v1.6h-1.6zM580.7 83.7h1.6v1.6h-1.6zM581.7 83.7h1.6v1.6h-1.6zM582.7 83.7h1.6v1.6h-1.6zM584.7 83.7h1.6v1.6h-1.6zM585.7 83.7h1.6v1.6h-1.6zM574.7 84.7h1.6v1.6h-1.6zM575.7 84.7h1.6v1.6h-1.6zM576.7 84.7h1.6v1.6h-1.6zM577.7 84.7h1.6v1.6h-1.6zM578.7 84.7h1.6v1.6h-1.6zM580.7 84.7h1.6v1.6h-1.6zM581.7 84.7h1.6v1.6h-1.6zM584.7 84.7h1.6v1.6h-1.6zM573.7 85.7h1.6v1.6h-1.6zM574.7 85.7h1.6v1.6h-1.6zM575.7 85.7h1.6v1.6h-1.6zM576.7 85.7h1.6v1.6h-1.6zM577.7 85.7h1.6v1.6h-1.6zM578.7 85.7h1.6v1.6h-1.6zM579.7 85.7h1.6v1.6h-1.6zM580.7 85.7h1.6v1.6h-1.6zM581.7 85.7h1.6v1.6h-1.6zM584.7 85.7h1.6v1.6h-1.6zM573.7 86.7h1.6v1.6h-1.6zM575.7 86.7h1.6v1.6h-1.6zM577.7 86.7h1.6v1.6h-1.6zM578.7 86.7h1.6v1.6h-1.6zM579.7 86.7h1.6v1.6h-1.6zM580.7 86.7h1.6v1.6h-1.6zM581.7 86.7h1.6v1.6h-1.6zM583.7 86.7h1.6v1.6h-1.6zM584.7 86.7h1.6v1.6h-1.6zM585.7 86.7h1.6v1.6h-1.6zM574.7 87.7h1.6v1.6h-1.6zM577.7 87.7h1.6v1.6h-1.6zM578.7 87.7h1.6v1.6h-1.6zM581.7 87.7h1.6v1.6h-1.6zM582.7 87.7h1.6v1.6h-1.6zM583.7 87.7h1.6v1.6h-1.6zM584.7 87.7h1.6v1.6h-1.6zM585.7 87.7h1.6v1.6h-1.6zM574.7 88.7h1.6v1.6h-1.6zM575.7 88.7h1.6v1.6h-1.6zM576.7 88.7h1.6v1.6h-1.6zM577.7 88.7h1.6v1.6h-1.6zM579.7 88.7h1.6v1.6h-1.6zM580.7 88.7h1.6v1.6h-1.6zM581.7 88.7h1.6v1.6h-1.6zM583.7 88.7h1.6v1.6h-1.6zM584.7 88.7h1.6v1.6h-1.6zM575.7 89.7h1.6v1.6h-1.6zM578.7 89.7h1.6v1.6h-1.6zM580.7 89.7h1.6v1.6h-1.6zM581.7 89.7h1.6v1.6h-1.6zM582.7 89.7h1.6v1.6h-1.6zM584.7 89.7h1.6v1.6h-1.6zM585.7 89.7h1.6v1.6h-1.6zM577.7 90.7h1.6v1.6h-1.6zM579.7 90.7h1.6v1.6h-1.6zM580.7 90.7h1.6v1.6h-1.6zM581.7 90.7h1.6v1.6h-1.6zM582.7 90.7h1.6v1.6h-1.6zM578.7 91.7h1.6v1.6h-1.6zM579.7 91.7h1.6v1.6h-1.6zM582.7 91.7h1.6v1.6h-1.6zM583.7 91.7h1.6v1.6h-1.6zM584.7 91.7h1.6v1.6h-1.6zM580.7 92.7h1.6v1.6h-1.6zM581.7 92.7h1.6v1.6h-1.6zM584.7 92.7h1.6v1.6h-1.6zM579.7 93.7h1.6v1.6h-1.6zM581.7 93.7h1.6v1.6h-1.6zM583.7 93.7h1.6v1.6h-1.6zM584.7 93.7h1.6v1.6h-1.6zM579.7 94.7h1.6v1.6h-1.6zM580.7 94.7h1.6v1.6h-1.6zM580.7 95.7h1.6v1.6h-1.6zM583.7 95.7h1.6v1.6h-1.6zM582.7 124.7h1.6v1.6h-1.6zM583.7 125.7h1.6v1.6h-1.6zM580.7 127.7h1.6v1.6h-1.6zM582.7 127.7h1.6v1.6h-1.6zM577.7 128.7h1.6v1.6h-1.6zM582.7 128.7h1.6v1.6h-1.6zM575.7 129.7h1.6v1.6h-1.6zM576.7 129.7h1.6v1.6h-1.6zM577.7 129.7h1.6v1.6h-1.6zM578.7 129.7h1.6v1.6h-1.6zM581.7 129.7h1.6v1.6h-1.6zM582.7 129.7h1.6v1.6h-1.6zM576.7 130.7h1.6v1.6h-1.6zM581.7 130.7h1.6v1.6h-1.6zM575.7 131.7h1.6v1.6h-1.6zM578.7 131.7h1.6v1.6h-1.6zM580.7 131.7h1.6v1.6h-1.6zM581.7 131.7h1.6v1.6h-1.6zM575.7 132.7h1.6v1.6h-1.6zM576.7 132.7h1.6v1.6h-1.6zM577.7 132.7h1.6v1.6h-1.6zM580.7 132.7h1.6v1.6h-1.6zM581.7 132.7h1.6v1.6h-1.6zM582.7 132.7h1.6v1.6h-1.6zM576.7 133.7h1.6v1.6h-1.6zM581.7 133.7h1.6v1.6h-1.6zM582.7 133.7h1.6v1.6h-1.6zM580.7 134.7h1.6v1.6h-1.6zM581.7 134.7h1.6v1.6h-1.6zM582.7 136.7h1.6v1.6h-1.6z" fill="#fe0000"/><path d="M589.7 39.7h1.6v1.6h-1.6zM590.7 40.7h1.6v1.6h-1.6zM602.7 40.7h1.6v1.6h-1.6zM578.7 41.7h1.6v1.6h-1.6zM587.7 41.7h1.6v1.6h-1.6zM594.7 41.7h1.6v1.6h-1.6zM595.7 41.7h1.6v1.6h-1.6zM598.7 41.7h1.6v1.6h-1.6zM572.7 42.7h1.6v1.6h-1.6zM577.7 42.7h1.6v1.6h-1.6zM587.7 42.7h1.6v1.6h-1.6zM588.7 42.7h1.6v1.6h-1.6zM590.7 42.7h1.6v1.6h-1.6zM592.7 42.7h1.6v1.6h-1.6zM596.7 42.7h1.6v1.6h-1.6zM600.7 42.7h1.6v1.6h-1.6zM570.7 43.7h1.6v1.6h-1.6zM572.7 43.7h1.6v1.6h-1.6zM583.7 43.7h1.6v1.6h-1.6zM584.7 43.7h1.6v1.6h-1.6zM603.7 43.7h1.6v1.6h-1.6zM603.7 44.7h1.6v1.6h-1.6zM567.7 45.7h1.6v1.6h-1.6zM568.7 45.7h1.6v1.6h-1.6zM560.7 46.7h1.6v1.6h-1.6zM605.7 46.7h1.6v1.6h-1.6zM562.7 47.7h1.6v1.6h-1.6zM563.7 47.7h1.6v1.6h-1.6zM564.7 47.7h1.6v1.6h-1.6zM557.7 50.7h1.6v1.6h-1.6zM584.7 51.7h1.6v1.6h-1.6zM584.7 52.7h1.6v1.6h-1.6zM584.7 53.7h1.6v1.6h-1.6zM584.7 55.7h1.6v1.6h-1.6zM557.7 57.7h1.6v1.6h-1.6zM604.7 57.7h1.6v1.6h-1.6zM557.7 58.7h1.6v1.6h-1.6zM557.7 59.7h1.6v1.6h-1.6zM584.7 59.7h1.6v1.6h-1.6zM584.7 60.7h1.6v1.6h-1.6zM604.7 60.7h1.6v1.6h-1.6zM605.7 60.7h1.6v1.6h-1.6zM557.7 61.7h1.6v1.6h-1.6zM540.7 62.7h1.6v1.6h-1.6zM535.7 63.7h1.6v1.6h-1.6zM557.7 63.7h1.6v1.6h-1.6zM548.7 64.7h1.6v1.6h-1.6zM557.7 64.7h1.6v1.6h-1.6zM584.7 64.7h1.6v1.6h-1.6zM536.7 65.7h1.6v1.6h-1.6zM556.7 65.7h1.6v1.6h-1.6zM604.7 65.7h1.6v1.6h-1.6zM556.7 66.7h1.6v1.6h-1.6zM557.7 66.7h1.6v1.6h-1.6zM532.7 67.7h1.6v1.6h-1.6zM545.7 67.7h1.6v1.6h-1.6zM551.7 67.7h1.6v1.6h-1.6zM556.7 67.7h1.6v1.6h-1.6zM592.7 67.7h1.6v1.6h-1.6zM599.7 67.7h1.6v1.6h-1.6zM602.7 67.7h1.6v1.6h-1.6zM605.7 67.7h1.6v1.6h-1.6zM532.7 68.7h1.6v1.6h-1.6zM593.7 68.7h1.6v1.6h-1.6zM595.7 68.7h1.6v1.6h-1.6zM596.7 68.7h1.6v1.6h-1.6zM597.7 68.7h1.6v1.6h-1.6zM600.7 68.7h1.6v1.6h-1.6zM606.7 68.7h1.6v1.6h-1.6zM536.7 69.7h1.6v1.6h-1.6zM593.7 69.7h1.6v1.6h-1.6zM607.7 69.7h1.6v1.6h-1.6zM610.7 69.7h1.6v1.6h-1.6zM553.7 70.7h1.6v1.6h-1.6zM556.7 70.7h1.6v1.6h-1.6zM559.7 70.7h1.6v1.6h-1.6zM560.7 70.7h1.6v1.6h-1.6zM593.7 70.7h1.6v1.6h-1.6zM595.7 70.7h1.6v1.6h-1.6zM597.7 70.7h1.6v1.6h-1.6zM602.7 70.7h1.6v1.6h-1.6zM603.7 70.7h1.6v1.6h-1.6zM605.7 70.7h1.6v1.6h-1.6zM606.7 70.7h1.6v1.6h-1.6zM555.7 71.7h1.6v1.6h-1.6zM558.7 71.7h1.6v1.6h-1.6zM562.7 71.7h1.6v1.6h-1.6zM564.7 71.7h1.6v1.6h-1.6zM595.7 71.7h1.6v1.6h-1.6zM599.7 71.7h1.6v1.6h-1.6zM603.7 71.7h1.6v1.6h-1.6zM605.7 71.7h1.6v1.6h-1.6zM529.7 72.7h1.6v1.6h-1.6zM537.7 72.7h1.6v1.6h-1.6zM546.7 72.7h1.6v1.6h-1.6zM559.7 72.7h1.6v1.6h-1.6zM560.7 72.7h1.6v1.6h-1.6zM563.7 72.7h1.6v1.6h-1.6zM593.7 72.7h1.6v1.6h-1.6zM595.7 72.7h1.6v1.6h-1.6zM598.7 72.7h1.6v1.6h-1.6zM601.7 72.7h1.6v1.6h-1.6zM603.7 72.7h1.6v1.6h-1.6zM606.7 72.7h1.6v1.6h-1.6zM607.7 72.7h1.6v1.6h-1.6zM527.7 73.7h1.6v1.6h-1.6zM552.7 73.7h1.6v1.6h-1.6zM556.7 73.7h1.6v1.6h-1.6zM557.7 73.7h1.6v1.6h-1.6zM558.7 73.7h1.6v1.6h-1.6zM562.7 73.7h1.6v1.6h-1.6zM563.7 73.7h1.6v1.6h-1.6zM593.7 73.7h1.6v1.6h-1.6zM594.7 73.7h1.6v1.6h-1.6zM607.7 73.7h1.6v1.6h-1.6zM532.7 74.7h1.6v1.6h-1.6zM539.7 74.7h1.6v1.6h-1.6zM543.7 74.7h1.6v1.6h-1.6zM553.7 74.7h1.6v1.6h-1.6zM556.7 74.7h1.6v1.6h-1.6zM558.7 74.7h1.6v1.6h-1.6zM559.7 74.7h1.6v1.6h-1.6zM563.7 74.7h1.6v1.6h-1.6zM564.7 74.7h1.6v1.6h-1.6zM593.7 74.7h1.6v1.6h-1.6zM594.7 74.7h1.6v1.6h-1.6zM598.7 74.7h1.6v1.6h-1.6zM603.7 74.7h1.6v1.6h-1.6zM607.7 74.7h1.6v1.6h-1.6zM610.7 74.7h1.6v1.6h-1.6zM537.7 75.7h1.6v1.6h-1.6zM545.7 75.7h1.6v1.6h-1.6zM556.7 75.7h1.6v1.6h-1.6zM559.7 75.7h1.6v1.6h-1.6zM560.7 75.7h1.6v1.6h-1.6zM562.7 75.7h1.6v1.6h-1.6zM564.7 75.7h1.6v1.6h-1.6zM598.7 75.7h1.6v1.6h-1.6zM599.7 75.7h1.6v1.6h-1.6zM600.7 75.7h1.6v1.6h-1.6zM601.7 75.7h1.6v1.6h-1.6zM611.7 75.7h1.6v1.6h-1.6zM530.7 76.7h1.6v1.6h-1.6zM537.7 76.7h1.6v1.6h-1.6zM554.7 76.7h1.6v1.6h-1.6zM558.7 76.7h1.6v1.6h-1.6zM559.7 76.7h1.6v1.6h-1.6zM560.7 76.7h1.6v1.6h-1.6zM564.7 76.7h1.6v1.6h-1.6zM605.7 76.7h1.6v1.6h-1.6zM610.7 76.7h1.6v1.6h-1.6zM530.7 77.7h1.6v1.6h-1.6zM541.7 77.7h1.6v1.6h-1.6zM550.7 77.7h1.6v1.6h-1.6zM558.7 77.7h1.6v1.6h-1.6zM560.7 77.7h1.6v1.6h-1.6zM587.7 77.7h1.6v1.6h-1.6zM593.7 77.7h1.6v1.6h-1.6zM594.7 77.7h1.6v1.6h-1.6zM595.7 77.7h1.6v1.6h-1.6zM597.7 77.7h1.6v1.6h-1.6zM605.7 77.7h1.6v1.6h-1.6zM526.7 78.7h1.6v1.6h-1.6zM555.7 78.7h1.6v1.6h-1.6zM557.7 78.7h1.6v1.6h-1.6zM559.7 78.7h1.6v1.6h-1.6zM561.7 78.7h1.6v1.6h-1.6zM562.7 78.7h1.6v1.6h-1.6zM563.7 78.7h1.6v1.6h-1.6zM587.7 78.7h1.6v1.6h-1.6zM597.7 78.7h1.6v1.6h-1.6zM603.7 78.7h1.6v1.6h-1.6zM604.7 78.7h1.6v1.6h-1.6zM610.7 78.7h1.6v1.6h-1.6zM530.7 79.7h1.6v1.6h-1.6zM538.7 79.7h1.6v1.6h-1.6zM548.7 79.7h1.6v1.6h-1.6zM564.7 79.7h1.6v1.6h-1.6zM565.7 79.7h1.6v1.6h-1.6zM567.7 79.7h1.6v1.6h-1.6zM568.7 79.7h1.6v1.6h-1.6zM588.7 79.7h1.6v1.6h-1.6zM594.7 79.7h1.6v1.6h-1.6zM606.7 79.7h1.6v1.6h-1.6zM612.7 79.7h1.6v1.6h-1.6zM532.7 80.7h1.6v1.6h-1.6zM541.7 80.7h1.6v1.6h-1.6zM542.7 80.7h1.6v1.6h-1.6zM556.7 80.7h1.6v1.6h-1.6zM559.7 80.7h1.6v1.6h-1.6zM565.7 80.7h1.6v1.6h-1.6zM566.7 80.7h1.6v1.6h-1.6zM567.7 80.7h1.6v1.6h-1.6zM569.7 80.7h1.6v1.6h-1.6zM570.7 80.7h1.6v1.6h-1.6zM586.7 80.7h1.6v1.6h-1.6zM587.7 80.7h1.6v1.6h-1.6zM589.7 80.7h1.6v1.6h-1.6zM592.7 80.7h1.6v1.6h-1.6zM593.7 80.7h1.6v1.6h-1.6zM595.7 80.7h1.6v1.6h-1.6zM598.7 80.7h1.6v1.6h-1.6zM600.7 80.7h1.6v1.6h-1.6zM604.7 80.7h1.6v1.6h-1.6zM551.7 81.7h1.6v1.6h-1.6zM553.7 81.7h1.6v1.6h-1.6zM555.7 81.7h1.6v1.6h-1.6zM556.7 81.7h1.6v1.6h-1.6zM560.7 81.7h1.6v1.6h-1.6zM561.7 81.7h1.6v1.6h-1.6zM567.7 81.7h1.6v1.6h-1.6zM568.7 81.7h1.6v1.6h-1.6zM571.7 81.7h1.6v1.6h-1.6zM592.7 81.7h1.6v1.6h-1.6zM593.7 81.7h1.6v1.6h-1.6zM594.7 81.7h1.6v1.6h-1.6zM595.7 81.7h1.6v1.6h-1.6zM596.7 81.7h1.6v1.6h-1.6zM597.7 81.7h1.6v1.6h-1.6zM599.7 81.7h1.6v1.6h-1.6zM602.7 81.7h1.6v1.6h-1.6zM604.7 81.7h1.6v1.6h-1.6zM609.7 81.7h1.6v1.6h-1.6zM536.7 82.7h1.6v1.6h-1.6zM549.7 82.7h1.6v1.6h-1.6zM553.7 82.7h1.6v1.6h-1.6zM555.7 82.7h1.6v1.6h-1.6zM559.7 82.7h1.6v1.6h-1.6zM560.7 82.7h1.6v1.6h-1.6zM561.7 82.7h1.6v1.6h-1.6zM563.7 82.7h1.6v1.6h-1.6zM567.7 82.7h1.6v1.6h-1.6zM571.7 82.7h1.6v1.6h-1.6zM587.7 82.7h1.6v1.6h-1.6zM598.7 82.7h1.6v1.6h-1.6zM604.7 82.7h1.6v1.6h-1.6zM606.7 82.7h1.6v1.6h-1.6zM607.7 82.7h1.6v1.6h-1.6zM548.7 83.7h1.6v1.6h-1.6zM552.7 83.7h1.6v1.6h-1.6zM557.7 83.7h1.6v1.6h-1.6zM558.7 83.7h1.6v1.6h-1.6zM559.7 83.7h1.6v1.6h-1.6zM595.7 83.7h1.6v1.6h-1.6zM597.7 83.7h1.6v1.6h-1.6zM601.7 83.7h1.6v1.6h-1.6zM602.7 83.7h1.6v1.6h-1.6zM603.7 83.7h1.6v1.6h-1.6zM608.7 83.7h1.6v1.6h-1.6zM528.7 84.7h1.6v1.6h-1.6zM555.7 84.7h1.6v1.6h-1.6zM558.7 84.7h1.6v1.6h-1.6zM559.7 84.7h1.6v1.6h-1.6zM560.7 84.7h1.6v1.6h-1.6zM569.7 84.7h1.6v1.6h-1.6zM572.7 84.7h1.6v1.6h-1.6zM586.7 84.7h1.6v1.6h-1.6zM588.7 84.7h1.6v1.6h-1.6zM596.7 84.7h1.6v1.6h-1.6zM598.7 84.7h1.6v1.6h-1.6zM599.7 84.7h1.6v1.6h-1.6zM539.7 85.7h1.6v1.6h-1.6zM542.7 85.7h1.6v1.6h-1.6zM546.7 85.7h1.6v1.6h-1.6zM552.7 85.7h1.6v1.6h-1.6zM557.7 85.7h1.6v1.6h-1.6zM564.7 85.7h1.6v1.6h-1.6zM565.7 85.7h1.6v1.6h-1.6zM567.7 85.7h1.6v1.6h-1.6zM568.7 85.7h1.6v1.6h-1.6zM569.7 85.7h1.6v1.6h-1.6zM570.7 85.7h1.6v1.6h-1.6zM572.7 85.7h1.6v1.6h-1.6zM586.7 85.7h1.6v1.6h-1.6zM587.7 85.7h1.6v1.6h-1.6zM588.7 85.7h1.6v1.6h-1.6zM590.7 85.7h1.6v1.6h-1.6zM591.7 85.7h1.6v1.6h-1.6zM592.7 85.7h1.6v1.6h-1.6zM593.7 85.7h1.6v1.6h-1.6zM595.7 85.7h1.6v1.6h-1.6zM599.7 85.7h1.6v1.6h-1.6zM600.7 85.7h1.6v1.6h-1.6zM608.7 85.7h1.6v1.6h-1.6zM611.7 85.7h1.6v1.6h-1.6zM531.7 86.7h1.6v1.6h-1.6zM534.7 86.7h1.6v1.6h-1.6zM553.7 86.7h1.6v1.6h-1.6zM554.7 86.7h1.6v1.6h-1.6zM556.7 86.7h1.6v1.6h-1.6zM561.7 86.7h1.6v1.6h-1.6zM570.7 86.7h1.6v1.6h-1.6zM588.7 86.7h1.6v1.6h-1.6zM589.7 86.7h1.6v1.6h-1.6zM598.7 86.7h1.6v1.6h-1.6zM599.7 86.7h1.6v1.6h-1.6zM600.7 86.7h1.6v1.6h-1.6zM601.7 86.7h1.6v1.6h-1.6zM605.7 86.7h1.6v1.6h-1.6zM609.7 86.7h1.6v1.6h-1.6zM531.7 87.7h1.6v1.6h-1.6zM532.7 87.7h1.6v1.6h-1.6zM538.7 87.7h1.6v1.6h-1.6zM551.7 87.7h1.6v1.6h-1.6zM554.7 87.7h1.6v1.6h-1.6zM565.7 87.7h1.6v1.6h-1.6zM570.7 87.7h1.6v1.6h-1.6zM586.7 87.7h1.6v1.6h-1.6zM588.7 87.7h1.6v1.6h-1.6zM593.7 87.7h1.6v1.6h-1.6zM603.7 87.7h1.6v1.6h-1.6zM605.7 87.7h1.6v1.6h-1.6zM609.7 87.7h1.6v1.6h-1.6zM529.7 88.7h1.6v1.6h-1.6zM535.7 88.7h1.6v1.6h-1.6zM540.7 88.7h1.6v1.6h-1.6zM554.7 88.7h1.6v1.6h-1.6zM556.7 88.7h1.6v1.6h-1.6zM558.7 88.7h1.6v1.6h-1.6zM562.7 88.7h1.6v1.6h-1.6zM565.7 88.7h1.6v1.6h-1.6zM566.7 88.7h1.6v1.6h-1.6zM567.7 88.7h1.6v1.6h-1.6zM568.7 88.7h1.6v1.6h-1.6zM570.7 88.7h1.6v1.6h-1.6zM588.7 88.7h1.6v1.6h-1.6zM595.7 88.7h1.6v1.6h-1.6zM601.7 88.7h1.6v1.6h-1.6zM602.7 88.7h1.6v1.6h-1.6zM609.7 88.7h1.6v1.6h-1.6zM532.7 89.7h1.6v1.6h-1.6zM549.7 89.7h1.6v1.6h-1.6zM552.7 89.7h1.6v1.6h-1.6zM553.7 89.7h1.6v1.6h-1.6zM554.7 89.7h1.6v1.6h-1.6zM560.7 89.7h1.6v1.6h-1.6zM562.7 89.7h1.6v1.6h-1.6zM565.7 89.7h1.6v1.6h-1.6zM566.7 89.7h1.6v1.6h-1.6zM569.7 89.7h1.6v1.6h-1.6zM570.7 89.7h1.6v1.6h-1.6zM572.7 89.7h1.6v1.6h-1.6zM573.7 89.7h1.6v1.6h-1.6zM588.7 89.7h1.6v1.6h-1.6zM589.7 89.7h1.6v1.6h-1.6zM595.7 89.7h1.6v1.6h-1.6zM598.7 89.7h1.6v1.6h-1.6zM603.7 89.7h1.6v1.6h-1.6zM606.7 89.7h1.6v1.6h-1.6zM551.7 90.7h1.6v1.6h-1.6zM556.7 90.7h1.6v1.6h-1.6zM558.7 90.7h1.6v1.6h-1.6zM559.7 90.7h1.6v1.6h-1.6zM562.7 90.7h1.6v1.6h-1.6zM567.7 90.7h1.6v1.6h-1.6zM568.7 90.7h1.6v1.6h-1.6zM569.7 90.7h1.6v1.6h-1.6zM598.7 90.7h1.6v1.6h-1.6zM599.7 90.7h1.6v1.6h-1.6zM606.7 90.7h1.6v1.6h-1.6zM555.7 91.7h1.6v1.6h-1.6zM558.7 91.7h1.6v1.6h-1.6zM559.7 91.7h1.6v1.6h-1.6zM560.7 91.7h1.6v1.6h-1.6zM569.7 91.7h1.6v1.6h-1.6zM571.7 91.7h1.6v1.6h-1.6zM574.7 91.7h1.6v1.6h-1.6zM585.7 91.7h1.6v1.6h-1.6zM590.7 91.7h1.6v1.6h-1.6zM592.7 91.7h1.6v1.6h-1.6zM593.7 91.7h1.6v1.6h-1.6zM527.7 92.7h1.6v1.6h-1.6zM531.7 92.7h1.6v1.6h-1.6zM553.7 92.7h1.6v1.6h-1.6zM563.7 92.7h1.6v1.6h-1.6zM568.7 92.7h1.6v1.6h-1.6zM575.7 92.7h1.6v1.6h-1.6zM577.7 92.7h1.6v1.6h-1.6zM585.7 92.7h1.6v1.6h-1.6zM589.7 92.7h1.6v1.6h-1.6zM601.7 92.7h1.6v1.6h-1.6zM607.7 92.7h1.6v1.6h-1.6zM533.7 93.7h1.6v1.6h-1.6zM547.7 93.7h1.6v1.6h-1.6zM550.7 93.7h1.6v1.6h-1.6zM552.7 93.7h1.6v1.6h-1.6zM554.7 93.7h1.6v1.6h-1.6zM557.7 93.7h1.6v1.6h-1.6zM560.7 93.7h1.6v1.6h-1.6zM563.7 93.7h1.6v1.6h-1.6zM577.7 93.7h1.6v1.6h-1.6zM585.7 93.7h1.6v1.6h-1.6zM600.7 93.7h1.6v1.6h-1.6zM544.7 94.7h1.6v1.6h-1.6zM553.7 94.7h1.6v1.6h-1.6zM564.7 94.7h1.6v1.6h-1.6zM570.7 94.7h1.6v1.6h-1.6zM577.7 94.7h1.6v1.6h-1.6zM585.7 94.7h1.6v1.6h-1.6zM589.7 94.7h1.6v1.6h-1.6zM590.7 94.7h1.6v1.6h-1.6zM544.7 95.7h1.6v1.6h-1.6zM552.7 95.7h1.6v1.6h-1.6zM556.7 95.7h1.6v1.6h-1.6zM571.7 95.7h1.6v1.6h-1.6zM577.7 95.7h1.6v1.6h-1.6zM578.7 95.7h1.6v1.6h-1.6zM586.7 95.7h1.6v1.6h-1.6zM604.7 95.7h1.6v1.6h-1.6zM539.7 96.7h1.6v1.6h-1.6zM553.7 96.7h1.6v1.6h-1.6zM554.7 96.7h1.6v1.6h-1.6zM561.7 96.7h1.6v1.6h-1.6zM563.7 96.7h1.6v1.6h-1.6zM572.7 96.7h1.6v1.6h-1.6zM577.7 96.7h1.6v1.6h-1.6zM580.7 96.7h1.6v1.6h-1.6zM583.7 96.7h1.6v1.6h-1.6zM555.7 97.7h1.6v1.6h-1.6zM557.7 97.7h1.6v1.6h-1.6zM563.7 97.7h1.6v1.6h-1.6zM564.7 97.7h1.6v1.6h-1.6zM570.7 97.7h1.6v1.6h-1.6zM576.7 97.7h1.6v1.6h-1.6zM580.7 97.7h1.6v1.6h-1.6zM582.7 97.7h1.6v1.6h-1.6zM583.7 97.7h1.6v1.6h-1.6zM585.7 97.7h1.6v1.6h-1.6zM561.7 98.7h1.6v1.6h-1.6zM550.7 99.7h1.6v1.6h-1.6zM571.7 99.7h1.6v1.6h-1.6zM574.7 99.7h1.6v1.6h-1.6zM581.7 99.7h1.6v1.6h-1.6zM602.7 99.7h1.6v1.6h-1.6zM556.7 100.7h1.6v1.6h-1.6zM555.7 101.7h1.6v1.6h-1.6zM595.7 101.7h1.6v1.6h-1.6zM574.7 102.7h1.6v1.6h-1.6zM576.7 102.7h1.6v1.6h-1.6zM580.7 102.7h1.6v1.6h-1.6zM586.7 102.7h1.6v1.6h-1.6zM593.7 102.7h1.6v1.6h-1.6zM568.7 103.7h1.6v1.6h-1.6zM559.7 104.7h1.6v1.6h-1.6zM581.7 104.7h1.6v1.6h-1.6zM583.7 104.7h1.6v1.6h-1.6zM566.7 105.7h1.6v1.6h-1.6zM582.7 105.7h1.6v1.6h-1.6zM595.7 105.7h1.6v1.6h-1.6zM553.7 106.7h1.6v1.6h-1.6zM582.7 106.7h1.6v1.6h-1.6zM583.7 106.7h1.6v1.6h-1.6zM584.7 106.7h1.6v1.6h-1.6zM573.7 107.7h1.6v1.6h-1.6zM576.7 108.7h1.6v1.6h-1.6zM551.7 109.7h1.6v1.6h-1.6zM582.7 109.7h1.6v1.6h-1.6zM583.7 109.7h1.6v1.6h-1.6zM587.7 109.7h1.6v1.6h-1.6zM580.7 110.7h1.6v1.6h-1.6zM584.7 110.7h1.6v1.6h-1.6zM544.7 111.7h1.6v1.6h-1.6zM590.7 111.7h1.6v1.6h-1.6zM546.7 112.7h1.6v1.6h-1.6zM561.7 112.7h1.6v1.6h-1.6zM596.7 112.7h1.6v1.6h-1.6zM536.7 113.7h1.6v1.6h-1.6zM574.7 113.7h1.6v1.6h-1.6zM575.7 113.7h1.6v1.6h-1.6zM581.7 113.7h1.6v1.6h-1.6zM583.7 113.7h1.6v1.6h-1.6zM587.7 113.7h1.6v1.6h-1.6zM560.7 114.7h1.6v1.6h-1.6zM584.7 114.7h1.6v1.6h-1.6zM544.7 115.7h1.6v1.6h-1.6zM562.7 115.7h1.6v1.6h-1.6zM575.7 115.7h1.6v1.6h-1.6zM580.7 115.7h1.6v1.6h-1.6zM581.7 115.7h1.6v1.6h-1.6zM583.7 115.7h1.6v1.6h-1.6zM584.7 115.7h1.6v1.6h-1.6zM564.7 116.7h1.6v1.6h-1.6zM579.7 116.7h1.6v1.6h-1.6zM581.7 116.7h1.6v1.6h-1.6zM583.7 116.7h1.6v1.6h-1.6zM593.7 116.7h1.6v1.6h-1.6zM534.7 117.7h1.6v1.6h-1.6zM558.7 117.7h1.6v1.6h-1.6zM571.7 117.7h1.6v1.6h-1.6zM573.7 117.7h1.6v1.6h-1.6zM574.7 117.7h1.6v1.6h-1.6zM583.7 117.7h1.6v1.6h-1.6zM584.7 117.7h1.6v1.6h-1.6zM537.7 118.7h1.6v1.6h-1.6zM543.7 118.7h1.6v1.6h-1.6zM568.7 118.7h1.6v1.6h-1.6zM575.7 118.7h1.6v1.6h-1.6zM580.7 118.7h1.6v1.6h-1.6zM585.7 118.7h1.6v1.6h-1.6zM540.7 119.7h1.6v1.6h-1.6zM552.7 119.7h1.6v1.6h-1.6zM559.7 119.7h1.6v1.6h-1.6zM561.7 119.7h1.6v1.6h-1.6zM572.7 119.7h1.6v1.6h-1.6zM573.7 119.7h1.6v1.6h-1.6zM579.7 119.7h1.6v1.6h-1.6zM582.7 119.7h1.6v1.6h-1.6zM583.7 119.7h1.6v1.6h-1.6zM586.7 119.7h1.6v1.6h-1.6zM589.7 119.7h1.6v1.6h-1.6zM569.7 120.7h1.6v1.6h-1.6zM577.7 120.7h1.6v1.6h-1.6zM582.7 120.7h1.6v1.6h-1.6zM549.7 121.7h1.6v1.6h-1.6zM568.7 121.7h1.6v1.6h-1.6zM573.7 121.7h1.6v1.6h-1.6zM579.7 121.7h1.6v1.6h-1.6zM582.7 121.7h1.6v1.6h-1.6zM583.7 121.7h1.6v1.6h-1.6zM584.7 121.7h1.6v1.6h-1.6zM597.7 121.7h1.6v1.6h-1.6zM546.7 122.7h1.6v1.6h-1.6zM548.7 122.7h1.6v1.6h-1.6zM550.7 122.7h1.6v1.6h-1.6zM570.7 122.7h1.6v1.6h-1.6zM573.7 122.7h1.6v1.6h-1.6zM574.7 122.7h1.6v1.6h-1.6zM579.7 122.7h1.6v1.6h-1.6zM580.7 122.7h1.6v1.6h-1.6zM588.7 122.7h1.6v1.6h-1.6zM590.7 122.7h1.6v1.6h-1.6zM555.7 123.7h1.6v1.6h-1.6zM572.7 123.7h1.6v1.6h-1.6zM576.7 123.7h1.6v1.6h-1.6zM578.7 123.7h1.6v1.6h-1.6zM580.7 123.7h1.6v1.6h-1.6zM582.7 123.7h1.6v1.6h-1.6zM592.7 123.7h1.6v1.6h-1.6zM558.7 124.7h1.6v1.6h-1.6zM564.7 124.7h1.6v1.6h-1.6zM569.7 124.7h1.6v1.6h-1.6zM574.7 124.7h1.6v1.6h-1.6zM576.7 124.7h1.6v1.6h-1.6zM577.7 124.7h1.6v1.6h-1.6zM581.7 124.7h1.6v1.6h-1.6zM584.7 124.7h1.6v1.6h-1.6zM587.7 124.7h1.6v1.6h-1.6zM549.7 125.7h1.6v1.6h-1.6zM556.7 125.7h1.6v1.6h-1.6zM564.7 125.7h1.6v1.6h-1.6zM571.7 125.7h1.6v1.6h-1.6zM572.7 125.7h1.6v1.6h-1.6zM575.7 125.7h1.6v1.6h-1.6zM576.7 125.7h1.6v1.6h-1.6zM577.7 125.7h1.6v1.6h-1.6zM584.7 125.7h1.6v1.6h-1.6zM588.7 125.7h1.6v1.6h-1.6zM544.7 126.7h1.6v1.6h-1.6zM562.7 126.7h1.6v1.6h-1.6zM564.7 126.7h1.6v1.6h-1.6zM565.7 126.7h1.6v1.6h-1.6zM569.7 126.7h1.6v1.6h-1.6zM570.7 126.7h1.6v1.6h-1.6zM571.7 126.7h1.6v1.6h-1.6zM572.7 126.7h1.6v1.6h-1.6zM575.7 126.7h1.6v1.6h-1.6zM578.7 126.7h1.6v1.6h-1.6zM588.7 126.7h1.6v1.6h-1.6zM590.7 126.7h1.6v1.6h-1.6zM562.7 127.7h1.6v1.6h-1.6zM570.7 127.7h1.6v1.6h-1.6zM571.7 127.7h1.6v1.6h-1.6zM573.7 127.7h1.6v1.6h-1.6zM575.7 127.7h1.6v1.6h-1.6zM576.7 127.7h1.6v1.6h-1.6zM579.7 127.7h1.6v1.6h-1.6zM584.7 127.7h1.6v1.6h-1.6zM556.7 128.7h1.6v1.6h-1.6zM558.7 128.7h1.6v1.6h-1.6zM568.7 128.7h1.6v1.6h-1.6zM571.7 128.7h1.6v1.6h-1.6zM585.7 128.7h1.6v1.6h-1.6zM589.7 128.7h1.6v1.6h-1.6zM540.7 129.7h1.6v1.6h-1.6zM565.7 129.7h1.6v1.6h-1.6zM567.7 129.7h1.6v1.6h-1.6zM568.7 129.7h1.6v1.6h-1.6zM569.7 129.7h1.6v1.6h-1.6zM570.7 129.7h1.6v1.6h-1.6zM573.7 129.7h1.6v1.6h-1.6zM585.7 129.7h1.6v1.6h-1.6zM586.7 129.7h1.6v1.6h-1.6zM595.7 129.7h1.6v1.6h-1.6zM560.7 130.7h1.6v1.6h-1.6zM562.7 130.7h1.6v1.6h-1.6zM574.7 130.7h1.6v1.6h-1.6zM585.7 130.7h1.6v1.6h-1.6zM591.7 130.7h1.6v1.6h-1.6zM594.7 130.7h1.6v1.6h-1.6zM560.7 131.7h1.6v1.6h-1.6zM570.7 131.7h1.6v1.6h-1.6zM572.7 131.7h1.6v1.6h-1.6zM573.7 131.7h1.6v1.6h-1.6zM574.7 131.7h1.6v1.6h-1.6zM556.7 132.7h1.6v1.6h-1.6zM565.7 132.7h1.6v1.6h-1.6zM568.7 132.7h1.6v1.6h-1.6zM588.7 132.7h1.6v1.6h-1.6zM593.7 132.7h1.6v1.6h-1.6zM562.7 133.7h1.6v1.6h-1.6zM566.7 133.7h1.6v1.6h-1.6zM573.7 133.7h1.6v1.6h-1.6zM585.7 133.7h1.6v1.6h-1.6zM586.7 133.7h1.6v1.6h-1.6zM588.7 133.7h1.6v1.6h-1.6zM589.7 133.7h1.6v1.6h-1.6zM549.7 134.7h1.6v1.6h-1.6zM560.7 134.7h1.6v1.6h-1.6zM566.7 134.7h1.6v1.6h-1.6zM569.7 134.7h1.6v1.6h-1.6zM573.7 134.7h1.6v1.6h-1.6zM576.7 134.7h1.6v1.6h-1.6zM578.7 134.7h1.6v1.6h-1.6zM585.7 134.7h1.6v1.6h-1.6zM587.7 134.7h1.6v1.6h-1.6zM561.7 135.7h1.6v1.6h-1.6zM568.7 135.7h1.6v1.6h-1.6zM572.7 135.7h1.6v1.6h-1.6zM574.7 135.7h1.6v1.6h-1.6zM575.7 135.7h1.6v1.6h-1.6zM576.7 135.7h1.6v1.6h-1.6zM579.7 135.7h1.6v1.6h-1.6zM585.7 135.7h1.6v1.6h-1.6zM587.7 135.7h1.6v1.6h-1.6zM588.7 135.7h1.6v1.6h-1.6zM592.7 135.7h1.6v1.6h-1.6zM536.7 136.7h1.6v1.6h-1.6zM562.7 136.7h1.6v1.6h-1.6zM566.7 136.7h1.6v1.6h-1.6zM569.7 136.7h1.6v1.6h-1.6zM570.7 136.7h1.6v1.6h-1.6zM571.7 136.7h1.6v1.6h-1.6zM572.7 136.7h1.6v1.6h-1.6zM573.7 136.7h1.6v1.6h-1.6zM578.7 136.7h1.6v1.6h-1.6zM579.7 136.7h1.6v1.6h-1.6zM580.7 136.7h1.6v1.6h-1.6zM589.7 136.7h1.6v1.6h-1.6zM555.7 137.7h1.6v1.6h-1.6zM560.7 137.7h1.6v1.6h-1.6zM567.7 137.7h1.6v1.6h-1.6zM572.7 137.7h1.6v1.6h-1.6zM580.7 137.7h1.6v1.6h-1.6zM583.7 137.7h1.6v1.6h-1.6zM537.7 138.7h1.6v1.6h-1.6zM552.7 138.7h1.6v1.6h-1.6zM575.7 138.7h1.6v1.6h-1.6zM581.7 138.7h1.6v1.6h-1.6zM583.7 138.7h1.6v1.6h-1.6zM585.7 138.7h1.6v1.6h-1.6zM563.7 139.7h1.6v1.6h-1.6zM566.7 139.7h1.6v1.6h-1.6zM574.7 139.7h1.6v1.6h-1.6zM583.7 139.7h1.6v1.6h-1.6zM550.7 140.7h1.6v1.6h-1.6zM562.7 140.7h1.6v1.6h-1.6zM564.7 140.7h1.6v1.6h-1.6zM571.7 140.7h1.6v1.6h-1.6zM576.7 140.7h1.6v1.6h-1.6zM578.7 140.7h1.6v1.6h-1.6zM582.7 140.7h1.6v1.6h-1.6zM584.7 140.7h1.6v1.6h-1.6zM557.7 141.7h1.6v1.6h-1.6zM561.7 141.7h1.6v1.6h-1.6zM562.7 141.7h1.6v1.6h-1.6zM570.7 141.7h1.6v1.6h-1.6zM573.7 141.7h1.6v1.6h-1.6zM590.7 141.7h1.6v1.6h-1.6zM594.7 141.7h1.6v1.6h-1.6zM541.7 142.7h1.6v1.6h-1.6zM579.7 142.7h1.6v1.6h-1.6zM580.7 142.7h1.6v1.6h-1.6zM581.7 142.7h1.6v1.6h-1.6zM584.7 142.7h1.6v1.6h-1.6zM587.7 142.7h1.6v1.6h-1.6zM560.7 143.7h1.6v1.6h-1.6zM567.7 143.7h1.6v1.6h-1.6zM569.7 143.7h1.6v1.6h-1.6zM571.7 143.7h1.6v1.6h-1.6zM576.7 143.7h1.6v1.6h-1.6zM580.7 143.7h1.6v1.6h-1.6zM581.7 143.7h1.6v1.6h-1.6zM582.7 143.7h1.6v1.6h-1.6zM584.7 143.7h1.6v1.6h-1.6zM587.7 143.7h1.6v1.6h-1.6zM540.7 144.7h1.6v1.6h-1.6zM570.7 144.7h1.6v1.6h-1.6zM573.7 144.7h1.6v1.6h-1.6zM575.7 144.7h1.6v1.6h-1.6zM576.7 144.7h1.6v1.6h-1.6zM577.7 144.7h1.6v1.6h-1.6zM583.7 144.7h1.6v1.6h-1.6zM586.7 144.7h1.6v1.6h-1.6zM565.7 145.7h1.6v1.6h-1.6zM582.7 145.7h1.6v1.6h-1.6zM593.7 145.7h1.6v1.6h-1.6zM538.7 146.7h1.6v1.6h-1.6zM548.7 146.7h1.6v1.6h-1.6zM561.7 146.7h1.6v1.6h-1.6zM572.7 146.7h1.6v1.6h-1.6zM576.7 146.7h1.6v1.6h-1.6zM582.7 146.7h1.6v1.6h-1.6zM583.7 146.7h1.6v1.6h-1.6zM585.7 146.7h1.6v1.6h-1.6zM591.7 146.7h1.6v1.6h-1.6zM559.7 147.7h1.6v1.6h-1.6zM564.7 147.7h1.6v1.6h-1.6zM569.7 147.7h1.6v1.6h-1.6zM570.7 147.7h1.6v1.6h-1.6zM571.7 147.7h1.6v1.6h-1.6zM578.7 147.7h1.6v1.6h-1.6zM557.7 148.7h1.6v1.6h-1.6zM574.7 148.7h1.6v1.6h-1.6zM580.7 148.7h1.6v1.6h-1.6zM584.7 148.7h1.6v1.6h-1.6zM585.7 148.7h1.6v1.6h-1.6zM553.7 149.7h1.6v1.6h-1.6zM568.7 149.7h1.6v1.6h-1.6zM581.7 149.7h1.6v1.6h-1.6zM582.7 149.7h1.6v1.6h-1.6zM584.7 149.7h1.6v1.6h-1.6zM570.7 150.7h1.6v1.6h-1.6zM584.7 150.7h1.6v1.6h-1.6zM543.7 151.7h1.6v1.6h-1.6zM556.7 151.7h1.6v1.6h-1.6zM579.7 151.7h1.6v1.6h-1.6zM583.7 151.7h1.6v1.6h-1.6zM578.7 152.7h1.6v1.6h-1.6zM585.7 153.7h1.6v1.6h-1.6zM537.7 154.7h1.6v1.6h-1.6zM550.7 154.7h1.6v1.6h-1.6zM574.7 154.7h1.6v1.6h-1.6zM551.7 155.7h1.6v1.6h-1.6zM583.7 155.7h1.6v1.6h-1.6zM540.7 156.7h1.6v1.6h-1.6zM583.7 156.7h1.6v1.6h-1.6zM554.7 157.7h1.6v1.6h-1.6zM580.7 157.7h1.6v1.6h-1.6zM581.7 157.7h1.6v1.6h-1.6zM538.7 158.7h1.6v1.6h-1.6zM586.7 158.7h1.6v1.6h-1.6zM543.7 159.7h1.6v1.6h-1.6zM581.7 159.7h1.6v1.6h-1.6zM538.7 160.7h1.6v1.6h-1.6zM567.7 161.7h1.6v1.6h-1.6zM575.7 161.7h1.6v1.6h-1.6zM582.7 161.7h1.6v1.6h-1.6zM579.7 162.7h1.6v1.6h-1.6zM592.7 162.7h1.6v1.6h-1.6zM541.7 163.7h1.6v1.6h-1.6zM558.7 163.7h1.6v1.6h-1.6zM584.7 163.7h1.6v1.6h-1.6zM562.7 164.7h1.6v1.6h-1.6zM546.7 165.7h1.6v1.6h-1.6zM563.7 165.7h1.6v1.6h-1.6zM543.7 166.7h1.6v1.6h-1.6zM565.7 168.7h1.6v1.6h-1.6z" fill="#f43a3a"/><line x1="144.50" y1="27.55" x2="144.50" y2="174.20" stroke="#333" stroke-width="1.5"/><line x1="54.00" y1="97.70" x2="201.60" y2="97.70" stroke="#333" stroke-width="1.7"/><line x1="364.50" y1="28.00" x2="364.50" y2="174.30" stroke="#333" stroke-width="1.5"/><line x1="273.90" y1="98.50" x2="421.00" y2="98.50" stroke="#333" stroke-width="1.7"/><line x1="586.00" y1="29.20" x2="586.00" y2="175.00" stroke="#333" stroke-width="1.5"/><line x1="497.00" y1="98.50" x2="642.40" y2="98.50" stroke="#333" stroke-width="1.7"/><rect x="362.80" y="31.00" width="58.50" height="36.60" fill="#fff" stroke="none" stroke-width="1" opacity="0.9"/><rect x="584.20" y="31.50" width="58.50" height="36.40" fill="#fff" stroke="none" stroke-width="1" opacity="0.9"/><line x1="49.50" y1="27.55" x2="204.30" y2="27.55" stroke="#333" stroke-width="1.5"/><line x1="203.60" y1="27.55" x2="203.60" y2="174.20" stroke="#333" stroke-width="1.5"/><line x1="54.00" y1="26.85" x2="54.00" y2="175.20" stroke="#333" stroke-width="1.9"/><line x1="49.50" y1="174.20" x2="204.30" y2="174.20" stroke="#333" stroke-width="1.9"/><path d="M50.0 174.2H54.0M52.0 164.4H54.0M52.0 158.7H54.0M52.0 154.7H54.0M52.0 151.6H54.0M52.0 149.0H54.0M52.0 146.8H54.0M52.0 144.9H54.0M52.0 143.3H54.0M50.0 141.8H54.0M52.0 132.0H54.0M52.0 126.3H54.0M52.0 122.3H54.0M52.0 119.2H54.0M52.0 116.6H54.0M52.0 114.4H54.0M52.0 112.5H54.0M52.0 110.9H54.0M50.0 109.4H54.0M52.0 99.6H54.0M52.0 93.9H54.0M52.0 89.9H54.0M52.0 86.8H54.0M52.0 84.2H54.0M52.0 82.0H54.0M52.0 80.1H54.0M52.0 78.5H54.0M50.0 77.0H54.0M52.0 67.2H54.0M52.0 61.5H54.0M52.0 57.5H54.0M52.0 54.4H54.0M52.0 51.8H54.0M52.0 49.6H54.0M52.0 47.7H54.0M52.0 46.1H54.0M50.0 44.6H54.0M100.0 174.2V178.2M131.0 174.2V178.2M160.2 174.2V178.2M188.0 174.2V178.2M64.0 174.2V178.2M109.3 174.2V176.2M139.8 174.2V176.2M168.6 174.2V176.2M74.8 174.2V176.2M197.4 174.2V176.2M114.8 174.2V176.2M144.9 174.2V176.2M173.5 174.2V176.2M81.2 174.2V176.2M202.9 174.2V176.2M118.7 174.2V176.2M148.6 174.2V176.2M176.9 174.2V176.2M85.7 174.2V176.2M121.7 174.2V176.2M151.4 174.2V176.2M179.6 174.2V176.2M89.2 174.2V176.2M124.1 174.2V176.2M153.7 174.2V176.2M181.8 174.2V176.2M92.0 174.2V176.2M126.2 174.2V176.2M155.7 174.2V176.2M183.7 174.2V176.2M94.4 174.2V176.2M128.0 174.2V176.2M157.4 174.2V176.2M185.3 174.2V176.2M96.5 174.2V176.2M129.6 174.2V176.2M158.9 174.2V176.2M186.7 174.2V176.2M98.4 174.2V176.2" stroke="#333" stroke-width="1" fill="none"/><rect x="53.40" y="174.20" width="3.20" height="3.60" fill="#111" stroke="none" stroke-width="1"/><line x1="49.50" y1="174.20" x2="54.00" y2="174.20" stroke="#333" stroke-width="1.3"/><g stroke="#262626" stroke-width="0.3"><text x="120.7" y="13.3" font-size="16.3" font-weight="bold" text-anchor="middle">WT</text><text x="62.3" y="43.4" font-size="14.5" fill="#1e1e1e">UL</text><text x="62.2" y="59.9" font-size="14.5" fill="#1e1e1e">49.25%</text><text x="152.9" y="43.4" font-size="14.5" fill="#1e1e1e">UR</text><text x="153.3" y="59.9" font-size="14.5" fill="#1e1e1e">7.09%</text><text x="57.7" y="148.4" font-size="14.5" fill="#1e1e1e">LL</text><text x="58.3" y="165.7" font-size="14.5" fill="#1e1e1e">43.18%</text><text x="153.1" y="148.4" font-size="14.5" fill="#1e1e1e">LR</text><text x="153.3" y="165.7" font-size="14.5" fill="#1e1e1e">0.48%</text><text x="54.4" y="196.7" font-size="13" text-anchor="middle" fill="#222">0</text><text x="88.2" y="196.7" font-size="13" fill="#222">10<tspan dx="2.3" dy="-6.5" font-size="10">3</tspan></text><text x="119.2" y="196.7" font-size="13" fill="#222">10<tspan dx="2.3" dy="-6.5" font-size="10">4</tspan></text><text x="182.7" y="196.7" font-size="13.5" fill="#222">10<tspan dx="1.5" dy="-6.1" font-size="11.5">6.5</tspan></text><text x="127.3" y="219.9" font-size="14.5" text-anchor="middle" fill="#222">FITC-H</text><text transform="translate(41.2,173.2) rotate(-90)" font-size="13.5" text-anchor="middle" fill="#222">10<tspan dx="2.5" dy="-6" font-size="10.5">2</tspan></text><text transform="translate(41.2,140.8) rotate(-90)" font-size="13.5" text-anchor="middle" fill="#222">10<tspan dx="2.5" dy="-6" font-size="10.5">3</tspan></text><text transform="translate(41.2,108.4) rotate(-90)" font-size="13.5" text-anchor="middle" fill="#222">10<tspan dx="2.5" dy="-6" font-size="10.5">4</tspan></text><text transform="translate(41.2,76.0) rotate(-90)" font-size="13.5" text-anchor="middle" fill="#222">10<tspan dx="2.5" dy="-6" font-size="10.5">5</tspan></text><text transform="translate(41.2,53.0) rotate(-90)" font-size="13.5" fill="#222">10<tspan dx="2.2" dy="-4.7" font-size="12">6.5</tspan></text><text transform="translate(17.4,101.1) rotate(-90)" font-size="14.5" text-anchor="middle" fill="#222">PI-H</text></g><line x1="269.40" y1="28.00" x2="423.70" y2="28.00" stroke="#333" stroke-width="1.5"/><line x1="423.00" y1="28.00" x2="423.00" y2="174.30" stroke="#333" stroke-width="1.5"/><line x1="273.90" y1="27.30" x2="273.90" y2="175.30" stroke="#333" stroke-width="1.9"/><line x1="269.40" y1="174.30" x2="423.70" y2="174.30" stroke="#333" stroke-width="1.9"/><path d="M269.9 174.3H273.9M271.9 164.6H273.9M271.9 158.9H273.9M271.9 154.9H273.9M271.9 151.8H273.9M271.9 149.2H273.9M271.9 147.1H273.9M271.9 145.2H273.9M271.9 143.6H273.9M269.9 142.1H273.9M271.9 132.4H273.9M271.9 126.7H273.9M271.9 122.7H273.9M271.9 119.6H273.9M271.9 117.0H273.9M271.9 114.9H273.9M271.9 113.0H273.9M271.9 111.4H273.9M269.9 109.9H273.9M271.9 100.2H273.9M271.9 94.5H273.9M271.9 90.5H273.9M271.9 87.4H273.9M271.9 84.8H273.9M271.9 82.7H273.9M271.9 80.8H273.9M271.9 79.2H273.9M269.9 77.7H273.9M271.9 68.0H273.9M271.9 62.3H273.9M271.9 58.3H273.9M271.9 55.2H273.9M271.9 52.6H273.9M271.9 50.5H273.9M271.9 48.6H273.9M271.9 47.0H273.9M269.9 45.5H273.9M319.9 174.3V178.3M350.9 174.3V178.3M380.1 174.3V178.3M407.9 174.3V178.3M283.9 174.3V178.3M329.2 174.3V176.3M359.7 174.3V176.3M388.5 174.3V176.3M294.7 174.3V176.3M417.0 174.3V176.3M334.7 174.3V176.3M364.8 174.3V176.3M393.4 174.3V176.3M301.1 174.3V176.3M422.3 174.3V176.3M338.6 174.3V176.3M368.5 174.3V176.3M396.8 174.3V176.3M305.6 174.3V176.3M341.6 174.3V176.3M371.3 174.3V176.3M399.5 174.3V176.3M309.1 174.3V176.3M344.0 174.3V176.3M373.6 174.3V176.3M401.7 174.3V176.3M311.9 174.3V176.3M346.1 174.3V176.3M375.6 174.3V176.3M403.6 174.3V176.3M314.3 174.3V176.3M347.9 174.3V176.3M377.3 174.3V176.3M405.2 174.3V176.3M316.4 174.3V176.3M349.5 174.3V176.3M378.8 174.3V176.3M406.6 174.3V176.3M318.3 174.3V176.3" stroke="#333" stroke-width="1" fill="none"/><rect x="273.30" y="174.30" width="3.20" height="3.60" fill="#111" stroke="none" stroke-width="1"/><line x1="269.40" y1="174.30" x2="273.90" y2="174.30" stroke="#333" stroke-width="1.3"/><g stroke="#262626" stroke-width="0.3"><text x="345.3" y="13.0" font-size="16.3" font-weight="bold" text-anchor="middle">16P-2</text><text x="281.9" y="43.6" font-size="14.5" fill="#1e1e1e">UL</text><text x="282.2" y="60.5" font-size="14.5" fill="#1e1e1e">57.08%</text><text x="363.8" y="43.6" font-size="14.5" fill="#1e1e1e">UR</text><text x="364.2" y="60.5" font-size="14.5" fill="#1e1e1e">26.66%</text><text x="278.3" y="149.0" font-size="14.5" fill="#1e1e1e">LL</text><text x="278.4" y="165.7" font-size="14.5" fill="#1e1e1e">15.45%</text><text x="373.1" y="149.0" font-size="14.5" fill="#1e1e1e">LR</text><text x="373.3" y="165.7" font-size="14.5" fill="#1e1e1e">0.81%</text><text x="274.3" y="196.7" font-size="13" text-anchor="middle" fill="#222">0</text><text x="308.1" y="196.7" font-size="13" fill="#222">10<tspan dx="2.3" dy="-6.5" font-size="10">3</tspan></text><text x="339.1" y="196.7" font-size="13" fill="#222">10<tspan dx="2.3" dy="-6.5" font-size="10">4</tspan></text><text x="402.1" y="196.7" font-size="13.5" fill="#222">10<tspan dx="1.5" dy="-6.1" font-size="11.5">6.5</tspan></text><text x="346.9" y="219.9" font-size="14.5" text-anchor="middle" fill="#222">FITC-H</text><text transform="translate(261.1,173.3) rotate(-90)" font-size="13.5" text-anchor="middle" fill="#222">10<tspan dx="2.5" dy="-6" font-size="10.5">2</tspan></text><text transform="translate(261.1,141.1) rotate(-90)" font-size="13.5" text-anchor="middle" fill="#222">10<tspan dx="2.5" dy="-6" font-size="10.5">3</tspan></text><text transform="translate(261.1,108.9) rotate(-90)" font-size="13.5" text-anchor="middle" fill="#222">10<tspan dx="2.5" dy="-6" font-size="10.5">4</tspan></text><text transform="translate(261.1,76.7) rotate(-90)" font-size="13.5" text-anchor="middle" fill="#222">10<tspan dx="2.5" dy="-6" font-size="10.5">5</tspan></text><text transform="translate(261.1,53.9) rotate(-90)" font-size="13.5" fill="#222">10<tspan dx="2.2" dy="-4.7" font-size="12">6.5</tspan></text><text transform="translate(237.3,101.4) rotate(-90)" font-size="14.5" text-anchor="middle" fill="#222">PI-H</text></g><line x1="492.50" y1="29.20" x2="645.10" y2="29.20" stroke="#333" stroke-width="1.5"/><line x1="644.40" y1="29.20" x2="644.40" y2="175.00" stroke="#333" stroke-width="1.5"/><line x1="497.00" y1="28.50" x2="497.00" y2="176.00" stroke="#333" stroke-width="1.9"/><line x1="492.50" y1="175.00" x2="645.10" y2="175.00" stroke="#333" stroke-width="1.9"/><path d="M493.0 175.0H497.0M495.0 165.4H497.0M495.0 159.7H497.0M495.0 155.7H497.0M495.0 152.6H497.0M495.0 150.1H497.0M495.0 148.0H497.0M495.0 146.1H497.0M495.0 144.5H497.0M493.0 143.0H497.0M495.0 133.4H497.0M495.0 127.7H497.0M495.0 123.7H497.0M495.0 120.6H497.0M495.0 118.1H497.0M495.0 116.0H497.0M495.0 114.1H497.0M495.0 112.5H497.0M493.0 111.0H497.0M495.0 101.4H497.0M495.0 95.7H497.0M495.0 91.7H497.0M495.0 88.6H497.0M495.0 86.1H497.0M495.0 84.0H497.0M495.0 82.1H497.0M495.0 80.5H497.0M493.0 79.0H497.0M495.0 69.4H497.0M495.0 63.7H497.0M495.0 59.7H497.0M495.0 56.6H497.0M495.0 54.1H497.0M495.0 52.0H497.0M495.0 50.1H497.0M495.0 48.5H497.0M493.0 47.0H497.0M543.0 175.0V179.0M574.0 175.0V179.0M603.2 175.0V179.0M631.0 175.0V179.0M507.0 175.0V179.0M552.3 175.0V177.0M582.8 175.0V177.0M611.6 175.0V177.0M517.8 175.0V177.0M639.1 175.0V177.0M557.8 175.0V177.0M587.9 175.0V177.0M616.5 175.0V177.0M524.2 175.0V177.0M643.8 175.0V177.0M561.7 175.0V177.0M591.6 175.0V177.0M619.9 175.0V177.0M528.7 175.0V177.0M564.7 175.0V177.0M594.4 175.0V177.0M622.6 175.0V177.0M532.2 175.0V177.0M567.1 175.0V177.0M596.7 175.0V177.0M624.8 175.0V177.0M535.0 175.0V177.0M569.2 175.0V177.0M598.7 175.0V177.0M626.7 175.0V177.0M537.4 175.0V177.0M571.0 175.0V177.0M600.4 175.0V177.0M628.3 175.0V177.0M539.5 175.0V177.0M572.6 175.0V177.0M601.9 175.0V177.0M629.7 175.0V177.0M541.4 175.0V177.0" stroke="#333" stroke-width="1" fill="none"/><rect x="496.40" y="175.00" width="3.20" height="3.60" fill="#111" stroke="none" stroke-width="1"/><line x1="492.50" y1="175.00" x2="497.00" y2="175.00" stroke="#333" stroke-width="1.3"/><g stroke="#262626" stroke-width="0.3"><text x="570.1" y="14.0" font-size="16.3" font-weight="bold" text-anchor="middle">16P-11</text><text x="504.5" y="44.4" font-size="14.5" fill="#1e1e1e">UL</text><text x="504.8" y="61.0" font-size="14.5" fill="#1e1e1e">52.27%</text><text x="586.1" y="44.4" font-size="14.5" fill="#1e1e1e">UR</text><text x="586.6" y="61.0" font-size="14.5" fill="#1e1e1e">37.05%</text><text x="500.4" y="148.7" font-size="14.5" fill="#1e1e1e">LL</text><text x="500.9" y="165.7" font-size="14.5" fill="#1e1e1e">9.78%</text><text x="594.3" y="148.7" font-size="14.5" fill="#1e1e1e">LR</text><text x="594.5" y="165.7" font-size="14.5" fill="#1e1e1e">0.90%</text><text x="497.4" y="196.7" font-size="13" text-anchor="middle" fill="#222">0</text><text x="531.2" y="196.7" font-size="13" fill="#222">10<tspan dx="2.3" dy="-6.5" font-size="10">3</tspan></text><text x="562.2" y="196.7" font-size="13" fill="#222">10<tspan dx="2.3" dy="-6.5" font-size="10">4</tspan></text><text x="623.5" y="196.7" font-size="13.5" fill="#222">10<tspan dx="1.5" dy="-6.1" font-size="11.5">6.5</tspan></text><text x="569.2" y="219.9" font-size="14.5" text-anchor="middle" fill="#222">FITC-H</text><text transform="translate(484.2,174.0) rotate(-90)" font-size="13.5" text-anchor="middle" fill="#222">10<tspan dx="2.5" dy="-6" font-size="10.5">2</tspan></text><text transform="translate(484.2,142.0) rotate(-90)" font-size="13.5" text-anchor="middle" fill="#222">10<tspan dx="2.5" dy="-6" font-size="10.5">3</tspan></text><text transform="translate(484.2,110.0) rotate(-90)" font-size="13.5" text-anchor="middle" fill="#222">10<tspan dx="2.5" dy="-6" font-size="10.5">4</tspan></text><text transform="translate(484.2,78.0) rotate(-90)" font-size="13.5" text-anchor="middle" fill="#222">10<tspan dx="2.5" dy="-6" font-size="10.5">5</tspan></text><text transform="translate(484.2,55.4) rotate(-90)" font-size="13.5" fill="#222">10<tspan dx="2.2" dy="-4.7" font-size="12">6.5</tspan></text><text transform="translate(460.4,102.3) rotate(-90)" font-size="14.5" text-anchor="middle" fill="#222">PI-H</text></g><text x="6.8" y="20.6" font-size="18" font-weight="bold">A</text><text x="165.3" y="262.8" font-size="16.5" font-weight="bold">B</text><line x1="213.50" y1="287.20" x2="213.50" y2="416.00" stroke="#000" stroke-width="1.8"/><line x1="212.60" y1="415.00" x2="452.20" y2="415.00" stroke="#000" stroke-width="1.8"/><line x1="208.00" y1="415.00" x2="213.50" y2="415.00" stroke="#000" stroke-width="1.5"/><text x="206.6" y="418.6" font-size="10" font-weight="bold" text-anchor="end">0</text><line x1="208.00" y1="389.60" x2="213.50" y2="389.60" stroke="#000" stroke-width="1.5"/><text x="206.6" y="393.2" font-size="10" font-weight="bold" text-anchor="end">10</text><line x1="208.00" y1="364.20" x2="213.50" y2="364.20" stroke="#000" stroke-width="1.5"/><text x="206.6" y="367.8" font-size="10" font-weight="bold" text-anchor="end">20</text><line x1="208.00" y1="338.80" x2="213.50" y2="338.80" stroke="#000" stroke-width="1.5"/><text x="206.6" y="342.4" font-size="10" font-weight="bold" text-anchor="end">30</text><line x1="208.00" y1="313.40" x2="213.50" y2="313.40" stroke="#000" stroke-width="1.5"/><text x="206.6" y="317.0" font-size="10" font-weight="bold" text-anchor="end">40</text><line x1="208.00" y1="288.00" x2="213.50" y2="288.00" stroke="#000" stroke-width="1.5"/><text x="206.6" y="291.6" font-size="10" font-weight="bold" text-anchor="end">50</text><line x1="250.00" y1="415.00" x2="250.00" y2="421.00" stroke="#000" stroke-width="1.5"/><line x1="227.50" y1="414.11" x2="227.50" y2="413.86" stroke="#000" stroke-width="1.2"/><line x1="223.25" y1="413.86" x2="231.75" y2="413.86" stroke="#000" stroke-width="1.2"/><rect x="221.15" y="415.01" width="12.70" height="-0.01" fill="#000" stroke="#000" stroke-width="1.8"/><line x1="250.00" y1="413.48" x2="250.00" y2="412.97" stroke="#000" stroke-width="1.2"/><line x1="245.75" y1="412.97" x2="254.25" y2="412.97" stroke="#000" stroke-width="1.2"/><rect x="243.65" y="414.38" width="12.70" height="0.62" fill="#a2a2a6" stroke="#000" stroke-width="1.8"/><line x1="272.50" y1="411.95" x2="272.50" y2="408.40" stroke="#000" stroke-width="1.2"/><line x1="268.25" y1="408.40" x2="276.75" y2="408.40" stroke="#000" stroke-width="1.2"/><rect x="266.15" y="412.85" width="12.70" height="2.15" fill="#7f7f7f" stroke="#000" stroke-width="1.8"/><line x1="332.30" y1="415.00" x2="332.30" y2="421.00" stroke="#000" stroke-width="1.5"/><line x1="309.80" y1="396.20" x2="309.80" y2="393.92" stroke="#000" stroke-width="1.2"/><line x1="305.55" y1="393.92" x2="314.05" y2="393.92" stroke="#000" stroke-width="1.2"/><rect x="303.45" y="397.10" width="12.70" height="17.90" fill="#000" stroke="#000" stroke-width="1.8"/><line x1="332.30" y1="355.82" x2="332.30" y2="345.66" stroke="#000" stroke-width="1.2"/><line x1="328.05" y1="345.66" x2="336.55" y2="345.66" stroke="#000" stroke-width="1.2"/><rect x="325.95" y="356.72" width="12.70" height="58.28" fill="#a2a2a6" stroke="#000" stroke-width="1.8"/><line x1="354.80" y1="313.40" x2="354.80" y2="304.51" stroke="#000" stroke-width="1.2"/><line x1="350.55" y1="304.51" x2="359.05" y2="304.51" stroke="#000" stroke-width="1.2"/><rect x="348.45" y="314.30" width="12.70" height="100.70" fill="#7f7f7f" stroke="#000" stroke-width="1.8"/><line x1="413.70" y1="415.00" x2="413.70" y2="421.00" stroke="#000" stroke-width="1.5"/><line x1="391.20" y1="394.81" x2="391.20" y2="392.65" stroke="#000" stroke-width="1.2"/><line x1="386.95" y1="392.65" x2="395.45" y2="392.65" stroke="#000" stroke-width="1.2"/><rect x="384.85" y="395.71" width="12.70" height="19.29" fill="#000" stroke="#000" stroke-width="1.8"/><line x1="413.70" y1="353.79" x2="413.70" y2="343.12" stroke="#000" stroke-width="1.2"/><line x1="409.45" y1="343.12" x2="417.95" y2="343.12" stroke="#000" stroke-width="1.2"/><rect x="407.35" y="354.69" width="12.70" height="60.31" fill="#a2a2a6" stroke="#000" stroke-width="1.8"/><line x1="436.20" y1="310.10" x2="436.20" y2="298.41" stroke="#000" stroke-width="1.2"/><line x1="431.95" y1="298.41" x2="440.45" y2="298.41" stroke="#000" stroke-width="1.2"/><rect x="429.85" y="311.00" width="12.70" height="104.00" fill="#7f7f7f" stroke="#000" stroke-width="1.8"/><text x="249.5" y="436.1" font-size="9.7" font-weight="bold" text-anchor="middle">Early apoptosis</text><text x="332.0" y="436.1" font-size="9.7" font-weight="bold" text-anchor="middle">Late apoptosis</text><text x="413.7" y="436.1" font-size="9.7" font-weight="bold" text-anchor="middle">Apoptosis</text><path d="M229.5 397.8V403.4M229.5 400.6H247.9M247.9 397.8V403.4" stroke="#222" stroke-width="1.1" fill="none"/><text x="239.0" y="392.2" font-size="10" text-anchor="middle" fill="#222">ns</text><path d="M229.5 372.2V377.8M229.5 375.0H272.4M272.4 372.2V377.8" stroke="#222" stroke-width="1.1" fill="none"/><text x="250.5" y="364.4" font-size="10" text-anchor="middle" fill="#222">ns</text><path d="M308.5 288.5V294.5M308.5 291.5H327.6M327.6 288.5V294.5" stroke="#222" stroke-width="1.2" fill="none"/><path d="M312.10 278.40 L312.69 279.59 L314.00 279.78 L313.05 280.71 L313.28 282.02 L312.10 281.40 L310.92 282.02 L311.15 280.71 L310.20 279.78 L311.51 279.59ZM315.90 278.40 L316.49 279.59 L317.80 279.78 L316.85 280.71 L317.08 282.02 L315.90 281.40 L314.72 282.02 L314.95 280.71 L314.00 279.78 L315.31 279.59ZM319.70 278.40 L320.29 279.59 L321.60 279.78 L320.65 280.71 L320.88 282.02 L319.70 281.40 L318.52 282.02 L318.75 280.71 L317.80 279.78 L319.11 279.59ZM323.50 278.40 L324.09 279.59 L325.40 279.78 L324.45 280.71 L324.68 282.02 L323.50 281.40 L322.32 282.02 L322.55 280.71 L321.60 279.78 L322.91 279.59Z" fill="#111"/><path d="M307.0 264.3V270.3M307.0 267.3H350.6M350.6 264.3V270.3" stroke="#222" stroke-width="1.2" fill="none"/><path d="M322.80 254.80 L323.39 255.99 L324.70 256.18 L323.75 257.11 L323.98 258.42 L322.80 257.80 L321.62 258.42 L321.85 257.11 L320.90 256.18 L322.21 255.99ZM326.60 254.80 L327.19 255.99 L328.50 256.18 L327.55 257.11 L327.78 258.42 L326.60 257.80 L325.42 258.42 L325.65 257.11 L324.70 256.18 L326.01 255.99ZM330.40 254.80 L330.99 255.99 L332.30 256.18 L331.35 257.11 L331.58 258.42 L330.40 257.80 L329.22 258.42 L329.45 257.11 L328.50 256.18 L329.81 255.99ZM334.20 254.80 L334.79 255.99 L336.10 256.18 L335.15 257.11 L335.38 258.42 L334.20 257.80 L333.02 258.42 L333.25 257.11 L332.30 256.18 L333.61 255.99Z" fill="#111"/><path d="M393.2 289.0V295.0M393.2 292.0H407.5M407.5 289.0V295.0" stroke="#222" stroke-width="1.2" fill="none"/><path d="M395.00 279.20 L395.59 280.39 L396.90 280.58 L395.95 281.51 L396.18 282.82 L395.00 282.20 L393.82 282.82 L394.05 281.51 L393.10 280.58 L394.41 280.39ZM398.80 279.20 L399.39 280.39 L400.70 280.58 L399.75 281.51 L399.98 282.82 L398.80 282.20 L397.62 282.82 L397.85 281.51 L396.90 280.58 L398.21 280.39ZM402.60 279.20 L403.19 280.39 L404.50 280.58 L403.55 281.51 L403.78 282.82 L402.60 282.20 L401.42 282.82 L401.65 281.51 L400.70 280.58 L402.01 280.39ZM406.40 279.20 L406.99 280.39 L408.30 280.58 L407.35 281.51 L407.58 282.82 L406.40 282.20 L405.22 282.82 L405.45 281.51 L404.50 280.58 L405.81 280.39Z" fill="#111"/><path d="M390.3 265.0V271.0M390.3 268.0H433.8M433.8 265.0V271.0" stroke="#222" stroke-width="1.2" fill="none"/><path d="M405.80 255.10 L406.39 256.29 L407.70 256.48 L406.75 257.41 L406.98 258.72 L405.80 258.10 L404.62 258.72 L404.85 257.41 L403.90 256.48 L405.21 256.29ZM409.60 255.10 L410.19 256.29 L411.50 256.48 L410.55 257.41 L410.78 258.72 L409.60 258.10 L408.42 258.72 L408.65 257.41 L407.70 256.48 L409.01 256.29ZM413.40 255.10 L413.99 256.29 L415.30 256.48 L414.35 257.41 L414.58 258.72 L413.40 258.10 L412.22 258.72 L412.45 257.41 L411.50 256.48 L412.81 256.29ZM417.20 255.10 L417.79 256.29 L419.10 256.48 L418.15 257.41 L418.38 258.72 L417.20 258.10 L416.02 258.72 L416.25 257.41 L415.30 256.48 L416.61 256.29Z" fill="#111"/><rect x="479.60" y="281.00" width="12.00" height="5.20" fill="#000" stroke="#000" stroke-width="1.5"/><text x="500.4" y="287.5" font-size="10.5" fill="#111">WT</text><rect x="479.60" y="297.40" width="12.00" height="5.20" fill="#a2a2a6" stroke="#000" stroke-width="1.5"/><text x="500.4" y="303.9" font-size="10.5" fill="#111">16P-2</text><rect x="479.60" y="313.80" width="12.00" height="5.20" fill="#7f7f7f" stroke="#000" stroke-width="1.5"/><text x="500.4" y="320.3" font-size="10.5" fill="#111">16P-11</text><text transform="translate(175.0,352.4) rotate(-90)" font-size="11" font-weight="bold" font-family="'Liberation Serif', serif" text-anchor="middle">The percentage of</text><text transform="translate(187.2,352.9) rotate(-90)" font-size="11" font-weight="bold" font-family="'Liberation Serif', serif" text-anchor="middle">apoptotic cells(%)</text><text x="8.3" y="473.4" font-size="17" font-weight="bold">C</text><line x1="47.60" y1="491.00" x2="47.60" y2="663.50" stroke="#111" stroke-width="1.5"/><line x1="42.80" y1="663.50" x2="268.50" y2="663.50" stroke="#111" stroke-width="1.5"/><line x1="41.90" y1="663.50" x2="47.60" y2="663.50" stroke="#111" stroke-width="1.3"/><text transform="translate(40.0,668.7) scale(1,1.3)" font-size="13" text-anchor="end" font-family="'Liberation Serif', serif" fill="#333">0</text><line x1="41.90" y1="629.10" x2="47.60" y2="629.10" stroke="#111" stroke-width="1.3"/><text transform="translate(40.0,634.3) scale(1,1.3)" font-size="13" text-anchor="end" font-family="'Liberation Serif', serif" fill="#333">1</text><line x1="41.90" y1="594.70" x2="47.60" y2="594.70" stroke="#111" stroke-width="1.3"/><text transform="translate(40.0,599.9) scale(1,1.3)" font-size="13" text-anchor="end" font-family="'Liberation Serif', serif" fill="#333">2</text><line x1="41.90" y1="560.30" x2="47.60" y2="560.30" stroke="#111" stroke-width="1.3"/><text transform="translate(40.0,565.5) scale(1,1.3)" font-size="13" text-anchor="end" font-family="'Liberation Serif', serif" fill="#333">3</text><line x1="41.90" y1="525.90" x2="47.60" y2="525.90" stroke="#111" stroke-width="1.3"/><text transform="translate(40.0,531.1) scale(1,1.3)" font-size="13" text-anchor="end" font-family="'Liberation Serif', serif" fill="#333">4</text><line x1="41.90" y1="491.50" x2="47.60" y2="491.50" stroke="#111" stroke-width="1.3"/><text transform="translate(40.0,496.7) scale(1,1.3)" font-size="13" text-anchor="end" font-family="'Liberation Serif', serif" fill="#333">5</text><rect x="70.70" y="630.10" width="41.50" height="33.40" fill="#000" stroke="#000" stroke-width="2.0"/><line x1="156.90" y1="608.98" x2="156.90" y2="603.30" stroke="#000" stroke-width="1.5"/><line x1="146.90" y1="603.30" x2="166.90" y2="603.30" stroke="#000" stroke-width="1.5"/><rect x="136.60" y="609.98" width="40.60" height="53.52" fill="#a2a2a6" stroke="#000" stroke-width="2.0"/><line x1="222.65" y1="555.14" x2="222.65" y2="516.96" stroke="#000" stroke-width="1.5"/><line x1="212.65" y1="516.96" x2="232.65" y2="516.96" stroke="#000" stroke-width="1.5"/><rect x="202.50" y="556.14" width="40.30" height="107.36" fill="#7f7f7f" stroke="#000" stroke-width="2.0"/><line x1="91.90" y1="663.50" x2="91.90" y2="669.80" stroke="#111" stroke-width="1.4"/><line x1="157.40" y1="663.50" x2="157.40" y2="669.80" stroke="#111" stroke-width="1.4"/><line x1="222.90" y1="663.50" x2="222.90" y2="669.80" stroke="#111" stroke-width="1.4"/><text x="88.6" y="686.9" font-size="15.2" font-weight="bold" text-anchor="middle">WT</text><text x="156.4" y="686.9" font-size="15.2" font-weight="bold" text-anchor="middle">16P-2</text><text x="223.8" y="686.9" font-size="15.2" font-weight="bold" text-anchor="middle">16P-11</text><path d="M84.0 592.3V598.7M84.0 595.5H157.7M157.7 592.3V598.7" stroke="#333" stroke-width="1.2" fill="none"/><path d="M110.70 583.16 L111.46 584.71 L113.17 584.96 L111.94 586.16 L112.23 587.86 L110.70 587.06 L109.17 587.86 L109.46 586.16 L108.23 584.96 L109.94 584.71ZM116.00 583.16 L116.76 584.71 L118.47 584.96 L117.24 586.16 L117.53 587.86 L116.00 587.06 L114.47 587.86 L114.76 586.16 L113.53 584.96 L115.24 584.71ZM121.30 583.16 L122.06 584.71 L123.77 584.96 L122.54 586.16 L122.83 587.86 L121.30 587.06 L119.77 587.86 L120.06 586.16 L118.83 584.96 L120.54 584.71ZM126.60 583.16 L127.36 584.71 L129.07 584.96 L127.84 586.16 L128.13 587.86 L126.60 587.06 L125.07 587.86 L125.36 586.16 L124.13 584.96 L125.84 584.71Z" fill="#111"/><path d="M90.3 506.8V513.2M90.3 510.0H223.4M223.4 506.8V513.2" stroke="#333" stroke-width="1.2" fill="none"/><path d="M151.00 499.25 L151.73 500.74 L153.38 500.98 L152.19 502.14 L152.47 503.77 L151.00 503.00 L149.53 503.77 L149.81 502.14 L148.62 500.98 L150.27 500.74ZM156.80 499.25 L157.53 500.74 L159.18 500.98 L157.99 502.14 L158.27 503.77 L156.80 503.00 L155.33 503.77 L155.61 502.14 L154.42 500.98 L156.07 500.74Z" fill="#111"/><text transform="translate(27.6,573.0) rotate(-90)" font-size="12" font-weight="bold" text-anchor="middle">Relative protein level of Bax</text><line x1="63.50" y1="697.50" x2="254.50" y2="697.50" stroke="#333" stroke-width="1.3"/><text x="54.2" y="727.4" font-size="15.6" font-weight="bold" text-anchor="end">Bax</text><text x="3.6" y="775.7" font-size="15" font-weight="bold">GAPDH</text><text x="261.0" y="727.0" font-size="13.3" font-weight="bold">21 kDa</text><text x="261.0" y="774.5" font-size="13.3" font-weight="bold">36 kDa</text><text x="367.4" y="473.2" font-size="17.5" font-weight="bold">D</text><line x1="417.30" y1="499.60" x2="417.30" y2="661.00" stroke="#111" stroke-width="1.5"/><line x1="411.50" y1="661.00" x2="640.00" y2="661.00" stroke="#111" stroke-width="1.5"/><line x1="411.50" y1="661.00" x2="417.30" y2="661.00" stroke="#111" stroke-width="1.3"/><text transform="translate(411.6,665.7) scale(1,1.2)" font-size="13" text-anchor="end" font-family="'Liberation Serif', serif" fill="#333">0.0</text><line x1="411.50" y1="607.50" x2="417.30" y2="607.50" stroke="#111" stroke-width="1.3"/><text transform="translate(411.6,612.2) scale(1,1.2)" font-size="13" text-anchor="end" font-family="'Liberation Serif', serif" fill="#333">0.5</text><line x1="411.50" y1="554.00" x2="417.30" y2="554.00" stroke="#111" stroke-width="1.3"/><text transform="translate(411.6,558.7) scale(1,1.2)" font-size="13" text-anchor="end" font-family="'Liberation Serif', serif" fill="#333">1.0</text><line x1="411.50" y1="500.50" x2="417.30" y2="500.50" stroke="#111" stroke-width="1.3"/><text transform="translate(411.6,505.2) scale(1,1.2)" font-size="13" text-anchor="end" font-family="'Liberation Serif', serif" fill="#333">1.5</text><rect x="440.80" y="555.00" width="42.20" height="106.00" fill="#000" stroke="#000" stroke-width="2.0"/><line x1="528.40" y1="577.54" x2="528.40" y2="568.45" stroke="#000" stroke-width="1.5"/><line x1="517.40" y1="568.45" x2="539.40" y2="568.45" stroke="#000" stroke-width="1.5"/><rect x="508.00" y="578.54" width="40.80" height="82.46" fill="#a2a2a6" stroke="#000" stroke-width="2.0"/><line x1="594.75" y1="594.02" x2="594.75" y2="574.12" stroke="#000" stroke-width="1.5"/><line x1="583.75" y1="574.12" x2="605.75" y2="574.12" stroke="#000" stroke-width="1.5"/><rect x="574.30" y="595.02" width="40.90" height="65.98" fill="#7f7f7f" stroke="#000" stroke-width="2.0"/><line x1="461.90" y1="661.00" x2="461.90" y2="668.20" stroke="#111" stroke-width="1.4"/><line x1="527.90" y1="661.00" x2="527.90" y2="668.20" stroke="#111" stroke-width="1.4"/><line x1="594.60" y1="661.00" x2="594.60" y2="668.20" stroke="#111" stroke-width="1.4"/><text x="461.9" y="685.4" font-size="15.2" font-weight="bold" text-anchor="middle">WT</text><text x="526.0" y="685.4" font-size="15.2" font-weight="bold" text-anchor="middle">16P-2</text><text x="596.5" y="685.4" font-size="15.2" font-weight="bold" text-anchor="middle">16P-11</text><path d="M457.4 543.3V549.7M457.4 546.5H533.5M533.5 543.3V549.7" stroke="#555" stroke-width="1.0" fill="none"/><path d="M502.00 536.25 L502.73 537.74 L504.38 537.98 L503.19 539.14 L503.47 540.77 L502.00 540.00 L500.53 540.77 L500.81 539.14 L499.62 537.98 L501.27 537.74Z" fill="#111"/><path d="M457.4 524.7V531.1M457.4 527.9H600.7M600.7 524.7V531.1" stroke="#555" stroke-width="1.0" fill="none"/><path d="M518.80 516.05 L519.53 517.54 L521.18 517.78 L519.99 518.94 L520.27 520.57 L518.80 519.80 L517.33 520.57 L517.61 518.94 L516.42 517.78 L518.07 517.54Z" fill="#111"/><line x1="432" y1="671.3" x2="496" y2="671.3" stroke="#e2e2e2" stroke-width="1" stroke-dasharray="3 2"/><text transform="translate(386.3,583.5) rotate(-90)" font-size="12" font-weight="bold" text-anchor="middle">Relative protein level of Bcl-2</text><text x="432.8" y="727.7" font-size="15.6" font-weight="bold" text-anchor="end">Bcl-2</text><text x="433.4" y="772.6" font-size="15.6" font-weight="bold" text-anchor="end">β-actin</text><text x="639.0" y="726.8" font-size="13.3" font-weight="bold">25 kDa</text><text x="639.0" y="772.8" font-size="13.3" font-weight="bold">43 kDa</text><rect x="61.90" y="701.00" width="192.70" height="43.30" fill="#e9e9e9" stroke="none" stroke-width="1"/><rect x="61.90" y="701.00" width="192.70" height="43.30" fill="#fff" stroke="none" stroke-width="1" filter="url(#grain)"/><path d="M82.5 722.0 L83.1 719.8 L83.7 719.5 L84.3 719.3 L85.0 719.2 L85.6 719.1 L86.2 719.0 L86.8 719.0 L87.4 719.0 L88.0 719.0 L88.6 718.9 L89.2 719.0 L89.8 719.0 L90.5 719.0 L91.1 719.0 L91.7 719.0 L92.3 719.0 L92.9 719.0 L93.5 719.1 L94.1 719.1 L94.8 719.1 L95.4 719.1 L96.0 719.1 L96.6 719.2 L97.2 719.2 L97.8 719.2 L98.4 719.2 L99.0 719.2 L99.7 719.3 L100.3 719.3 L100.9 719.3 L101.5 719.4 L102.1 719.4 L102.7 719.5 L103.3 719.5 L103.9 719.6 L104.5 719.7 L105.2 719.8 L105.8 720.0 L106.4 720.3 L107.0 721.8 L107.0 721.8 L106.4 723.3 L105.8 723.6 L105.2 723.8 L104.5 723.9 L103.9 724.0 L103.3 724.1 L102.7 724.2 L102.1 724.3 L101.5 724.3 L100.9 724.4 L100.3 724.4 L99.7 724.4 L99.0 724.5 L98.4 724.5 L97.8 724.5 L97.2 724.6 L96.6 724.6 L96.0 724.6 L95.4 724.7 L94.8 724.7 L94.1 724.7 L93.5 724.8 L92.9 724.8 L92.3 724.8 L91.7 724.8 L91.1 724.9 L90.5 724.9 L89.8 724.9 L89.2 724.9 L88.6 725.0 L88.0 725.0 L87.4 725.0 L86.8 724.9 L86.2 724.9 L85.6 724.9 L85.0 724.8 L84.3 724.7 L83.7 724.5 L83.1 724.1 L82.5 722.0ZM98.0 721.8 L98.5 720.6 L99.1 720.4 L99.6 720.3 L100.2 720.2 L100.7 720.2 L101.2 720.1 L101.8 720.1 L102.3 720.1 L102.8 720.1 L103.4 720.1 L103.9 720.1 L104.5 720.1 L105.0 720.1 L105.5 720.1 L106.1 720.1 L106.6 720.1 L107.1 720.1 L107.7 720.1 L108.2 720.1 L108.8 720.1 L109.3 720.1 L109.8 720.1 L110.4 720.1 L110.9 720.1 L111.4 720.1 L112.0 720.1 L112.5 720.1 L113.0 720.1 L113.6 720.2 L114.1 720.2 L114.7 720.2 L115.2 720.2 L115.7 720.2 L116.3 720.2 L116.8 720.3 L117.3 720.3 L117.9 720.4 L118.4 720.5 L119.0 720.6 L119.5 721.3 L119.5 721.3 L119.0 722.0 L118.4 722.2 L117.9 722.3 L117.3 722.4 L116.8 722.4 L116.3 722.5 L115.7 722.6 L115.2 722.6 L114.7 722.6 L114.1 722.7 L113.6 722.7 L113.0 722.8 L112.5 722.8 L112.0 722.8 L111.4 722.8 L110.9 722.9 L110.4 722.9 L109.8 722.9 L109.3 723.0 L108.8 723.0 L108.2 723.0 L107.7 723.1 L107.1 723.1 L106.6 723.1 L106.1 723.1 L105.5 723.2 L105.0 723.2 L104.5 723.2 L103.9 723.3 L103.4 723.3 L102.8 723.3 L102.3 723.3 L101.8 723.3 L101.2 723.3 L100.7 723.3 L100.2 723.3 L99.6 723.2 L99.1 723.1 L98.5 723.0 L98.0 721.8ZM140.5 721.2 L141.4 718.7 L142.2 718.3 L143.1 718.1 L144.0 717.9 L144.8 717.8 L145.7 717.7 L146.6 717.7 L147.5 717.6 L148.3 717.6 L149.2 717.6 L150.1 717.6 L150.9 717.6 L151.8 717.6 L152.7 717.6 L153.6 717.6 L154.4 717.6 L155.3 717.7 L156.2 717.7 L157.0 717.7 L157.9 717.7 L158.8 717.7 L159.6 717.7 L160.5 717.7 L161.4 717.8 L162.2 717.8 L163.1 717.8 L164.0 717.8 L164.9 717.8 L165.7 717.9 L166.6 717.9 L167.5 717.9 L168.3 718.0 L169.2 718.0 L170.1 718.1 L171.0 718.2 L171.8 718.3 L172.7 718.4 L173.6 718.6 L174.4 719.0 L175.3 720.8 L175.3 720.8 L174.4 722.7 L173.6 723.0 L172.7 723.2 L171.8 723.4 L171.0 723.5 L170.1 723.6 L169.2 723.7 L168.3 723.8 L167.5 723.8 L166.6 723.9 L165.7 724.0 L164.9 724.0 L164.0 724.0 L163.1 724.1 L162.2 724.1 L161.4 724.2 L160.5 724.2 L159.6 724.2 L158.8 724.3 L157.9 724.3 L157.0 724.3 L156.2 724.4 L155.3 724.4 L154.4 724.4 L153.6 724.5 L152.7 724.5 L151.8 724.5 L150.9 724.6 L150.1 724.6 L149.2 724.6 L148.3 724.6 L147.5 724.6 L146.6 724.6 L145.7 724.5 L144.8 724.5 L144.0 724.4 L143.1 724.3 L142.2 724.1 L141.4 723.7 L140.5 721.2ZM195.8 720.8 L196.8 717.3 L197.8 716.7 L198.8 716.3 L199.7 716.0 L200.7 715.8 L201.7 715.6 L202.7 715.5 L203.7 715.4 L204.7 715.3 L205.7 715.2 L206.6 715.1 L207.6 715.1 L208.6 715.0 L209.6 714.9 L210.6 714.9 L211.6 714.9 L212.5 714.8 L213.5 714.8 L214.5 714.7 L215.5 714.7 L216.5 714.6 L217.5 714.6 L218.5 714.5 L219.4 714.5 L220.4 714.5 L221.4 714.4 L222.4 714.4 L223.4 714.4 L224.4 714.3 L225.3 714.3 L226.3 714.3 L227.3 714.4 L228.3 714.4 L229.3 714.5 L230.3 714.6 L231.3 714.8 L232.2 715.0 L233.2 715.4 L234.2 716.1 L235.2 720.3 L235.2 720.3 L234.2 724.6 L233.2 725.3 L232.2 725.7 L231.3 725.9 L230.3 726.1 L229.3 726.3 L228.3 726.4 L227.3 726.4 L226.3 726.5 L225.3 726.5 L224.4 726.5 L223.4 726.5 L222.4 726.5 L221.4 726.5 L220.4 726.5 L219.4 726.5 L218.5 726.5 L217.5 726.5 L216.5 726.4 L215.5 726.4 L214.5 726.4 L213.5 726.4 L212.5 726.4 L211.6 726.3 L210.6 726.3 L209.6 726.3 L208.6 726.3 L207.6 726.2 L206.6 726.2 L205.7 726.1 L204.7 726.1 L203.7 726.0 L202.7 725.9 L201.7 725.8 L200.7 725.7 L199.7 725.5 L198.8 725.2 L197.8 724.8 L196.8 724.3 L195.8 720.8Z" fill="#000" opacity="0.28" filter="url(#halo)"/><path d="M82.5 722.0 L83.1 720.8 L83.7 720.4 L84.3 720.1 L85.0 719.9 L85.6 719.7 L86.2 719.6 L86.8 719.5 L87.4 719.4 L88.0 719.3 L88.6 719.2 L89.2 719.2 L89.8 719.1 L90.5 719.1 L91.1 719.1 L91.7 719.1 L92.3 719.1 L92.9 719.1 L93.5 719.1 L94.1 719.1 L94.8 719.1 L95.4 719.1 L96.0 719.1 L96.6 719.2 L97.2 719.2 L97.8 719.3 L98.4 719.3 L99.0 719.4 L99.7 719.4 L100.3 719.5 L100.9 719.6 L101.5 719.7 L102.1 719.7 L102.7 719.9 L103.3 720.0 L103.9 720.1 L104.5 720.3 L105.2 720.4 L105.8 720.7 L106.4 721.0 L107.0 721.8 L107.0 721.8 L106.4 722.6 L105.8 723.0 L105.2 723.2 L104.5 723.4 L103.9 723.5 L103.3 723.7 L102.7 723.8 L102.1 723.9 L101.5 724.0 L100.9 724.1 L100.3 724.2 L99.7 724.3 L99.0 724.4 L98.4 724.4 L97.8 724.5 L97.2 724.5 L96.6 724.6 L96.0 724.6 L95.4 724.7 L94.8 724.7 L94.1 724.7 L93.5 724.8 L92.9 724.8 L92.3 724.8 L91.7 724.8 L91.1 724.8 L90.5 724.8 L89.8 724.8 L89.2 724.7 L88.6 724.7 L88.0 724.6 L87.4 724.6 L86.8 724.5 L86.2 724.4 L85.6 724.2 L85.0 724.1 L84.3 723.9 L83.7 723.6 L83.1 723.2 L82.5 722.0Z" fill="#000" opacity="1.0" filter="url(#bl)"/><path d="M98.0 721.8 L98.5 721.2 L99.1 721.0 L99.6 720.8 L100.2 720.7 L100.7 720.6 L101.2 720.5 L101.8 720.4 L102.3 720.4 L102.8 720.3 L103.4 720.3 L103.9 720.2 L104.5 720.2 L105.0 720.2 L105.5 720.1 L106.1 720.1 L106.6 720.1 L107.1 720.1 L107.7 720.1 L108.2 720.1 L108.8 720.1 L109.3 720.1 L109.8 720.1 L110.4 720.1 L110.9 720.1 L111.4 720.2 L112.0 720.2 L112.5 720.2 L113.0 720.2 L113.6 720.3 L114.1 720.3 L114.7 720.4 L115.2 720.4 L115.7 720.5 L116.3 720.5 L116.8 720.6 L117.3 720.6 L117.9 720.7 L118.4 720.8 L119.0 721.0 L119.5 721.3 L119.5 721.3 L119.0 721.7 L118.4 721.8 L117.9 721.9 L117.3 722.1 L116.8 722.1 L116.3 722.2 L115.7 722.3 L115.2 722.4 L114.7 722.5 L114.1 722.5 L113.6 722.6 L113.0 722.7 L112.5 722.7 L112.0 722.8 L111.4 722.8 L110.9 722.9 L110.4 722.9 L109.8 722.9 L109.3 723.0 L108.8 723.0 L108.2 723.0 L107.7 723.1 L107.1 723.1 L106.6 723.1 L106.1 723.1 L105.5 723.1 L105.0 723.1 L104.5 723.1 L103.9 723.1 L103.4 723.1 L102.8 723.1 L102.3 723.0 L101.8 723.0 L101.2 722.9 L100.7 722.9 L100.2 722.8 L99.6 722.7 L99.1 722.5 L98.5 722.3 L98.0 721.8Z" fill="#000" opacity="0.5" filter="url(#bl)"/><path d="M140.5 721.2 L141.4 719.5 L142.2 719.0 L143.1 718.7 L144.0 718.5 L144.8 718.3 L145.7 718.1 L146.6 718.0 L147.5 717.9 L148.3 717.8 L149.2 717.8 L150.1 717.7 L150.9 717.7 L151.8 717.7 L152.7 717.7 L153.6 717.7 L154.4 717.7 L155.3 717.7 L156.2 717.7 L157.0 717.7 L157.9 717.7 L158.8 717.7 L159.6 717.7 L160.5 717.8 L161.4 717.8 L162.2 717.8 L163.1 717.8 L164.0 717.9 L164.9 717.9 L165.7 718.0 L166.6 718.1 L167.5 718.1 L168.3 718.2 L169.2 718.3 L170.1 718.4 L171.0 718.6 L171.8 718.7 L172.7 718.9 L173.6 719.2 L174.4 719.5 L175.3 720.8 L175.3 720.8 L174.4 722.1 L173.6 722.5 L172.7 722.7 L171.8 723.0 L171.0 723.1 L170.1 723.3 L169.2 723.4 L168.3 723.5 L167.5 723.7 L166.6 723.7 L165.7 723.8 L164.9 723.9 L164.0 724.0 L163.1 724.0 L162.2 724.1 L161.4 724.1 L160.5 724.2 L159.6 724.2 L158.8 724.3 L157.9 724.3 L157.0 724.3 L156.2 724.4 L155.3 724.4 L154.4 724.4 L153.6 724.4 L152.7 724.5 L151.8 724.5 L150.9 724.5 L150.1 724.4 L149.2 724.4 L148.3 724.4 L147.5 724.3 L146.6 724.2 L145.7 724.1 L144.8 724.0 L144.0 723.9 L143.1 723.6 L142.2 723.3 L141.4 722.9 L140.5 721.2Z" fill="#000" opacity="1.0" filter="url(#bl)"/><path d="M195.8 720.8 L196.8 717.3 L197.8 716.7 L198.8 716.3 L199.7 716.0 L200.7 715.8 L201.7 715.6 L202.7 715.5 L203.7 715.4 L204.7 715.3 L205.7 715.2 L206.6 715.1 L207.6 715.1 L208.6 715.0 L209.6 714.9 L210.6 714.9 L211.6 714.9 L212.5 714.8 L213.5 714.8 L214.5 714.7 L215.5 714.7 L216.5 714.6 L217.5 714.6 L218.5 714.5 L219.4 714.5 L220.4 714.5 L221.4 714.4 L222.4 714.4 L223.4 714.4 L224.4 714.3 L225.3 714.3 L226.3 714.3 L227.3 714.4 L228.3 714.4 L229.3 714.5 L230.3 714.6 L231.3 714.8 L232.2 715.0 L233.2 715.4 L234.2 716.1 L235.2 720.3 L235.2 720.3 L234.2 724.6 L233.2 725.3 L232.2 725.7 L231.3 725.9 L230.3 726.1 L229.3 726.3 L228.3 726.4 L227.3 726.4 L226.3 726.5 L225.3 726.5 L224.4 726.5 L223.4 726.5 L222.4 726.5 L221.4 726.5 L220.4 726.5 L219.4 726.5 L218.5 726.5 L217.5 726.5 L216.5 726.4 L215.5 726.4 L214.5 726.4 L213.5 726.4 L212.5 726.4 L211.6 726.3 L210.6 726.3 L209.6 726.3 L208.6 726.3 L207.6 726.2 L206.6 726.2 L205.7 726.1 L204.7 726.1 L203.7 726.0 L202.7 725.9 L201.7 725.8 L200.7 725.7 L199.7 725.5 L198.8 725.2 L197.8 724.8 L196.8 724.3 L195.8 720.8Z" fill="#000" opacity="1.0" filter="url(#bl)"/><rect x="61.90" y="701.00" width="192.70" height="43.30" fill="none" stroke="#2b2b2b" stroke-width="1.7"/><rect x="61.90" y="749.00" width="193.30" height="42.20" fill="#f4f4f4" stroke="none" stroke-width="1"/><rect x="61.90" y="749.00" width="193.30" height="42.20" fill="#fff" stroke="none" stroke-width="1" filter="url(#grain)"/><path d="M90.2 768.3 L91.2 764.0 L92.2 763.2 L93.2 762.8 L94.2 762.5 L95.2 762.3 L96.2 762.1 L97.2 762.0 L98.2 761.9 L99.2 761.8 L100.2 761.7 L101.2 761.7 L102.2 761.7 L103.2 761.6 L104.2 761.6 L105.2 761.6 L106.2 761.6 L107.2 761.6 L108.2 761.6 L109.2 761.6 L110.2 761.5 L111.2 761.5 L112.2 761.5 L113.2 761.5 L114.2 761.5 L115.2 761.5 L116.2 761.5 L117.2 761.5 L118.2 761.5 L119.2 761.6 L120.2 761.6 L121.2 761.6 L122.2 761.7 L123.2 761.8 L124.2 761.9 L125.2 762.0 L126.2 762.2 L127.2 762.5 L128.2 763.0 L129.2 763.7 L130.2 768.0 L130.2 768.0 L129.2 772.3 L128.2 773.1 L127.2 773.5 L126.2 773.8 L125.2 774.0 L124.2 774.2 L123.2 774.3 L122.2 774.4 L121.2 774.5 L120.2 774.6 L119.2 774.6 L118.2 774.6 L117.2 774.7 L116.2 774.7 L115.2 774.7 L114.2 774.7 L113.2 774.7 L112.2 774.7 L111.2 774.7 L110.2 774.8 L109.2 774.8 L108.2 774.8 L107.2 774.8 L106.2 774.8 L105.2 774.8 L104.2 774.8 L103.2 774.8 L102.2 774.8 L101.2 774.7 L100.2 774.7 L99.2 774.7 L98.2 774.6 L97.2 774.5 L96.2 774.4 L95.2 774.3 L94.2 774.1 L93.2 773.8 L92.2 773.3 L91.2 772.6 L90.2 768.3ZM142.3 767.2 L143.3 762.8 L144.3 762.0 L145.3 761.6 L146.3 761.3 L147.3 761.1 L148.3 760.9 L149.3 760.8 L150.3 760.7 L151.3 760.7 L152.2 760.6 L153.2 760.6 L154.2 760.6 L155.2 760.6 L156.2 760.6 L157.2 760.6 L158.2 760.6 L159.2 760.6 L160.2 760.6 L161.2 760.6 L162.2 760.6 L163.2 760.6 L164.2 760.6 L165.2 760.7 L166.2 760.7 L167.2 760.7 L168.2 760.7 L169.2 760.7 L170.2 760.7 L171.2 760.8 L172.2 760.8 L173.1 760.9 L174.1 761.0 L175.1 761.1 L176.1 761.2 L177.1 761.3 L178.1 761.6 L179.1 761.9 L180.1 762.3 L181.1 763.0 L182.1 767.3 L182.1 767.3 L181.1 771.6 L180.1 772.3 L179.1 772.7 L178.1 773.0 L177.1 773.2 L176.1 773.4 L175.1 773.5 L174.1 773.6 L173.1 773.7 L172.2 773.7 L171.2 773.8 L170.2 773.8 L169.2 773.8 L168.2 773.8 L167.2 773.8 L166.2 773.9 L165.2 773.9 L164.2 773.9 L163.2 773.9 L162.2 773.9 L161.2 773.9 L160.2 773.9 L159.2 773.9 L158.2 773.9 L157.2 773.9 L156.2 773.9 L155.2 773.9 L154.2 773.9 L153.2 773.8 L152.2 773.8 L151.3 773.8 L150.3 773.7 L149.3 773.6 L148.3 773.5 L147.3 773.3 L146.3 773.1 L145.3 772.8 L144.3 772.4 L143.3 771.6 L142.3 767.2ZM193.6 765.4 L194.5 761.7 L195.4 761.2 L196.4 760.9 L197.3 760.7 L198.2 760.6 L199.2 760.6 L200.1 760.5 L201.0 760.6 L201.9 760.6 L202.8 760.6 L203.8 760.7 L204.7 760.8 L205.6 760.8 L206.5 760.9 L207.5 761.0 L208.4 761.1 L209.3 761.2 L210.2 761.3 L211.2 761.4 L212.1 761.5 L213.0 761.5 L213.9 761.6 L214.9 761.7 L215.8 761.8 L216.7 761.9 L217.7 762.0 L218.6 762.1 L219.5 762.2 L220.4 762.3 L221.3 762.4 L222.3 762.5 L223.2 762.7 L224.1 762.8 L225.0 763.0 L226.0 763.2 L226.9 763.4 L227.8 763.6 L228.8 764.0 L229.7 764.5 L230.6 767.0 L230.6 767.0 L229.7 769.5 L228.8 769.9 L227.8 770.1 L226.9 770.3 L226.0 770.4 L225.0 770.5 L224.1 770.6 L223.2 770.7 L222.3 770.7 L221.3 770.8 L220.4 770.8 L219.5 770.8 L218.6 770.9 L217.7 770.9 L216.7 770.9 L215.8 770.9 L214.9 770.9 L213.9 770.9 L213.0 770.9 L212.1 771.0 L211.2 771.0 L210.2 771.0 L209.3 771.0 L208.4 771.0 L207.5 771.0 L206.5 771.0 L205.6 771.0 L204.7 771.0 L203.8 771.0 L202.8 771.0 L201.9 770.9 L201.0 770.9 L200.1 770.8 L199.2 770.7 L198.2 770.6 L197.3 770.4 L196.4 770.2 L195.4 769.8 L194.5 769.2 L193.6 765.4Z" fill="#000" opacity="0.32" filter="url(#halo)"/><path d="M90.2 768.3 L91.2 764.0 L92.2 763.2 L93.2 762.8 L94.2 762.5 L95.2 762.3 L96.2 762.1 L97.2 762.0 L98.2 761.9 L99.2 761.8 L100.2 761.7 L101.2 761.7 L102.2 761.7 L103.2 761.6 L104.2 761.6 L105.2 761.6 L106.2 761.6 L107.2 761.6 L108.2 761.6 L109.2 761.6 L110.2 761.5 L111.2 761.5 L112.2 761.5 L113.2 761.5 L114.2 761.5 L115.2 761.5 L116.2 761.5 L117.2 761.5 L118.2 761.5 L119.2 761.6 L120.2 761.6 L121.2 761.6 L122.2 761.7 L123.2 761.8 L124.2 761.9 L125.2 762.0 L126.2 762.2 L127.2 762.5 L128.2 763.0 L129.2 763.7 L130.2 768.0 L130.2 768.0 L129.2 772.3 L128.2 773.1 L127.2 773.5 L126.2 773.8 L125.2 774.0 L124.2 774.2 L123.2 774.3 L122.2 774.4 L121.2 774.5 L120.2 774.6 L119.2 774.6 L118.2 774.6 L117.2 774.7 L116.2 774.7 L115.2 774.7 L114.2 774.7 L113.2 774.7 L112.2 774.7 L111.2 774.7 L110.2 774.8 L109.2 774.8 L108.2 774.8 L107.2 774.8 L106.2 774.8 L105.2 774.8 L104.2 774.8 L103.2 774.8 L102.2 774.8 L101.2 774.7 L100.2 774.7 L99.2 774.7 L98.2 774.6 L97.2 774.5 L96.2 774.4 L95.2 774.3 L94.2 774.1 L93.2 773.8 L92.2 773.3 L91.2 772.6 L90.2 768.3Z" fill="#000" opacity="1" filter="url(#bl)"/><path d="M142.3 767.2 L143.3 762.8 L144.3 762.0 L145.3 761.6 L146.3 761.3 L147.3 761.1 L148.3 760.9 L149.3 760.8 L150.3 760.7 L151.3 760.7 L152.2 760.6 L153.2 760.6 L154.2 760.6 L155.2 760.6 L156.2 760.6 L157.2 760.6 L158.2 760.6 L159.2 760.6 L160.2 760.6 L161.2 760.6 L162.2 760.6 L163.2 760.6 L164.2 760.6 L165.2 760.7 L166.2 760.7 L167.2 760.7 L168.2 760.7 L169.2 760.7 L170.2 760.7 L171.2 760.8 L172.2 760.8 L173.1 760.9 L174.1 761.0 L175.1 761.1 L176.1 761.2 L177.1 761.3 L178.1 761.6 L179.1 761.9 L180.1 762.3 L181.1 763.0 L182.1 767.3 L182.1 767.3 L181.1 771.6 L180.1 772.3 L179.1 772.7 L178.1 773.0 L177.1 773.2 L176.1 773.4 L175.1 773.5 L174.1 773.6 L173.1 773.7 L172.2 773.7 L171.2 773.8 L170.2 773.8 L169.2 773.8 L168.2 773.8 L167.2 773.8 L166.2 773.9 L165.2 773.9 L164.2 773.9 L163.2 773.9 L162.2 773.9 L161.2 773.9 L160.2 773.9 L159.2 773.9 L158.2 773.9 L157.2 773.9 L156.2 773.9 L155.2 773.9 L154.2 773.9 L153.2 773.8 L152.2 773.8 L151.3 773.8 L150.3 773.7 L149.3 773.6 L148.3 773.5 L147.3 773.3 L146.3 773.1 L145.3 772.8 L144.3 772.4 L143.3 771.6 L142.3 767.2Z" fill="#000" opacity="1" filter="url(#bl)"/><path d="M193.6 765.4 L194.5 761.7 L195.4 761.2 L196.4 760.9 L197.3 760.7 L198.2 760.6 L199.2 760.6 L200.1 760.5 L201.0 760.6 L201.9 760.6 L202.8 760.6 L203.8 760.7 L204.7 760.8 L205.6 760.8 L206.5 760.9 L207.5 761.0 L208.4 761.1 L209.3 761.2 L210.2 761.3 L211.2 761.4 L212.1 761.5 L213.0 761.5 L213.9 761.6 L214.9 761.7 L215.8 761.8 L216.7 761.9 L217.7 762.0 L218.6 762.1 L219.5 762.2 L220.4 762.3 L221.3 762.4 L222.3 762.5 L223.2 762.7 L224.1 762.8 L225.0 763.0 L226.0 763.2 L226.9 763.4 L227.8 763.6 L228.8 764.0 L229.7 764.5 L230.6 767.0 L230.6 767.0 L229.7 769.5 L228.8 769.9 L227.8 770.1 L226.9 770.3 L226.0 770.4 L225.0 770.5 L224.1 770.6 L223.2 770.7 L222.3 770.7 L221.3 770.8 L220.4 770.8 L219.5 770.8 L218.6 770.9 L217.7 770.9 L216.7 770.9 L215.8 770.9 L214.9 770.9 L213.9 770.9 L213.0 770.9 L212.1 771.0 L211.2 771.0 L210.2 771.0 L209.3 771.0 L208.4 771.0 L207.5 771.0 L206.5 771.0 L205.6 771.0 L204.7 771.0 L203.8 771.0 L202.8 771.0 L201.9 770.9 L201.0 770.9 L200.1 770.8 L199.2 770.7 L198.2 770.6 L197.3 770.4 L196.4 770.2 L195.4 769.8 L194.5 769.2 L193.6 765.4Z" fill="#000" opacity="1" filter="url(#bl)"/><rect x="61.90" y="749.00" width="193.30" height="42.20" fill="none" stroke="#2b2b2b" stroke-width="1.7"/><rect x="437.60" y="699.00" width="192.20" height="42.00" fill="#ebebeb" stroke="none" stroke-width="1"/><rect x="437.60" y="699.00" width="192.20" height="42.00" fill="#fff" stroke="none" stroke-width="1" filter="url(#grain)"/><path d="M448.4 717.0 L449.0 714.3 L449.7 714.0 L450.3 713.8 L451.0 713.7 L451.6 713.7 L452.2 713.7 L452.9 713.7 L453.5 713.7 L454.2 713.8 L454.8 713.8 L455.4 713.9 L456.1 714.0 L456.7 714.1 L457.4 714.2 L458.0 714.3 L458.6 714.4 L459.3 714.5 L459.9 714.6 L460.6 714.7 L461.2 714.8 L461.8 714.8 L462.5 714.9 L463.1 715.0 L463.8 715.1 L464.4 715.2 L465.0 715.3 L465.7 715.4 L466.3 715.6 L467.0 715.7 L467.6 715.8 L468.2 715.9 L468.9 716.1 L469.5 716.2 L470.2 716.4 L470.8 716.6 L471.4 716.8 L472.1 717.1 L472.7 717.4 L473.4 717.9 L474.0 720.6 L474.0 720.6 L473.4 723.1 L472.7 723.4 L472.1 723.6 L471.4 723.7 L470.8 723.7 L470.2 723.7 L469.5 723.7 L468.9 723.7 L468.2 723.7 L467.6 723.6 L467.0 723.6 L466.3 723.5 L465.7 723.4 L465.0 723.3 L464.4 723.3 L463.8 723.2 L463.1 723.1 L462.5 723.0 L461.8 722.9 L461.2 722.8 L460.6 722.8 L459.9 722.7 L459.3 722.6 L458.6 722.5 L458.0 722.4 L457.4 722.3 L456.7 722.3 L456.1 722.2 L455.4 722.1 L454.8 722.0 L454.2 721.8 L453.5 721.7 L452.9 721.6 L452.2 721.4 L451.6 721.2 L451.0 721.0 L450.3 720.7 L449.7 720.4 L449.0 719.8 L448.4 717.0ZM464.0 720.0 L464.8 717.5 L465.6 717.1 L466.4 716.9 L467.1 716.8 L467.9 716.7 L468.7 716.6 L469.5 716.6 L470.3 716.6 L471.1 716.6 L471.9 716.6 L472.6 716.7 L473.4 716.7 L474.2 716.7 L475.0 716.8 L475.8 716.8 L476.6 716.9 L477.3 716.9 L478.1 717.0 L478.9 717.0 L479.7 717.1 L480.5 717.1 L481.3 717.1 L482.1 717.2 L482.8 717.2 L483.6 717.3 L484.4 717.3 L485.2 717.4 L486.0 717.5 L486.8 717.5 L487.5 717.6 L488.3 717.7 L489.1 717.8 L489.9 717.9 L490.7 718.0 L491.5 718.1 L492.3 718.3 L493.0 718.6 L493.8 718.9 L494.6 719.4 L495.4 722.2 L495.4 722.2 L494.6 724.9 L493.8 725.3 L493.0 725.5 L492.3 725.6 L491.5 725.7 L490.7 725.7 L489.9 725.8 L489.1 725.8 L488.3 725.7 L487.5 725.7 L486.8 725.7 L486.0 725.6 L485.2 725.6 L484.4 725.5 L483.6 725.5 L482.8 725.4 L482.1 725.3 L481.3 725.3 L480.5 725.2 L479.7 725.1 L478.9 725.1 L478.1 725.0 L477.3 725.0 L476.6 724.9 L475.8 724.8 L475.0 724.8 L474.2 724.7 L473.4 724.6 L472.6 724.5 L471.9 724.5 L471.1 724.4 L470.3 724.3 L469.5 724.1 L468.7 724.0 L467.9 723.9 L467.1 723.7 L466.4 723.4 L465.6 723.1 L464.8 722.6 L464.0 720.0ZM517.0 721.0 L518.0 718.3 L519.0 717.8 L520.0 717.6 L521.0 717.4 L522.0 717.3 L523.0 717.2 L524.1 717.1 L525.1 717.0 L526.1 717.0 L527.1 717.0 L528.1 717.0 L529.1 717.0 L530.1 716.9 L531.1 716.9 L532.1 716.9 L533.1 717.0 L534.1 717.0 L535.1 717.0 L536.1 717.0 L537.1 717.0 L538.2 717.0 L539.2 717.0 L540.2 717.0 L541.2 717.0 L542.2 717.0 L543.2 717.0 L544.2 717.0 L545.2 717.1 L546.2 717.1 L547.2 717.1 L548.2 717.1 L549.2 717.2 L550.2 717.2 L551.3 717.3 L552.3 717.4 L553.3 717.6 L554.3 717.7 L555.3 718.0 L556.3 718.4 L557.3 721.0 L557.3 721.0 L556.3 723.6 L555.3 724.0 L554.3 724.3 L553.3 724.4 L552.3 724.6 L551.3 724.7 L550.2 724.8 L549.2 724.8 L548.2 724.9 L547.2 724.9 L546.2 724.9 L545.2 724.9 L544.2 725.0 L543.2 725.0 L542.2 725.0 L541.2 725.0 L540.2 725.0 L539.2 725.0 L538.2 725.0 L537.1 725.0 L536.1 725.0 L535.1 725.0 L534.1 725.0 L533.1 725.0 L532.1 725.1 L531.1 725.1 L530.1 725.1 L529.1 725.0 L528.1 725.0 L527.1 725.0 L526.1 725.0 L525.1 725.0 L524.1 724.9 L523.0 724.8 L522.0 724.7 L521.0 724.6 L520.0 724.4 L519.0 724.2 L518.0 723.7 L517.0 721.0ZM582.0 722.3 L582.6 720.1 L583.1 719.7 L583.7 719.5 L584.3 719.4 L584.9 719.3 L585.5 719.3 L586.0 719.2 L586.6 719.2 L587.2 719.2 L587.8 719.2 L588.3 719.2 L588.9 719.3 L589.5 719.3 L590.0 719.3 L590.6 719.3 L591.2 719.3 L591.8 719.4 L592.4 719.4 L592.9 719.4 L593.5 719.5 L594.1 719.5 L594.6 719.5 L595.2 719.5 L595.8 719.6 L596.4 719.6 L597.0 719.6 L597.5 719.7 L598.1 719.7 L598.7 719.7 L599.2 719.8 L599.8 719.8 L600.4 719.9 L601.0 719.9 L601.5 720.0 L602.1 720.1 L602.7 720.2 L603.3 720.4 L603.9 720.6 L604.4 720.9 L605.0 722.6 L605.0 722.6 L604.4 724.3 L603.9 724.6 L603.3 724.8 L602.7 724.9 L602.1 725.0 L601.5 725.1 L601.0 725.2 L600.4 725.2 L599.8 725.2 L599.2 725.3 L598.7 725.3 L598.1 725.3 L597.5 725.4 L597.0 725.4 L596.4 725.4 L595.8 725.4 L595.2 725.4 L594.6 725.4 L594.1 725.4 L593.5 725.5 L592.9 725.5 L592.4 725.5 L591.8 725.5 L591.2 725.5 L590.6 725.5 L590.0 725.5 L589.5 725.5 L588.9 725.5 L588.3 725.5 L587.8 725.5 L587.2 725.5 L586.6 725.5 L586.0 725.5 L585.5 725.4 L584.9 725.3 L584.3 725.2 L583.7 725.1 L583.1 724.9 L582.6 724.5 L582.0 722.3ZM597.0 722.3 L597.6 721.2 L598.1 721.0 L598.7 720.9 L599.3 720.8 L599.9 720.8 L600.5 720.7 L601.0 720.7 L601.6 720.7 L602.2 720.7 L602.8 720.7 L603.3 720.7 L603.9 720.7 L604.5 720.7 L605.0 720.7 L605.6 720.7 L606.2 720.7 L606.8 720.7 L607.4 720.7 L607.9 720.7 L608.5 720.7 L609.1 720.7 L609.6 720.7 L610.2 720.7 L610.8 720.7 L611.4 720.7 L612.0 720.7 L612.5 720.7 L613.1 720.7 L613.7 720.8 L614.2 720.8 L614.8 720.8 L615.4 720.8 L616.0 720.8 L616.5 720.8 L617.1 720.9 L617.7 720.9 L618.3 721.0 L618.9 721.0 L619.4 721.1 L620.0 721.8 L620.0 721.8 L619.4 722.5 L618.9 722.6 L618.3 722.7 L617.7 722.8 L617.1 722.9 L616.5 722.9 L616.0 723.0 L615.4 723.0 L614.8 723.0 L614.2 723.1 L613.7 723.1 L613.1 723.2 L612.5 723.2 L612.0 723.2 L611.4 723.2 L610.8 723.3 L610.2 723.3 L609.6 723.3 L609.1 723.4 L608.5 723.4 L607.9 723.4 L607.4 723.5 L606.8 723.5 L606.2 723.5 L605.6 723.5 L605.0 723.6 L604.5 723.6 L603.9 723.6 L603.3 723.7 L602.8 723.7 L602.2 723.7 L601.6 723.7 L601.0 723.7 L600.5 723.7 L599.9 723.7 L599.3 723.7 L598.7 723.6 L598.1 723.6 L597.6 723.4 L597.0 722.3Z" fill="#000" opacity="0.28" filter="url(#halo)"/><path d="M448.4 717.0 L449.0 714.9 L449.7 714.5 L450.3 714.2 L451.0 714.1 L451.6 714.0 L452.2 713.9 L452.9 713.9 L453.5 713.9 L454.2 713.9 L454.8 714.0 L455.4 714.0 L456.1 714.1 L456.7 714.1 L457.4 714.2 L458.0 714.3 L458.6 714.4 L459.3 714.5 L459.9 714.6 L460.6 714.7 L461.2 714.8 L461.8 714.8 L462.5 714.9 L463.1 715.0 L463.8 715.2 L464.4 715.3 L465.0 715.4 L465.7 715.5 L466.3 715.6 L467.0 715.8 L467.6 715.9 L468.2 716.1 L468.9 716.2 L469.5 716.4 L470.2 716.6 L470.8 716.9 L471.4 717.1 L472.1 717.5 L472.7 717.9 L473.4 718.5 L474.0 720.6 L474.0 720.6 L473.4 722.6 L472.7 723.0 L472.1 723.2 L471.4 723.3 L470.8 723.4 L470.2 723.5 L469.5 723.5 L468.9 723.5 L468.2 723.5 L467.6 723.5 L467.0 723.5 L466.3 723.4 L465.7 723.4 L465.0 723.3 L464.4 723.2 L463.8 723.2 L463.1 723.1 L462.5 723.0 L461.8 722.9 L461.2 722.8 L460.6 722.8 L459.9 722.7 L459.3 722.6 L458.6 722.5 L458.0 722.4 L457.4 722.3 L456.7 722.2 L456.1 722.1 L455.4 722.0 L454.8 721.8 L454.2 721.7 L453.5 721.5 L452.9 721.4 L452.2 721.2 L451.6 720.9 L451.0 720.6 L450.3 720.3 L449.7 719.9 L449.0 719.3 L448.4 717.0Z" fill="#000" opacity="1" filter="url(#bl)"/><path d="M464.0 720.0 L464.8 718.0 L465.6 717.6 L466.4 717.3 L467.1 717.1 L467.9 717.0 L468.7 716.9 L469.5 716.8 L470.3 716.8 L471.1 716.8 L471.9 716.7 L472.6 716.7 L473.4 716.8 L474.2 716.8 L475.0 716.8 L475.8 716.8 L476.6 716.9 L477.3 716.9 L478.1 717.0 L478.9 717.0 L479.7 717.1 L480.5 717.1 L481.3 717.1 L482.1 717.2 L482.8 717.3 L483.6 717.3 L484.4 717.4 L485.2 717.4 L486.0 717.5 L486.8 717.6 L487.5 717.7 L488.3 717.8 L489.1 717.9 L489.9 718.1 L490.7 718.3 L491.5 718.5 L492.3 718.7 L493.0 719.0 L493.8 719.4 L494.6 720.0 L495.4 722.2 L495.4 722.2 L494.6 724.3 L493.8 724.8 L493.0 725.1 L492.3 725.3 L491.5 725.4 L490.7 725.5 L489.9 725.5 L489.1 725.6 L488.3 725.6 L487.5 725.6 L486.8 725.6 L486.0 725.6 L485.2 725.5 L484.4 725.5 L483.6 725.4 L482.8 725.4 L482.1 725.3 L481.3 725.3 L480.5 725.2 L479.7 725.1 L478.9 725.1 L478.1 725.0 L477.3 725.0 L476.6 724.9 L475.8 724.8 L475.0 724.7 L474.2 724.7 L473.4 724.6 L472.6 724.5 L471.9 724.4 L471.1 724.2 L470.3 724.1 L469.5 723.9 L468.7 723.8 L467.9 723.6 L467.1 723.3 L466.4 723.0 L465.6 722.6 L464.8 722.1 L464.0 720.0Z" fill="#000" opacity="1" filter="url(#bl)"/><path d="M517.0 721.0 L518.0 718.3 L519.0 717.8 L520.0 717.6 L521.0 717.4 L522.0 717.3 L523.0 717.2 L524.1 717.1 L525.1 717.0 L526.1 717.0 L527.1 717.0 L528.1 717.0 L529.1 717.0 L530.1 716.9 L531.1 716.9 L532.1 716.9 L533.1 717.0 L534.1 717.0 L535.1 717.0 L536.1 717.0 L537.1 717.0 L538.2 717.0 L539.2 717.0 L540.2 717.0 L541.2 717.0 L542.2 717.0 L543.2 717.0 L544.2 717.0 L545.2 717.1 L546.2 717.1 L547.2 717.1 L548.2 717.1 L549.2 717.2 L550.2 717.2 L551.3 717.3 L552.3 717.4 L553.3 717.6 L554.3 717.7 L555.3 718.0 L556.3 718.4 L557.3 721.0 L557.3 721.0 L556.3 723.6 L555.3 724.0 L554.3 724.3 L553.3 724.4 L552.3 724.6 L551.3 724.7 L550.2 724.8 L549.2 724.8 L548.2 724.9 L547.2 724.9 L546.2 724.9 L545.2 724.9 L544.2 725.0 L543.2 725.0 L542.2 725.0 L541.2 725.0 L540.2 725.0 L539.2 725.0 L538.2 725.0 L537.1 725.0 L536.1 725.0 L535.1 725.0 L534.1 725.0 L533.1 725.0 L532.1 725.1 L531.1 725.1 L530.1 725.1 L529.1 725.0 L528.1 725.0 L527.1 725.0 L526.1 725.0 L525.1 725.0 L524.1 724.9 L523.0 724.8 L522.0 724.7 L521.0 724.6 L520.0 724.4 L519.0 724.2 L518.0 723.7 L517.0 721.0Z" fill="#000" opacity="1" filter="url(#bl)"/><path d="M582.0 722.3 L582.6 720.9 L583.1 720.5 L583.7 720.2 L584.3 720.0 L584.9 719.9 L585.5 719.7 L586.0 719.6 L586.6 719.6 L587.2 719.5 L587.8 719.4 L588.3 719.4 L588.9 719.4 L589.5 719.4 L590.0 719.4 L590.6 719.4 L591.2 719.4 L591.8 719.4 L592.4 719.4 L592.9 719.4 L593.5 719.5 L594.1 719.5 L594.6 719.5 L595.2 719.5 L595.8 719.6 L596.4 719.6 L597.0 719.7 L597.5 719.7 L598.1 719.8 L598.7 719.9 L599.2 720.0 L599.8 720.1 L600.4 720.2 L601.0 720.3 L601.5 720.4 L602.1 720.5 L602.7 720.7 L603.3 720.9 L603.9 721.2 L604.4 721.5 L605.0 722.6 L605.0 722.6 L604.4 723.7 L603.9 724.0 L603.3 724.2 L602.7 724.4 L602.1 724.6 L601.5 724.7 L601.0 724.8 L600.4 724.9 L599.8 725.0 L599.2 725.1 L598.7 725.2 L598.1 725.2 L597.5 725.3 L597.0 725.3 L596.4 725.3 L595.8 725.4 L595.2 725.4 L594.6 725.4 L594.1 725.4 L593.5 725.5 L592.9 725.5 L592.4 725.5 L591.8 725.5 L591.2 725.5 L590.6 725.5 L590.0 725.5 L589.5 725.4 L588.9 725.4 L588.3 725.4 L587.8 725.3 L587.2 725.2 L586.6 725.2 L586.0 725.1 L585.5 724.9 L584.9 724.8 L584.3 724.6 L583.7 724.4 L583.1 724.1 L582.6 723.7 L582.0 722.3Z" fill="#000" opacity="1" filter="url(#bl)"/><path d="M597.0 722.3 L597.6 721.8 L598.1 721.5 L598.7 721.4 L599.3 721.3 L599.9 721.2 L600.5 721.1 L601.0 721.0 L601.6 721.0 L602.2 720.9 L602.8 720.9 L603.3 720.8 L603.9 720.8 L604.5 720.8 L605.0 720.7 L605.6 720.7 L606.2 720.7 L606.8 720.7 L607.4 720.7 L607.9 720.7 L608.5 720.7 L609.1 720.7 L609.6 720.7 L610.2 720.7 L610.8 720.7 L611.4 720.8 L612.0 720.8 L612.5 720.8 L613.1 720.8 L613.7 720.9 L614.2 720.9 L614.8 720.9 L615.4 721.0 L616.0 721.0 L616.5 721.1 L617.1 721.1 L617.7 721.2 L618.3 721.3 L618.9 721.4 L619.4 721.5 L620.0 721.8 L620.0 721.8 L619.4 722.1 L618.9 722.3 L618.3 722.4 L617.7 722.5 L617.1 722.6 L616.5 722.7 L616.0 722.7 L615.4 722.8 L614.8 722.9 L614.2 722.9 L613.7 723.0 L613.1 723.1 L612.5 723.1 L612.0 723.2 L611.4 723.2 L610.8 723.3 L610.2 723.3 L609.6 723.3 L609.1 723.4 L608.5 723.4 L607.9 723.4 L607.4 723.5 L606.8 723.5 L606.2 723.5 L605.6 723.5 L605.0 723.5 L604.5 723.5 L603.9 723.5 L603.3 723.5 L602.8 723.5 L602.2 723.5 L601.6 723.4 L601.0 723.4 L600.5 723.4 L599.9 723.3 L599.3 723.2 L598.7 723.1 L598.1 723.0 L597.6 722.8 L597.0 722.3Z" fill="#000" opacity="0.4" filter="url(#bl)"/><rect x="437.60" y="699.00" width="192.20" height="42.00" fill="none" stroke="#2b2b2b" stroke-width="1.7"/><rect x="436.50" y="748.50" width="193.30" height="39.10" fill="#ededed" stroke="none" stroke-width="1"/><rect x="436.50" y="748.50" width="193.30" height="39.10" fill="#fff" stroke="none" stroke-width="1" filter="url(#grain)"/><path d="M444.0 766.5 L445.3 762.9 L446.5 762.3 L447.8 761.9 L449.1 761.7 L450.3 761.5 L451.6 761.4 L452.9 761.3 L454.1 761.2 L455.4 761.2 L456.6 761.1 L457.9 761.1 L459.2 761.1 L460.4 761.1 L461.7 761.1 L463.0 761.1 L464.2 761.1 L465.5 761.1 L466.8 761.1 L468.0 761.1 L469.3 761.1 L470.6 761.1 L471.8 761.1 L473.1 761.1 L474.4 761.1 L475.6 761.1 L476.9 761.1 L478.2 761.2 L479.4 761.2 L480.7 761.2 L482.0 761.2 L483.2 761.3 L484.5 761.3 L485.7 761.4 L487.0 761.5 L488.3 761.7 L489.5 761.9 L490.8 762.1 L492.1 762.5 L493.3 763.1 L494.6 766.7 L494.6 766.7 L493.3 770.3 L492.1 770.9 L490.8 771.3 L489.5 771.5 L488.3 771.7 L487.0 771.8 L485.7 771.9 L484.5 772.0 L483.2 772.0 L482.0 772.1 L480.7 772.1 L479.4 772.1 L478.2 772.1 L476.9 772.1 L475.6 772.1 L474.4 772.1 L473.1 772.1 L471.8 772.1 L470.6 772.1 L469.3 772.1 L468.0 772.1 L466.8 772.1 L465.5 772.1 L464.2 772.1 L463.0 772.1 L461.7 772.1 L460.4 772.0 L459.2 772.0 L457.9 772.0 L456.6 772.0 L455.4 771.9 L454.1 771.9 L452.9 771.8 L451.6 771.7 L450.3 771.5 L449.1 771.3 L447.8 771.1 L446.5 770.7 L445.3 770.1 L444.0 766.5ZM506.8 766.2 L508.0 762.1 L509.2 761.4 L510.4 761.1 L511.6 760.8 L512.8 760.6 L514.0 760.5 L515.2 760.4 L516.4 760.3 L517.6 760.3 L518.9 760.2 L520.1 760.2 L521.3 760.2 L522.5 760.2 L523.7 760.2 L524.9 760.2 L526.1 760.3 L527.3 760.3 L528.5 760.3 L529.7 760.3 L530.9 760.3 L532.1 760.3 L533.3 760.4 L534.5 760.4 L535.7 760.4 L536.9 760.4 L538.1 760.4 L539.3 760.5 L540.5 760.5 L541.7 760.6 L543.0 760.6 L544.2 760.7 L545.4 760.8 L546.6 760.9 L547.8 761.0 L549.0 761.2 L550.2 761.4 L551.4 761.7 L552.6 762.1 L553.8 762.7 L555.0 766.7 L555.0 766.7 L553.8 770.6 L552.6 771.3 L551.4 771.7 L550.2 771.9 L549.0 772.1 L547.8 772.3 L546.6 772.4 L545.4 772.4 L544.2 772.5 L543.0 772.5 L541.7 772.6 L540.5 772.6 L539.3 772.6 L538.1 772.6 L536.9 772.6 L535.7 772.6 L534.5 772.6 L533.3 772.6 L532.1 772.6 L530.9 772.6 L529.7 772.6 L528.5 772.6 L527.3 772.6 L526.1 772.5 L524.9 772.5 L523.7 772.5 L522.5 772.5 L521.3 772.5 L520.1 772.5 L518.9 772.4 L517.6 772.4 L516.4 772.3 L515.2 772.2 L514.0 772.1 L512.8 771.9 L511.6 771.7 L510.4 771.4 L509.2 771.0 L508.0 770.3 L506.8 766.2ZM568.6 764.0 L569.9 760.7 L571.2 760.2 L572.5 759.9 L573.8 759.8 L575.1 759.7 L576.3 759.7 L577.6 759.7 L578.9 759.7 L580.2 759.8 L581.5 759.8 L582.8 759.9 L584.1 760.0 L585.4 760.1 L586.7 760.2 L588.0 760.3 L589.2 760.4 L590.5 760.5 L591.8 760.6 L593.1 760.7 L594.4 760.8 L595.7 760.9 L597.0 761.0 L598.3 761.1 L599.6 761.2 L600.9 761.3 L602.1 761.4 L603.4 761.5 L604.7 761.6 L606.0 761.7 L607.3 761.8 L608.6 762.0 L609.9 762.1 L611.2 762.3 L612.5 762.5 L613.8 762.8 L615.0 763.1 L616.3 763.4 L617.6 763.9 L618.9 764.6 L620.2 768.5 L620.2 768.5 L618.9 772.2 L617.6 772.7 L616.3 772.9 L615.0 773.0 L613.8 773.1 L612.5 773.1 L611.2 773.1 L609.9 773.1 L608.6 773.0 L607.3 772.9 L606.0 772.8 L604.7 772.7 L603.4 772.6 L602.1 772.5 L600.9 772.4 L599.6 772.2 L598.3 772.1 L597.0 772.0 L595.7 771.9 L594.4 771.8 L593.1 771.6 L591.8 771.5 L590.5 771.4 L589.2 771.2 L588.0 771.1 L586.7 771.0 L585.4 770.9 L584.1 770.7 L582.8 770.6 L581.5 770.4 L580.2 770.2 L578.9 770.1 L577.6 769.9 L576.3 769.6 L575.1 769.4 L573.8 769.1 L572.5 768.7 L571.2 768.3 L569.9 767.6 L568.6 764.0Z" fill="#000" opacity="0.32" filter="url(#halo)"/><path d="M444.0 766.5 L445.3 762.9 L446.5 762.3 L447.8 761.9 L449.1 761.7 L450.3 761.5 L451.6 761.4 L452.9 761.3 L454.1 761.2 L455.4 761.2 L456.6 761.1 L457.9 761.1 L459.2 761.1 L460.4 761.1 L461.7 761.1 L463.0 761.1 L464.2 761.1 L465.5 761.1 L466.8 761.1 L468.0 761.1 L469.3 761.1 L470.6 761.1 L471.8 761.1 L473.1 761.1 L474.4 761.1 L475.6 761.1 L476.9 761.1 L478.2 761.2 L479.4 761.2 L480.7 761.2 L482.0 761.2 L483.2 761.3 L484.5 761.3 L485.7 761.4 L487.0 761.5 L488.3 761.7 L489.5 761.9 L490.8 762.1 L492.1 762.5 L493.3 763.1 L494.6 766.7 L494.6 766.7 L493.3 770.3 L492.1 770.9 L490.8 771.3 L489.5 771.5 L488.3 771.7 L487.0 771.8 L485.7 771.9 L484.5 772.0 L483.2 772.0 L482.0 772.1 L480.7 772.1 L479.4 772.1 L478.2 772.1 L476.9 772.1 L475.6 772.1 L474.4 772.1 L473.1 772.1 L471.8 772.1 L470.6 772.1 L469.3 772.1 L468.0 772.1 L466.8 772.1 L465.5 772.1 L464.2 772.1 L463.0 772.1 L461.7 772.1 L460.4 772.0 L459.2 772.0 L457.9 772.0 L456.6 772.0 L455.4 771.9 L454.1 771.9 L452.9 771.8 L451.6 771.7 L450.3 771.5 L449.1 771.3 L447.8 771.1 L446.5 770.7 L445.3 770.1 L444.0 766.5Z" fill="#000" opacity="1" filter="url(#bl)"/><path d="M506.8 766.2 L508.0 762.1 L509.2 761.4 L510.4 761.1 L511.6 760.8 L512.8 760.6 L514.0 760.5 L515.2 760.4 L516.4 760.3 L517.6 760.3 L518.9 760.2 L520.1 760.2 L521.3 760.2 L522.5 760.2 L523.7 760.2 L524.9 760.2 L526.1 760.3 L527.3 760.3 L528.5 760.3 L529.7 760.3 L530.9 760.3 L532.1 760.3 L533.3 760.4 L534.5 760.4 L535.7 760.4 L536.9 760.4 L538.1 760.4 L539.3 760.5 L540.5 760.5 L541.7 760.6 L543.0 760.6 L544.2 760.7 L545.4 760.8 L546.6 760.9 L547.8 761.0 L549.0 761.2 L550.2 761.4 L551.4 761.7 L552.6 762.1 L553.8 762.7 L555.0 766.7 L555.0 766.7 L553.8 770.6 L552.6 771.3 L551.4 771.7 L550.2 771.9 L549.0 772.1 L547.8 772.3 L546.6 772.4 L545.4 772.4 L544.2 772.5 L543.0 772.5 L541.7 772.6 L540.5 772.6 L539.3 772.6 L538.1 772.6 L536.9 772.6 L535.7 772.6 L534.5 772.6 L533.3 772.6 L532.1 772.6 L530.9 772.6 L529.7 772.6 L528.5 772.6 L527.3 772.6 L526.1 772.5 L524.9 772.5 L523.7 772.5 L522.5 772.5 L521.3 772.5 L520.1 772.5 L518.9 772.4 L517.6 772.4 L516.4 772.3 L515.2 772.2 L514.0 772.1 L512.8 771.9 L511.6 771.7 L510.4 771.4 L509.2 771.0 L508.0 770.3 L506.8 766.2Z" fill="#000" opacity="1" filter="url(#bl)"/><path d="M568.6 764.0 L569.9 760.7 L571.2 760.2 L572.5 759.9 L573.8 759.8 L575.1 759.7 L576.3 759.7 L577.6 759.7 L578.9 759.7 L580.2 759.8 L581.5 759.8 L582.8 759.9 L584.1 760.0 L585.4 760.1 L586.7 760.2 L588.0 760.3 L589.2 760.4 L590.5 760.5 L591.8 760.6 L593.1 760.7 L594.4 760.8 L595.7 760.9 L597.0 761.0 L598.3 761.1 L599.6 761.2 L600.9 761.3 L602.1 761.4 L603.4 761.5 L604.7 761.6 L606.0 761.7 L607.3 761.8 L608.6 762.0 L609.9 762.1 L611.2 762.3 L612.5 762.5 L613.8 762.8 L615.0 763.1 L616.3 763.4 L617.6 763.9 L618.9 764.6 L620.2 768.5 L620.2 768.5 L618.9 772.2 L617.6 772.7 L616.3 772.9 L615.0 773.0 L613.8 773.1 L612.5 773.1 L611.2 773.1 L609.9 773.1 L608.6 773.0 L607.3 772.9 L606.0 772.8 L604.7 772.7 L603.4 772.6 L602.1 772.5 L600.9 772.4 L599.6 772.2 L598.3 772.1 L597.0 772.0 L595.7 771.9 L594.4 771.8 L593.1 771.6 L591.8 771.5 L590.5 771.4 L589.2 771.2 L588.0 771.1 L586.7 771.0 L585.4 770.9 L584.1 770.7 L582.8 770.6 L581.5 770.4 L580.2 770.2 L578.9 770.1 L577.6 769.9 L576.3 769.6 L575.1 769.4 L573.8 769.1 L572.5 768.7 L571.2 768.3 L569.9 767.6 L568.6 764.0Z" fill="#000" opacity="1" filter="url(#bl)"/><rect x="436.50" y="748.50" width="193.30" height="39.10" fill="none" stroke="#2b2b2b" stroke-width="1.7"/>
</svg>
</body></html>
